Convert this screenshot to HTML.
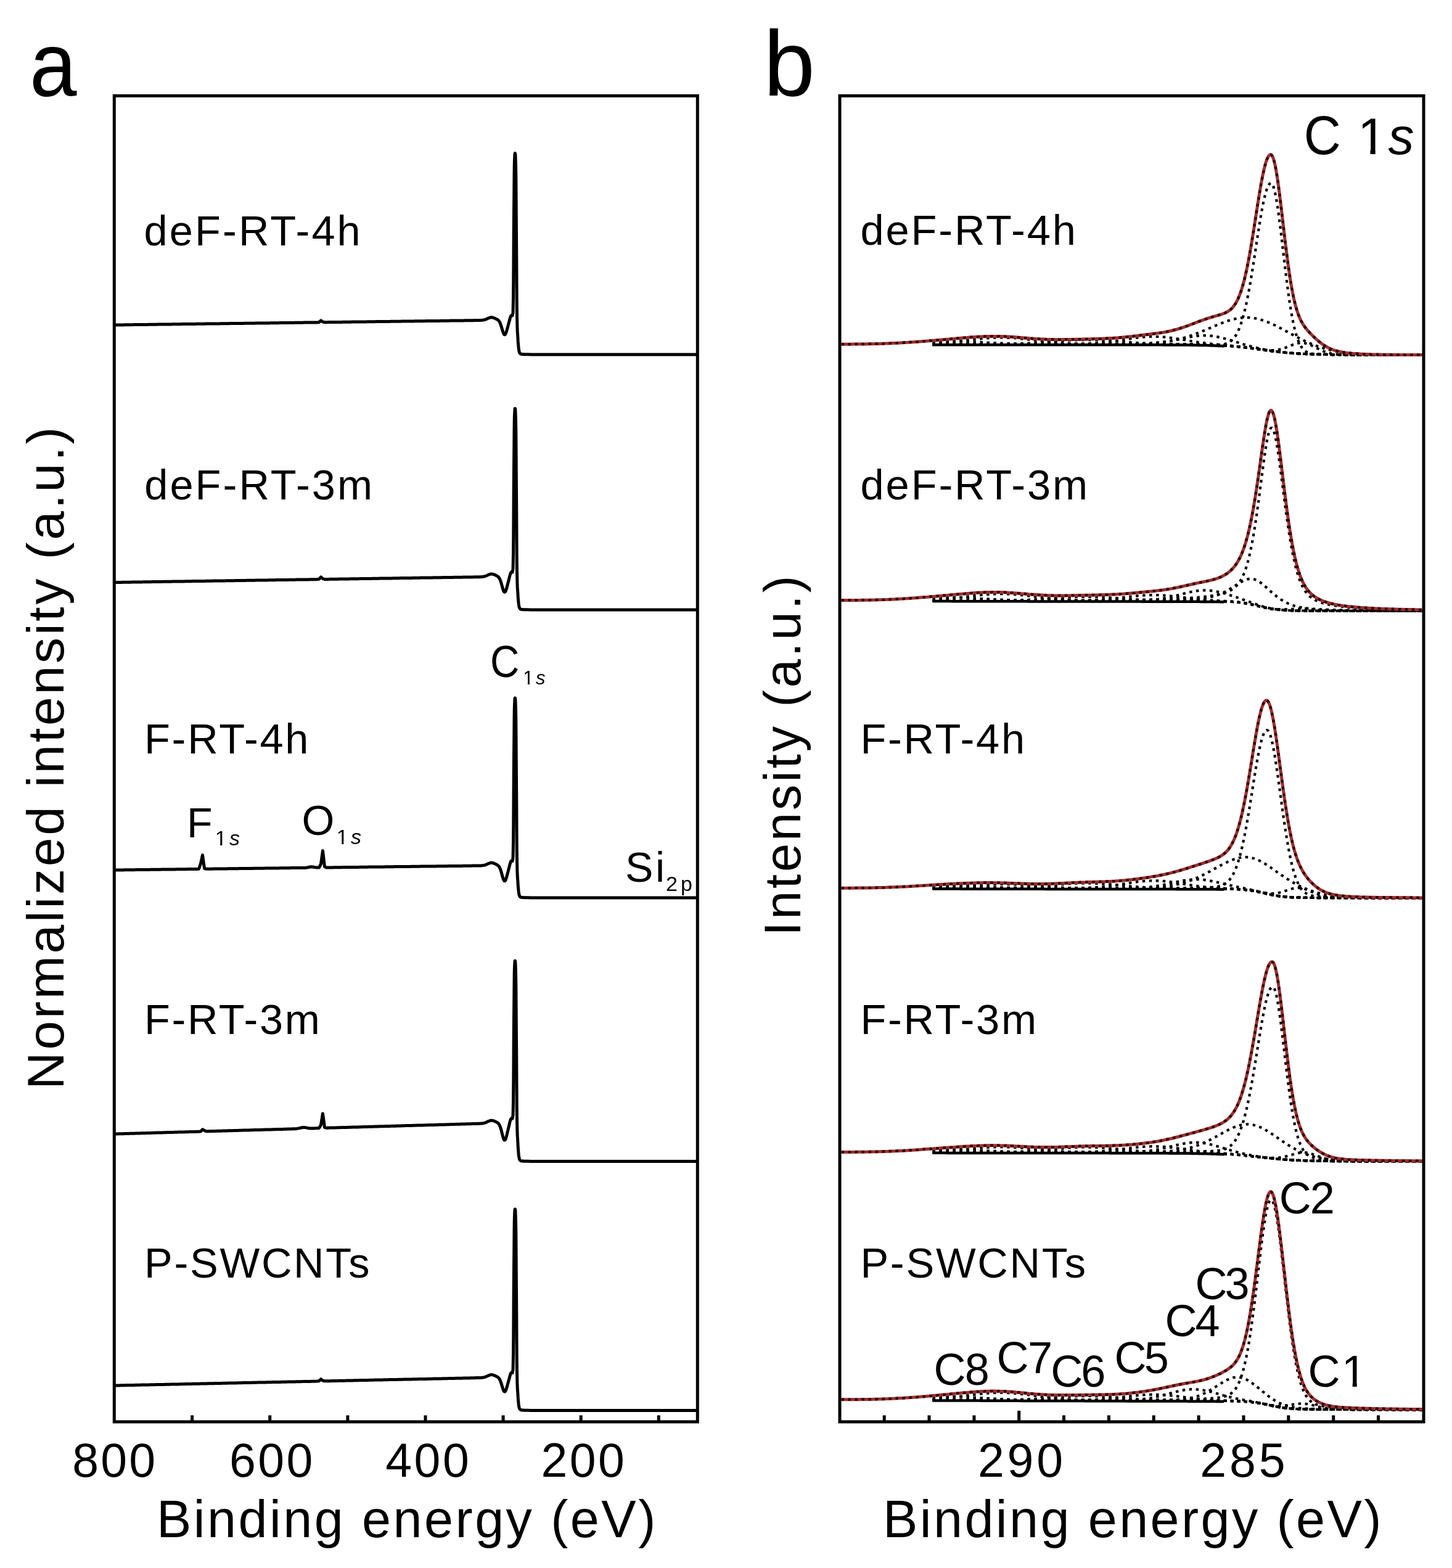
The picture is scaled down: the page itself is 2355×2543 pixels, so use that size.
<!DOCTYPE html>
<html><head><meta charset="utf-8"><title>XPS spectra</title><style>html,body{margin:0;padding:0;background:#fff;overflow:hidden}svg{display:block}</style></head><body>
<svg width="2355" height="2543" viewBox="0 0 2355 2543">
<rect width="2355" height="2543" fill="#fff"/>
<rect x="185.3" y="155.4" width="946" height="2150.5" fill="none" stroke="#000" stroke-width="5"/>
<rect x="1362" y="155.4" width="947" height="2150.5" fill="none" stroke="#000" stroke-width="5"/>
<g stroke="#000" stroke-width="5">
<line x1="311.6" y1="2305.9" x2="311.6" y2="2295.4"/>
<line x1="437.7" y1="2305.9" x2="437.7" y2="2295.4"/>
<line x1="563.9" y1="2305.9" x2="563.9" y2="2295.4"/>
<line x1="690" y1="2305.9" x2="690" y2="2295.4"/>
<line x1="816.1" y1="2305.9" x2="816.1" y2="2295.4"/>
<line x1="942.2" y1="2305.9" x2="942.2" y2="2295.4"/>
<line x1="1068.3" y1="2305.9" x2="1068.3" y2="2295.4"/>
<line x1="1434.2" y1="2305.9" x2="1434.2" y2="2295.4"/>
<line x1="1507" y1="2305.9" x2="1507" y2="2295.4"/>
<line x1="1579.9" y1="2305.9" x2="1579.9" y2="2295.4"/>
<line x1="1652.7" y1="2305.9" x2="1652.7" y2="2287.9"/>
<line x1="1725.5" y1="2305.9" x2="1725.5" y2="2295.4"/>
<line x1="1798.4" y1="2305.9" x2="1798.4" y2="2295.4"/>
<line x1="1871.2" y1="2305.9" x2="1871.2" y2="2295.4"/>
<line x1="1944.1" y1="2305.9" x2="1944.1" y2="2295.4"/>
<line x1="2017" y1="2305.9" x2="2017" y2="2295.4"/>
<line x1="2089.8" y1="2305.9" x2="2089.8" y2="2295.4"/>
<line x1="2162.7" y1="2305.9" x2="2162.7" y2="2295.4"/>
<line x1="2235.5" y1="2305.9" x2="2235.5" y2="2295.4"/>
</g>
<g fill="none" stroke="#000" stroke-width="5" stroke-linejoin="round" stroke-linecap="round">
<polyline points="187.5,527 190.5,527 193.5,526.9 196.5,526.9 199.5,526.9 202.5,526.8 205.5,526.8 208.5,526.7 211.5,526.7 214.5,526.7 217.5,526.6 220.5,526.6 223.5,526.6 226.5,526.5 229.5,526.5 232.5,526.4 235.5,526.4 238.5,526.4 241.5,526.3 244.5,526.3 247.5,526.2 250.5,526.2 253.5,526.2 256.5,526.1 259.5,526.1 262.5,526.1 265.5,526 268.5,526 271.5,525.9 274.5,525.9 277.5,525.9 280.5,525.8 283.5,525.8 286.5,525.8 289.5,525.7 292.5,525.7 295.5,525.6 298.5,525.6 301.5,525.6 304.5,525.5 307.5,525.5 310.5,525.4 313.5,525.4 316.5,525.4 319.5,525.3 322.5,525.3 325.5,525.3 328.5,525.2 331.5,525.2 334.5,525.1 337.5,525.1 340.5,525.1 343.5,525 346.5,525 349.5,525 352.5,524.9 355.5,524.9 358.5,524.8 361.5,524.8 364.5,524.8 367.5,524.7 370.5,524.7 373.5,524.6 376.5,524.6 379.5,524.6 382.5,524.5 385.5,524.5 388.5,524.5 391.5,524.4 394.5,524.4 397.5,524.3 400.5,524.3 403.5,524.3 406.5,524.2 409.5,524.2 412.5,524.2 415.5,524.1 418.5,524.1 421.5,524 424.5,524 427.5,524 430.5,523.9 433.5,523.9 436.5,523.9 439.5,523.8 442.5,523.8 445.5,523.7 448.5,523.7 451.5,523.7 454.5,523.6 457.5,523.6 460.5,523.5 463.5,523.5 466.5,523.5 469.5,523.4 472.5,523.4 475.5,523.4 478.5,523.3 481.5,523.3 484.5,523.2 487.5,523.2 490.5,523.2 493.5,523.1 496.5,523.1 499.5,523.1 502.5,523 505.5,523 508.5,522.9 511.5,522.9 514.5,522.9 517.5,522.6 520.5,519.9 523.5,522 526.5,522.7 529.5,522.7 532.5,522.6 535.5,522.6 538.5,522.6 541.5,522.5 544.5,522.5 547.5,522.4 550.5,522.4 553.5,522.4 556.5,522.3 559.5,522.3 562.5,522.3 565.5,522.2 568.5,522.2 571.5,522.1 574.5,522.1 577.5,522.1 580.5,522 583.5,522 586.5,522 589.5,521.9 592.5,521.9 595.5,521.8 598.5,521.8 601.5,521.8 604.5,521.7 607.5,521.7 610.5,521.6 613.5,521.6 616.5,521.6 619.5,521.5 622.5,521.5 625.5,521.5 628.5,521.4 631.5,521.4 634.5,521.3 637.5,521.3 640.5,521.3 643.5,521.2 646.5,521.2 649.5,521.2 652.5,521.1 655.5,521.1 658.5,521 661.5,521 664.5,521 667.5,520.9 670.5,520.9 673.5,520.8 676.5,520.8 679.5,520.8 682.5,520.7 685.5,520.7 688.5,520.7 691.5,520.6 694.5,520.6 697.5,520.5 700.5,520.5 703.5,520.5 706.5,520.4 709.5,520.4 712.5,520.4 715.5,520.3 718.5,520.3 721.5,520.2 724.5,520.2 727.5,520.2 730.5,520.1 733.5,520.1 736.5,520 739.5,520 742.5,520 745.5,519.9 748.5,519.9 751.5,519.9 754.5,519.8 757.5,519.8 760.5,519.7 763.5,519.7 766.5,519.7 769.5,519.6 772.5,519.6 775.5,519.5 778.5,519.5 780,519.4 781,519.3 782,519.3 783,519.1 784,519 785,518.8 786,518.6 787,518.3 788,517.9 789,517.5 790,517.1 791,516.6 792,516.1 793,515.7 794,515.3 795,515 796,514.8 797,514.7 798,514.8 799,515 800,515.2 801,515.6 802,516 803,516.4 804,516.9 805,517.4 806,517.9 807,518.5 808,519.3 809,520.3 810,521.7 811,523.6 812,526.1 813,529.1 814,532.5 815,535.9 816,539.1 817,541.5 818,542.8 819,542.8 820,541.4 821,538.9 822,535.7 823,532.1 824,528.4 825,524.7 826,521 827,517.1 828,513.8 829,511.8 830,511.5 831,512 832,507.6 832.2,499.1 832.5,482.3 832.8,455.5 833,420.1 833.2,380.6 833.5,342.6 833.8,310.5 834,286.3 834.2,269.7 834.5,259.4 834.8,253.3 835,250.1 835.2,248.6 835.5,248.7 835.8,250.1 836,253.3 836.2,259.1 836.5,268.9 836.8,284.7 837,308.2 837.2,339.8 837.5,378.2 837.8,419.4 838,458 838.2,489.2 838.5,510.8 838.8,524 839,531.8 839.2,537.2 839.5,541.7 839.8,546 840,550.1 840.2,553.9 840.5,557.4 840.8,560.5 841,563.1 841.2,565.4 841.5,567.2 841.8,568.7 842,569.8 842.2,570.8 842.5,571.5 842.8,572.1 843,572.6 843.2,573 843.5,573.3 843.8,573.5 844,573.7 844.2,573.8 844.5,573.9 844.8,574 845,574.1 845.2,574.2 845.5,574.3 845.8,574.3 846,574.4 846.2,574.4 846.5,574.4 846.8,574.5 847,574.5 847.2,574.5 847.5,574.5 847.8,574.5 848,574.6 848.2,574.6 848.5,574.6 848.8,574.6 849,574.6 849.2,574.6 849.5,574.7 849.8,574.7 850,574.7 856,574.8 862,574.9 868,574.9 874,575 880,575 886,575 892,575 898,575 904,575 910,575 916,575 922,575 928,575 934,575 940,575 946,575 952,575 958,575 964,575 970,575 976,575 982,575 988,575 994,575 1000,575 1006,575 1012,575 1018,575 1024,575 1030,575 1036,575 1042,575 1048,575 1054,575 1060,575 1066,575 1072,575 1078,575 1084,575 1090,575 1096,575 1102,575 1108,575 1114,575 1120,575 1126,575 1129,575"/>
<polyline points="187.5,944.5 190.5,944.5 193.5,944.4 196.5,944.4 199.5,944.3 202.5,944.3 205.5,944.2 208.5,944.2 211.5,944.2 214.5,944.1 217.5,944.1 220.5,944 223.5,944 226.5,943.9 229.5,943.9 232.5,943.8 235.5,943.8 238.5,943.7 241.5,943.7 244.5,943.7 247.5,943.6 250.5,943.6 253.5,943.5 256.5,943.5 259.5,943.4 262.5,943.4 265.5,943.3 268.5,943.3 271.5,943.3 274.5,943.2 277.5,943.2 280.5,943.1 283.5,943.1 286.5,943 289.5,943 292.5,942.9 295.5,942.9 298.5,942.9 301.5,942.8 304.5,942.8 307.5,942.7 310.5,942.7 313.5,942.6 316.5,942.6 319.5,942.5 322.5,942.5 325.5,942.5 328.5,942.4 331.5,942.4 334.5,942.3 337.5,942.3 340.5,942.2 343.5,942.2 346.5,942.1 349.5,942.1 352.5,942.1 355.5,942 358.5,942 361.5,941.9 364.5,941.9 367.5,941.8 370.5,941.8 373.5,941.7 376.5,941.7 379.5,941.7 382.5,941.6 385.5,941.6 388.5,941.5 391.5,941.5 394.5,941.4 397.5,941.4 400.5,941.3 403.5,941.3 406.5,941.3 409.5,941.2 412.5,941.2 415.5,941.1 418.5,941.1 421.5,941 424.5,941 427.5,940.9 430.5,940.9 433.5,940.9 436.5,940.8 439.5,940.8 442.5,940.7 445.5,940.7 448.5,940.6 451.5,940.6 454.5,940.5 457.5,940.5 460.5,940.4 463.5,940.4 466.5,940.4 469.5,940.3 472.5,940.3 475.5,940.2 478.5,940.2 481.5,940.1 484.5,940.1 487.5,940 490.5,940 493.5,940 496.5,939.9 499.5,939.9 502.5,939.8 505.5,939.8 508.5,939.7 511.5,939.7 514.5,939.6 517.5,939.3 520.5,935.8 523.5,938.5 526.5,939.5 529.5,939.4 532.5,939.4 535.5,939.3 538.5,939.3 541.5,939.2 544.5,939.2 547.5,939.2 550.5,939.1 553.5,939.1 556.5,939 559.5,939 562.5,938.9 565.5,938.9 568.5,938.8 571.5,938.8 574.5,938.8 577.5,938.7 580.5,938.7 583.5,938.6 586.5,938.6 589.5,938.5 592.5,938.5 595.5,938.4 598.5,938.4 601.5,938.4 604.5,938.3 607.5,938.3 610.5,938.2 613.5,938.2 616.5,938.1 619.5,938.1 622.5,938 625.5,938 628.5,938 631.5,937.9 634.5,937.9 637.5,937.8 640.5,937.8 643.5,937.7 646.5,937.7 649.5,937.6 652.5,937.6 655.5,937.5 658.5,937.5 661.5,937.5 664.5,937.4 667.5,937.4 670.5,937.3 673.5,937.3 676.5,937.2 679.5,937.2 682.5,937.1 685.5,937.1 688.5,937.1 691.5,937 694.5,937 697.5,936.9 700.5,936.9 703.5,936.8 706.5,936.8 709.5,936.7 712.5,936.7 715.5,936.7 718.5,936.6 721.5,936.6 724.5,936.5 727.5,936.5 730.5,936.4 733.5,936.4 736.5,936.3 739.5,936.3 742.5,936.2 745.5,936.2 748.5,936.2 751.5,936.1 754.5,936.1 757.5,936 760.5,936 763.5,935.9 766.5,935.9 769.5,935.8 772.5,935.8 775.5,935.7 778.5,935.7 780,935.6 781,935.5 782,935.4 783,935.3 784,935.2 785,935 786,934.7 787,934.4 788,934.1 789,933.7 790,933.2 791,932.8 792,932.3 793,931.9 794,931.5 795,931.2 796,931 797,930.9 798,930.9 799,931.1 800,931.4 801,931.7 802,932.1 803,932.6 804,933.1 805,933.5 806,934.1 807,934.7 808,935.5 809,936.5 810,938 811,940 812,942.6 813,945.8 814,949.4 815,953.1 816,956.4 817,959 818,960.3 819,960.3 820,958.8 821,956.2 822,952.8 823,949 824,945.1 825,941.3 826,937.3 827,933.4 828,930 829,928 830,927.6 831,928.1 832,923.7 832.2,915.1 832.5,898.1 832.8,871.1 833,835.4 833.2,795.6 833.5,757.4 833.8,725 834,700.6 834.2,683.9 834.5,673.4 834.8,667.3 835,664.1 835.2,662.6 835.5,662.6 835.8,664.1 836,667.3 836.2,673.1 836.5,683 836.8,698.9 837,722.5 837.2,754.3 837.5,792.9 837.8,834.4 838,873.2 838.2,904.6 838.5,926.2 838.8,939.4 839,947.1 839.2,952.4 839.5,956.7 839.8,960.9 840,964.9 840.2,968.6 840.5,972 840.8,974.9 841,977.5 841.2,979.6 841.5,981.4 841.8,982.8 842,984 842.2,984.9 842.5,985.6 842.8,986.2 843,986.6 843.2,987 843.5,987.3 843.8,987.5 844,987.7 844.2,987.8 844.5,987.9 844.8,988 845,988.1 845.2,988.2 845.5,988.3 845.8,988.3 846,988.3 846.2,988.4 846.5,988.4 846.8,988.4 847,988.5 847.2,988.5 847.5,988.5 847.8,988.5 848,988.6 848.2,988.6 848.5,988.6 848.8,988.6 849,988.6 849.2,988.6 849.5,988.7 849.8,988.7 850,988.7 856,988.8 862,988.9 868,988.9 874,989 880,989 886,989 892,989 898,989 904,989 910,989 916,989 922,989 928,989 934,989 940,989 946,989 952,989 958,989 964,989 970,989 976,989 982,989 988,989 994,989 1000,989 1006,989 1012,989 1018,989 1024,989 1030,989 1036,989 1042,989 1048,989 1054,989 1060,989 1066,989 1072,989 1078,989 1084,989 1090,989 1096,989 1102,989 1108,989 1114,989 1120,989 1126,989 1129,989"/>
<polyline points="187.5,1411 190.5,1411 193.5,1410.9 196.5,1410.9 199.5,1410.9 202.5,1410.8 205.5,1410.8 208.5,1410.8 211.5,1410.7 214.5,1410.7 217.5,1410.7 220.5,1410.6 223.5,1410.6 226.5,1410.5 229.5,1410.5 232.5,1410.5 235.5,1410.4 238.5,1410.4 241.5,1410.4 244.5,1410.3 247.5,1410.3 250.5,1410.3 253.5,1410.2 256.5,1410.2 259.5,1410.2 262.5,1410.1 265.5,1410.1 268.5,1410 271.5,1410 274.5,1410 277.5,1409.9 280.5,1409.9 283.5,1409.9 286.5,1409.8 289.5,1409.8 292.5,1409.8 295.5,1409.7 298.5,1409.7 301.5,1409.7 304.5,1409.6 307.5,1409.6 310.5,1409.6 313.5,1409.5 316.5,1409.5 319.5,1409.4 322.5,1409.3 325.5,1400.5 328.5,1386.8 331.5,1408.3 334.5,1409.3 337.5,1409.2 340.5,1409.2 343.5,1409.2 346.5,1409.1 349.5,1409.1 352.5,1409.1 355.5,1409 358.5,1409 361.5,1408.9 364.5,1408.9 367.5,1408.9 370.5,1408.8 373.5,1408.8 376.5,1408.8 379.5,1408.7 382.5,1408.7 385.5,1408.7 388.5,1408.6 391.5,1408.6 394.5,1408.6 397.5,1408.5 400.5,1408.5 403.5,1408.5 406.5,1408.4 409.5,1408.4 412.5,1408.3 415.5,1408.3 418.5,1408.3 421.5,1408.2 424.5,1408.2 427.5,1408.2 430.5,1408.1 433.5,1408.1 436.5,1408.1 439.5,1408 442.5,1408 445.5,1408 448.5,1407.9 451.5,1407.9 454.5,1407.8 457.5,1407.8 460.5,1407.8 463.5,1407.7 466.5,1407.7 469.5,1407.7 472.5,1407.6 475.5,1407.6 478.5,1407.6 481.5,1407.5 484.5,1407.5 487.5,1407.5 490.5,1407.4 493.5,1407.4 496.5,1407.2 499.5,1406.7 502.5,1406 505.5,1405.8 508.5,1406.2 511.5,1406.8 514.5,1407 517.5,1407.1 520.5,1401.2 523.5,1379.8 526.5,1405.7 529.5,1407 532.5,1406.9 535.5,1406.9 538.5,1406.9 541.5,1406.8 544.5,1406.8 547.5,1406.7 550.5,1406.7 553.5,1406.7 556.5,1406.6 559.5,1406.6 562.5,1406.6 565.5,1406.5 568.5,1406.5 571.5,1406.5 574.5,1406.4 577.5,1406.4 580.5,1406.4 583.5,1406.3 586.5,1406.3 589.5,1406.3 592.5,1406.2 595.5,1406.2 598.5,1406.1 601.5,1406.1 604.5,1406.1 607.5,1406 610.5,1406 613.5,1406 616.5,1405.9 619.5,1405.9 622.5,1405.9 625.5,1405.8 628.5,1405.8 631.5,1405.8 634.5,1405.7 637.5,1405.7 640.5,1405.6 643.5,1405.6 646.5,1405.6 649.5,1405.5 652.5,1405.5 655.5,1405.5 658.5,1405.4 661.5,1405.4 664.5,1405.4 667.5,1405.3 670.5,1405.3 673.5,1405.3 676.5,1405.2 679.5,1405.2 682.5,1405.1 685.5,1405.1 688.5,1405.1 691.5,1405 694.5,1405 697.5,1405 700.5,1404.9 703.5,1404.9 706.5,1404.9 709.5,1404.8 712.5,1404.8 715.5,1404.8 718.5,1404.7 721.5,1404.7 724.5,1404.7 727.5,1404.6 730.5,1404.6 733.5,1404.5 736.5,1404.5 739.5,1404.5 742.5,1404.4 745.5,1404.4 748.5,1404.4 751.5,1404.3 754.5,1404.3 757.5,1404.3 760.5,1404.2 763.5,1404.2 766.5,1404.1 769.5,1404.1 772.5,1404.1 775.5,1404 778.5,1404 780,1403.9 781,1403.8 782,1403.8 783,1403.6 784,1403.5 785,1403.3 786,1403.1 787,1402.8 788,1402.4 789,1402 790,1401.6 791,1401.1 792,1400.6 793,1400.2 794,1399.8 795,1399.5 796,1399.3 797,1399.3 798,1399.3 799,1399.5 800,1399.7 801,1400.1 802,1400.5 803,1401 804,1401.4 805,1401.9 806,1402.5 807,1403.1 808,1403.9 809,1404.9 810,1406.4 811,1408.4 812,1411 813,1414.2 814,1417.8 815,1421.5 816,1424.8 817,1427.4 818,1428.8 819,1428.7 820,1427.3 821,1424.7 822,1421.2 823,1417.4 824,1413.6 825,1409.7 826,1405.8 827,1401.9 828,1398.5 829,1396.4 830,1396.1 831,1396.6 832,1392.1 832.2,1383.6 832.5,1366.7 832.8,1339.8 833,1304.2 833.2,1264.6 833.5,1226.5 833.8,1194.2 834,1169.9 834.2,1153.3 834.5,1142.9 834.8,1136.8 835,1133.5 835.2,1132.1 835.5,1132.1 835.8,1133.5 836,1136.7 836.2,1142.5 836.5,1152.4 836.8,1168.2 837,1191.7 837.2,1223.4 837.5,1261.8 837.8,1303.1 838,1341.7 838.2,1372.9 838.5,1394.5 838.8,1407.5 839,1415.1 839.2,1420.3 839.5,1424.5 839.8,1428.6 840,1432.5 840.2,1436.1 840.5,1439.4 840.8,1442.3 841,1444.8 841.2,1446.8 841.5,1448.6 841.8,1449.9 842,1451.1 842.2,1452 842.5,1452.7 842.8,1453.2 843,1453.7 843.2,1454 843.5,1454.3 843.8,1454.5 844,1454.7 844.2,1454.8 844.5,1455 844.8,1455.1 845,1455.1 845.2,1455.2 845.5,1455.3 845.8,1455.3 846,1455.4 846.2,1455.4 846.5,1455.4 846.8,1455.5 847,1455.5 847.2,1455.5 847.5,1455.5 847.8,1455.5 848,1455.6 848.2,1455.6 848.5,1455.6 848.8,1455.6 849,1455.6 849.2,1455.6 849.5,1455.7 849.8,1455.7 850,1455.7 856,1455.8 862,1455.9 868,1455.9 874,1456 880,1456 886,1456 892,1456 898,1456 904,1456 910,1456 916,1456 922,1456 928,1456 934,1456 940,1456 946,1456 952,1456 958,1456 964,1456 970,1456 976,1456 982,1456 988,1456 994,1456 1000,1456 1006,1456 1012,1456 1018,1456 1024,1456 1030,1456 1036,1456 1042,1456 1048,1456 1054,1456 1060,1456 1066,1456 1072,1456 1078,1456 1084,1456 1090,1456 1096,1456 1102,1456 1108,1456 1114,1456 1120,1456 1126,1456 1129,1456"/>
<polyline points="187.5,1839 190.5,1838.9 193.5,1838.8 196.5,1838.8 199.5,1838.7 202.5,1838.6 205.5,1838.5 208.5,1838.4 211.5,1838.3 214.5,1838.2 217.5,1838.2 220.5,1838.1 223.5,1838 226.5,1837.9 229.5,1837.8 232.5,1837.7 235.5,1837.7 238.5,1837.6 241.5,1837.5 244.5,1837.4 247.5,1837.3 250.5,1837.2 253.5,1837.1 256.5,1837.1 259.5,1837 262.5,1836.9 265.5,1836.8 268.5,1836.7 271.5,1836.6 274.5,1836.5 277.5,1836.5 280.5,1836.4 283.5,1836.3 286.5,1836.2 289.5,1836.1 292.5,1836 295.5,1835.9 298.5,1835.9 301.5,1835.8 304.5,1835.7 307.5,1835.6 310.5,1835.5 313.5,1835.4 316.5,1835.4 319.5,1835.3 322.5,1835.2 325.5,1835 328.5,1831.7 331.5,1833.4 334.5,1834.8 337.5,1834.8 340.5,1834.7 343.5,1834.6 346.5,1834.5 349.5,1834.4 352.5,1834.3 355.5,1834.2 358.5,1834.2 361.5,1834.1 364.5,1834 367.5,1833.9 370.5,1833.8 373.5,1833.7 376.5,1833.7 379.5,1833.6 382.5,1833.5 385.5,1833.4 388.5,1833.3 391.5,1833.2 394.5,1833.1 397.5,1833.1 400.5,1833 403.5,1832.9 406.5,1832.8 409.5,1832.7 412.5,1832.6 415.5,1832.5 418.5,1832.5 421.5,1832.4 424.5,1832.3 427.5,1832.2 430.5,1832.1 433.5,1832 436.5,1831.9 439.5,1831.9 442.5,1831.8 445.5,1831.7 448.5,1831.6 451.5,1831.5 454.5,1831.4 457.5,1831.4 460.5,1831.3 463.5,1831.2 466.5,1831.1 469.5,1831 472.5,1830.9 475.5,1830.8 478.5,1830.7 481.5,1830.4 484.5,1829.9 487.5,1829.2 490.5,1828.5 493.5,1828.4 496.5,1828.9 499.5,1829.5 502.5,1829.9 505.5,1829.9 508.5,1829.9 511.5,1829.8 514.5,1829.7 517.5,1829.6 520.5,1824.5 523.5,1806 526.5,1828.3 529.5,1829.3 532.5,1829.2 535.5,1829.1 538.5,1829.1 541.5,1829 544.5,1828.9 547.5,1828.8 550.5,1828.7 553.5,1828.6 556.5,1828.5 559.5,1828.5 562.5,1828.4 565.5,1828.3 568.5,1828.2 571.5,1828.1 574.5,1828 577.5,1827.9 580.5,1827.9 583.5,1827.8 586.5,1827.7 589.5,1827.6 592.5,1827.5 595.5,1827.4 598.5,1827.3 601.5,1827.3 604.5,1827.2 607.5,1827.1 610.5,1827 613.5,1826.9 616.5,1826.8 619.5,1826.8 622.5,1826.7 625.5,1826.6 628.5,1826.5 631.5,1826.4 634.5,1826.3 637.5,1826.2 640.5,1826.2 643.5,1826.1 646.5,1826 649.5,1825.9 652.5,1825.8 655.5,1825.7 658.5,1825.6 661.5,1825.6 664.5,1825.5 667.5,1825.4 670.5,1825.3 673.5,1825.2 676.5,1825.1 679.5,1825 682.5,1825 685.5,1824.9 688.5,1824.8 691.5,1824.7 694.5,1824.6 697.5,1824.5 700.5,1824.5 703.5,1824.4 706.5,1824.3 709.5,1824.2 712.5,1824.1 715.5,1824 718.5,1823.9 721.5,1823.9 724.5,1823.8 727.5,1823.7 730.5,1823.6 733.5,1823.5 736.5,1823.4 739.5,1823.3 742.5,1823.3 745.5,1823.2 748.5,1823.1 751.5,1823 754.5,1822.9 757.5,1822.8 760.5,1822.7 763.5,1822.7 766.5,1822.6 769.5,1822.5 772.5,1822.4 775.5,1822.3 778.5,1822.2 780,1822.1 781,1822 782,1821.9 783,1821.8 784,1821.6 785,1821.4 786,1821.2 787,1820.9 788,1820.5 789,1820.1 790,1819.6 791,1819.1 792,1818.6 793,1818.2 794,1817.8 795,1817.5 796,1817.3 797,1817.2 798,1817.2 799,1817.4 800,1817.6 801,1817.9 802,1818.3 803,1818.8 804,1819.2 805,1819.7 806,1820.3 807,1820.9 808,1821.7 809,1822.9 810,1824.5 811,1826.7 812,1829.5 813,1833 814,1837 815,1841 816,1844.7 817,1847.5 818,1849.1 819,1849 820,1847.4 821,1844.5 822,1840.7 823,1836.5 824,1832.2 825,1828 826,1823.8 827,1819.7 828,1816.1 829,1814 830,1813.6 831,1814.1 832,1809.8 832.2,1801.6 832.5,1785.2 832.8,1759.1 833,1724.7 833.2,1686.4 833.5,1649.5 833.8,1618.3 834,1594.7 834.2,1578.6 834.5,1568.6 834.8,1562.7 835,1559.5 835.2,1558.2 835.5,1558.2 835.8,1559.6 836,1562.8 836.2,1568.4 836.5,1578.1 836.8,1593.5 837,1616.4 837.2,1647.2 837.5,1684.7 837.8,1724.9 838,1762.7 838.2,1793.3 838.5,1814.7 838.8,1828 839,1836 839.2,1841.8 839.5,1846.7 839.8,1851.5 840,1856 840.2,1860.3 840.5,1864.2 840.8,1867.6 841,1870.5 841.2,1873 841.5,1875 841.8,1876.6 842,1877.9 842.2,1879 842.5,1879.8 842.8,1880.5 843,1881 843.2,1881.4 843.5,1881.7 843.8,1881.9 844,1882.1 844.2,1882.3 844.5,1882.4 844.8,1882.5 845,1882.6 845.2,1882.7 845.5,1882.8 845.8,1882.8 846,1882.9 846.2,1882.9 846.5,1882.9 846.8,1883 847,1883 847.2,1883 847.5,1883 847.8,1883.1 848,1883.1 848.2,1883.1 848.5,1883.1 848.8,1883.1 849,1883.1 849.2,1883.2 849.5,1883.2 849.8,1883.2 850,1883.2 856,1883.3 862,1883.4 868,1883.4 874,1883.5 880,1883.5 886,1883.5 892,1883.5 898,1883.5 904,1883.5 910,1883.5 916,1883.5 922,1883.5 928,1883.5 934,1883.5 940,1883.5 946,1883.5 952,1883.5 958,1883.5 964,1883.5 970,1883.5 976,1883.5 982,1883.5 988,1883.5 994,1883.5 1000,1883.5 1006,1883.5 1012,1883.5 1018,1883.5 1024,1883.5 1030,1883.5 1036,1883.5 1042,1883.5 1048,1883.5 1054,1883.5 1060,1883.5 1066,1883.5 1072,1883.5 1078,1883.5 1084,1883.5 1090,1883.5 1096,1883.5 1102,1883.5 1108,1883.5 1114,1883.5 1120,1883.5 1126,1883.5 1129,1883.5"/>
<polyline points="187.5,2247 190.5,2246.9 193.5,2246.9 196.5,2246.8 199.5,2246.8 202.5,2246.7 205.5,2246.6 208.5,2246.6 211.5,2246.5 214.5,2246.4 217.5,2246.4 220.5,2246.3 223.5,2246.3 226.5,2246.2 229.5,2246.1 232.5,2246.1 235.5,2246 238.5,2245.9 241.5,2245.9 244.5,2245.8 247.5,2245.7 250.5,2245.7 253.5,2245.6 256.5,2245.6 259.5,2245.5 262.5,2245.4 265.5,2245.4 268.5,2245.3 271.5,2245.2 274.5,2245.2 277.5,2245.1 280.5,2245 283.5,2245 286.5,2244.9 289.5,2244.9 292.5,2244.8 295.5,2244.7 298.5,2244.7 301.5,2244.6 304.5,2244.5 307.5,2244.5 310.5,2244.4 313.5,2244.3 316.5,2244.3 319.5,2244.2 322.5,2244.2 325.5,2244.1 328.5,2244 331.5,2244 334.5,2243.9 337.5,2243.8 340.5,2243.8 343.5,2243.7 346.5,2243.7 349.5,2243.6 352.5,2243.5 355.5,2243.5 358.5,2243.4 361.5,2243.3 364.5,2243.3 367.5,2243.2 370.5,2243.1 373.5,2243.1 376.5,2243 379.5,2243 382.5,2242.9 385.5,2242.8 388.5,2242.8 391.5,2242.7 394.5,2242.6 397.5,2242.6 400.5,2242.5 403.5,2242.4 406.5,2242.4 409.5,2242.3 412.5,2242.3 415.5,2242.2 418.5,2242.1 421.5,2242.1 424.5,2242 427.5,2241.9 430.5,2241.9 433.5,2241.8 436.5,2241.8 439.5,2241.7 442.5,2241.6 445.5,2241.6 448.5,2241.5 451.5,2241.4 454.5,2241.4 457.5,2241.3 460.5,2241.2 463.5,2241.2 466.5,2241.1 469.5,2241.1 472.5,2241 475.5,2240.9 478.5,2240.9 481.5,2240.8 484.5,2240.7 487.5,2240.7 490.5,2240.6 493.5,2240.5 496.5,2240.5 499.5,2240.4 502.5,2240.4 505.5,2240.3 508.5,2240.2 511.5,2240.2 514.5,2240.1 517.5,2239.8 520.5,2236.7 523.5,2239 526.5,2239.8 529.5,2239.8 532.5,2239.7 535.5,2239.7 538.5,2239.6 541.5,2239.5 544.5,2239.5 547.5,2239.4 550.5,2239.3 553.5,2239.3 556.5,2239.2 559.5,2239.2 562.5,2239.1 565.5,2239 568.5,2239 571.5,2238.9 574.5,2238.8 577.5,2238.8 580.5,2238.7 583.5,2238.6 586.5,2238.6 589.5,2238.5 592.5,2238.5 595.5,2238.4 598.5,2238.3 601.5,2238.3 604.5,2238.2 607.5,2238.1 610.5,2238.1 613.5,2238 616.5,2238 619.5,2237.9 622.5,2237.8 625.5,2237.8 628.5,2237.7 631.5,2237.6 634.5,2237.6 637.5,2237.5 640.5,2237.4 643.5,2237.4 646.5,2237.3 649.5,2237.3 652.5,2237.2 655.5,2237.1 658.5,2237.1 661.5,2237 664.5,2236.9 667.5,2236.9 670.5,2236.8 673.5,2236.7 676.5,2236.7 679.5,2236.6 682.5,2236.6 685.5,2236.5 688.5,2236.4 691.5,2236.4 694.5,2236.3 697.5,2236.2 700.5,2236.2 703.5,2236.1 706.5,2236 709.5,2236 712.5,2235.9 715.5,2235.9 718.5,2235.8 721.5,2235.7 724.5,2235.7 727.5,2235.6 730.5,2235.5 733.5,2235.5 736.5,2235.4 739.5,2235.3 742.5,2235.3 745.5,2235.2 748.5,2235.2 751.5,2235.1 754.5,2235 757.5,2235 760.5,2234.9 763.5,2234.8 766.5,2234.8 769.5,2234.7 772.5,2234.6 775.5,2234.6 778.5,2234.5 780,2234.4 781,2234.3 782,2234.2 783,2234.1 784,2234 785,2233.8 786,2233.5 787,2233.2 788,2232.8 789,2232.4 790,2232 791,2231.5 792,2231 793,2230.6 794,2230.2 795,2229.9 796,2229.7 797,2229.6 798,2229.6 799,2229.8 800,2230.1 801,2230.4 802,2230.8 803,2231.2 804,2231.7 805,2232.2 806,2232.7 807,2233.3 808,2234 809,2235 810,2236.4 811,2238.2 812,2240.6 813,2243.6 814,2246.9 815,2250.3 816,2253.3 817,2255.7 818,2257 819,2256.9 820,2255.6 821,2253.1 822,2249.9 823,2246.4 824,2242.8 825,2239.2 826,2235.5 827,2231.7 828,2228.4 829,2226.4 830,2226.1 831,2226.6 832,2222.1 832.2,2213.6 832.5,2196.6 832.8,2169.5 833,2133.9 833.2,2094.1 833.5,2055.8 833.8,2023.5 834,1999 834.2,1982.4 834.5,1971.9 834.8,1965.8 835,1962.6 835.2,1961.1 835.5,1961.1 835.8,1962.6 836,1965.8 836.2,1971.6 836.5,1981.5 836.8,1997.4 837,2021 837.2,2052.8 837.5,2091.4 837.8,2132.9 838,2171.7 838.2,2203 838.5,2224.7 838.8,2237.9 839,2245.6 839.2,2250.8 839.5,2255.2 839.8,2259.4 840,2263.4 840.2,2267.1 840.5,2270.5 840.8,2273.4 841,2276 841.2,2278.1 841.5,2279.9 841.8,2281.3 842,2282.5 842.2,2283.4 842.5,2284.1 842.8,2284.7 843,2285.1 843.2,2285.5 843.5,2285.8 843.8,2286 844,2286.2 844.2,2286.3 844.5,2286.4 844.8,2286.5 845,2286.6 845.2,2286.7 845.5,2286.8 845.8,2286.8 846,2286.8 846.2,2286.9 846.5,2286.9 846.8,2286.9 847,2287 847.2,2287 847.5,2287 847.8,2287 848,2287.1 848.2,2287.1 848.5,2287.1 848.8,2287.1 849,2287.1 849.2,2287.1 849.5,2287.2 849.8,2287.2 850,2287.2 856,2287.3 862,2287.4 868,2287.4 874,2287.5 880,2287.5 886,2287.5 892,2287.5 898,2287.5 904,2287.5 910,2287.5 916,2287.5 922,2287.5 928,2287.5 934,2287.5 940,2287.5 946,2287.5 952,2287.5 958,2287.5 964,2287.5 970,2287.5 976,2287.5 982,2287.5 988,2287.5 994,2287.5 1000,2287.5 1006,2287.5 1012,2287.5 1018,2287.5 1024,2287.5 1030,2287.5 1036,2287.5 1042,2287.5 1048,2287.5 1054,2287.5 1060,2287.5 1066,2287.5 1072,2287.5 1078,2287.5 1084,2287.5 1090,2287.5 1096,2287.5 1102,2287.5 1108,2287.5 1114,2287.5 1120,2287.5 1126,2287.5 1129,2287.5"/>
</g>
<g fill="none" stroke="#000" stroke-width="4.2" stroke-dasharray="4.5 6.5">
<polyline points="1512.5,558.3 1516.5,558.3 1520.5,558.3 1524.5,558.3 1528.5,558.3 1532.5,558.3 1536.5,558.3 1540.5,558.3 1544.5,558.3 1548.5,558.3 1552.5,558.3 1556.5,558.3 1560.5,558.3 1564.5,558.3 1568.5,558.3 1572.5,558.3 1576.5,558.3 1580.5,558.3 1584.5,558.3 1588.5,558.3 1592.5,558.3 1596.5,558.3 1600.5,558.3 1604.5,558.3 1608.5,558.3 1612.5,558.3 1616.5,558.3 1620.5,558.3 1624.5,558.3 1628.5,558.3 1632.5,558.3 1636.5,558.3 1640.5,558.3 1644.5,558.3 1648.5,558.3 1652.5,558.3 1656.5,558.3 1660.5,558.3 1664.5,558.3 1668.5,558.3 1672.5,558.3 1676.5,558.3 1680.5,558.3 1684.5,558.3 1688.5,558.3 1692.5,558.3 1696.5,558.3 1700.5,558.3 1704.5,558.3 1708.5,558.3 1712.5,558.3 1716.5,558.3 1720.5,558.3 1724.5,558.3 1728.5,558.3 1732.5,558.3 1736.5,558.3 1740.5,558.3 1744.5,558.3 1748.5,558.3 1752.5,558.3 1756.5,558.3 1760.5,558.3 1764.5,558.3 1768.5,558.3 1772.5,558.3 1776.5,558.3 1780.5,558.3 1784.5,558.3 1788.5,558.3 1792.5,558.3 1796.5,558.3 1800.5,558.3 1804.5,558.3 1808.5,558.3 1812.5,558.3 1816.5,558.3 1820.5,558.3 1824.5,558.3 1828.5,558.3 1832.5,558.3 1836.5,558.3 1840.5,558.3 1844.5,558.3 1848.5,558.3 1852.5,558.3 1856.5,558.3 1860.5,558.3 1864.5,558.3 1868.5,558.3 1872.5,558.3 1876.5,558.3 1880.5,558.3 1884.5,558.3 1888.5,558.4 1892.5,558.4 1896.5,558.4 1900.5,558.4 1904.5,558.4 1908.5,558.4 1912.5,558.5 1916.5,558.5 1920.5,558.5 1924.5,558.6 1928.5,558.6 1932.5,558.7 1936.5,558.7 1940.5,558.8 1944.5,558.9 1948.5,558.9 1952.5,559 1956.5,559.1 1960,559.2 1961,559.3 1962,559.3 1963,559.3 1964,559.4 1965,559.4 1966,559.4 1967,559.5 1968,559.5 1969,559.5 1970,559.6 1971,559.6 1972,559.7 1973,559.7 1974,559.8 1975,559.8 1976,559.9 1977,559.9 1978,560 1979,560 1980,560.1 1981,560.1 1982,560.2 1983,560.2 1984,560.3 1985,560.3 1986,560.4 1987,560.5 1988,560.5 1989,560.6 1990,560.7 1991,560.7 1992,560.8 1993,560.9 1994,561 1995,561 1996,561.1 1997,561.2 1998,561.3 1999,561.4 2000,561.4 2001,561.5 2002,561.6 2003,561.7 2004,561.8 2005,561.9 2006,562 2007,562.1 2008,562.2 2009,562.3 2010,562.4 2011,562.5 2012,562.6 2013,562.7 2014,562.8 2015,562.9 2016,563.1 2017,563.2 2018,563.3 2019,563.4 2020,563.5 2021,563.7 2022,563.8 2023,563.9 2024,564 2025,564.2 2026,564.3 2027,564.4 2028,564.6 2029,564.7 2030,564.8 2031,565 2032,565.1 2033,565.2 2034,565.4 2035,565.5 2036,565.6 2037,565.8 2038,565.9 2039,566 2040,566.2 2041,566.3 2042,566.4 2043,566.5 2044,566.7 2045,566.8 2046,566.9 2047,567 2048,567.1 2049,567.3 2050,567.4 2051,567.5 2052,567.6 2053,567.6 2054,567.7 2055,567.8 2056,567.9 2057,567.9 2058,568 2059,568 2060,568.1 2061,568.1 2062,568.1 2063,568.1 2064,568.1 2065,568 2066,568 2067,567.9 2068,567.8 2069,567.8 2070,567.6 2071,567.5 2072,567.4 2073,567.2 2074,567 2075,566.8 2076,566.6 2077,566.4 2078,566.1 2079,565.9 2080,565.6 2081,565.3 2082,565 2083,564.6 2084,564.3 2085,563.9 2086,563.5 2087,563.1 2088,562.8 2089,562.4 2090,561.9 2091,561.5 2092,561.1 2093,560.7 2094,560.3 2095,559.9 2096,559.5 2097,559.1 2098,558.8 2099,558.4 2100,558.1 2101,557.8 2102,557.5 2103,557.2 2104,556.9 2105,556.7 2106,556.5 2107,556.4 2108,556.3 2109,556.2 2110,556.1 2111,556.1 2112,556.1 2113,556.1 2114,556.2 2115,556.3 2116,556.5 2117,556.7 2118,556.9 2119,557.2 2120,557.4 2121,557.8 2122,558.1 2123,558.5 2124,558.9 2125,559.3 2126,559.7 2127,560.2 2128,560.6 2129,561.1 2130,561.6 2131,562.1 2132,562.6 2133,563.2 2134,563.7 2135,564.2 2136,564.7 2137,565.2 2138,565.7 2139,566.2 2140,566.7 2141,567.2 2142,567.7 2143,568.1 2144,568.6 2145,569 2146,569.4 2147,569.8 2148,570.2 2149,570.5 2150,570.9 2154,572.1 2158,573 2162,573.7 2166,574.3 2170,574.6 2174,574.9 2178,575 2182,575.2 2186,575.2 2190,575.3 2194,575.3 2198,575.3 2202,575.3 2206,575.4 2210,575.4 2214,575.4 2218,575.4 2222,575.4 2226,575.4 2230,575.4 2234,575.4 2238,575.4 2242,575.4 2246,575.4 2250,575.4 2254,575.4 2258,575.4 2262,575.4 2266,575.4 2270,575.4 2274,575.4 2278,575.4 2282,575.4 2286,575.4 2290,575.4 2294,575.4 2298,575.4 2302,575.4 2306,575.4 2306.5,575.4"/>
<polyline points="1512.5,558.3 1516.5,558.3 1520.5,558.3 1524.5,558.3 1528.5,558.3 1532.5,558.3 1536.5,558.3 1540.5,558.3 1544.5,558.3 1548.5,558.3 1552.5,558.3 1556.5,558.3 1560.5,558.3 1564.5,558.3 1568.5,558.3 1572.5,558.3 1576.5,558.3 1580.5,558.3 1584.5,558.3 1588.5,558.3 1592.5,558.3 1596.5,558.3 1600.5,558.3 1604.5,558.3 1608.5,558.3 1612.5,558.3 1616.5,558.3 1620.5,558.3 1624.5,558.3 1628.5,558.3 1632.5,558.3 1636.5,558.3 1640.5,558.3 1644.5,558.3 1648.5,558.3 1652.5,558.3 1656.5,558.3 1660.5,558.3 1664.5,558.3 1668.5,558.3 1672.5,558.3 1676.5,558.3 1680.5,558.3 1684.5,558.3 1688.5,558.3 1692.5,558.3 1696.5,558.3 1700.5,558.3 1704.5,558.3 1708.5,558.3 1712.5,558.3 1716.5,558.3 1720.5,558.3 1724.5,558.3 1728.5,558.3 1732.5,558.3 1736.5,558.3 1740.5,558.3 1744.5,558.3 1748.5,558.3 1752.5,558.3 1756.5,558.3 1760.5,558.3 1764.5,558.3 1768.5,558.3 1772.5,558.3 1776.5,558.3 1780.5,558.3 1784.5,558.3 1788.5,558.3 1792.5,558.3 1796.5,558.3 1800.5,558.3 1804.5,558.3 1808.5,558.3 1812.5,558.3 1816.5,558.3 1820.5,558.3 1824.5,558.3 1828.5,558.3 1832.5,558.3 1836.5,558.3 1840.5,558.3 1844.5,558.3 1848.5,558.3 1852.5,558.3 1856.5,558.3 1860.5,558.3 1864.5,558.3 1868.5,558.3 1872.5,558.3 1876.5,558.3 1880.5,558.3 1884.5,558.3 1888.5,558.4 1892.5,558.4 1896.5,558.4 1900.5,558.4 1904.5,558.4 1908.5,558.4 1912.5,558.5 1916.5,558.5 1920.5,558.5 1924.5,558.6 1928.5,558.6 1932.5,558.7 1936.5,558.7 1940.5,558.8 1944.5,558.8 1948.5,558.9 1952.5,559 1956.5,559.1 1960,559.2 1961,559.2 1962,559.2 1963,559.2 1964,559.3 1965,559.3 1966,559.3 1967,559.3 1968,559.3 1969,559.3 1970,559.3 1971,559.3 1972,559.3 1973,559.3 1974,559.3 1975,559.3 1976,559.2 1977,559.2 1978,559.1 1979,559.1 1980,559 1981,558.9 1982,558.8 1983,558.6 1984,558.5 1985,558.3 1986,558.1 1987,557.8 1988,557.5 1989,557.2 1990,556.8 1991,556.4 1992,556 1993,555.4 1994,554.9 1995,554.2 1996,553.5 1997,552.7 1998,551.8 1999,550.9 2000,549.8 2001,548.7 2002,547.4 2003,546 2004,544.5 2005,542.9 2006,541.1 2007,539.2 2008,537.2 2009,535 2010,532.6 2011,530.1 2012,527.4 2013,524.5 2014,521.4 2015,518.1 2016,514.7 2017,511 2018,507.2 2019,503.1 2020,498.9 2021,494.4 2022,489.8 2023,484.9 2024,479.9 2025,474.6 2026,469.2 2027,463.7 2028,457.9 2029,452 2030,446 2031,439.8 2032,433.5 2033,427.1 2034,420.7 2035,414.1 2036,407.6 2037,401 2038,394.4 2039,387.8 2040,381.3 2041,374.9 2042,368.5 2043,362.3 2044,356.2 2045,350.3 2046,344.5 2047,339 2048,333.8 2049,328.8 2050,324.1 2051,319.7 2052,315.7 2053,312 2054,308.7 2055,305.8 2056,303.2 2057,301.1 2058,299.5 2059,298.2 2060,297.5 2061,297.1 2062,297.3 2063,298.1 2064,299.6 2065,301.8 2066,304.7 2067,308.3 2068,312.5 2069,317.3 2070,322.6 2071,328.5 2072,334.9 2073,341.7 2074,348.9 2075,356.5 2076,364.3 2077,372.4 2078,380.7 2079,389.1 2080,397.6 2081,406.2 2082,414.7 2083,423.2 2084,431.7 2085,440 2086,448.1 2087,456.1 2088,463.8 2089,471.4 2090,478.6 2091,485.6 2092,492.2 2093,498.6 2094,504.6 2095,510.4 2096,515.8 2097,520.9 2098,525.6 2099,530.1 2100,534.2 2101,538.1 2102,541.7 2103,544.9 2104,548 2105,550.7 2106,553.3 2107,555.6 2108,557.7 2109,559.6 2110,561.3 2111,562.9 2112,564.3 2113,565.5 2114,566.6 2115,567.6 2116,568.5 2117,569.3 2118,570 2119,570.6 2120,571.1 2121,571.6 2122,572 2123,572.4 2124,572.7 2125,573 2126,573.2 2127,573.4 2128,573.6 2129,573.8 2130,573.9 2131,574.1 2132,574.2 2133,574.3 2134,574.3 2135,574.4 2136,574.5 2137,574.5 2138,574.6 2139,574.6 2140,574.7 2141,574.7 2142,574.8 2143,574.8 2144,574.8 2145,574.8 2146,574.9 2147,574.9 2148,574.9 2149,574.9 2150,574.9 2154,575 2158,575.1 2162,575.1 2166,575.1 2170,575.2 2174,575.2 2178,575.2 2182,575.3 2186,575.3 2190,575.3 2194,575.3 2198,575.3 2202,575.4 2206,575.4 2210,575.4 2214,575.4 2218,575.4 2222,575.4 2226,575.4 2230,575.4 2234,575.4 2238,575.4 2242,575.4 2246,575.4 2250,575.4 2254,575.4 2258,575.4 2262,575.4 2266,575.4 2270,575.4 2274,575.4 2278,575.4 2282,575.4 2286,575.4 2290,575.4 2294,575.4 2298,575.4 2302,575.4 2306,575.4 2306.5,575.4"/>
<polyline points="1512.5,558.3 1516.5,558.3 1520.5,558.3 1524.5,558.3 1528.5,558.3 1532.5,558.3 1536.5,558.3 1540.5,558.3 1544.5,558.3 1548.5,558.3 1552.5,558.3 1556.5,558.3 1560.5,558.3 1564.5,558.3 1568.5,558.3 1572.5,558.3 1576.5,558.3 1580.5,558.3 1584.5,558.3 1588.5,558.3 1592.5,558.3 1596.5,558.3 1600.5,558.3 1604.5,558.3 1608.5,558.3 1612.5,558.3 1616.5,558.3 1620.5,558.3 1624.5,558.3 1628.5,558.3 1632.5,558.3 1636.5,558.3 1640.5,558.3 1644.5,558.3 1648.5,558.3 1652.5,558.3 1656.5,558.3 1660.5,558.3 1664.5,558.3 1668.5,558.3 1672.5,558.3 1676.5,558.3 1680.5,558.3 1684.5,558.3 1688.5,558.3 1692.5,558.3 1696.5,558.3 1700.5,558.3 1704.5,558.3 1708.5,558.3 1712.5,558.3 1716.5,558.3 1720.5,558.3 1724.5,558.3 1728.5,558.3 1732.5,558.3 1736.5,558.3 1740.5,558.3 1744.5,558.3 1748.5,558.3 1752.5,558.3 1756.5,558.3 1760.5,558.3 1764.5,558.3 1768.5,558.3 1772.5,558.3 1776.5,558.3 1780.5,558.2 1784.5,558.2 1788.5,558.2 1792.5,558.2 1796.5,558.2 1800.5,558.2 1804.5,558.2 1808.5,558.2 1812.5,558.1 1816.5,558.1 1820.5,558.1 1824.5,558 1828.5,558 1832.5,557.9 1836.5,557.8 1840.5,557.7 1844.5,557.6 1848.5,557.5 1852.5,557.3 1856.5,557.1 1860.5,556.9 1864.5,556.7 1868.5,556.4 1872.5,556.1 1876.5,555.7 1880.5,555.3 1884.5,554.9 1888.5,554.3 1892.5,553.8 1896.5,553.1 1900.5,552.4 1904.5,551.6 1908.5,550.7 1912.5,549.8 1916.5,548.8 1920.5,547.7 1924.5,546.5 1928.5,545.2 1932.5,543.9 1936.5,542.5 1940.5,541 1944.5,539.5 1948.5,537.9 1952.5,536.2 1956.5,534.5 1960,533 1961,532.6 1962,532.2 1963,531.8 1964,531.3 1965,530.9 1966,530.5 1967,530 1968,529.6 1969,529.2 1970,528.8 1971,528.3 1972,527.9 1973,527.5 1974,527.1 1975,526.7 1976,526.2 1977,525.8 1978,525.4 1979,525 1980,524.6 1981,524.2 1982,523.8 1983,523.5 1984,523.1 1985,522.7 1986,522.3 1987,522 1988,521.6 1989,521.3 1990,520.9 1991,520.6 1992,520.3 1993,519.9 1994,519.6 1995,519.3 1996,519 1997,518.7 1998,518.5 1999,518.2 2000,517.9 2001,517.7 2002,517.5 2003,517.2 2004,517 2005,516.8 2006,516.6 2007,516.4 2008,516.2 2009,516.1 2010,515.9 2011,515.8 2012,515.6 2013,515.5 2014,515.4 2015,515.3 2016,515.2 2017,515.2 2018,515.1 2019,515.1 2020,515.1 2021,515 2022,515 2023,515 2024,515.1 2025,515.1 2026,515.1 2027,515.2 2028,515.3 2029,515.4 2030,515.5 2031,515.6 2032,515.7 2033,515.8 2034,516 2035,516.2 2036,516.3 2037,516.5 2038,516.7 2039,516.9 2040,517.2 2041,517.4 2042,517.7 2043,517.9 2044,518.2 2045,518.5 2046,518.8 2047,519.1 2048,519.4 2049,519.7 2050,520.1 2051,520.4 2052,520.8 2053,521.2 2054,521.5 2055,521.9 2056,522.3 2057,522.7 2058,523.1 2059,523.6 2060,524 2061,524.4 2062,524.9 2063,525.3 2064,525.8 2065,526.3 2066,526.7 2067,527.2 2068,527.7 2069,528.2 2070,528.7 2071,529.2 2072,529.7 2073,530.2 2074,530.7 2075,531.2 2076,531.8 2077,532.3 2078,532.8 2079,533.4 2080,533.9 2081,534.4 2082,535 2083,535.5 2084,536 2085,536.6 2086,537.1 2087,537.7 2088,538.2 2089,538.8 2090,539.3 2091,539.9 2092,540.4 2093,540.9 2094,541.5 2095,542 2096,542.6 2097,543.1 2098,543.6 2099,544.2 2100,544.7 2101,545.2 2102,545.8 2103,546.3 2104,546.8 2105,547.3 2106,547.9 2107,548.4 2108,548.9 2109,549.4 2110,549.9 2111,550.4 2112,550.9 2113,551.4 2114,551.9 2115,552.3 2116,552.8 2117,553.3 2118,553.7 2119,554.2 2120,554.7 2121,555.1 2122,555.6 2123,556 2124,556.4 2125,556.9 2126,557.3 2127,557.7 2128,558.1 2129,558.5 2130,558.9 2131,559.3 2132,559.7 2133,560.1 2134,560.5 2135,560.8 2136,561.2 2137,561.6 2138,561.9 2139,562.3 2140,562.6 2141,562.9 2142,563.3 2143,563.6 2144,563.9 2145,564.2 2146,564.5 2147,564.8 2148,565.1 2149,565.4 2150,565.7 2154,566.8 2158,567.8 2162,568.6 2166,569.5 2170,570.2 2174,570.9 2178,571.5 2182,572 2186,572.5 2190,572.9 2194,573.2 2198,573.6 2202,573.8 2206,574.1 2210,574.3 2214,574.5 2218,574.6 2222,574.8 2226,574.9 2230,575 2234,575 2238,575.1 2242,575.2 2246,575.2 2250,575.3 2254,575.3 2258,575.3 2262,575.3 2266,575.4 2270,575.4 2274,575.4 2278,575.4 2282,575.4 2286,575.4 2290,575.4 2294,575.4 2298,575.4 2302,575.4 2306,575.4 2306.5,575.4"/>
<polyline points="1512.5,558.3 1516.5,558.3 1520.5,558.3 1524.5,558.3 1528.5,558.3 1532.5,558.3 1536.5,558.3 1540.5,558.3 1544.5,558.3 1548.5,558.3 1552.5,558.3 1556.5,558.3 1560.5,558.3 1564.5,558.3 1568.5,558.3 1572.5,558.3 1576.5,558.3 1580.5,558.3 1584.5,558.3 1588.5,558.3 1592.5,558.3 1596.5,558.3 1600.5,558.3 1604.5,558.3 1608.5,558.3 1612.5,558.3 1616.5,558.3 1620.5,558.3 1624.5,558.3 1628.5,558.3 1632.5,558.3 1636.5,558.3 1640.5,558.3 1644.5,558.3 1648.5,558.3 1652.5,558.3 1656.5,558.3 1660.5,558.3 1664.5,558.3 1668.5,558.3 1672.5,558.3 1676.5,558.3 1680.5,558.3 1684.5,558.3 1688.5,558.3 1692.5,558.3 1696.5,558.3 1700.5,558.3 1704.5,558.3 1708.5,558.3 1712.5,558.3 1716.5,558.3 1720.5,558.3 1724.5,558.3 1728.5,558.3 1732.5,558.3 1736.5,558.3 1740.5,558.3 1744.5,558.3 1748.5,558.3 1752.5,558.3 1756.5,558.3 1760.5,558.3 1764.5,558.3 1768.5,558.3 1772.5,558.3 1776.5,558.3 1780.5,558.3 1784.5,558.3 1788.5,558.3 1792.5,558.3 1796.5,558.3 1800.5,558.3 1804.5,558.3 1808.5,558.3 1812.5,558.2 1816.5,558.2 1820.5,558.2 1824.5,558.2 1828.5,558.2 1832.5,558.2 1836.5,558.1 1840.5,558.1 1844.5,558 1848.5,557.9 1852.5,557.8 1856.5,557.6 1860.5,557.5 1864.5,557.2 1868.5,557 1872.5,556.7 1876.5,556.3 1880.5,555.9 1884.5,555.4 1888.5,554.8 1892.5,554.2 1896.5,553.5 1900.5,552.8 1904.5,552 1908.5,551.2 1912.5,550.3 1916.5,549.4 1920.5,548.6 1924.5,547.7 1928.5,546.9 1932.5,546.2 1936.5,545.5 1940.5,545 1944.5,544.6 1948.5,544.3 1952.5,544.2 1956.5,544.2 1960,544.3 1961,544.4 1962,544.5 1963,544.6 1964,544.7 1965,544.8 1966,544.9 1967,545 1968,545.2 1969,545.3 1970,545.5 1971,545.6 1972,545.8 1973,546 1974,546.2 1975,546.4 1976,546.6 1977,546.8 1978,547 1979,547.2 1980,547.5 1981,547.7 1982,547.9 1983,548.2 1984,548.5 1985,548.7 1986,549 1987,549.3 1988,549.5 1989,549.8 1990,550.1 1991,550.4 1992,550.7 1993,551 1994,551.3 1995,551.6 1996,551.9 1997,552.2 1998,552.5 1999,552.8 2000,553.1 2001,553.5 2002,553.8 2003,554.1 2004,554.4 2005,554.7 2006,555 2007,555.3 2008,555.6 2009,555.9 2010,556.3 2011,556.6 2012,556.9 2013,557.2 2014,557.5 2015,557.8 2016,558.1 2017,558.4 2018,558.7 2019,559 2020,559.3 2021,559.6 2022,559.8 2023,560.1 2024,560.4 2025,560.7 2026,561 2027,561.2 2028,561.5 2029,561.8 2030,562 2031,562.3 2032,562.6 2033,562.8 2034,563.1 2035,563.3 2036,563.6 2037,563.8 2038,564 2039,564.3 2040,564.5 2041,564.7 2042,565 2043,565.2 2044,565.4 2045,565.6 2046,565.8 2047,566.1 2048,566.3 2049,566.5 2050,566.7 2051,566.9 2052,567.1 2053,567.3 2054,567.4 2055,567.6 2056,567.8 2057,568 2058,568.2 2059,568.3 2060,568.5 2061,568.7 2062,568.8 2063,569 2064,569.2 2065,569.3 2066,569.5 2067,569.6 2068,569.8 2069,569.9 2070,570 2071,570.2 2072,570.3 2073,570.4 2074,570.6 2075,570.7 2076,570.8 2077,571 2078,571.1 2079,571.2 2080,571.3 2081,571.4 2082,571.5 2083,571.6 2084,571.7 2085,571.8 2086,571.9 2087,572 2088,572.1 2089,572.2 2090,572.3 2091,572.4 2092,572.5 2093,572.6 2094,572.6 2095,572.7 2096,572.8 2097,572.9 2098,573 2099,573 2100,573.1 2101,573.2 2102,573.2 2103,573.3 2104,573.4 2105,573.4 2106,573.5 2107,573.5 2108,573.6 2109,573.6 2110,573.7 2111,573.8 2112,573.8 2113,573.9 2114,573.9 2115,573.9 2116,574 2117,574 2118,574.1 2119,574.1 2120,574.2 2121,574.2 2122,574.2 2123,574.3 2124,574.3 2125,574.3 2126,574.4 2127,574.4 2128,574.4 2129,574.5 2130,574.5 2131,574.5 2132,574.6 2133,574.6 2134,574.6 2135,574.6 2136,574.7 2137,574.7 2138,574.7 2139,574.7 2140,574.8 2141,574.8 2142,574.8 2143,574.8 2144,574.8 2145,574.9 2146,574.9 2147,574.9 2148,574.9 2149,574.9 2150,574.9 2154,575 2158,575.1 2162,575.1 2166,575.1 2170,575.2 2174,575.2 2178,575.2 2182,575.3 2186,575.3 2190,575.3 2194,575.3 2198,575.3 2202,575.4 2206,575.4 2210,575.4 2214,575.4 2218,575.4 2222,575.4 2226,575.4 2230,575.4 2234,575.4 2238,575.4 2242,575.4 2246,575.4 2250,575.4 2254,575.4 2258,575.4 2262,575.4 2266,575.4 2270,575.4 2274,575.4 2278,575.4 2282,575.4 2286,575.4 2290,575.4 2294,575.4 2298,575.4 2302,575.4 2306,575.4 2306.5,575.4"/>
<polyline points="1512.5,558.3 1516.5,558.3 1520.5,558.3 1524.5,558.3 1528.5,558.3 1532.5,558.3 1536.5,558.3 1540.5,558.3 1544.5,558.3 1548.5,558.3 1552.5,558.3 1556.5,558.3 1560.5,558.3 1564.5,558.3 1568.5,558.3 1572.5,558.3 1576.5,558.3 1580.5,558.3 1584.5,558.3 1588.5,558.3 1592.5,558.3 1596.5,558.3 1600.5,558.3 1604.5,558.3 1608.5,558.3 1612.5,558.3 1616.5,558.3 1620.5,558.3 1624.5,558.3 1628.5,558.3 1632.5,558.3 1636.5,558.3 1640.5,558.3 1644.5,558.3 1648.5,558.3 1652.5,558.3 1656.5,558.3 1660.5,558.3 1664.5,558.3 1668.5,558.3 1672.5,558.3 1676.5,558.3 1680.5,558.3 1684.5,558.3 1688.5,558.3 1692.5,558.3 1696.5,558.3 1700.5,558.3 1704.5,558.2 1708.5,558.2 1712.5,558.2 1716.5,558.2 1720.5,558.2 1724.5,558.2 1728.5,558.1 1732.5,558.1 1736.5,558.1 1740.5,558 1744.5,557.9 1748.5,557.8 1752.5,557.7 1756.5,557.6 1760.5,557.5 1764.5,557.3 1768.5,557.1 1772.5,556.9 1776.5,556.6 1780.5,556.3 1784.5,556 1788.5,555.6 1792.5,555.2 1796.5,554.7 1800.5,554.2 1804.5,553.7 1808.5,553.1 1812.5,552.5 1816.5,551.9 1820.5,551.3 1824.5,550.6 1828.5,550 1832.5,549.4 1836.5,548.8 1840.5,548.2 1844.5,547.7 1848.5,547.2 1852.5,546.8 1856.5,546.5 1860.5,546.2 1864.5,546 1868.5,545.9 1872.5,545.9 1876.5,546 1880.5,546.1 1884.5,546.4 1888.5,546.7 1892.5,547.1 1896.5,547.6 1900.5,548.1 1904.5,548.7 1908.5,549.3 1912.5,550 1916.5,550.6 1920.5,551.3 1924.5,552 1928.5,552.6 1932.5,553.3 1936.5,553.9 1940.5,554.5 1944.5,555.1 1948.5,555.7 1952.5,556.2 1956.5,556.7 1960,557.1 1961,557.2 1962,557.3 1963,557.4 1964,557.5 1965,557.6 1966,557.8 1967,557.9 1968,558 1969,558.1 1970,558.2 1971,558.3 1972,558.4 1973,558.5 1974,558.6 1975,558.7 1976,558.8 1977,558.9 1978,559 1979,559.1 1980,559.2 1981,559.3 1982,559.4 1983,559.5 1984,559.6 1985,559.6 1986,559.7 1987,559.8 1988,559.9 1989,560 1990,560.1 1991,560.2 1992,560.3 1993,560.4 1994,560.5 1995,560.6 1996,560.7 1997,560.8 1998,560.9 1999,561 2000,561.1 2001,561.2 2002,561.3 2003,561.5 2004,561.6 2005,561.7 2006,561.8 2007,561.9 2008,562 2009,562.1 2010,562.2 2011,562.4 2012,562.5 2013,562.6 2014,562.7 2015,562.8 2016,562.9 2017,563.1 2018,563.2 2019,563.3 2020,563.5 2021,563.6 2022,563.7 2023,563.8 2024,564 2025,564.1 2026,564.2 2027,564.4 2028,564.5 2029,564.6 2030,564.8 2031,564.9 2032,565.1 2033,565.2 2034,565.3 2035,565.5 2036,565.6 2037,565.8 2038,565.9 2039,566.1 2040,566.2 2041,566.3 2042,566.5 2043,566.6 2044,566.8 2045,566.9 2046,567.1 2047,567.2 2048,567.4 2049,567.5 2050,567.6 2051,567.8 2052,567.9 2053,568.1 2054,568.2 2055,568.4 2056,568.5 2057,568.6 2058,568.8 2059,568.9 2060,569 2061,569.2 2062,569.3 2063,569.4 2064,569.6 2065,569.7 2066,569.8 2067,569.9 2068,570.1 2069,570.2 2070,570.3 2071,570.4 2072,570.6 2073,570.7 2074,570.8 2075,570.9 2076,571 2077,571.1 2078,571.2 2079,571.3 2080,571.4 2081,571.5 2082,571.6 2083,571.7 2084,571.8 2085,571.9 2086,572 2087,572.1 2088,572.2 2089,572.3 2090,572.4 2091,572.4 2092,572.5 2093,572.6 2094,572.7 2095,572.8 2096,572.8 2097,572.9 2098,573 2099,573.1 2100,573.1 2101,573.2 2102,573.3 2103,573.3 2104,573.4 2105,573.4 2106,573.5 2107,573.5 2108,573.6 2109,573.7 2110,573.7 2111,573.8 2112,573.8 2113,573.9 2114,573.9 2115,574 2116,574 2117,574 2118,574.1 2119,574.1 2120,574.2 2121,574.2 2122,574.2 2123,574.3 2124,574.3 2125,574.3 2126,574.4 2127,574.4 2128,574.4 2129,574.5 2130,574.5 2131,574.5 2132,574.6 2133,574.6 2134,574.6 2135,574.6 2136,574.7 2137,574.7 2138,574.7 2139,574.7 2140,574.8 2141,574.8 2142,574.8 2143,574.8 2144,574.8 2145,574.9 2146,574.9 2147,574.9 2148,574.9 2149,574.9 2150,574.9 2154,575 2158,575.1 2162,575.1 2166,575.1 2170,575.2 2174,575.2 2178,575.2 2182,575.3 2186,575.3 2190,575.3 2194,575.3 2198,575.3 2202,575.4 2206,575.4 2210,575.4 2214,575.4 2218,575.4 2222,575.4 2226,575.4 2230,575.4 2234,575.4 2238,575.4 2242,575.4 2246,575.4 2250,575.4 2254,575.4 2258,575.4 2262,575.4 2266,575.4 2270,575.4 2274,575.4 2278,575.4 2282,575.4 2286,575.4 2290,575.4 2294,575.4 2298,575.4 2302,575.4 2306,575.4 2306.5,575.4"/>
<polyline points="1512.5,558.3 1516.5,558.3 1520.5,558.3 1524.5,558.3 1528.5,558.3 1532.5,558.3 1536.5,558.3 1540.5,558.3 1544.5,558.3 1548.5,558.3 1552.5,558.3 1556.5,558.3 1560.5,558.3 1564.5,558.3 1568.5,558.3 1572.5,558.3 1576.5,558.3 1580.5,558.3 1584.5,558.2 1588.5,558.2 1592.5,558.2 1596.5,558.2 1600.5,558.2 1604.5,558.2 1608.5,558.1 1612.5,558.1 1616.5,558.1 1620.5,558 1624.5,558 1628.5,557.9 1632.5,557.9 1636.5,557.8 1640.5,557.7 1644.5,557.6 1648.5,557.5 1652.5,557.3 1656.5,557.2 1660.5,557 1664.5,556.8 1668.5,556.7 1672.5,556.4 1676.5,556.2 1680.5,556 1684.5,555.7 1688.5,555.4 1692.5,555.2 1696.5,554.9 1700.5,554.6 1704.5,554.2 1708.5,553.9 1712.5,553.6 1716.5,553.3 1720.5,553 1724.5,552.7 1728.5,552.5 1732.5,552.2 1736.5,552 1740.5,551.8 1744.5,551.6 1748.5,551.5 1752.5,551.4 1756.5,551.3 1760.5,551.3 1764.5,551.3 1768.5,551.3 1772.5,551.4 1776.5,551.5 1780.5,551.7 1784.5,551.8 1788.5,552.1 1792.5,552.3 1796.5,552.5 1800.5,552.8 1804.5,553.1 1808.5,553.4 1812.5,553.7 1816.5,554 1820.5,554.3 1824.5,554.6 1828.5,554.9 1832.5,555.2 1836.5,555.5 1840.5,555.8 1844.5,556 1848.5,556.3 1852.5,556.5 1856.5,556.7 1860.5,556.9 1864.5,557.1 1868.5,557.3 1872.5,557.4 1876.5,557.5 1880.5,557.7 1884.5,557.8 1888.5,557.9 1892.5,558 1896.5,558 1900.5,558.1 1904.5,558.2 1908.5,558.3 1912.5,558.3 1916.5,558.4 1920.5,558.4 1924.5,558.5 1928.5,558.5 1932.5,558.6 1936.5,558.7 1940.5,558.7 1944.5,558.8 1948.5,558.9 1952.5,559 1956.5,559.1 1960,559.2 1961,559.3 1962,559.3 1963,559.3 1964,559.4 1965,559.4 1966,559.4 1967,559.5 1968,559.5 1969,559.5 1970,559.6 1971,559.6 1972,559.7 1973,559.7 1974,559.8 1975,559.8 1976,559.8 1977,559.9 1978,559.9 1979,560 1980,560.1 1981,560.1 1982,560.2 1983,560.2 1984,560.3 1985,560.3 1986,560.4 1987,560.5 1988,560.5 1989,560.6 1990,560.7 1991,560.7 1992,560.8 1993,560.9 1994,561 1995,561 1996,561.1 1997,561.2 1998,561.3 1999,561.4 2000,561.4 2001,561.5 2002,561.6 2003,561.7 2004,561.8 2005,561.9 2006,562 2007,562.1 2008,562.2 2009,562.3 2010,562.4 2011,562.5 2012,562.6 2013,562.7 2014,562.8 2015,563 2016,563.1 2017,563.2 2018,563.3 2019,563.4 2020,563.5 2021,563.7 2022,563.8 2023,563.9 2024,564 2025,564.2 2026,564.3 2027,564.4 2028,564.6 2029,564.7 2030,564.8 2031,565 2032,565.1 2033,565.2 2034,565.4 2035,565.5 2036,565.7 2037,565.8 2038,565.9 2039,566.1 2040,566.2 2041,566.4 2042,566.5 2043,566.7 2044,566.8 2045,566.9 2046,567.1 2047,567.2 2048,567.4 2049,567.5 2050,567.7 2051,567.8 2052,567.9 2053,568.1 2054,568.2 2055,568.4 2056,568.5 2057,568.6 2058,568.8 2059,568.9 2060,569 2061,569.2 2062,569.3 2063,569.4 2064,569.6 2065,569.7 2066,569.8 2067,569.9 2068,570.1 2069,570.2 2070,570.3 2071,570.4 2072,570.6 2073,570.7 2074,570.8 2075,570.9 2076,571 2077,571.1 2078,571.2 2079,571.3 2080,571.4 2081,571.5 2082,571.6 2083,571.7 2084,571.8 2085,571.9 2086,572 2087,572.1 2088,572.2 2089,572.3 2090,572.4 2091,572.4 2092,572.5 2093,572.6 2094,572.7 2095,572.8 2096,572.8 2097,572.9 2098,573 2099,573.1 2100,573.1 2101,573.2 2102,573.3 2103,573.3 2104,573.4 2105,573.4 2106,573.5 2107,573.5 2108,573.6 2109,573.7 2110,573.7 2111,573.8 2112,573.8 2113,573.9 2114,573.9 2115,574 2116,574 2117,574 2118,574.1 2119,574.1 2120,574.2 2121,574.2 2122,574.2 2123,574.3 2124,574.3 2125,574.3 2126,574.4 2127,574.4 2128,574.4 2129,574.5 2130,574.5 2131,574.5 2132,574.6 2133,574.6 2134,574.6 2135,574.6 2136,574.7 2137,574.7 2138,574.7 2139,574.7 2140,574.8 2141,574.8 2142,574.8 2143,574.8 2144,574.8 2145,574.9 2146,574.9 2147,574.9 2148,574.9 2149,574.9 2150,574.9 2154,575 2158,575.1 2162,575.1 2166,575.1 2170,575.2 2174,575.2 2178,575.2 2182,575.3 2186,575.3 2190,575.3 2194,575.3 2198,575.3 2202,575.4 2206,575.4 2210,575.4 2214,575.4 2218,575.4 2222,575.4 2226,575.4 2230,575.4 2234,575.4 2238,575.4 2242,575.4 2246,575.4 2250,575.4 2254,575.4 2258,575.4 2262,575.4 2266,575.4 2270,575.4 2274,575.4 2278,575.4 2282,575.4 2286,575.4 2290,575.4 2294,575.4 2298,575.4 2302,575.4 2306,575.4 2306.5,575.4"/>
<polyline points="1512.5,556.9 1516.5,556.7 1520.5,556.5 1524.5,556.2 1528.5,555.9 1532.5,555.6 1536.5,555.2 1540.5,554.9 1544.5,554.5 1548.5,554.1 1552.5,553.6 1556.5,553.2 1560.5,552.7 1564.5,552.2 1568.5,551.8 1572.5,551.3 1576.5,550.8 1580.5,550.4 1584.5,549.9 1588.5,549.5 1592.5,549.1 1596.5,548.7 1600.5,548.4 1604.5,548.1 1608.5,547.9 1612.5,547.7 1616.5,547.6 1620.5,547.5 1624.5,547.5 1628.5,547.5 1632.5,547.6 1636.5,547.8 1640.5,548 1644.5,548.2 1648.5,548.5 1652.5,548.9 1656.5,549.3 1660.5,549.7 1664.5,550.1 1668.5,550.6 1672.5,551 1676.5,551.5 1680.5,552 1684.5,552.5 1688.5,552.9 1692.5,553.4 1696.5,553.8 1700.5,554.3 1704.5,554.7 1708.5,555 1712.5,555.4 1716.5,555.7 1720.5,556 1724.5,556.3 1728.5,556.6 1732.5,556.8 1736.5,557 1740.5,557.2 1744.5,557.3 1748.5,557.5 1752.5,557.6 1756.5,557.7 1760.5,557.8 1764.5,557.9 1768.5,557.9 1772.5,558 1776.5,558.1 1780.5,558.1 1784.5,558.1 1788.5,558.2 1792.5,558.2 1796.5,558.2 1800.5,558.2 1804.5,558.2 1808.5,558.2 1812.5,558.2 1816.5,558.3 1820.5,558.3 1824.5,558.3 1828.5,558.3 1832.5,558.3 1836.5,558.3 1840.5,558.3 1844.5,558.3 1848.5,558.3 1852.5,558.3 1856.5,558.3 1860.5,558.3 1864.5,558.3 1868.5,558.3 1872.5,558.3 1876.5,558.3 1880.5,558.3 1884.5,558.3 1888.5,558.4 1892.5,558.4 1896.5,558.4 1900.5,558.4 1904.5,558.4 1908.5,558.4 1912.5,558.5 1916.5,558.5 1920.5,558.5 1924.5,558.6 1928.5,558.6 1932.5,558.7 1936.5,558.7 1940.5,558.8 1944.5,558.9 1948.5,558.9 1952.5,559 1956.5,559.1 1960,559.2 1961,559.3 1962,559.3 1963,559.3 1964,559.4 1965,559.4 1966,559.4 1967,559.5 1968,559.5 1969,559.5 1970,559.6 1971,559.6 1972,559.7 1973,559.7 1974,559.8 1975,559.8 1976,559.9 1977,559.9 1978,560 1979,560 1980,560.1 1981,560.1 1982,560.2 1983,560.2 1984,560.3 1985,560.3 1986,560.4 1987,560.5 1988,560.5 1989,560.6 1990,560.7 1991,560.7 1992,560.8 1993,560.9 1994,561 1995,561 1996,561.1 1997,561.2 1998,561.3 1999,561.4 2000,561.4 2001,561.5 2002,561.6 2003,561.7 2004,561.8 2005,561.9 2006,562 2007,562.1 2008,562.2 2009,562.3 2010,562.4 2011,562.5 2012,562.6 2013,562.7 2014,562.8 2015,563 2016,563.1 2017,563.2 2018,563.3 2019,563.4 2020,563.5 2021,563.7 2022,563.8 2023,563.9 2024,564 2025,564.2 2026,564.3 2027,564.4 2028,564.6 2029,564.7 2030,564.8 2031,565 2032,565.1 2033,565.2 2034,565.4 2035,565.5 2036,565.7 2037,565.8 2038,565.9 2039,566.1 2040,566.2 2041,566.4 2042,566.5 2043,566.7 2044,566.8 2045,566.9 2046,567.1 2047,567.2 2048,567.4 2049,567.5 2050,567.7 2051,567.8 2052,567.9 2053,568.1 2054,568.2 2055,568.4 2056,568.5 2057,568.6 2058,568.8 2059,568.9 2060,569 2061,569.2 2062,569.3 2063,569.4 2064,569.6 2065,569.7 2066,569.8 2067,569.9 2068,570.1 2069,570.2 2070,570.3 2071,570.4 2072,570.6 2073,570.7 2074,570.8 2075,570.9 2076,571 2077,571.1 2078,571.2 2079,571.3 2080,571.4 2081,571.5 2082,571.6 2083,571.7 2084,571.8 2085,571.9 2086,572 2087,572.1 2088,572.2 2089,572.3 2090,572.4 2091,572.4 2092,572.5 2093,572.6 2094,572.7 2095,572.8 2096,572.8 2097,572.9 2098,573 2099,573.1 2100,573.1 2101,573.2 2102,573.3 2103,573.3 2104,573.4 2105,573.4 2106,573.5 2107,573.5 2108,573.6 2109,573.7 2110,573.7 2111,573.8 2112,573.8 2113,573.9 2114,573.9 2115,574 2116,574 2117,574 2118,574.1 2119,574.1 2120,574.2 2121,574.2 2122,574.2 2123,574.3 2124,574.3 2125,574.3 2126,574.4 2127,574.4 2128,574.4 2129,574.5 2130,574.5 2131,574.5 2132,574.6 2133,574.6 2134,574.6 2135,574.6 2136,574.7 2137,574.7 2138,574.7 2139,574.7 2140,574.8 2141,574.8 2142,574.8 2143,574.8 2144,574.8 2145,574.9 2146,574.9 2147,574.9 2148,574.9 2149,574.9 2150,574.9 2154,575 2158,575.1 2162,575.1 2166,575.1 2170,575.2 2174,575.2 2178,575.2 2182,575.3 2186,575.3 2190,575.3 2194,575.3 2198,575.3 2202,575.4 2206,575.4 2210,575.4 2214,575.4 2218,575.4 2222,575.4 2226,575.4 2230,575.4 2234,575.4 2238,575.4 2242,575.4 2246,575.4 2250,575.4 2254,575.4 2258,575.4 2262,575.4 2266,575.4 2270,575.4 2274,575.4 2278,575.4 2282,575.4 2286,575.4 2290,575.4 2294,575.4 2298,575.4 2302,575.4 2306,575.4 2306.5,575.4"/>
<polyline points="1512.5,553.7 1516.5,553.5 1520.5,553.4 1524.5,553.4 1528.5,553.3 1532.5,553.3 1536.5,553.3 1540.5,553.3 1544.5,553.3 1548.5,553.4 1552.5,553.5 1556.5,553.6 1560.5,553.7 1564.5,553.8 1568.5,554 1572.5,554.2 1576.5,554.3 1580.5,554.5 1584.5,554.7 1588.5,554.9 1592.5,555.1 1596.5,555.3 1600.5,555.6 1604.5,555.8 1608.5,556 1612.5,556.2 1616.5,556.3 1620.5,556.5 1624.5,556.7 1628.5,556.8 1632.5,557 1636.5,557.1 1640.5,557.3 1644.5,557.4 1648.5,557.5 1652.5,557.6 1656.5,557.7 1660.5,557.8 1664.5,557.8 1668.5,557.9 1672.5,557.9 1676.5,558 1680.5,558 1684.5,558.1 1688.5,558.1 1692.5,558.1 1696.5,558.2 1700.5,558.2 1704.5,558.2 1708.5,558.2 1712.5,558.2 1716.5,558.2 1720.5,558.2 1724.5,558.2 1728.5,558.2 1732.5,558.3 1736.5,558.3 1740.5,558.3 1744.5,558.3 1748.5,558.3 1752.5,558.3 1756.5,558.3 1760.5,558.3 1764.5,558.3 1768.5,558.3 1772.5,558.3 1776.5,558.3 1780.5,558.3 1784.5,558.3 1788.5,558.3 1792.5,558.3 1796.5,558.3 1800.5,558.3 1804.5,558.3 1808.5,558.3 1812.5,558.3 1816.5,558.3 1820.5,558.3 1824.5,558.3 1828.5,558.3 1832.5,558.3 1836.5,558.3 1840.5,558.3 1844.5,558.3 1848.5,558.3 1852.5,558.3 1856.5,558.3 1860.5,558.3 1864.5,558.3 1868.5,558.3 1872.5,558.3 1876.5,558.3 1880.5,558.3 1884.5,558.3 1888.5,558.4 1892.5,558.4 1896.5,558.4 1900.5,558.4 1904.5,558.4 1908.5,558.4 1912.5,558.5 1916.5,558.5 1920.5,558.5 1924.5,558.6 1928.5,558.6 1932.5,558.7 1936.5,558.7 1940.5,558.8 1944.5,558.9 1948.5,558.9 1952.5,559 1956.5,559.1 1960,559.2 1961,559.3 1962,559.3 1963,559.3 1964,559.4 1965,559.4 1966,559.4 1967,559.5 1968,559.5 1969,559.5 1970,559.6 1971,559.6 1972,559.7 1973,559.7 1974,559.8 1975,559.8 1976,559.9 1977,559.9 1978,560 1979,560 1980,560.1 1981,560.1 1982,560.2 1983,560.2 1984,560.3 1985,560.3 1986,560.4 1987,560.5 1988,560.5 1989,560.6 1990,560.7 1991,560.7 1992,560.8 1993,560.9 1994,561 1995,561 1996,561.1 1997,561.2 1998,561.3 1999,561.4 2000,561.4 2001,561.5 2002,561.6 2003,561.7 2004,561.8 2005,561.9 2006,562 2007,562.1 2008,562.2 2009,562.3 2010,562.4 2011,562.5 2012,562.6 2013,562.7 2014,562.8 2015,563 2016,563.1 2017,563.2 2018,563.3 2019,563.4 2020,563.5 2021,563.7 2022,563.8 2023,563.9 2024,564 2025,564.2 2026,564.3 2027,564.4 2028,564.6 2029,564.7 2030,564.8 2031,565 2032,565.1 2033,565.2 2034,565.4 2035,565.5 2036,565.7 2037,565.8 2038,565.9 2039,566.1 2040,566.2 2041,566.4 2042,566.5 2043,566.7 2044,566.8 2045,566.9 2046,567.1 2047,567.2 2048,567.4 2049,567.5 2050,567.7 2051,567.8 2052,567.9 2053,568.1 2054,568.2 2055,568.4 2056,568.5 2057,568.6 2058,568.8 2059,568.9 2060,569 2061,569.2 2062,569.3 2063,569.4 2064,569.6 2065,569.7 2066,569.8 2067,569.9 2068,570.1 2069,570.2 2070,570.3 2071,570.4 2072,570.6 2073,570.7 2074,570.8 2075,570.9 2076,571 2077,571.1 2078,571.2 2079,571.3 2080,571.4 2081,571.5 2082,571.6 2083,571.7 2084,571.8 2085,571.9 2086,572 2087,572.1 2088,572.2 2089,572.3 2090,572.4 2091,572.4 2092,572.5 2093,572.6 2094,572.7 2095,572.8 2096,572.8 2097,572.9 2098,573 2099,573.1 2100,573.1 2101,573.2 2102,573.3 2103,573.3 2104,573.4 2105,573.4 2106,573.5 2107,573.5 2108,573.6 2109,573.7 2110,573.7 2111,573.8 2112,573.8 2113,573.9 2114,573.9 2115,574 2116,574 2117,574 2118,574.1 2119,574.1 2120,574.2 2121,574.2 2122,574.2 2123,574.3 2124,574.3 2125,574.3 2126,574.4 2127,574.4 2128,574.4 2129,574.5 2130,574.5 2131,574.5 2132,574.6 2133,574.6 2134,574.6 2135,574.6 2136,574.7 2137,574.7 2138,574.7 2139,574.7 2140,574.8 2141,574.8 2142,574.8 2143,574.8 2144,574.8 2145,574.9 2146,574.9 2147,574.9 2148,574.9 2149,574.9 2150,574.9 2154,575 2158,575.1 2162,575.1 2166,575.1 2170,575.2 2174,575.2 2178,575.2 2182,575.3 2186,575.3 2190,575.3 2194,575.3 2198,575.3 2202,575.4 2206,575.4 2210,575.4 2214,575.4 2218,575.4 2222,575.4 2226,575.4 2230,575.4 2234,575.4 2238,575.4 2242,575.4 2246,575.4 2250,575.4 2254,575.4 2258,575.4 2262,575.4 2266,575.4 2270,575.4 2274,575.4 2278,575.4 2282,575.4 2286,575.4 2290,575.4 2294,575.4 2298,575.4 2302,575.4 2306,575.4 2306.5,575.4"/>
</g>
<polyline fill="none" stroke="#000" stroke-width="4.5" points="1512.5,559.3 1516.5,559.3 1520.5,559.3 1524.5,559.3 1528.5,559.3 1532.5,559.3 1536.5,559.3 1540.5,559.3 1544.5,559.3 1548.5,559.3 1552.5,559.3 1556.5,559.3 1560.5,559.3 1564.5,559.3 1568.5,559.3 1572.5,559.3 1576.5,559.3 1580.5,559.3 1584.5,559.3 1588.5,559.3 1592.5,559.3 1596.5,559.3 1600.5,559.3 1604.5,559.3 1608.5,559.3 1612.5,559.3 1616.5,559.3 1620.5,559.3 1624.5,559.3 1628.5,559.3 1632.5,559.3 1636.5,559.3 1640.5,559.3 1644.5,559.3 1648.5,559.3 1652.5,559.3 1656.5,559.3 1660.5,559.3 1664.5,559.3 1668.5,559.3 1672.5,559.3 1676.5,559.3 1680.5,559.3 1684.5,559.3 1688.5,559.3 1692.5,559.3 1696.5,559.3 1700.5,559.3 1704.5,559.3 1708.5,559.3 1712.5,559.3 1716.5,559.3 1720.5,559.3 1724.5,559.3 1728.5,559.3 1732.5,559.3 1736.5,559.3 1740.5,559.3 1744.5,559.3 1748.5,559.3 1752.5,559.3 1756.5,559.3 1760.5,559.3 1764.5,559.3 1768.5,559.3 1772.5,559.3 1776.5,559.3 1780.5,559.3 1784.5,559.3 1788.5,559.3 1792.5,559.3 1796.5,559.3 1800.5,559.3 1804.5,559.3 1808.5,559.3 1812.5,559.3 1816.5,559.3 1820.5,559.3 1824.5,559.3 1828.5,559.3 1832.5,559.3 1836.5,559.3 1840.5,559.3 1844.5,559.3 1848.5,559.3 1852.5,559.3 1856.5,559.3 1860.5,559.3 1864.5,559.3 1868.5,559.3 1872.5,559.3 1876.5,559.3 1880.5,559.3 1884.5,559.3 1888.5,559.4 1892.5,559.4 1896.5,559.4 1900.5,559.4 1904.5,559.4 1908.5,559.4 1912.5,559.5 1916.5,559.5 1920.5,559.5 1924.5,559.6 1928.5,559.6 1932.5,559.7 1936.5,559.7 1940.5,559.8 1944.5,559.9 1948.5,559.9 1952.5,560 1956.5,560.1 1960,560.2 1961,560.3 1962,560.3 1963,560.3 1964,560.4 1965,560.4 1966,560.4 1967,560.5 1968,560.5 1969,560.5 1970,560.6 1971,560.6 1972,560.7 1973,560.7 1974,560.8 1975,560.8 1976,560.9 1977,560.9 1978,561 1979,561 1980,561.1 1981,561.1 1982,561.2 1983,561.2 1984,561.3 1985,561.3"/>
<polyline fill="none" stroke="#a32d2d" stroke-width="5" stroke-linejoin="round" points="1364.5,558.2 1368.5,558.2 1372.5,558.2 1376.5,558.2 1380.5,558.2 1384.5,558.1 1388.5,558.1 1392.5,558.1 1396.5,558 1400.5,558 1404.5,557.9 1408.5,557.8 1412.5,557.8 1416.5,557.7 1420.5,557.6 1424.5,557.5 1428.5,557.4 1432.5,557.2 1436.5,557.1 1440.5,556.9 1444.5,556.8 1448.5,556.6 1452.5,556.4 1456.5,556.2 1460.5,556 1464.5,555.8 1468.5,555.5 1472.5,555.3 1476.5,555 1480.5,554.8 1484.5,554.5 1488.5,554.2 1492.5,553.9 1496.5,553.6 1500.5,553.3 1504.5,552.9 1508.5,552.6 1512.5,552.3 1516.5,552 1520.5,551.6 1524.5,551.3 1528.5,550.9 1532.5,550.6 1536.5,550.2 1540.5,549.9 1544.5,549.5 1548.5,549.2 1552.5,548.8 1556.5,548.5 1560.5,548.1 1564.5,547.8 1568.5,547.5 1572.5,547.1 1576.5,546.8 1580.5,546.6 1584.5,546.3 1588.5,546.1 1592.5,545.9 1596.5,545.7 1600.5,545.6 1604.5,545.5 1608.5,545.4 1612.5,545.4 1616.5,545.4 1620.5,545.5 1624.5,545.6 1628.5,545.7 1632.5,545.9 1636.5,546.1 1640.5,546.4 1644.5,546.6 1648.5,546.9 1652.5,547.3 1656.5,547.6 1660.5,547.9 1664.5,548.2 1668.5,548.6 1672.5,548.9 1676.5,549.2 1680.5,549.5 1684.5,549.7 1688.5,549.9 1692.5,550.1 1696.5,550.3 1700.5,550.4 1704.5,550.5 1708.5,550.6 1712.5,550.7 1716.5,550.7 1720.5,550.7 1724.5,550.6 1728.5,550.6 1732.5,550.6 1736.5,550.5 1740.5,550.4 1744.5,550.3 1748.5,550.2 1752.5,550.2 1756.5,550.1 1760.5,550 1764.5,549.9 1768.5,549.8 1772.5,549.7 1776.5,549.6 1780.5,549.5 1784.5,549.4 1788.5,549.2 1792.5,549 1796.5,548.8 1800.5,548.6 1804.5,548.4 1808.5,548.1 1812.5,547.8 1816.5,547.4 1820.5,547.1 1824.5,546.7 1828.5,546.3 1832.5,545.8 1836.5,545.4 1840.5,544.9 1844.5,544.5 1848.5,544 1852.5,543.5 1856.5,543.1 1860.5,542.6 1864.5,542.1 1868.5,541.6 1872.5,541.1 1876.5,540.6 1880.5,540 1884.5,539.4 1888.5,538.7 1892.5,538 1896.5,537.1 1900.5,536.2 1904.5,535.2 1908.5,534.2 1912.5,533 1916.5,531.7 1920.5,530.4 1924.5,529 1928.5,527.5 1932.5,526 1936.5,524.5 1940.5,522.9 1944.5,521.4 1948.5,519.9 1952.5,518.5 1956.5,517.1 1960,515.9 1961,515.6 1962,515.3 1963,515 1964,514.7 1965,514.4 1966,514.1 1967,513.8 1968,513.5 1969,513.2 1970,513 1971,512.7 1972,512.4 1973,512.1 1974,511.8 1975,511.5 1976,511.3 1977,511 1978,510.7 1979,510.4 1980,510.1 1981,509.7 1982,509.4 1983,509.1 1984,508.7 1985,508.3 1986,507.9 1987,507.5 1988,507 1989,506.5 1990,506 1991,505.4 1992,504.8 1993,504.2 1994,503.4 1995,502.7 1996,501.8 1997,500.9 1998,499.9 1999,498.9 2000,497.7 2001,496.5 2002,495.1 2003,493.6 2004,492.1 2005,490.4 2006,488.5 2007,486.6 2008,484.5 2009,482.2 2010,479.8 2011,477.2 2012,474.5 2013,471.6 2014,468.5 2015,465.2 2016,461.8 2017,458.1 2018,454.3 2019,450.2 2020,446 2021,441.6 2022,437 2023,432.2 2024,427.2 2025,422 2026,416.7 2027,411.2 2028,405.5 2029,399.7 2030,393.8 2031,387.7 2032,381.5 2033,375.3 2034,368.9 2035,362.5 2036,356.1 2037,349.6 2038,343.2 2039,336.8 2040,330.4 2041,324.2 2042,318 2043,311.9 2044,306 2045,300.3 2046,294.8 2047,289.5 2048,284.5 2049,279.7 2050,275.2 2051,271.1 2052,267.3 2053,263.8 2054,260.7 2055,258 2056,255.7 2057,253.9 2058,252.4 2059,251.4 2060,250.9 2061,250.8 2062,251.1 2063,252.2 2064,253.9 2065,256.3 2066,259.4 2067,263.2 2068,267.6 2069,272.5 2070,278.1 2071,284.1 2072,290.6 2073,297.6 2074,304.9 2075,312.6 2076,320.5 2077,328.7 2078,337 2079,345.5 2080,354.1 2081,362.7 2082,371.3 2083,379.8 2084,388.2 2085,396.5 2086,404.7 2087,412.6 2088,420.4 2089,427.8 2090,435.1 2091,442 2092,448.6 2093,455 2094,461 2095,466.7 2096,472.1 2097,477.3 2098,482 2099,486.6 2100,490.8 2101,494.7 2102,498.4 2103,501.8 2104,505 2105,507.9 2106,510.7 2107,513.2 2108,515.6 2109,517.8 2110,519.9 2111,521.8 2112,523.6 2113,525.3 2114,526.9 2115,528.4 2116,529.8 2117,531.2 2118,532.5 2119,533.7 2120,534.9 2121,536.1 2122,537.2 2123,538.3 2124,539.4 2125,540.4 2126,541.5 2127,542.5 2128,543.5 2129,544.5 2130,545.5 2131,546.4 2132,547.4 2133,548.3 2134,549.3 2135,550.2 2136,551.1 2137,551.9 2138,552.8 2139,553.6 2140,554.5 2141,555.3 2142,556.1 2143,556.8 2144,557.6 2145,558.3 2146,559 2147,559.7 2148,560.4 2149,561 2150,561.6 2154,563.8 2158,565.7 2162,567.3 2166,568.6 2170,569.6 2174,570.5 2178,571.3 2182,571.9 2186,572.4 2190,572.8 2194,573.2 2198,573.5 2202,573.8 2206,574.1 2210,574.3 2214,574.5 2218,574.6 2222,574.8 2226,574.9 2230,575 2234,575 2238,575.1 2242,575.2 2246,575.2 2250,575.3 2254,575.3 2258,575.3 2262,575.3 2266,575.4 2270,575.4 2274,575.4 2278,575.4 2282,575.4 2286,575.4 2290,575.4 2294,575.4 2298,575.4 2302,575.4 2306,575.4 2306.5,575.4"/>
<polyline fill="none" stroke="#2a0505" stroke-width="4.4" stroke-dasharray="4.5 6.5" points="1364.5,558.2 1368.5,558.2 1372.5,558.2 1376.5,558.2 1380.5,558.2 1384.5,558.1 1388.5,558.1 1392.5,558.1 1396.5,558 1400.5,558 1404.5,557.9 1408.5,557.8 1412.5,557.8 1416.5,557.7 1420.5,557.6 1424.5,557.5 1428.5,557.4 1432.5,557.2 1436.5,557.1 1440.5,556.9 1444.5,556.8 1448.5,556.6 1452.5,556.4 1456.5,556.2 1460.5,556 1464.5,555.8 1468.5,555.5 1472.5,555.3 1476.5,555 1480.5,554.8 1484.5,554.5 1488.5,554.2 1492.5,553.9 1496.5,553.6 1500.5,553.3 1504.5,552.9 1508.5,552.6 1512.5,552.3 1516.5,552 1520.5,551.6 1524.5,551.3 1528.5,550.9 1532.5,550.6 1536.5,550.2 1540.5,549.9 1544.5,549.5 1548.5,549.2 1552.5,548.8 1556.5,548.5 1560.5,548.1 1564.5,547.8 1568.5,547.5 1572.5,547.1 1576.5,546.8 1580.5,546.6 1584.5,546.3 1588.5,546.1 1592.5,545.9 1596.5,545.7 1600.5,545.6 1604.5,545.5 1608.5,545.4 1612.5,545.4 1616.5,545.4 1620.5,545.5 1624.5,545.6 1628.5,545.7 1632.5,545.9 1636.5,546.1 1640.5,546.4 1644.5,546.6 1648.5,546.9 1652.5,547.3 1656.5,547.6 1660.5,547.9 1664.5,548.2 1668.5,548.6 1672.5,548.9 1676.5,549.2 1680.5,549.5 1684.5,549.7 1688.5,549.9 1692.5,550.1 1696.5,550.3 1700.5,550.4 1704.5,550.5 1708.5,550.6 1712.5,550.7 1716.5,550.7 1720.5,550.7 1724.5,550.6 1728.5,550.6 1732.5,550.6 1736.5,550.5 1740.5,550.4 1744.5,550.3 1748.5,550.2 1752.5,550.2 1756.5,550.1 1760.5,550 1764.5,549.9 1768.5,549.8 1772.5,549.7 1776.5,549.6 1780.5,549.5 1784.5,549.4 1788.5,549.2 1792.5,549 1796.5,548.8 1800.5,548.6 1804.5,548.4 1808.5,548.1 1812.5,547.8 1816.5,547.4 1820.5,547.1 1824.5,546.7 1828.5,546.3 1832.5,545.8 1836.5,545.4 1840.5,544.9 1844.5,544.5 1848.5,544 1852.5,543.5 1856.5,543.1 1860.5,542.6 1864.5,542.1 1868.5,541.6 1872.5,541.1 1876.5,540.6 1880.5,540 1884.5,539.4 1888.5,538.7 1892.5,538 1896.5,537.1 1900.5,536.2 1904.5,535.2 1908.5,534.2 1912.5,533 1916.5,531.7 1920.5,530.4 1924.5,529 1928.5,527.5 1932.5,526 1936.5,524.5 1940.5,522.9 1944.5,521.4 1948.5,519.9 1952.5,518.5 1956.5,517.1 1960,515.9 1961,515.6 1962,515.3 1963,515 1964,514.7 1965,514.4 1966,514.1 1967,513.8 1968,513.5 1969,513.2 1970,513 1971,512.7 1972,512.4 1973,512.1 1974,511.8 1975,511.5 1976,511.3 1977,511 1978,510.7 1979,510.4 1980,510.1 1981,509.7 1982,509.4 1983,509.1 1984,508.7 1985,508.3 1986,507.9 1987,507.5 1988,507 1989,506.5 1990,506 1991,505.4 1992,504.8 1993,504.2 1994,503.4 1995,502.7 1996,501.8 1997,500.9 1998,499.9 1999,498.9 2000,497.7 2001,496.5 2002,495.1 2003,493.6 2004,492.1 2005,490.4 2006,488.5 2007,486.6 2008,484.5 2009,482.2 2010,479.8 2011,477.2 2012,474.5 2013,471.6 2014,468.5 2015,465.2 2016,461.8 2017,458.1 2018,454.3 2019,450.2 2020,446 2021,441.6 2022,437 2023,432.2 2024,427.2 2025,422 2026,416.7 2027,411.2 2028,405.5 2029,399.7 2030,393.8 2031,387.7 2032,381.5 2033,375.3 2034,368.9 2035,362.5 2036,356.1 2037,349.6 2038,343.2 2039,336.8 2040,330.4 2041,324.2 2042,318 2043,311.9 2044,306 2045,300.3 2046,294.8 2047,289.5 2048,284.5 2049,279.7 2050,275.2 2051,271.1 2052,267.3 2053,263.8 2054,260.7 2055,258 2056,255.7 2057,253.9 2058,252.4 2059,251.4 2060,250.9 2061,250.8 2062,251.1 2063,252.2 2064,253.9 2065,256.3 2066,259.4 2067,263.2 2068,267.6 2069,272.5 2070,278.1 2071,284.1 2072,290.6 2073,297.6 2074,304.9 2075,312.6 2076,320.5 2077,328.7 2078,337 2079,345.5 2080,354.1 2081,362.7 2082,371.3 2083,379.8 2084,388.2 2085,396.5 2086,404.7 2087,412.6 2088,420.4 2089,427.8 2090,435.1 2091,442 2092,448.6 2093,455 2094,461 2095,466.7 2096,472.1 2097,477.3 2098,482 2099,486.6 2100,490.8 2101,494.7 2102,498.4 2103,501.8 2104,505 2105,507.9 2106,510.7 2107,513.2 2108,515.6 2109,517.8 2110,519.9 2111,521.8 2112,523.6 2113,525.3 2114,526.9 2115,528.4 2116,529.8 2117,531.2 2118,532.5 2119,533.7 2120,534.9 2121,536.1 2122,537.2 2123,538.3 2124,539.4 2125,540.4 2126,541.5 2127,542.5 2128,543.5 2129,544.5 2130,545.5 2131,546.4 2132,547.4 2133,548.3 2134,549.3 2135,550.2 2136,551.1 2137,551.9 2138,552.8 2139,553.6 2140,554.5 2141,555.3 2142,556.1 2143,556.8 2144,557.6 2145,558.3 2146,559 2147,559.7 2148,560.4 2149,561 2150,561.6 2154,563.8 2158,565.7 2162,567.3 2166,568.6 2170,569.6 2174,570.5 2178,571.3 2182,571.9 2186,572.4 2190,572.8 2194,573.2 2198,573.5 2202,573.8 2206,574.1 2210,574.3 2214,574.5 2218,574.6 2222,574.8 2226,574.9 2230,575 2234,575 2238,575.1 2242,575.2 2246,575.2 2250,575.3 2254,575.3 2258,575.3 2262,575.3 2266,575.4 2270,575.4 2274,575.4 2278,575.4 2282,575.4 2286,575.4 2290,575.4 2294,575.4 2298,575.4 2302,575.4 2306,575.4 2306.5,575.4"/>
<g fill="none" stroke="#000" stroke-width="4.2" stroke-dasharray="4.5 6.5">
<polyline points="1512.5,974.1 1516.5,974.1 1520.5,974.1 1524.5,974.1 1528.5,974.1 1532.5,974.1 1536.5,974.1 1540.5,974.1 1544.5,974.1 1548.5,974.2 1552.5,974.2 1556.5,974.2 1560.5,974.2 1564.5,974.2 1568.5,974.2 1572.5,974.2 1576.5,974.2 1580.5,974.2 1584.5,974.2 1588.5,974.2 1592.5,974.2 1596.5,974.2 1600.5,974.2 1604.5,974.2 1608.5,974.3 1612.5,974.3 1616.5,974.3 1620.5,974.3 1624.5,974.3 1628.5,974.3 1632.5,974.3 1636.5,974.3 1640.5,974.3 1644.5,974.3 1648.5,974.3 1652.5,974.3 1656.5,974.3 1660.5,974.3 1664.5,974.3 1668.5,974.3 1672.5,974.4 1676.5,974.4 1680.5,974.4 1684.5,974.4 1688.5,974.4 1692.5,974.4 1696.5,974.4 1700.5,974.4 1704.5,974.4 1708.5,974.4 1712.5,974.4 1716.5,974.4 1720.5,974.4 1724.5,974.4 1728.5,974.4 1732.5,974.4 1736.5,974.5 1740.5,974.5 1744.5,974.5 1748.5,974.5 1752.5,974.5 1756.5,974.5 1760.5,974.5 1764.5,974.5 1768.5,974.5 1772.5,974.5 1776.5,974.5 1780.5,974.5 1784.5,974.5 1788.5,974.5 1792.5,974.5 1796.5,974.5 1800.5,974.6 1804.5,974.6 1808.5,974.6 1812.5,974.6 1816.5,974.6 1820.5,974.6 1824.5,974.6 1828.5,974.6 1832.5,974.6 1836.5,974.6 1840.5,974.6 1844.5,974.6 1848.5,974.6 1852.5,974.6 1856.5,974.6 1860.5,974.6 1864.5,974.7 1868.5,974.7 1872.5,974.7 1876.5,974.7 1880.5,974.7 1884.5,974.7 1888.5,974.7 1892.5,974.7 1896.5,974.7 1900.5,974.7 1904.5,974.7 1908.5,974.7 1912.5,974.7 1916.5,974.7 1920.5,974.7 1924.5,974.7 1928.5,974.8 1932.5,974.8 1936.5,974.8 1940.5,974.8 1944.5,974.8 1948.5,974.8 1952.5,974.8 1956.5,974.9 1960,974.9 1961,974.9 1962,974.9 1963,974.9 1964,974.9 1965,974.9 1966,974.9 1967,974.9 1968,975 1969,975 1970,975 1971,975 1972,975 1973,975 1974,975 1975,975.1 1976,975.1 1977,975.1 1978,975.1 1979,975.1 1980,975.2 1981,975.2 1982,975.2 1983,975.2 1984,975.3 1985,975.3 1986,975.3 1987,975.3 1988,975.4 1989,975.4 1990,975.5 1991,975.5 1992,975.5 1993,975.6 1994,975.6 1995,975.7 1996,975.7 1997,975.8 1998,975.9 1999,975.9 2000,976 2001,976.1 2002,976.1 2003,976.2 2004,976.3 2005,976.4 2006,976.5 2007,976.6 2008,976.7 2009,976.8 2010,976.9 2011,977 2012,977.1 2013,977.2 2014,977.4 2015,977.5 2016,977.6 2017,977.8 2018,977.9 2019,978.1 2020,978.3 2021,978.4 2022,978.6 2023,978.8 2024,979 2025,979.2 2026,979.4 2027,979.6 2028,979.8 2029,980 2030,980.2 2031,980.4 2032,980.7 2033,980.9 2034,981.1 2035,981.4 2036,981.6 2037,981.8 2038,982.1 2039,982.3 2040,982.5 2041,982.8 2042,983 2043,983.3 2044,983.5 2045,983.7 2046,984 2047,984.2 2048,984.4 2049,984.6 2050,984.8 2051,985.1 2052,985.3 2053,985.5 2054,985.7 2055,985.8 2056,986 2057,986.2 2058,986.4 2059,986.5 2060,986.7 2061,986.8 2062,987 2063,987.1 2064,987.2 2065,987.4 2066,987.5 2067,987.6 2068,987.7 2069,987.8 2070,987.8 2071,987.9 2072,988 2073,988 2074,988.1 2075,988.1 2076,988.2 2077,988.2 2078,988.2 2079,988.3 2080,988.3 2081,988.3 2082,988.3 2083,988.3 2084,988.3 2085,988.2 2086,988.2 2087,988.2 2088,988.2 2089,988.1 2090,988.1 2091,988.1 2092,988 2093,988 2094,987.9 2095,987.9 2096,987.8 2097,987.7 2098,987.7 2099,987.6 2100,987.6 2101,987.5 2102,987.5 2103,987.4 2104,987.4 2105,987.3 2106,987.3 2107,987.2 2108,987.2 2109,987.2 2110,987.2 2111,987.1 2112,987.1 2113,987.1 2114,987.2 2115,987.2 2116,987.2 2117,987.2 2118,987.3 2119,987.3 2120,987.4 2121,987.4 2122,987.5 2123,987.6 2124,987.7 2125,987.7 2126,987.8 2127,987.9 2128,988 2129,988.1 2130,988.2 2131,988.3 2132,988.4 2133,988.5 2134,988.5 2135,988.6 2136,988.7 2137,988.8 2138,988.9 2139,989 2140,989.1 2141,989.1 2142,989.2 2143,989.3 2144,989.3 2145,989.4 2146,989.5 2147,989.5 2148,989.6 2149,989.7 2150,989.7 2154,989.9 2158,990.1 2162,990.2 2166,990.3 2170,990.4 2174,990.4 2178,990.5 2182,990.5 2186,990.6 2190,990.6 2194,990.6 2198,990.6 2202,990.7 2206,990.7 2210,990.7 2214,990.7 2218,990.7 2222,990.7 2226,990.7 2230,990.8 2234,990.8 2238,990.8 2242,990.8 2246,990.8 2250,990.8 2254,990.8 2258,990.8 2262,990.8 2266,990.8 2270,990.9 2274,990.9 2278,990.9 2282,990.9 2286,990.9 2290,990.9 2294,990.9 2298,990.9 2302,990.9 2306,990.9 2306.5,990.9"/>
<polyline points="1512.5,973.8 1516.5,973.8 1520.5,973.8 1524.5,973.8 1528.5,973.8 1532.5,973.8 1536.5,973.8 1540.5,973.8 1544.5,973.8 1548.5,973.8 1552.5,973.8 1556.5,973.8 1560.5,973.8 1564.5,973.8 1568.5,973.8 1572.5,973.8 1576.5,973.8 1580.5,973.8 1584.5,973.8 1588.5,973.8 1592.5,973.8 1596.5,973.8 1600.5,973.8 1604.5,973.8 1608.5,973.8 1612.5,973.8 1616.5,973.8 1620.5,973.8 1624.5,973.8 1628.5,973.8 1632.5,973.8 1636.5,973.8 1640.5,973.8 1644.5,973.8 1648.5,973.8 1652.5,973.8 1656.5,973.8 1660.5,973.8 1664.5,973.8 1668.5,973.8 1672.5,973.8 1676.5,973.8 1680.5,973.8 1684.5,973.8 1688.5,973.8 1692.5,973.7 1696.5,973.7 1700.5,973.7 1704.5,973.7 1708.5,973.7 1712.5,973.7 1716.5,973.7 1720.5,973.7 1724.5,973.7 1728.5,973.7 1732.5,973.6 1736.5,973.6 1740.5,973.6 1744.5,973.6 1748.5,973.6 1752.5,973.6 1756.5,973.6 1760.5,973.5 1764.5,973.5 1768.5,973.5 1772.5,973.5 1776.5,973.5 1780.5,973.4 1784.5,973.4 1788.5,973.4 1792.5,973.3 1796.5,973.3 1800.5,973.3 1804.5,973.3 1808.5,973.2 1812.5,973.2 1816.5,973.1 1820.5,973.1 1824.5,973.1 1828.5,973 1832.5,973 1836.5,972.9 1840.5,972.9 1844.5,972.8 1848.5,972.7 1852.5,972.7 1856.5,972.6 1860.5,972.5 1864.5,972.4 1868.5,972.4 1872.5,972.3 1876.5,972.2 1880.5,972.1 1884.5,972 1888.5,971.8 1892.5,971.7 1896.5,971.6 1900.5,971.4 1904.5,971.3 1908.5,971.1 1912.5,970.9 1916.5,970.7 1920.5,970.5 1924.5,970.3 1928.5,970 1932.5,969.7 1936.5,969.4 1940.5,969.1 1944.5,968.7 1948.5,968.3 1952.5,967.9 1956.5,967.4 1960,966.9 1961,966.8 1962,966.6 1963,966.5 1964,966.3 1965,966.2 1966,966 1967,965.9 1968,965.7 1969,965.5 1970,965.3 1971,965.1 1972,965 1973,964.8 1974,964.5 1975,964.3 1976,964.1 1977,963.9 1978,963.7 1979,963.4 1980,963.2 1981,962.9 1982,962.6 1983,962.4 1984,962.1 1985,961.8 1986,961.5 1987,961.1 1988,960.8 1989,960.4 1990,960 1991,959.6 1992,959.2 1993,958.8 1994,958.3 1995,957.8 1996,957.3 1997,956.7 1998,956.1 1999,955.5 2000,954.8 2001,954.1 2002,953.3 2003,952.5 2004,951.6 2005,950.6 2006,949.6 2007,948.5 2008,947.3 2009,946 2010,944.7 2011,943.2 2012,941.6 2013,939.9 2014,938 2015,936 2016,933.9 2017,931.6 2018,929.2 2019,926.6 2020,923.8 2021,920.8 2022,917.6 2023,914.2 2024,910.6 2025,906.8 2026,902.8 2027,898.5 2028,894 2029,889.3 2030,884.3 2031,879.1 2032,873.6 2033,867.9 2034,862 2035,855.8 2036,849.4 2037,842.8 2038,836 2039,829 2040,821.8 2041,814.5 2042,807 2043,799.4 2044,791.8 2045,784.1 2046,776.4 2047,768.7 2048,761 2049,753.6 2050,746.2 2051,739.1 2052,732.3 2053,725.9 2054,719.9 2055,714.3 2056,709.3 2057,704.9 2058,701.2 2059,698.2 2060,695.9 2061,694.5 2062,693.9 2063,694.1 2064,695 2065,696.8 2066,699.3 2067,702.5 2068,706.4 2069,710.9 2070,716 2071,721.6 2072,727.6 2073,734.1 2074,740.9 2075,748 2076,755.4 2077,762.9 2078,770.5 2079,778.2 2080,786 2081,793.8 2082,801.5 2083,809.2 2084,816.8 2085,824.3 2086,831.6 2087,838.8 2088,845.8 2089,852.6 2090,859.3 2091,865.7 2092,871.9 2093,877.8 2094,883.6 2095,889.1 2096,894.4 2097,899.5 2098,904.3 2099,908.9 2100,913.2 2101,917.4 2102,921.3 2103,925 2104,928.5 2105,931.9 2106,935 2107,937.9 2108,940.7 2109,943.3 2110,945.7 2111,948 2112,950.1 2113,952.1 2114,953.9 2115,955.7 2116,957.3 2117,958.8 2118,960.2 2119,961.6 2120,962.8 2121,963.9 2122,965 2123,966 2124,967 2125,967.8 2126,968.7 2127,969.4 2128,970.1 2129,970.8 2130,971.5 2131,972.1 2132,972.6 2133,973.2 2134,973.7 2135,974.2 2136,974.6 2137,975.1 2138,975.5 2139,975.9 2140,976.3 2141,976.6 2142,977 2143,977.3 2144,977.6 2145,977.9 2146,978.2 2147,978.5 2148,978.8 2149,979 2150,979.3 2154,980.2 2158,981 2162,981.8 2166,982.4 2170,983 2174,983.5 2178,984 2182,984.4 2186,984.8 2190,985.2 2194,985.5 2198,985.8 2202,986.1 2206,986.3 2210,986.6 2214,986.8 2218,987 2222,987.2 2226,987.4 2230,987.5 2234,987.7 2238,987.8 2242,988 2246,988.1 2250,988.2 2254,988.3 2258,988.5 2262,988.6 2266,988.6 2270,988.7 2274,988.8 2278,988.9 2282,989 2286,989.1 2290,989.1 2294,989.2 2298,989.3 2302,989.3 2306,989.4 2306.5,989.4"/>
<polyline points="1512.5,974 1516.5,974 1520.5,974 1524.5,974 1528.5,974 1532.5,974 1536.5,974 1540.5,974 1544.5,974 1548.5,974 1552.5,974 1556.5,974 1560.5,974 1564.5,974 1568.5,974.1 1572.5,974.1 1576.5,974.1 1580.5,974.1 1584.5,974.1 1588.5,974.1 1592.5,974.1 1596.5,974.1 1600.5,974.1 1604.5,974.1 1608.5,974.1 1612.5,974.1 1616.5,974.1 1620.5,974.1 1624.5,974.1 1628.5,974.1 1632.5,974.1 1636.5,974.1 1640.5,974.1 1644.5,974.1 1648.5,974.1 1652.5,974.1 1656.5,974.1 1660.5,974.1 1664.5,974.1 1668.5,974.1 1672.5,974.1 1676.5,974.1 1680.5,974.1 1684.5,974.1 1688.5,974.1 1692.5,974.1 1696.5,974.1 1700.5,974.1 1704.5,974.1 1708.5,974.1 1712.5,974.1 1716.5,974.1 1720.5,974.1 1724.5,974.1 1728.5,974.1 1732.5,974.1 1736.5,974.1 1740.5,974.1 1744.5,974.1 1748.5,974.1 1752.5,974.1 1756.5,974.1 1760.5,974.1 1764.5,974.1 1768.5,974.1 1772.5,974.1 1776.5,974.1 1780.5,974.1 1784.5,974.1 1788.5,974.1 1792.5,974 1796.5,974 1800.5,974 1804.5,974 1808.5,974 1812.5,974 1816.5,974 1820.5,973.9 1824.5,973.9 1828.5,973.9 1832.5,973.9 1836.5,973.9 1840.5,973.8 1844.5,973.8 1848.5,973.8 1852.5,973.8 1856.5,973.7 1860.5,973.7 1864.5,973.7 1868.5,973.6 1872.5,973.6 1876.5,973.5 1880.5,973.5 1884.5,973.4 1888.5,973.3 1892.5,973.3 1896.5,973.2 1900.5,973.1 1904.5,973 1908.5,972.9 1912.5,972.8 1916.5,972.7 1920.5,972.6 1924.5,972.4 1928.5,972.2 1932.5,972 1936.5,971.8 1940.5,971.5 1944.5,971.1 1948.5,970.7 1952.5,970.2 1956.5,969.6 1960,968.9 1961,968.7 1962,968.5 1963,968.3 1964,968.1 1965,967.8 1966,967.6 1967,967.3 1968,967.1 1969,966.8 1970,966.5 1971,966.2 1972,965.9 1973,965.5 1974,965.2 1975,964.8 1976,964.5 1977,964.1 1978,963.7 1979,963.3 1980,962.9 1981,962.5 1982,962 1983,961.6 1984,961.1 1985,960.6 1986,960.1 1987,959.6 1988,959.1 1989,958.6 1990,958 1991,957.5 1992,956.9 1993,956.3 1994,955.7 1995,955.1 1996,954.5 1997,953.9 1998,953.3 1999,952.7 2000,952 2001,951.4 2002,950.8 2003,950.1 2004,949.5 2005,948.9 2006,948.2 2007,947.6 2008,946.9 2009,946.3 2010,945.7 2011,945.1 2012,944.5 2013,943.9 2014,943.4 2015,942.9 2016,942.3 2017,941.8 2018,941.4 2019,940.9 2020,940.5 2021,940.2 2022,939.8 2023,939.5 2024,939.3 2025,939.1 2026,938.9 2027,938.8 2028,938.7 2029,938.7 2030,938.7 2031,938.8 2032,939 2033,939.2 2034,939.4 2035,939.7 2036,940.1 2037,940.5 2038,940.9 2039,941.4 2040,941.9 2041,942.5 2042,943.1 2043,943.8 2044,944.5 2045,945.2 2046,946 2047,946.8 2048,947.6 2049,948.4 2050,949.3 2051,950.2 2052,951 2053,951.9 2054,952.8 2055,953.7 2056,954.7 2057,955.6 2058,956.5 2059,957.4 2060,958.3 2061,959.2 2062,960.1 2063,961 2064,961.8 2065,962.7 2066,963.5 2067,964.4 2068,965.2 2069,966 2070,966.8 2071,967.6 2072,968.3 2073,969.1 2074,969.8 2075,970.5 2076,971.2 2077,971.9 2078,972.6 2079,973.2 2080,973.8 2081,974.4 2082,975 2083,975.6 2084,976.1 2085,976.7 2086,977.2 2087,977.7 2088,978.1 2089,978.6 2090,979.1 2091,979.5 2092,979.9 2093,980.3 2094,980.7 2095,981.1 2096,981.4 2097,981.8 2098,982.1 2099,982.4 2100,982.7 2101,983 2102,983.3 2103,983.5 2104,983.8 2105,984 2106,984.3 2107,984.5 2108,984.7 2109,984.9 2110,985.1 2111,985.3 2112,985.5 2113,985.6 2114,985.8 2115,985.9 2116,986.1 2117,986.2 2118,986.4 2119,986.5 2120,986.6 2121,986.7 2122,986.8 2123,986.9 2124,987 2125,987.1 2126,987.2 2127,987.3 2128,987.4 2129,987.5 2130,987.6 2131,987.6 2132,987.7 2133,987.8 2134,987.9 2135,987.9 2136,988 2137,988 2138,988.1 2139,988.1 2140,988.2 2141,988.2 2142,988.3 2143,988.3 2144,988.4 2145,988.4 2146,988.5 2147,988.5 2148,988.6 2149,988.6 2150,988.6 2154,988.8 2158,988.9 2162,989 2166,989.1 2170,989.2 2174,989.3 2178,989.4 2182,989.5 2186,989.5 2190,989.6 2194,989.7 2198,989.7 2202,989.8 2206,989.8 2210,989.9 2214,989.9 2218,990 2222,990 2226,990 2230,990.1 2234,990.1 2238,990.1 2242,990.2 2246,990.2 2250,990.2 2254,990.3 2258,990.3 2262,990.3 2266,990.3 2270,990.4 2274,990.4 2278,990.4 2282,990.4 2286,990.5 2290,990.5 2294,990.5 2298,990.5 2302,990.5 2306,990.6 2306.5,990.6"/>
<polyline points="1512.5,974.1 1516.5,974.1 1520.5,974.1 1524.5,974.1 1528.5,974.1 1532.5,974.1 1536.5,974.1 1540.5,974.1 1544.5,974.2 1548.5,974.2 1552.5,974.2 1556.5,974.2 1560.5,974.2 1564.5,974.2 1568.5,974.2 1572.5,974.2 1576.5,974.2 1580.5,974.2 1584.5,974.2 1588.5,974.2 1592.5,974.2 1596.5,974.2 1600.5,974.2 1604.5,974.2 1608.5,974.3 1612.5,974.3 1616.5,974.3 1620.5,974.3 1624.5,974.3 1628.5,974.3 1632.5,974.3 1636.5,974.3 1640.5,974.3 1644.5,974.3 1648.5,974.3 1652.5,974.3 1656.5,974.3 1660.5,974.3 1664.5,974.3 1668.5,974.4 1672.5,974.4 1676.5,974.4 1680.5,974.4 1684.5,974.4 1688.5,974.4 1692.5,974.4 1696.5,974.4 1700.5,974.4 1704.5,974.4 1708.5,974.4 1712.5,974.4 1716.5,974.4 1720.5,974.4 1724.5,974.4 1728.5,974.4 1732.5,974.5 1736.5,974.5 1740.5,974.5 1744.5,974.5 1748.5,974.5 1752.5,974.5 1756.5,974.5 1760.5,974.5 1764.5,974.5 1768.5,974.5 1772.5,974.5 1776.5,974.5 1780.5,974.5 1784.5,974.5 1788.5,974.5 1792.5,974.5 1796.5,974.6 1800.5,974.6 1804.5,974.6 1808.5,974.6 1812.5,974.6 1816.5,974.5 1820.5,974.5 1824.5,974.5 1828.5,974.5 1832.5,974.5 1836.5,974.4 1840.5,974.3 1844.5,974.2 1848.5,974.1 1852.5,974 1856.5,973.8 1860.5,973.6 1864.5,973.3 1868.5,973 1872.5,972.6 1876.5,972.1 1880.5,971.6 1884.5,970.9 1888.5,970.2 1892.5,969.5 1896.5,968.6 1900.5,967.7 1904.5,966.8 1908.5,965.8 1912.5,964.7 1916.5,963.7 1920.5,962.6 1924.5,961.6 1928.5,960.7 1932.5,959.8 1936.5,959 1940.5,958.4 1944.5,957.9 1948.5,957.6 1952.5,957.4 1956.5,957.4 1960,957.6 1961,957.7 1962,957.7 1963,957.8 1964,957.9 1965,958.1 1966,958.2 1967,958.3 1968,958.5 1969,958.6 1970,958.8 1971,958.9 1972,959.1 1973,959.3 1974,959.5 1975,959.7 1976,959.9 1977,960.2 1978,960.4 1979,960.6 1980,960.9 1981,961.1 1982,961.4 1983,961.7 1984,961.9 1985,962.2 1986,962.5 1987,962.8 1988,963.1 1989,963.4 1990,963.7 1991,964 1992,964.3 1993,964.6 1994,964.9 1995,965.2 1996,965.5 1997,965.9 1998,966.2 1999,966.5 2000,966.8 2001,967.2 2002,967.5 2003,967.8 2004,968.2 2005,968.5 2006,968.8 2007,969.2 2008,969.5 2009,969.9 2010,970.2 2011,970.6 2012,970.9 2013,971.3 2014,971.6 2015,972 2016,972.3 2017,972.7 2018,973 2019,973.4 2020,973.7 2021,974.1 2022,974.5 2023,974.8 2024,975.2 2025,975.6 2026,975.9 2027,976.3 2028,976.6 2029,977 2030,977.4 2031,977.7 2032,978.1 2033,978.5 2034,978.8 2035,979.2 2036,979.5 2037,979.9 2038,980.2 2039,980.6 2040,980.9 2041,981.3 2042,981.6 2043,981.9 2044,982.3 2045,982.6 2046,982.9 2047,983.2 2048,983.5 2049,983.8 2050,984.1 2051,984.4 2052,984.6 2053,984.9 2054,985.2 2055,985.4 2056,985.6 2057,985.9 2058,986.1 2059,986.3 2060,986.5 2061,986.7 2062,986.9 2063,987.1 2064,987.3 2065,987.5 2066,987.6 2067,987.8 2068,987.9 2069,988.1 2070,988.2 2071,988.4 2072,988.5 2073,988.6 2074,988.7 2075,988.8 2076,988.9 2077,989 2078,989.1 2079,989.2 2080,989.3 2081,989.4 2082,989.4 2083,989.5 2084,989.6 2085,989.6 2086,989.7 2087,989.7 2088,989.8 2089,989.8 2090,989.9 2091,989.9 2092,990 2093,990 2094,990.1 2095,990.1 2096,990.1 2097,990.2 2098,990.2 2099,990.2 2100,990.2 2101,990.3 2102,990.3 2103,990.3 2104,990.3 2105,990.4 2106,990.4 2107,990.4 2108,990.4 2109,990.4 2110,990.4 2111,990.5 2112,990.5 2113,990.5 2114,990.5 2115,990.5 2116,990.5 2117,990.5 2118,990.5 2119,990.5 2120,990.5 2121,990.6 2122,990.6 2123,990.6 2124,990.6 2125,990.6 2126,990.6 2127,990.6 2128,990.6 2129,990.6 2130,990.6 2131,990.6 2132,990.6 2133,990.6 2134,990.6 2135,990.6 2136,990.6 2137,990.6 2138,990.7 2139,990.7 2140,990.7 2141,990.7 2142,990.7 2143,990.7 2144,990.7 2145,990.7 2146,990.7 2147,990.7 2148,990.7 2149,990.7 2150,990.7 2154,990.7 2158,990.7 2162,990.7 2166,990.7 2170,990.7 2174,990.7 2178,990.7 2182,990.8 2186,990.8 2190,990.8 2194,990.8 2198,990.8 2202,990.8 2206,990.8 2210,990.8 2214,990.8 2218,990.8 2222,990.8 2226,990.8 2230,990.8 2234,990.8 2238,990.8 2242,990.9 2246,990.9 2250,990.9 2254,990.9 2258,990.9 2262,990.9 2266,990.9 2270,990.9 2274,990.9 2278,990.9 2282,990.9 2286,990.9 2290,990.9 2294,990.9 2298,990.9 2302,991 2306,991 2306.5,991"/>
<polyline points="1512.5,974.1 1516.5,974.1 1520.5,974.1 1524.5,974.1 1528.5,974.1 1532.5,974.1 1536.5,974.1 1540.5,974.1 1544.5,974.2 1548.5,974.2 1552.5,974.2 1556.5,974.2 1560.5,974.2 1564.5,974.2 1568.5,974.2 1572.5,974.2 1576.5,974.2 1580.5,974.2 1584.5,974.2 1588.5,974.2 1592.5,974.2 1596.5,974.2 1600.5,974.2 1604.5,974.2 1608.5,974.3 1612.5,974.3 1616.5,974.3 1620.5,974.3 1624.5,974.3 1628.5,974.3 1632.5,974.3 1636.5,974.3 1640.5,974.3 1644.5,974.3 1648.5,974.3 1652.5,974.3 1656.5,974.3 1660.5,974.3 1664.5,974.3 1668.5,974.4 1672.5,974.4 1676.5,974.4 1680.5,974.4 1684.5,974.4 1688.5,974.4 1692.5,974.4 1696.5,974.4 1700.5,974.4 1704.5,974.4 1708.5,974.4 1712.5,974.4 1716.5,974.4 1720.5,974.4 1724.5,974.4 1728.5,974.3 1732.5,974.3 1736.5,974.3 1740.5,974.3 1744.5,974.2 1748.5,974.1 1752.5,974.1 1756.5,974 1760.5,973.9 1764.5,973.7 1768.5,973.6 1772.5,973.4 1776.5,973.2 1780.5,973 1784.5,972.7 1788.5,972.5 1792.5,972.1 1796.5,971.8 1800.5,971.4 1804.5,971 1808.5,970.6 1812.5,970.1 1816.5,969.7 1820.5,969.2 1824.5,968.7 1828.5,968.2 1832.5,967.7 1836.5,967.3 1840.5,966.8 1844.5,966.4 1848.5,966.1 1852.5,965.7 1856.5,965.5 1860.5,965.3 1864.5,965.1 1868.5,965.1 1872.5,965.1 1876.5,965.1 1880.5,965.2 1884.5,965.4 1888.5,965.7 1892.5,966 1896.5,966.4 1900.5,966.8 1904.5,967.2 1908.5,967.7 1912.5,968.2 1916.5,968.7 1920.5,969.2 1924.5,969.7 1928.5,970.1 1932.5,970.6 1936.5,971.1 1940.5,971.5 1944.5,971.9 1948.5,972.3 1952.5,972.7 1956.5,973 1960,973.3 1961,973.3 1962,973.4 1963,973.5 1964,973.5 1965,973.6 1966,973.7 1967,973.7 1968,973.8 1969,973.9 1970,973.9 1971,974 1972,974.1 1973,974.1 1974,974.2 1975,974.2 1976,974.3 1977,974.4 1978,974.4 1979,974.5 1980,974.5 1981,974.6 1982,974.6 1983,974.7 1984,974.8 1985,974.8 1986,974.9 1987,974.9 1988,975 1989,975.1 1990,975.1 1991,975.2 1992,975.2 1993,975.3 1994,975.4 1995,975.4 1996,975.5 1997,975.6 1998,975.7 1999,975.7 2000,975.8 2001,975.9 2002,976 2003,976.1 2004,976.2 2005,976.3 2006,976.4 2007,976.5 2008,976.6 2009,976.7 2010,976.8 2011,977 2012,977.1 2013,977.2 2014,977.4 2015,977.5 2016,977.7 2017,977.8 2018,978 2019,978.1 2020,978.3 2021,978.5 2022,978.7 2023,978.9 2024,979.1 2025,979.3 2026,979.5 2027,979.7 2028,979.9 2029,980.1 2030,980.3 2031,980.6 2032,980.8 2033,981 2034,981.3 2035,981.5 2036,981.7 2037,982 2038,982.2 2039,982.5 2040,982.7 2041,983 2042,983.2 2043,983.5 2044,983.7 2045,983.9 2046,984.2 2047,984.4 2048,984.7 2049,984.9 2050,985.1 2051,985.3 2052,985.5 2053,985.8 2054,986 2055,986.2 2056,986.4 2057,986.6 2058,986.7 2059,986.9 2060,987.1 2061,987.3 2062,987.4 2063,987.6 2064,987.7 2065,987.9 2066,988 2067,988.1 2068,988.3 2069,988.4 2070,988.5 2071,988.6 2072,988.7 2073,988.8 2074,988.9 2075,989 2076,989.1 2077,989.2 2078,989.3 2079,989.3 2080,989.4 2081,989.5 2082,989.5 2083,989.6 2084,989.7 2085,989.7 2086,989.8 2087,989.8 2088,989.9 2089,989.9 2090,990 2091,990 2092,990 2093,990.1 2094,990.1 2095,990.1 2096,990.2 2097,990.2 2098,990.2 2099,990.2 2100,990.3 2101,990.3 2102,990.3 2103,990.3 2104,990.4 2105,990.4 2106,990.4 2107,990.4 2108,990.4 2109,990.4 2110,990.4 2111,990.5 2112,990.5 2113,990.5 2114,990.5 2115,990.5 2116,990.5 2117,990.5 2118,990.5 2119,990.5 2120,990.6 2121,990.6 2122,990.6 2123,990.6 2124,990.6 2125,990.6 2126,990.6 2127,990.6 2128,990.6 2129,990.6 2130,990.6 2131,990.6 2132,990.6 2133,990.6 2134,990.6 2135,990.6 2136,990.6 2137,990.6 2138,990.7 2139,990.7 2140,990.7 2141,990.7 2142,990.7 2143,990.7 2144,990.7 2145,990.7 2146,990.7 2147,990.7 2148,990.7 2149,990.7 2150,990.7 2154,990.7 2158,990.7 2162,990.7 2166,990.7 2170,990.7 2174,990.7 2178,990.7 2182,990.8 2186,990.8 2190,990.8 2194,990.8 2198,990.8 2202,990.8 2206,990.8 2210,990.8 2214,990.8 2218,990.8 2222,990.8 2226,990.8 2230,990.8 2234,990.8 2238,990.8 2242,990.9 2246,990.9 2250,990.9 2254,990.9 2258,990.9 2262,990.9 2266,990.9 2270,990.9 2274,990.9 2278,990.9 2282,990.9 2286,990.9 2290,990.9 2294,990.9 2298,990.9 2302,991 2306,991 2306.5,991"/>
<polyline points="1512.5,974.1 1516.5,974.1 1520.5,974.1 1524.5,974.1 1528.5,974.1 1532.5,974.1 1536.5,974.1 1540.5,974.1 1544.5,974.1 1548.5,974.2 1552.5,974.2 1556.5,974.2 1560.5,974.2 1564.5,974.2 1568.5,974.2 1572.5,974.2 1576.5,974.2 1580.5,974.2 1584.5,974.2 1588.5,974.2 1592.5,974.2 1596.5,974.2 1600.5,974.2 1604.5,974.1 1608.5,974.1 1612.5,974.1 1616.5,974.1 1620.5,974 1624.5,974 1628.5,974 1632.5,973.9 1636.5,973.8 1640.5,973.7 1644.5,973.7 1648.5,973.5 1652.5,973.4 1656.5,973.3 1660.5,973.2 1664.5,973 1668.5,972.8 1672.5,972.6 1676.5,972.4 1680.5,972.2 1684.5,971.9 1688.5,971.7 1692.5,971.4 1696.5,971.1 1700.5,970.9 1704.5,970.6 1708.5,970.3 1712.5,970 1716.5,969.7 1720.5,969.4 1724.5,969.2 1728.5,968.9 1732.5,968.7 1736.5,968.5 1740.5,968.3 1744.5,968.1 1748.5,968 1752.5,967.9 1756.5,967.9 1760.5,967.8 1764.5,967.8 1768.5,967.9 1772.5,968 1776.5,968.1 1780.5,968.2 1784.5,968.4 1788.5,968.6 1792.5,968.8 1796.5,969.1 1800.5,969.4 1804.5,969.6 1808.5,969.9 1812.5,970.2 1816.5,970.5 1820.5,970.8 1824.5,971.1 1828.5,971.4 1832.5,971.7 1836.5,972 1840.5,972.3 1844.5,972.5 1848.5,972.7 1852.5,973 1856.5,973.2 1860.5,973.4 1864.5,973.5 1868.5,973.7 1872.5,973.8 1876.5,973.9 1880.5,974.1 1884.5,974.2 1888.5,974.3 1892.5,974.3 1896.5,974.4 1900.5,974.5 1904.5,974.5 1908.5,974.6 1912.5,974.6 1916.5,974.6 1920.5,974.7 1924.5,974.7 1928.5,974.7 1932.5,974.7 1936.5,974.8 1940.5,974.8 1944.5,974.8 1948.5,974.8 1952.5,974.9 1956.5,974.9 1960,974.9 1961,974.9 1962,974.9 1963,974.9 1964,975 1965,975 1966,975 1967,975 1968,975 1969,975 1970,975 1971,975 1972,975.1 1973,975.1 1974,975.1 1975,975.1 1976,975.1 1977,975.1 1978,975.2 1979,975.2 1980,975.2 1981,975.2 1982,975.3 1983,975.3 1984,975.3 1985,975.3 1986,975.4 1987,975.4 1988,975.4 1989,975.5 1990,975.5 1991,975.6 1992,975.6 1993,975.7 1994,975.7 1995,975.8 1996,975.8 1997,975.9 1998,975.9 1999,976 2000,976.1 2001,976.1 2002,976.2 2003,976.3 2004,976.4 2005,976.5 2006,976.6 2007,976.7 2008,976.8 2009,976.9 2010,977 2011,977.1 2012,977.2 2013,977.3 2014,977.5 2015,977.6 2016,977.8 2017,977.9 2018,978.1 2019,978.2 2020,978.4 2021,978.6 2022,978.7 2023,978.9 2024,979.1 2025,979.3 2026,979.5 2027,979.7 2028,979.9 2029,980.1 2030,980.4 2031,980.6 2032,980.8 2033,981.1 2034,981.3 2035,981.5 2036,981.8 2037,982 2038,982.3 2039,982.5 2040,982.7 2041,983 2042,983.2 2043,983.5 2044,983.7 2045,984 2046,984.2 2047,984.4 2048,984.7 2049,984.9 2050,985.1 2051,985.3 2052,985.6 2053,985.8 2054,986 2055,986.2 2056,986.4 2057,986.6 2058,986.7 2059,986.9 2060,987.1 2061,987.3 2062,987.4 2063,987.6 2064,987.7 2065,987.9 2066,988 2067,988.1 2068,988.3 2069,988.4 2070,988.5 2071,988.6 2072,988.7 2073,988.8 2074,988.9 2075,989 2076,989.1 2077,989.2 2078,989.3 2079,989.3 2080,989.4 2081,989.5 2082,989.5 2083,989.6 2084,989.7 2085,989.7 2086,989.8 2087,989.8 2088,989.9 2089,989.9 2090,990 2091,990 2092,990 2093,990.1 2094,990.1 2095,990.1 2096,990.2 2097,990.2 2098,990.2 2099,990.2 2100,990.3 2101,990.3 2102,990.3 2103,990.3 2104,990.4 2105,990.4 2106,990.4 2107,990.4 2108,990.4 2109,990.4 2110,990.4 2111,990.5 2112,990.5 2113,990.5 2114,990.5 2115,990.5 2116,990.5 2117,990.5 2118,990.5 2119,990.5 2120,990.6 2121,990.6 2122,990.6 2123,990.6 2124,990.6 2125,990.6 2126,990.6 2127,990.6 2128,990.6 2129,990.6 2130,990.6 2131,990.6 2132,990.6 2133,990.6 2134,990.6 2135,990.6 2136,990.6 2137,990.6 2138,990.7 2139,990.7 2140,990.7 2141,990.7 2142,990.7 2143,990.7 2144,990.7 2145,990.7 2146,990.7 2147,990.7 2148,990.7 2149,990.7 2150,990.7 2154,990.7 2158,990.7 2162,990.7 2166,990.7 2170,990.7 2174,990.7 2178,990.7 2182,990.8 2186,990.8 2190,990.8 2194,990.8 2198,990.8 2202,990.8 2206,990.8 2210,990.8 2214,990.8 2218,990.8 2222,990.8 2226,990.8 2230,990.8 2234,990.8 2238,990.8 2242,990.9 2246,990.9 2250,990.9 2254,990.9 2258,990.9 2262,990.9 2266,990.9 2270,990.9 2274,990.9 2278,990.9 2282,990.9 2286,990.9 2290,990.9 2294,990.9 2298,990.9 2302,991 2306,991 2306.5,991"/>
<polyline points="1512.5,972.7 1516.5,972.5 1520.5,972.2 1524.5,972 1528.5,971.7 1532.5,971.4 1536.5,971 1540.5,970.6 1544.5,970.3 1548.5,969.8 1552.5,969.4 1556.5,968.9 1560.5,968.5 1564.5,968 1568.5,967.5 1572.5,967 1576.5,966.5 1580.5,966.1 1584.5,965.6 1588.5,965.2 1592.5,964.8 1596.5,964.4 1600.5,964.1 1604.5,963.8 1608.5,963.6 1612.5,963.4 1616.5,963.2 1620.5,963.2 1624.5,963.2 1628.5,963.2 1632.5,963.3 1636.5,963.5 1640.5,963.7 1644.5,964 1648.5,964.3 1652.5,964.7 1656.5,965.1 1660.5,965.5 1664.5,966 1668.5,966.4 1672.5,966.9 1676.5,967.4 1680.5,967.9 1684.5,968.4 1688.5,968.9 1692.5,969.4 1696.5,969.8 1700.5,970.3 1704.5,970.7 1708.5,971.1 1712.5,971.5 1716.5,971.8 1720.5,972.1 1724.5,972.4 1728.5,972.7 1732.5,972.9 1736.5,973.2 1740.5,973.3 1744.5,973.5 1748.5,973.7 1752.5,973.8 1756.5,973.9 1760.5,974 1764.5,974.1 1768.5,974.2 1772.5,974.3 1776.5,974.3 1780.5,974.4 1784.5,974.4 1788.5,974.4 1792.5,974.5 1796.5,974.5 1800.5,974.5 1804.5,974.5 1808.5,974.5 1812.5,974.6 1816.5,974.6 1820.5,974.6 1824.5,974.6 1828.5,974.6 1832.5,974.6 1836.5,974.6 1840.5,974.6 1844.5,974.6 1848.5,974.6 1852.5,974.6 1856.5,974.7 1860.5,974.7 1864.5,974.7 1868.5,974.7 1872.5,974.7 1876.5,974.7 1880.5,974.7 1884.5,974.7 1888.5,974.7 1892.5,974.7 1896.5,974.7 1900.5,974.7 1904.5,974.7 1908.5,974.7 1912.5,974.8 1916.5,974.8 1920.5,974.8 1924.5,974.8 1928.5,974.8 1932.5,974.8 1936.5,974.8 1940.5,974.8 1944.5,974.8 1948.5,974.9 1952.5,974.9 1956.5,974.9 1960,974.9 1961,974.9 1962,974.9 1963,975 1964,975 1965,975 1966,975 1967,975 1968,975 1969,975 1970,975 1971,975 1972,975.1 1973,975.1 1974,975.1 1975,975.1 1976,975.1 1977,975.1 1978,975.2 1979,975.2 1980,975.2 1981,975.2 1982,975.3 1983,975.3 1984,975.3 1985,975.4 1986,975.4 1987,975.4 1988,975.5 1989,975.5 1990,975.5 1991,975.6 1992,975.6 1993,975.7 1994,975.7 1995,975.8 1996,975.8 1997,975.9 1998,975.9 1999,976 2000,976.1 2001,976.1 2002,976.2 2003,976.3 2004,976.4 2005,976.5 2006,976.6 2007,976.7 2008,976.8 2009,976.9 2010,977 2011,977.1 2012,977.2 2013,977.3 2014,977.5 2015,977.6 2016,977.8 2017,977.9 2018,978.1 2019,978.2 2020,978.4 2021,978.6 2022,978.7 2023,978.9 2024,979.1 2025,979.3 2026,979.5 2027,979.7 2028,979.9 2029,980.1 2030,980.4 2031,980.6 2032,980.8 2033,981.1 2034,981.3 2035,981.5 2036,981.8 2037,982 2038,982.3 2039,982.5 2040,982.7 2041,983 2042,983.2 2043,983.5 2044,983.7 2045,984 2046,984.2 2047,984.4 2048,984.7 2049,984.9 2050,985.1 2051,985.3 2052,985.6 2053,985.8 2054,986 2055,986.2 2056,986.4 2057,986.6 2058,986.7 2059,986.9 2060,987.1 2061,987.3 2062,987.4 2063,987.6 2064,987.7 2065,987.9 2066,988 2067,988.1 2068,988.3 2069,988.4 2070,988.5 2071,988.6 2072,988.7 2073,988.8 2074,988.9 2075,989 2076,989.1 2077,989.2 2078,989.3 2079,989.3 2080,989.4 2081,989.5 2082,989.5 2083,989.6 2084,989.7 2085,989.7 2086,989.8 2087,989.8 2088,989.9 2089,989.9 2090,990 2091,990 2092,990 2093,990.1 2094,990.1 2095,990.1 2096,990.2 2097,990.2 2098,990.2 2099,990.2 2100,990.3 2101,990.3 2102,990.3 2103,990.3 2104,990.4 2105,990.4 2106,990.4 2107,990.4 2108,990.4 2109,990.4 2110,990.4 2111,990.5 2112,990.5 2113,990.5 2114,990.5 2115,990.5 2116,990.5 2117,990.5 2118,990.5 2119,990.5 2120,990.6 2121,990.6 2122,990.6 2123,990.6 2124,990.6 2125,990.6 2126,990.6 2127,990.6 2128,990.6 2129,990.6 2130,990.6 2131,990.6 2132,990.6 2133,990.6 2134,990.6 2135,990.6 2136,990.6 2137,990.6 2138,990.7 2139,990.7 2140,990.7 2141,990.7 2142,990.7 2143,990.7 2144,990.7 2145,990.7 2146,990.7 2147,990.7 2148,990.7 2149,990.7 2150,990.7 2154,990.7 2158,990.7 2162,990.7 2166,990.7 2170,990.7 2174,990.7 2178,990.7 2182,990.8 2186,990.8 2190,990.8 2194,990.8 2198,990.8 2202,990.8 2206,990.8 2210,990.8 2214,990.8 2218,990.8 2222,990.8 2226,990.8 2230,990.8 2234,990.8 2238,990.8 2242,990.9 2246,990.9 2250,990.9 2254,990.9 2258,990.9 2262,990.9 2266,990.9 2270,990.9 2274,990.9 2278,990.9 2282,990.9 2286,990.9 2290,990.9 2294,990.9 2298,990.9 2302,991 2306,991 2306.5,991"/>
<polyline points="1512.5,969.3 1516.5,969.2 1520.5,969.1 1524.5,969 1528.5,969 1532.5,968.9 1536.5,968.9 1540.5,969 1544.5,969 1548.5,969.1 1552.5,969.2 1556.5,969.3 1560.5,969.4 1564.5,969.6 1568.5,969.7 1572.5,969.9 1576.5,970.1 1580.5,970.3 1584.5,970.5 1588.5,970.8 1592.5,971 1596.5,971.2 1600.5,971.4 1604.5,971.6 1608.5,971.9 1612.5,972.1 1616.5,972.3 1620.5,972.5 1624.5,972.6 1628.5,972.8 1632.5,973 1636.5,973.1 1640.5,973.3 1644.5,973.4 1648.5,973.5 1652.5,973.6 1656.5,973.7 1660.5,973.8 1664.5,973.9 1668.5,974 1672.5,974 1676.5,974.1 1680.5,974.1 1684.5,974.2 1688.5,974.2 1692.5,974.2 1696.5,974.3 1700.5,974.3 1704.5,974.3 1708.5,974.4 1712.5,974.4 1716.5,974.4 1720.5,974.4 1724.5,974.4 1728.5,974.4 1732.5,974.4 1736.5,974.4 1740.5,974.5 1744.5,974.5 1748.5,974.5 1752.5,974.5 1756.5,974.5 1760.5,974.5 1764.5,974.5 1768.5,974.5 1772.5,974.5 1776.5,974.5 1780.5,974.5 1784.5,974.5 1788.5,974.5 1792.5,974.6 1796.5,974.6 1800.5,974.6 1804.5,974.6 1808.5,974.6 1812.5,974.6 1816.5,974.6 1820.5,974.6 1824.5,974.6 1828.5,974.6 1832.5,974.6 1836.5,974.6 1840.5,974.6 1844.5,974.6 1848.5,974.6 1852.5,974.7 1856.5,974.7 1860.5,974.7 1864.5,974.7 1868.5,974.7 1872.5,974.7 1876.5,974.7 1880.5,974.7 1884.5,974.7 1888.5,974.7 1892.5,974.7 1896.5,974.7 1900.5,974.7 1904.5,974.7 1908.5,974.7 1912.5,974.8 1916.5,974.8 1920.5,974.8 1924.5,974.8 1928.5,974.8 1932.5,974.8 1936.5,974.8 1940.5,974.8 1944.5,974.8 1948.5,974.9 1952.5,974.9 1956.5,974.9 1960,974.9 1961,974.9 1962,974.9 1963,975 1964,975 1965,975 1966,975 1967,975 1968,975 1969,975 1970,975 1971,975 1972,975.1 1973,975.1 1974,975.1 1975,975.1 1976,975.1 1977,975.1 1978,975.2 1979,975.2 1980,975.2 1981,975.2 1982,975.3 1983,975.3 1984,975.3 1985,975.4 1986,975.4 1987,975.4 1988,975.5 1989,975.5 1990,975.5 1991,975.6 1992,975.6 1993,975.7 1994,975.7 1995,975.8 1996,975.8 1997,975.9 1998,975.9 1999,976 2000,976.1 2001,976.1 2002,976.2 2003,976.3 2004,976.4 2005,976.5 2006,976.6 2007,976.7 2008,976.8 2009,976.9 2010,977 2011,977.1 2012,977.2 2013,977.3 2014,977.5 2015,977.6 2016,977.8 2017,977.9 2018,978.1 2019,978.2 2020,978.4 2021,978.6 2022,978.7 2023,978.9 2024,979.1 2025,979.3 2026,979.5 2027,979.7 2028,979.9 2029,980.1 2030,980.4 2031,980.6 2032,980.8 2033,981.1 2034,981.3 2035,981.5 2036,981.8 2037,982 2038,982.3 2039,982.5 2040,982.7 2041,983 2042,983.2 2043,983.5 2044,983.7 2045,984 2046,984.2 2047,984.4 2048,984.7 2049,984.9 2050,985.1 2051,985.3 2052,985.6 2053,985.8 2054,986 2055,986.2 2056,986.4 2057,986.6 2058,986.7 2059,986.9 2060,987.1 2061,987.3 2062,987.4 2063,987.6 2064,987.7 2065,987.9 2066,988 2067,988.1 2068,988.3 2069,988.4 2070,988.5 2071,988.6 2072,988.7 2073,988.8 2074,988.9 2075,989 2076,989.1 2077,989.2 2078,989.3 2079,989.3 2080,989.4 2081,989.5 2082,989.5 2083,989.6 2084,989.7 2085,989.7 2086,989.8 2087,989.8 2088,989.9 2089,989.9 2090,990 2091,990 2092,990 2093,990.1 2094,990.1 2095,990.1 2096,990.2 2097,990.2 2098,990.2 2099,990.2 2100,990.3 2101,990.3 2102,990.3 2103,990.3 2104,990.4 2105,990.4 2106,990.4 2107,990.4 2108,990.4 2109,990.4 2110,990.4 2111,990.5 2112,990.5 2113,990.5 2114,990.5 2115,990.5 2116,990.5 2117,990.5 2118,990.5 2119,990.5 2120,990.6 2121,990.6 2122,990.6 2123,990.6 2124,990.6 2125,990.6 2126,990.6 2127,990.6 2128,990.6 2129,990.6 2130,990.6 2131,990.6 2132,990.6 2133,990.6 2134,990.6 2135,990.6 2136,990.6 2137,990.6 2138,990.7 2139,990.7 2140,990.7 2141,990.7 2142,990.7 2143,990.7 2144,990.7 2145,990.7 2146,990.7 2147,990.7 2148,990.7 2149,990.7 2150,990.7 2154,990.7 2158,990.7 2162,990.7 2166,990.7 2170,990.7 2174,990.7 2178,990.7 2182,990.8 2186,990.8 2190,990.8 2194,990.8 2198,990.8 2202,990.8 2206,990.8 2210,990.8 2214,990.8 2218,990.8 2222,990.8 2226,990.8 2230,990.8 2234,990.8 2238,990.8 2242,990.9 2246,990.9 2250,990.9 2254,990.9 2258,990.9 2262,990.9 2266,990.9 2270,990.9 2274,990.9 2278,990.9 2282,990.9 2286,990.9 2290,990.9 2294,990.9 2298,990.9 2302,991 2306,991 2306.5,991"/>
</g>
<polyline fill="none" stroke="#000" stroke-width="4.5" points="1512.5,975.1 1516.5,975.1 1520.5,975.1 1524.5,975.1 1528.5,975.1 1532.5,975.1 1536.5,975.1 1540.5,975.1 1544.5,975.2 1548.5,975.2 1552.5,975.2 1556.5,975.2 1560.5,975.2 1564.5,975.2 1568.5,975.2 1572.5,975.2 1576.5,975.2 1580.5,975.2 1584.5,975.2 1588.5,975.2 1592.5,975.2 1596.5,975.2 1600.5,975.2 1604.5,975.2 1608.5,975.3 1612.5,975.3 1616.5,975.3 1620.5,975.3 1624.5,975.3 1628.5,975.3 1632.5,975.3 1636.5,975.3 1640.5,975.3 1644.5,975.3 1648.5,975.3 1652.5,975.3 1656.5,975.3 1660.5,975.3 1664.5,975.3 1668.5,975.4 1672.5,975.4 1676.5,975.4 1680.5,975.4 1684.5,975.4 1688.5,975.4 1692.5,975.4 1696.5,975.4 1700.5,975.4 1704.5,975.4 1708.5,975.4 1712.5,975.4 1716.5,975.4 1720.5,975.4 1724.5,975.4 1728.5,975.4 1732.5,975.5 1736.5,975.5 1740.5,975.5 1744.5,975.5 1748.5,975.5 1752.5,975.5 1756.5,975.5 1760.5,975.5 1764.5,975.5 1768.5,975.5 1772.5,975.5 1776.5,975.5 1780.5,975.5 1784.5,975.5 1788.5,975.5 1792.5,975.6 1796.5,975.6 1800.5,975.6 1804.5,975.6 1808.5,975.6 1812.5,975.6 1816.5,975.6 1820.5,975.6 1824.5,975.6 1828.5,975.6 1832.5,975.6 1836.5,975.6 1840.5,975.6 1844.5,975.6 1848.5,975.6 1852.5,975.7 1856.5,975.7 1860.5,975.7 1864.5,975.7 1868.5,975.7 1872.5,975.7 1876.5,975.7 1880.5,975.7 1884.5,975.7 1888.5,975.7 1892.5,975.7 1896.5,975.7 1900.5,975.7 1904.5,975.7 1908.5,975.7 1912.5,975.8 1916.5,975.8 1920.5,975.8 1924.5,975.8 1928.5,975.8 1932.5,975.8 1936.5,975.8 1940.5,975.8 1944.5,975.8 1948.5,975.9 1952.5,975.9 1956.5,975.9 1960,975.9 1961,975.9 1962,975.9 1963,976 1964,976 1965,976 1966,976 1967,976 1968,976 1969,976 1970,976 1971,976 1972,976.1 1973,976.1 1974,976.1 1975,976.1 1976,976.1 1977,976.1 1978,976.2 1979,976.2 1980,976.2 1981,976.2 1982,976.3 1983,976.3 1984,976.3 1985,976.4"/>
<polyline fill="none" stroke="#a32d2d" stroke-width="5" stroke-linejoin="round" points="1364.5,973.5 1368.5,973.5 1372.5,973.5 1376.5,973.5 1380.5,973.5 1384.5,973.4 1388.5,973.4 1392.5,973.4 1396.5,973.3 1400.5,973.3 1404.5,973.2 1408.5,973.2 1412.5,973.1 1416.5,973 1420.5,972.9 1424.5,972.8 1428.5,972.7 1432.5,972.6 1436.5,972.4 1440.5,972.3 1444.5,972.1 1448.5,971.9 1452.5,971.7 1456.5,971.5 1460.5,971.3 1464.5,971.1 1468.5,970.8 1472.5,970.6 1476.5,970.3 1480.5,970 1484.5,969.7 1488.5,969.4 1492.5,969.1 1496.5,968.8 1500.5,968.5 1504.5,968.2 1508.5,967.8 1512.5,967.5 1516.5,967.2 1520.5,966.8 1524.5,966.4 1528.5,966.1 1532.5,965.7 1536.5,965.4 1540.5,965 1544.5,964.6 1548.5,964.3 1552.5,963.9 1556.5,963.6 1560.5,963.2 1564.5,962.9 1568.5,962.5 1572.5,962.2 1576.5,961.9 1580.5,961.6 1584.5,961.3 1588.5,961.1 1592.5,960.9 1596.5,960.7 1600.5,960.6 1604.5,960.5 1608.5,960.4 1612.5,960.4 1616.5,960.4 1620.5,960.5 1624.5,960.6 1628.5,960.7 1632.5,960.9 1636.5,961.2 1640.5,961.4 1644.5,961.7 1648.5,962 1652.5,962.3 1656.5,962.7 1660.5,963 1664.5,963.3 1668.5,963.7 1672.5,964 1676.5,964.3 1680.5,964.6 1684.5,964.9 1688.5,965.1 1692.5,965.3 1696.5,965.5 1700.5,965.7 1704.5,965.8 1708.5,965.9 1712.5,965.9 1716.5,966 1720.5,966 1724.5,966 1728.5,965.9 1732.5,965.9 1736.5,965.8 1740.5,965.7 1744.5,965.7 1748.5,965.6 1752.5,965.5 1756.5,965.4 1760.5,965.3 1764.5,965.3 1768.5,965.2 1772.5,965.1 1776.5,965 1780.5,964.9 1784.5,964.8 1788.5,964.7 1792.5,964.6 1796.5,964.5 1800.5,964.3 1804.5,964.1 1808.5,963.9 1812.5,963.7 1816.5,963.4 1820.5,963.2 1824.5,962.9 1828.5,962.6 1832.5,962.2 1836.5,961.9 1840.5,961.6 1844.5,961.2 1848.5,960.8 1852.5,960.5 1856.5,960.1 1860.5,959.7 1864.5,959.3 1868.5,958.9 1872.5,958.5 1876.5,958.1 1880.5,957.6 1884.5,957.1 1888.5,956.5 1892.5,955.9 1896.5,955.3 1900.5,954.6 1904.5,953.8 1908.5,953 1912.5,952.2 1916.5,951.3 1920.5,950.4 1924.5,949.5 1928.5,948.6 1932.5,947.7 1936.5,946.8 1940.5,945.9 1944.5,945.1 1948.5,944.3 1952.5,943.5 1956.5,942.6 1960,941.9 1961,941.7 1962,941.4 1963,941.2 1964,941 1965,940.7 1966,940.5 1967,940.2 1968,939.9 1969,939.6 1970,939.4 1971,939.1 1972,938.8 1973,938.4 1974,938.1 1975,937.7 1976,937.4 1977,937 1978,936.6 1979,936.2 1980,935.8 1981,935.3 1982,934.8 1983,934.3 1984,933.8 1985,933.3 1986,932.7 1987,932.1 1988,931.5 1989,930.9 1990,930.2 1991,929.5 1992,928.7 1993,927.9 1994,927.1 1995,926.2 1996,925.3 1997,924.4 1998,923.4 1999,922.3 2000,921.2 2001,920.1 2002,918.9 2003,917.6 2004,916.2 2005,914.8 2006,913.3 2007,911.7 2008,910 2009,908.3 2010,906.4 2011,904.4 2012,902.4 2013,900.2 2014,897.9 2015,895.4 2016,892.8 2017,890.1 2018,887.3 2019,884.3 2020,881.1 2021,877.7 2022,874.2 2023,870.6 2024,866.7 2025,862.6 2026,858.4 2027,854 2028,849.3 2029,844.5 2030,839.5 2031,834.3 2032,828.8 2033,823.2 2034,817.4 2035,811.4 2036,805.3 2037,798.9 2038,792.4 2039,785.8 2040,779 2041,772.1 2042,765.1 2043,758 2044,750.9 2045,743.7 2046,736.6 2047,729.5 2048,722.6 2049,715.7 2050,709.1 2051,702.7 2052,696.6 2053,690.9 2054,685.6 2055,680.8 2056,676.6 2057,672.9 2058,669.9 2059,667.7 2060,666.2 2061,665.5 2062,665.6 2063,666.5 2064,668.2 2065,670.7 2066,673.9 2067,677.8 2068,682.4 2069,687.6 2070,693.3 2071,699.6 2072,706.3 2073,713.4 2074,720.8 2075,728.5 2076,736.4 2077,744.4 2078,752.6 2079,760.9 2080,769.1 2081,777.4 2082,785.6 2083,793.7 2084,801.8 2085,809.6 2086,817.4 2087,824.9 2088,832.3 2089,839.5 2090,846.4 2091,853.2 2092,859.7 2093,865.9 2094,872 2095,877.7 2096,883.3 2097,888.5 2098,893.6 2099,898.4 2100,903 2101,907.3 2102,911.4 2103,915.3 2104,919 2105,922.4 2106,925.7 2107,928.8 2108,931.7 2109,934.5 2110,937 2111,939.5 2112,941.7 2113,943.9 2114,945.9 2115,947.8 2116,949.6 2117,951.2 2118,952.8 2119,954.3 2120,955.7 2121,957 2122,958.2 2123,959.4 2124,960.5 2125,961.5 2126,962.5 2127,963.5 2128,964.3 2129,965.2 2130,966 2131,966.7 2132,967.5 2133,968.2 2134,968.8 2135,969.4 2136,970 2137,970.6 2138,971.2 2139,971.7 2140,972.2 2141,972.7 2142,973.1 2143,973.6 2144,974 2145,974.4 2146,974.8 2147,975.2 2148,975.6 2149,975.9 2150,976.3 2154,977.5 2158,978.6 2162,979.5 2166,980.4 2170,981.1 2174,981.8 2178,982.4 2182,982.9 2186,983.4 2190,983.8 2194,984.2 2198,984.6 2202,984.9 2206,985.3 2210,985.5 2214,985.8 2218,986.1 2222,986.3 2226,986.5 2230,986.7 2234,986.9 2238,987.1 2242,987.2 2246,987.4 2250,987.5 2254,987.7 2258,987.8 2262,987.9 2266,988.1 2270,988.2 2274,988.3 2278,988.4 2282,988.5 2286,988.6 2290,988.6 2294,988.7 2298,988.8 2302,988.9 2306,989 2306.5,989"/>
<polyline fill="none" stroke="#2a0505" stroke-width="4.4" stroke-dasharray="4.5 6.5" points="1364.5,973.5 1368.5,973.5 1372.5,973.5 1376.5,973.5 1380.5,973.5 1384.5,973.4 1388.5,973.4 1392.5,973.4 1396.5,973.3 1400.5,973.3 1404.5,973.2 1408.5,973.2 1412.5,973.1 1416.5,973 1420.5,972.9 1424.5,972.8 1428.5,972.7 1432.5,972.6 1436.5,972.4 1440.5,972.3 1444.5,972.1 1448.5,971.9 1452.5,971.7 1456.5,971.5 1460.5,971.3 1464.5,971.1 1468.5,970.8 1472.5,970.6 1476.5,970.3 1480.5,970 1484.5,969.7 1488.5,969.4 1492.5,969.1 1496.5,968.8 1500.5,968.5 1504.5,968.2 1508.5,967.8 1512.5,967.5 1516.5,967.2 1520.5,966.8 1524.5,966.4 1528.5,966.1 1532.5,965.7 1536.5,965.4 1540.5,965 1544.5,964.6 1548.5,964.3 1552.5,963.9 1556.5,963.6 1560.5,963.2 1564.5,962.9 1568.5,962.5 1572.5,962.2 1576.5,961.9 1580.5,961.6 1584.5,961.3 1588.5,961.1 1592.5,960.9 1596.5,960.7 1600.5,960.6 1604.5,960.5 1608.5,960.4 1612.5,960.4 1616.5,960.4 1620.5,960.5 1624.5,960.6 1628.5,960.7 1632.5,960.9 1636.5,961.2 1640.5,961.4 1644.5,961.7 1648.5,962 1652.5,962.3 1656.5,962.7 1660.5,963 1664.5,963.3 1668.5,963.7 1672.5,964 1676.5,964.3 1680.5,964.6 1684.5,964.9 1688.5,965.1 1692.5,965.3 1696.5,965.5 1700.5,965.7 1704.5,965.8 1708.5,965.9 1712.5,965.9 1716.5,966 1720.5,966 1724.5,966 1728.5,965.9 1732.5,965.9 1736.5,965.8 1740.5,965.7 1744.5,965.7 1748.5,965.6 1752.5,965.5 1756.5,965.4 1760.5,965.3 1764.5,965.3 1768.5,965.2 1772.5,965.1 1776.5,965 1780.5,964.9 1784.5,964.8 1788.5,964.7 1792.5,964.6 1796.5,964.5 1800.5,964.3 1804.5,964.1 1808.5,963.9 1812.5,963.7 1816.5,963.4 1820.5,963.2 1824.5,962.9 1828.5,962.6 1832.5,962.2 1836.5,961.9 1840.5,961.6 1844.5,961.2 1848.5,960.8 1852.5,960.5 1856.5,960.1 1860.5,959.7 1864.5,959.3 1868.5,958.9 1872.5,958.5 1876.5,958.1 1880.5,957.6 1884.5,957.1 1888.5,956.5 1892.5,955.9 1896.5,955.3 1900.5,954.6 1904.5,953.8 1908.5,953 1912.5,952.2 1916.5,951.3 1920.5,950.4 1924.5,949.5 1928.5,948.6 1932.5,947.7 1936.5,946.8 1940.5,945.9 1944.5,945.1 1948.5,944.3 1952.5,943.5 1956.5,942.6 1960,941.9 1961,941.7 1962,941.4 1963,941.2 1964,941 1965,940.7 1966,940.5 1967,940.2 1968,939.9 1969,939.6 1970,939.4 1971,939.1 1972,938.8 1973,938.4 1974,938.1 1975,937.7 1976,937.4 1977,937 1978,936.6 1979,936.2 1980,935.8 1981,935.3 1982,934.8 1983,934.3 1984,933.8 1985,933.3 1986,932.7 1987,932.1 1988,931.5 1989,930.9 1990,930.2 1991,929.5 1992,928.7 1993,927.9 1994,927.1 1995,926.2 1996,925.3 1997,924.4 1998,923.4 1999,922.3 2000,921.2 2001,920.1 2002,918.9 2003,917.6 2004,916.2 2005,914.8 2006,913.3 2007,911.7 2008,910 2009,908.3 2010,906.4 2011,904.4 2012,902.4 2013,900.2 2014,897.9 2015,895.4 2016,892.8 2017,890.1 2018,887.3 2019,884.3 2020,881.1 2021,877.7 2022,874.2 2023,870.6 2024,866.7 2025,862.6 2026,858.4 2027,854 2028,849.3 2029,844.5 2030,839.5 2031,834.3 2032,828.8 2033,823.2 2034,817.4 2035,811.4 2036,805.3 2037,798.9 2038,792.4 2039,785.8 2040,779 2041,772.1 2042,765.1 2043,758 2044,750.9 2045,743.7 2046,736.6 2047,729.5 2048,722.6 2049,715.7 2050,709.1 2051,702.7 2052,696.6 2053,690.9 2054,685.6 2055,680.8 2056,676.6 2057,672.9 2058,669.9 2059,667.7 2060,666.2 2061,665.5 2062,665.6 2063,666.5 2064,668.2 2065,670.7 2066,673.9 2067,677.8 2068,682.4 2069,687.6 2070,693.3 2071,699.6 2072,706.3 2073,713.4 2074,720.8 2075,728.5 2076,736.4 2077,744.4 2078,752.6 2079,760.9 2080,769.1 2081,777.4 2082,785.6 2083,793.7 2084,801.8 2085,809.6 2086,817.4 2087,824.9 2088,832.3 2089,839.5 2090,846.4 2091,853.2 2092,859.7 2093,865.9 2094,872 2095,877.7 2096,883.3 2097,888.5 2098,893.6 2099,898.4 2100,903 2101,907.3 2102,911.4 2103,915.3 2104,919 2105,922.4 2106,925.7 2107,928.8 2108,931.7 2109,934.5 2110,937 2111,939.5 2112,941.7 2113,943.9 2114,945.9 2115,947.8 2116,949.6 2117,951.2 2118,952.8 2119,954.3 2120,955.7 2121,957 2122,958.2 2123,959.4 2124,960.5 2125,961.5 2126,962.5 2127,963.5 2128,964.3 2129,965.2 2130,966 2131,966.7 2132,967.5 2133,968.2 2134,968.8 2135,969.4 2136,970 2137,970.6 2138,971.2 2139,971.7 2140,972.2 2141,972.7 2142,973.1 2143,973.6 2144,974 2145,974.4 2146,974.8 2147,975.2 2148,975.6 2149,975.9 2150,976.3 2154,977.5 2158,978.6 2162,979.5 2166,980.4 2170,981.1 2174,981.8 2178,982.4 2182,982.9 2186,983.4 2190,983.8 2194,984.2 2198,984.6 2202,984.9 2206,985.3 2210,985.5 2214,985.8 2218,986.1 2222,986.3 2226,986.5 2230,986.7 2234,986.9 2238,987.1 2242,987.2 2246,987.4 2250,987.5 2254,987.7 2258,987.8 2262,987.9 2266,988.1 2270,988.2 2274,988.3 2278,988.4 2282,988.5 2286,988.6 2290,988.6 2294,988.7 2298,988.8 2302,988.9 2306,989 2306.5,989"/>
<g fill="none" stroke="#000" stroke-width="4.2" stroke-dasharray="4.5 6.5">
<polyline points="1512.5,1440.6 1516.5,1440.6 1520.5,1440.6 1524.5,1440.6 1528.5,1440.6 1532.5,1440.6 1536.5,1440.6 1540.5,1440.6 1544.5,1440.6 1548.5,1440.6 1552.5,1440.6 1556.5,1440.6 1560.5,1440.7 1564.5,1440.7 1568.5,1440.7 1572.5,1440.7 1576.5,1440.7 1580.5,1440.7 1584.5,1440.7 1588.5,1440.7 1592.5,1440.7 1596.5,1440.7 1600.5,1440.7 1604.5,1440.7 1608.5,1440.7 1612.5,1440.7 1616.5,1440.7 1620.5,1440.7 1624.5,1440.7 1628.5,1440.7 1632.5,1440.8 1636.5,1440.8 1640.5,1440.8 1644.5,1440.8 1648.5,1440.8 1652.5,1440.8 1656.5,1440.8 1660.5,1440.8 1664.5,1440.8 1668.5,1440.8 1672.5,1440.8 1676.5,1440.8 1680.5,1440.8 1684.5,1440.8 1688.5,1440.8 1692.5,1440.8 1696.5,1440.8 1700.5,1440.9 1704.5,1440.9 1708.5,1440.9 1712.5,1440.9 1716.5,1440.9 1720.5,1440.9 1724.5,1440.9 1728.5,1440.9 1732.5,1440.9 1736.5,1440.9 1740.5,1440.9 1744.5,1440.9 1748.5,1440.9 1752.5,1440.9 1756.5,1440.9 1760.5,1440.9 1764.5,1440.9 1768.5,1440.9 1772.5,1441 1776.5,1441 1780.5,1441 1784.5,1441 1788.5,1441 1792.5,1441 1796.5,1441 1800.5,1441 1804.5,1441 1808.5,1441 1812.5,1441 1816.5,1441 1820.5,1441 1824.5,1441 1828.5,1441 1832.5,1441 1836.5,1441 1840.5,1441 1844.5,1441.1 1848.5,1441.1 1852.5,1441.1 1856.5,1441.1 1860.5,1441.1 1864.5,1441.1 1868.5,1441.1 1872.5,1441.1 1876.5,1441.1 1880.5,1441.1 1884.5,1441.1 1888.5,1441.1 1892.5,1441.1 1896.5,1441.1 1900.5,1441.1 1904.5,1441.1 1908.5,1441.1 1912.5,1441.1 1916.5,1441.1 1920.5,1441.2 1924.5,1441.2 1928.5,1441.2 1932.5,1441.2 1936.5,1441.2 1940.5,1441.2 1944.5,1441.2 1948.5,1441.2 1952.5,1441.2 1956.5,1441.2 1960,1441.2 1961,1441.2 1962,1441.2 1963,1441.3 1964,1441.3 1965,1441.3 1966,1441.3 1967,1441.3 1968,1441.3 1969,1441.3 1970,1441.3 1971,1441.3 1972,1441.3 1973,1441.3 1974,1441.3 1975,1441.3 1976,1441.3 1977,1441.3 1978,1441.4 1979,1441.4 1980,1441.4 1981,1441.4 1982,1441.4 1983,1441.4 1984,1441.4 1985,1441.4 1986,1441.5 1987,1441.5 1988,1441.5 1989,1441.5 1990,1441.5 1991,1441.5 1992,1441.6 1993,1441.6 1994,1441.6 1995,1441.6 1996,1441.7 1997,1441.7 1998,1441.7 1999,1441.8 2000,1441.8 2001,1441.8 2002,1441.9 2003,1441.9 2004,1441.9 2005,1442 2006,1442 2007,1442.1 2008,1442.1 2009,1442.2 2010,1442.3 2011,1442.3 2012,1442.4 2013,1442.5 2014,1442.5 2015,1442.6 2016,1442.7 2017,1442.8 2018,1442.9 2019,1442.9 2020,1443 2021,1443.1 2022,1443.2 2023,1443.4 2024,1443.5 2025,1443.6 2026,1443.7 2027,1443.8 2028,1444 2029,1444.1 2030,1444.3 2031,1444.4 2032,1444.6 2033,1444.7 2034,1444.9 2035,1445 2036,1445.2 2037,1445.4 2038,1445.6 2039,1445.7 2040,1445.9 2041,1446.1 2042,1446.3 2043,1446.5 2044,1446.6 2045,1446.8 2046,1447 2047,1447.2 2048,1447.4 2049,1447.5 2050,1447.7 2051,1447.9 2052,1448 2053,1448.2 2054,1448.3 2055,1448.4 2056,1448.5 2057,1448.6 2058,1448.7 2059,1448.8 2060,1448.9 2061,1448.9 2062,1448.9 2063,1449 2064,1449 2065,1448.9 2066,1448.9 2067,1448.8 2068,1448.8 2069,1448.7 2070,1448.6 2071,1448.4 2072,1448.3 2073,1448.1 2074,1447.9 2075,1447.7 2076,1447.5 2077,1447.2 2078,1447 2079,1446.7 2080,1446.4 2081,1446.1 2082,1445.8 2083,1445.5 2084,1445.1 2085,1444.8 2086,1444.5 2087,1444.1 2088,1443.8 2089,1443.4 2090,1443.1 2091,1442.8 2092,1442.5 2093,1442.2 2094,1441.9 2095,1441.6 2096,1441.3 2097,1441.1 2098,1440.9 2099,1440.7 2100,1440.5 2101,1440.3 2102,1440.2 2103,1440.1 2104,1440.1 2105,1440 2106,1440.1 2107,1440.1 2108,1440.2 2109,1440.3 2110,1440.4 2111,1440.6 2112,1440.7 2113,1441 2114,1441.2 2115,1441.5 2116,1441.8 2117,1442.1 2118,1442.5 2119,1442.8 2120,1443.2 2121,1443.6 2122,1444 2123,1444.4 2124,1444.8 2125,1445.3 2126,1445.7 2127,1446.1 2128,1446.6 2129,1447 2130,1447.4 2131,1447.8 2132,1448.3 2133,1448.7 2134,1449.1 2135,1449.5 2136,1449.9 2137,1450.2 2138,1450.6 2139,1451 2140,1451.3 2141,1451.6 2142,1451.9 2143,1452.2 2144,1452.5 2145,1452.8 2146,1453 2147,1453.3 2148,1453.5 2149,1453.7 2150,1453.9 2154,1454.6 2158,1455.1 2162,1455.4 2166,1455.7 2170,1455.8 2174,1455.9 2178,1456 2182,1456.1 2186,1456.1 2190,1456.1 2194,1456.1 2198,1456.1 2202,1456.2 2206,1456.2 2210,1456.2 2214,1456.2 2218,1456.2 2222,1456.2 2226,1456.2 2230,1456.2 2234,1456.2 2238,1456.3 2242,1456.3 2246,1456.3 2250,1456.3 2254,1456.3 2258,1456.3 2262,1456.3 2266,1456.3 2270,1456.3 2274,1456.3 2278,1456.3 2282,1456.3 2286,1456.3 2290,1456.3 2294,1456.4 2298,1456.4 2302,1456.4 2306,1456.4 2306.5,1456.4"/>
<polyline points="1512.5,1440.5 1516.5,1440.5 1520.5,1440.5 1524.5,1440.5 1528.5,1440.5 1532.5,1440.6 1536.5,1440.6 1540.5,1440.6 1544.5,1440.6 1548.5,1440.6 1552.5,1440.6 1556.5,1440.6 1560.5,1440.6 1564.5,1440.6 1568.5,1440.6 1572.5,1440.6 1576.5,1440.6 1580.5,1440.6 1584.5,1440.6 1588.5,1440.6 1592.5,1440.6 1596.5,1440.6 1600.5,1440.6 1604.5,1440.6 1608.5,1440.6 1612.5,1440.6 1616.5,1440.6 1620.5,1440.7 1624.5,1440.7 1628.5,1440.7 1632.5,1440.7 1636.5,1440.7 1640.5,1440.7 1644.5,1440.7 1648.5,1440.7 1652.5,1440.7 1656.5,1440.7 1660.5,1440.7 1664.5,1440.7 1668.5,1440.7 1672.5,1440.7 1676.5,1440.7 1680.5,1440.7 1684.5,1440.7 1688.5,1440.7 1692.5,1440.7 1696.5,1440.7 1700.5,1440.7 1704.5,1440.7 1708.5,1440.7 1712.5,1440.7 1716.5,1440.7 1720.5,1440.7 1724.5,1440.7 1728.5,1440.7 1732.5,1440.7 1736.5,1440.7 1740.5,1440.7 1744.5,1440.7 1748.5,1440.7 1752.5,1440.7 1756.5,1440.7 1760.5,1440.7 1764.5,1440.7 1768.5,1440.7 1772.5,1440.7 1776.5,1440.7 1780.5,1440.7 1784.5,1440.7 1788.5,1440.7 1792.5,1440.7 1796.5,1440.7 1800.5,1440.7 1804.5,1440.7 1808.5,1440.7 1812.5,1440.7 1816.5,1440.7 1820.5,1440.7 1824.5,1440.7 1828.5,1440.7 1832.5,1440.7 1836.5,1440.7 1840.5,1440.7 1844.5,1440.7 1848.5,1440.7 1852.5,1440.7 1856.5,1440.6 1860.5,1440.6 1864.5,1440.6 1868.5,1440.6 1872.5,1440.6 1876.5,1440.6 1880.5,1440.6 1884.5,1440.5 1888.5,1440.5 1892.5,1440.5 1896.5,1440.5 1900.5,1440.4 1904.5,1440.4 1908.5,1440.4 1912.5,1440.3 1916.5,1440.3 1920.5,1440.3 1924.5,1440.2 1928.5,1440.2 1932.5,1440.1 1936.5,1440 1940.5,1440 1944.5,1439.9 1948.5,1439.8 1952.5,1439.7 1956.5,1439.6 1960,1439.4 1961,1439.3 1962,1439.3 1963,1439.2 1964,1439.2 1965,1439.1 1966,1439 1967,1438.9 1968,1438.8 1969,1438.7 1970,1438.6 1971,1438.5 1972,1438.4 1973,1438.2 1974,1438 1975,1437.8 1976,1437.6 1977,1437.4 1978,1437.1 1979,1436.9 1980,1436.6 1981,1436.2 1982,1435.8 1983,1435.4 1984,1435 1985,1434.5 1986,1433.9 1987,1433.3 1988,1432.6 1989,1431.9 1990,1431.1 1991,1430.2 1992,1429.3 1993,1428.2 1994,1427.1 1995,1425.9 1996,1424.5 1997,1423.1 1998,1421.6 1999,1419.9 2000,1418.1 2001,1416.1 2002,1414.1 2003,1411.8 2004,1409.5 2005,1406.9 2006,1404.2 2007,1401.4 2008,1398.4 2009,1395.1 2010,1391.7 2011,1388.2 2012,1384.4 2013,1380.5 2014,1376.3 2015,1372 2016,1367.5 2017,1362.8 2018,1358 2019,1352.9 2020,1347.7 2021,1342.3 2022,1336.8 2023,1331.2 2024,1325.4 2025,1319.4 2026,1313.4 2027,1307.3 2028,1301.1 2029,1294.9 2030,1288.6 2031,1282.3 2032,1276 2033,1269.7 2034,1263.4 2035,1257.3 2036,1251.2 2037,1245.2 2038,1239.4 2039,1233.7 2040,1228.2 2041,1223 2042,1218 2043,1213.2 2044,1208.7 2045,1204.6 2046,1200.7 2047,1197.2 2048,1194.1 2049,1191.4 2050,1189.1 2051,1187.2 2052,1185.8 2053,1184.8 2054,1184.2 2055,1184.1 2056,1184.5 2057,1185.4 2058,1186.9 2059,1188.9 2060,1191.5 2061,1194.6 2062,1198.2 2063,1202.2 2064,1206.7 2065,1211.6 2066,1216.9 2067,1222.6 2068,1228.6 2069,1234.8 2070,1241.3 2071,1248.1 2072,1255 2073,1262 2074,1269.2 2075,1276.5 2076,1283.8 2077,1291.1 2078,1298.4 2079,1305.7 2080,1312.9 2081,1320 2082,1327 2083,1333.9 2084,1340.6 2085,1347.1 2086,1353.5 2087,1359.6 2088,1365.6 2089,1371.3 2090,1376.8 2091,1382.1 2092,1387.2 2093,1392 2094,1396.5 2095,1400.9 2096,1404.9 2097,1408.8 2098,1412.4 2099,1415.8 2100,1419 2101,1422 2102,1424.8 2103,1427.4 2104,1429.8 2105,1432 2106,1434.1 2107,1435.9 2108,1437.7 2109,1439.3 2110,1440.7 2111,1442.1 2112,1443.3 2113,1444.4 2114,1445.4 2115,1446.3 2116,1447.2 2117,1447.9 2118,1448.6 2119,1449.2 2120,1449.8 2121,1450.3 2122,1450.7 2123,1451.1 2124,1451.5 2125,1451.8 2126,1452.1 2127,1452.4 2128,1452.6 2129,1452.8 2130,1453 2131,1453.2 2132,1453.3 2133,1453.5 2134,1453.6 2135,1453.7 2136,1453.8 2137,1453.9 2138,1454 2139,1454.1 2140,1454.2 2141,1454.2 2142,1454.3 2143,1454.4 2144,1454.4 2145,1454.5 2146,1454.5 2147,1454.5 2148,1454.6 2149,1454.6 2150,1454.7 2154,1454.8 2158,1454.9 2162,1455 2166,1455.1 2170,1455.2 2174,1455.3 2178,1455.3 2182,1455.4 2186,1455.4 2190,1455.5 2194,1455.5 2198,1455.6 2202,1455.6 2206,1455.7 2210,1455.7 2214,1455.7 2218,1455.8 2222,1455.8 2226,1455.8 2230,1455.8 2234,1455.9 2238,1455.9 2242,1455.9 2246,1455.9 2250,1456 2254,1456 2258,1456 2262,1456 2266,1456 2270,1456 2274,1456.1 2278,1456.1 2282,1456.1 2286,1456.1 2290,1456.1 2294,1456.1 2298,1456.1 2302,1456.2 2306,1456.2 2306.5,1456.2"/>
<polyline points="1512.5,1440.5 1516.5,1440.5 1520.5,1440.5 1524.5,1440.5 1528.5,1440.5 1532.5,1440.5 1536.5,1440.5 1540.5,1440.6 1544.5,1440.6 1548.5,1440.6 1552.5,1440.6 1556.5,1440.6 1560.5,1440.6 1564.5,1440.6 1568.5,1440.6 1572.5,1440.6 1576.5,1440.6 1580.5,1440.6 1584.5,1440.6 1588.5,1440.6 1592.5,1440.6 1596.5,1440.6 1600.5,1440.6 1604.5,1440.6 1608.5,1440.6 1612.5,1440.6 1616.5,1440.6 1620.5,1440.6 1624.5,1440.6 1628.5,1440.6 1632.5,1440.6 1636.5,1440.6 1640.5,1440.6 1644.5,1440.7 1648.5,1440.7 1652.5,1440.7 1656.5,1440.7 1660.5,1440.7 1664.5,1440.7 1668.5,1440.7 1672.5,1440.7 1676.5,1440.7 1680.5,1440.7 1684.5,1440.7 1688.5,1440.7 1692.5,1440.7 1696.5,1440.7 1700.5,1440.7 1704.5,1440.7 1708.5,1440.7 1712.5,1440.7 1716.5,1440.7 1720.5,1440.7 1724.5,1440.7 1728.5,1440.7 1732.5,1440.7 1736.5,1440.7 1740.5,1440.7 1744.5,1440.7 1748.5,1440.7 1752.5,1440.7 1756.5,1440.7 1760.5,1440.7 1764.5,1440.7 1768.5,1440.7 1772.5,1440.7 1776.5,1440.7 1780.5,1440.7 1784.5,1440.7 1788.5,1440.7 1792.5,1440.7 1796.5,1440.7 1800.5,1440.6 1804.5,1440.6 1808.5,1440.6 1812.5,1440.6 1816.5,1440.6 1820.5,1440.6 1824.5,1440.5 1828.5,1440.5 1832.5,1440.5 1836.5,1440.4 1840.5,1440.4 1844.5,1440.3 1848.5,1440.2 1852.5,1440.1 1856.5,1440 1860.5,1439.8 1864.5,1439.7 1868.5,1439.5 1872.5,1439.2 1876.5,1439 1880.5,1438.6 1884.5,1438.3 1888.5,1437.8 1892.5,1437.3 1896.5,1436.7 1900.5,1436.1 1904.5,1435.4 1908.5,1434.5 1912.5,1433.6 1916.5,1432.6 1920.5,1431.4 1924.5,1430.2 1928.5,1428.8 1932.5,1427.4 1936.5,1425.8 1940.5,1424.1 1944.5,1422.3 1948.5,1420.4 1952.5,1418.4 1956.5,1416.3 1960,1414.4 1961,1413.9 1962,1413.3 1963,1412.8 1964,1412.2 1965,1411.7 1966,1411.1 1967,1410.6 1968,1410 1969,1409.5 1970,1408.9 1971,1408.3 1972,1407.8 1973,1407.2 1974,1406.7 1975,1406.1 1976,1405.6 1977,1405 1978,1404.5 1979,1403.9 1980,1403.4 1981,1402.9 1982,1402.3 1983,1401.8 1984,1401.3 1985,1400.8 1986,1400.3 1987,1399.8 1988,1399.3 1989,1398.8 1990,1398.3 1991,1397.8 1992,1397.4 1993,1396.9 1994,1396.5 1995,1396.1 1996,1395.6 1997,1395.2 1998,1394.8 1999,1394.4 2000,1394.1 2001,1393.7 2002,1393.4 2003,1393.1 2004,1392.7 2005,1392.4 2006,1392.2 2007,1391.9 2008,1391.7 2009,1391.4 2010,1391.2 2011,1391 2012,1390.8 2013,1390.7 2014,1390.5 2015,1390.4 2016,1390.3 2017,1390.3 2018,1390.2 2019,1390.2 2020,1390.1 2021,1390.2 2022,1390.2 2023,1390.2 2024,1390.3 2025,1390.4 2026,1390.5 2027,1390.7 2028,1390.8 2029,1391 2030,1391.2 2031,1391.5 2032,1391.7 2033,1392 2034,1392.3 2035,1392.6 2036,1393 2037,1393.3 2038,1393.7 2039,1394.1 2040,1394.5 2041,1395 2042,1395.5 2043,1395.9 2044,1396.4 2045,1397 2046,1397.5 2047,1398.1 2048,1398.6 2049,1399.2 2050,1399.8 2051,1400.4 2052,1401 2053,1401.7 2054,1402.3 2055,1403 2056,1403.6 2057,1404.3 2058,1405 2059,1405.7 2060,1406.3 2061,1407 2062,1407.7 2063,1408.4 2064,1409.1 2065,1409.8 2066,1410.6 2067,1411.3 2068,1412 2069,1412.7 2070,1413.4 2071,1414.1 2072,1414.8 2073,1415.5 2074,1416.2 2075,1416.9 2076,1417.6 2077,1418.3 2078,1419 2079,1419.6 2080,1420.3 2081,1421 2082,1421.7 2083,1422.3 2084,1423 2085,1423.7 2086,1424.3 2087,1424.9 2088,1425.6 2089,1426.2 2090,1426.8 2091,1427.5 2092,1428.1 2093,1428.7 2094,1429.3 2095,1429.9 2096,1430.4 2097,1431 2098,1431.6 2099,1432.2 2100,1432.7 2101,1433.3 2102,1433.8 2103,1434.3 2104,1434.9 2105,1435.4 2106,1435.9 2107,1436.4 2108,1436.9 2109,1437.4 2110,1437.9 2111,1438.3 2112,1438.8 2113,1439.3 2114,1439.7 2115,1440.1 2116,1440.6 2117,1441 2118,1441.4 2119,1441.8 2120,1442.2 2121,1442.6 2122,1443 2123,1443.4 2124,1443.7 2125,1444.1 2126,1444.5 2127,1444.8 2128,1445.1 2129,1445.5 2130,1445.8 2131,1446.1 2132,1446.4 2133,1446.7 2134,1447 2135,1447.3 2136,1447.6 2137,1447.8 2138,1448.1 2139,1448.4 2140,1448.6 2141,1448.9 2142,1449.1 2143,1449.3 2144,1449.6 2145,1449.8 2146,1450 2147,1450.2 2148,1450.4 2149,1450.6 2150,1450.8 2154,1451.5 2158,1452.1 2162,1452.7 2166,1453.1 2170,1453.6 2174,1453.9 2178,1454.2 2182,1454.5 2186,1454.7 2190,1454.9 2194,1455.1 2198,1455.2 2202,1455.3 2206,1455.4 2210,1455.5 2214,1455.6 2218,1455.7 2222,1455.7 2226,1455.8 2230,1455.8 2234,1455.8 2238,1455.9 2242,1455.9 2246,1455.9 2250,1456 2254,1456 2258,1456 2262,1456 2266,1456 2270,1456.1 2274,1456.1 2278,1456.1 2282,1456.1 2286,1456.1 2290,1456.1 2294,1456.1 2298,1456.1 2302,1456.2 2306,1456.2 2306.5,1456.2"/>
<polyline points="1512.5,1440.6 1516.5,1440.6 1520.5,1440.6 1524.5,1440.6 1528.5,1440.6 1532.5,1440.6 1536.5,1440.6 1540.5,1440.6 1544.5,1440.6 1548.5,1440.6 1552.5,1440.6 1556.5,1440.6 1560.5,1440.7 1564.5,1440.7 1568.5,1440.7 1572.5,1440.7 1576.5,1440.7 1580.5,1440.7 1584.5,1440.7 1588.5,1440.7 1592.5,1440.7 1596.5,1440.7 1600.5,1440.7 1604.5,1440.7 1608.5,1440.7 1612.5,1440.7 1616.5,1440.7 1620.5,1440.7 1624.5,1440.7 1628.5,1440.8 1632.5,1440.8 1636.5,1440.8 1640.5,1440.8 1644.5,1440.8 1648.5,1440.8 1652.5,1440.8 1656.5,1440.8 1660.5,1440.8 1664.5,1440.8 1668.5,1440.8 1672.5,1440.8 1676.5,1440.8 1680.5,1440.8 1684.5,1440.8 1688.5,1440.8 1692.5,1440.8 1696.5,1440.9 1700.5,1440.9 1704.5,1440.9 1708.5,1440.9 1712.5,1440.9 1716.5,1440.9 1720.5,1440.9 1724.5,1440.9 1728.5,1440.9 1732.5,1440.9 1736.5,1440.9 1740.5,1440.9 1744.5,1440.9 1748.5,1440.9 1752.5,1440.9 1756.5,1440.9 1760.5,1440.9 1764.5,1440.9 1768.5,1441 1772.5,1441 1776.5,1441 1780.5,1441 1784.5,1441 1788.5,1441 1792.5,1441 1796.5,1441 1800.5,1441 1804.5,1441 1808.5,1440.9 1812.5,1440.9 1816.5,1440.9 1820.5,1440.9 1824.5,1440.8 1828.5,1440.7 1832.5,1440.6 1836.5,1440.5 1840.5,1440.4 1844.5,1440.2 1848.5,1440 1852.5,1439.7 1856.5,1439.4 1860.5,1439 1864.5,1438.6 1868.5,1438.1 1872.5,1437.5 1876.5,1436.9 1880.5,1436.2 1884.5,1435.5 1888.5,1434.7 1892.5,1433.8 1896.5,1432.9 1900.5,1432 1904.5,1431.1 1908.5,1430.2 1912.5,1429.4 1916.5,1428.6 1920.5,1427.9 1924.5,1427.3 1928.5,1426.8 1932.5,1426.5 1936.5,1426.3 1940.5,1426.2 1944.5,1426.3 1948.5,1426.5 1952.5,1426.9 1956.5,1427.4 1960,1427.9 1961,1428.1 1962,1428.3 1963,1428.5 1964,1428.7 1965,1428.9 1966,1429.1 1967,1429.3 1968,1429.5 1969,1429.7 1970,1429.9 1971,1430.1 1972,1430.3 1973,1430.6 1974,1430.8 1975,1431 1976,1431.3 1977,1431.5 1978,1431.7 1979,1432 1980,1432.2 1981,1432.4 1982,1432.7 1983,1432.9 1984,1433.2 1985,1433.4 1986,1433.6 1987,1433.9 1988,1434.1 1989,1434.4 1990,1434.6 1991,1434.8 1992,1435.1 1993,1435.3 1994,1435.5 1995,1435.8 1996,1436 1997,1436.2 1998,1436.4 1999,1436.7 2000,1436.9 2001,1437.1 2002,1437.3 2003,1437.5 2004,1437.8 2005,1438 2006,1438.2 2007,1438.4 2008,1438.6 2009,1438.8 2010,1439 2011,1439.2 2012,1439.4 2013,1439.6 2014,1439.8 2015,1440 2016,1440.2 2017,1440.4 2018,1440.6 2019,1440.8 2020,1441.1 2021,1441.3 2022,1441.5 2023,1441.7 2024,1441.9 2025,1442.1 2026,1442.3 2027,1442.5 2028,1442.7 2029,1443 2030,1443.2 2031,1443.4 2032,1443.6 2033,1443.9 2034,1444.1 2035,1444.3 2036,1444.6 2037,1444.8 2038,1445 2039,1445.3 2040,1445.5 2041,1445.8 2042,1446 2043,1446.3 2044,1446.5 2045,1446.8 2046,1447.1 2047,1447.3 2048,1447.6 2049,1447.8 2050,1448.1 2051,1448.3 2052,1448.6 2053,1448.8 2054,1449.1 2055,1449.3 2056,1449.6 2057,1449.8 2058,1450.1 2059,1450.3 2060,1450.5 2061,1450.7 2062,1451 2063,1451.2 2064,1451.4 2065,1451.6 2066,1451.8 2067,1452 2068,1452.2 2069,1452.4 2070,1452.5 2071,1452.7 2072,1452.9 2073,1453 2074,1453.2 2075,1453.3 2076,1453.5 2077,1453.6 2078,1453.7 2079,1453.8 2080,1454 2081,1454.1 2082,1454.2 2083,1454.3 2084,1454.4 2085,1454.5 2086,1454.6 2087,1454.7 2088,1454.7 2089,1454.8 2090,1454.9 2091,1455 2092,1455 2093,1455.1 2094,1455.1 2095,1455.2 2096,1455.2 2097,1455.3 2098,1455.3 2099,1455.4 2100,1455.4 2101,1455.5 2102,1455.5 2103,1455.5 2104,1455.6 2105,1455.6 2106,1455.6 2107,1455.7 2108,1455.7 2109,1455.7 2110,1455.8 2111,1455.8 2112,1455.8 2113,1455.8 2114,1455.8 2115,1455.9 2116,1455.9 2117,1455.9 2118,1455.9 2119,1455.9 2120,1455.9 2121,1455.9 2122,1456 2123,1456 2124,1456 2125,1456 2126,1456 2127,1456 2128,1456 2129,1456 2130,1456 2131,1456 2132,1456.1 2133,1456.1 2134,1456.1 2135,1456.1 2136,1456.1 2137,1456.1 2138,1456.1 2139,1456.1 2140,1456.1 2141,1456.1 2142,1456.1 2143,1456.1 2144,1456.1 2145,1456.1 2146,1456.1 2147,1456.1 2148,1456.1 2149,1456.1 2150,1456.1 2154,1456.2 2158,1456.2 2162,1456.2 2166,1456.2 2170,1456.2 2174,1456.2 2178,1456.2 2182,1456.2 2186,1456.2 2190,1456.2 2194,1456.2 2198,1456.2 2202,1456.2 2206,1456.3 2210,1456.3 2214,1456.3 2218,1456.3 2222,1456.3 2226,1456.3 2230,1456.3 2234,1456.3 2238,1456.3 2242,1456.3 2246,1456.3 2250,1456.3 2254,1456.3 2258,1456.3 2262,1456.3 2266,1456.3 2270,1456.3 2274,1456.3 2278,1456.4 2282,1456.4 2286,1456.4 2290,1456.4 2294,1456.4 2298,1456.4 2302,1456.4 2306,1456.4 2306.5,1456.4"/>
<polyline points="1512.5,1440.6 1516.5,1440.6 1520.5,1440.6 1524.5,1440.6 1528.5,1440.6 1532.5,1440.6 1536.5,1440.6 1540.5,1440.6 1544.5,1440.6 1548.5,1440.6 1552.5,1440.6 1556.5,1440.6 1560.5,1440.7 1564.5,1440.7 1568.5,1440.7 1572.5,1440.7 1576.5,1440.7 1580.5,1440.7 1584.5,1440.7 1588.5,1440.7 1592.5,1440.7 1596.5,1440.7 1600.5,1440.7 1604.5,1440.7 1608.5,1440.7 1612.5,1440.7 1616.5,1440.7 1620.5,1440.7 1624.5,1440.7 1628.5,1440.8 1632.5,1440.8 1636.5,1440.8 1640.5,1440.8 1644.5,1440.8 1648.5,1440.8 1652.5,1440.8 1656.5,1440.8 1660.5,1440.8 1664.5,1440.8 1668.5,1440.8 1672.5,1440.8 1676.5,1440.8 1680.5,1440.8 1684.5,1440.8 1688.5,1440.8 1692.5,1440.8 1696.5,1440.8 1700.5,1440.8 1704.5,1440.8 1708.5,1440.8 1712.5,1440.8 1716.5,1440.8 1720.5,1440.8 1724.5,1440.8 1728.5,1440.8 1732.5,1440.7 1736.5,1440.7 1740.5,1440.6 1744.5,1440.6 1748.5,1440.5 1752.5,1440.4 1756.5,1440.3 1760.5,1440.1 1764.5,1439.9 1768.5,1439.7 1772.5,1439.5 1776.5,1439.2 1780.5,1438.9 1784.5,1438.6 1788.5,1438.2 1792.5,1437.8 1796.5,1437.3 1800.5,1436.8 1804.5,1436.3 1808.5,1435.7 1812.5,1435.1 1816.5,1434.5 1820.5,1433.8 1824.5,1433.2 1828.5,1432.5 1832.5,1431.9 1836.5,1431.3 1840.5,1430.7 1844.5,1430.2 1848.5,1429.7 1852.5,1429.3 1856.5,1428.9 1860.5,1428.6 1864.5,1428.5 1868.5,1428.4 1872.5,1428.3 1876.5,1428.4 1880.5,1428.6 1884.5,1428.8 1888.5,1429.2 1892.5,1429.6 1896.5,1430.1 1900.5,1430.6 1904.5,1431.2 1908.5,1431.8 1912.5,1432.4 1916.5,1433.1 1920.5,1433.7 1924.5,1434.4 1928.5,1435 1932.5,1435.7 1936.5,1436.3 1940.5,1436.8 1944.5,1437.4 1948.5,1437.9 1952.5,1438.3 1956.5,1438.7 1960,1439.1 1961,1439.2 1962,1439.3 1963,1439.3 1964,1439.4 1965,1439.5 1966,1439.6 1967,1439.7 1968,1439.7 1969,1439.8 1970,1439.9 1971,1440 1972,1440 1973,1440.1 1974,1440.2 1975,1440.2 1976,1440.3 1977,1440.3 1978,1440.4 1979,1440.5 1980,1440.5 1981,1440.6 1982,1440.6 1983,1440.7 1984,1440.7 1985,1440.8 1986,1440.8 1987,1440.9 1988,1440.9 1989,1441 1990,1441 1991,1441.1 1992,1441.1 1993,1441.2 1994,1441.2 1995,1441.3 1996,1441.3 1997,1441.4 1998,1441.4 1999,1441.5 2000,1441.5 2001,1441.6 2002,1441.7 2003,1441.7 2004,1441.8 2005,1441.8 2006,1441.9 2007,1442 2008,1442 2009,1442.1 2010,1442.2 2011,1442.2 2012,1442.3 2013,1442.4 2014,1442.5 2015,1442.6 2016,1442.7 2017,1442.8 2018,1442.8 2019,1443 2020,1443.1 2021,1443.2 2022,1443.3 2023,1443.4 2024,1443.5 2025,1443.7 2026,1443.8 2027,1443.9 2028,1444.1 2029,1444.2 2030,1444.4 2031,1444.5 2032,1444.7 2033,1444.9 2034,1445 2035,1445.2 2036,1445.4 2037,1445.6 2038,1445.8 2039,1446 2040,1446.2 2041,1446.4 2042,1446.6 2043,1446.8 2044,1447.1 2045,1447.3 2046,1447.5 2047,1447.7 2048,1448 2049,1448.2 2050,1448.4 2051,1448.7 2052,1448.9 2053,1449.1 2054,1449.3 2055,1449.6 2056,1449.8 2057,1450 2058,1450.3 2059,1450.5 2060,1450.7 2061,1450.9 2062,1451.1 2063,1451.3 2064,1451.5 2065,1451.7 2066,1451.9 2067,1452.1 2068,1452.3 2069,1452.4 2070,1452.6 2071,1452.8 2072,1452.9 2073,1453.1 2074,1453.2 2075,1453.4 2076,1453.5 2077,1453.6 2078,1453.8 2079,1453.9 2080,1454 2081,1454.1 2082,1454.2 2083,1454.3 2084,1454.4 2085,1454.5 2086,1454.6 2087,1454.7 2088,1454.8 2089,1454.8 2090,1454.9 2091,1455 2092,1455 2093,1455.1 2094,1455.1 2095,1455.2 2096,1455.3 2097,1455.3 2098,1455.4 2099,1455.4 2100,1455.4 2101,1455.5 2102,1455.5 2103,1455.6 2104,1455.6 2105,1455.6 2106,1455.6 2107,1455.7 2108,1455.7 2109,1455.7 2110,1455.8 2111,1455.8 2112,1455.8 2113,1455.8 2114,1455.8 2115,1455.9 2116,1455.9 2117,1455.9 2118,1455.9 2119,1455.9 2120,1455.9 2121,1455.9 2122,1456 2123,1456 2124,1456 2125,1456 2126,1456 2127,1456 2128,1456 2129,1456 2130,1456 2131,1456 2132,1456.1 2133,1456.1 2134,1456.1 2135,1456.1 2136,1456.1 2137,1456.1 2138,1456.1 2139,1456.1 2140,1456.1 2141,1456.1 2142,1456.1 2143,1456.1 2144,1456.1 2145,1456.1 2146,1456.1 2147,1456.1 2148,1456.1 2149,1456.1 2150,1456.1 2154,1456.2 2158,1456.2 2162,1456.2 2166,1456.2 2170,1456.2 2174,1456.2 2178,1456.2 2182,1456.2 2186,1456.2 2190,1456.2 2194,1456.2 2198,1456.2 2202,1456.2 2206,1456.3 2210,1456.3 2214,1456.3 2218,1456.3 2222,1456.3 2226,1456.3 2230,1456.3 2234,1456.3 2238,1456.3 2242,1456.3 2246,1456.3 2250,1456.3 2254,1456.3 2258,1456.3 2262,1456.3 2266,1456.3 2270,1456.3 2274,1456.3 2278,1456.4 2282,1456.4 2286,1456.4 2290,1456.4 2294,1456.4 2298,1456.4 2302,1456.4 2306,1456.4 2306.5,1456.4"/>
<polyline points="1512.5,1440.6 1516.5,1440.6 1520.5,1440.6 1524.5,1440.6 1528.5,1440.6 1532.5,1440.6 1536.5,1440.6 1540.5,1440.6 1544.5,1440.6 1548.5,1440.6 1552.5,1440.6 1556.5,1440.6 1560.5,1440.6 1564.5,1440.6 1568.5,1440.7 1572.5,1440.7 1576.5,1440.7 1580.5,1440.6 1584.5,1440.6 1588.5,1440.6 1592.5,1440.6 1596.5,1440.6 1600.5,1440.6 1604.5,1440.6 1608.5,1440.6 1612.5,1440.5 1616.5,1440.5 1620.5,1440.4 1624.5,1440.4 1628.5,1440.3 1632.5,1440.2 1636.5,1440.1 1640.5,1440 1644.5,1439.9 1648.5,1439.8 1652.5,1439.6 1656.5,1439.5 1660.5,1439.3 1664.5,1439.1 1668.5,1438.8 1672.5,1438.6 1676.5,1438.3 1680.5,1438 1684.5,1437.7 1688.5,1437.4 1692.5,1437 1696.5,1436.7 1700.5,1436.3 1704.5,1435.9 1708.5,1435.5 1712.5,1435.2 1716.5,1434.8 1720.5,1434.4 1724.5,1434.1 1728.5,1433.8 1732.5,1433.5 1736.5,1433.2 1740.5,1432.9 1744.5,1432.7 1748.5,1432.6 1752.5,1432.5 1756.5,1432.4 1760.5,1432.3 1764.5,1432.3 1768.5,1432.4 1772.5,1432.5 1776.5,1432.7 1780.5,1432.8 1784.5,1433.1 1788.5,1433.3 1792.5,1433.6 1796.5,1433.9 1800.5,1434.3 1804.5,1434.6 1808.5,1435 1812.5,1435.4 1816.5,1435.8 1820.5,1436.2 1824.5,1436.6 1828.5,1436.9 1832.5,1437.3 1836.5,1437.7 1840.5,1438 1844.5,1438.3 1848.5,1438.6 1852.5,1438.9 1856.5,1439.2 1860.5,1439.4 1864.5,1439.6 1868.5,1439.8 1872.5,1440 1876.5,1440.2 1880.5,1440.3 1884.5,1440.4 1888.5,1440.5 1892.5,1440.6 1896.5,1440.7 1900.5,1440.8 1904.5,1440.9 1908.5,1440.9 1912.5,1441 1916.5,1441 1920.5,1441 1924.5,1441.1 1928.5,1441.1 1932.5,1441.1 1936.5,1441.2 1940.5,1441.2 1944.5,1441.2 1948.5,1441.2 1952.5,1441.2 1956.5,1441.2 1960,1441.3 1961,1441.3 1962,1441.3 1963,1441.3 1964,1441.3 1965,1441.3 1966,1441.3 1967,1441.3 1968,1441.3 1969,1441.3 1970,1441.3 1971,1441.3 1972,1441.3 1973,1441.4 1974,1441.4 1975,1441.4 1976,1441.4 1977,1441.4 1978,1441.4 1979,1441.4 1980,1441.4 1981,1441.4 1982,1441.4 1983,1441.5 1984,1441.5 1985,1441.5 1986,1441.5 1987,1441.5 1988,1441.5 1989,1441.6 1990,1441.6 1991,1441.6 1992,1441.6 1993,1441.7 1994,1441.7 1995,1441.7 1996,1441.7 1997,1441.8 1998,1441.8 1999,1441.8 2000,1441.9 2001,1441.9 2002,1441.9 2003,1442 2004,1442 2005,1442.1 2006,1442.1 2007,1442.2 2008,1442.2 2009,1442.3 2010,1442.3 2011,1442.4 2012,1442.5 2013,1442.5 2014,1442.6 2015,1442.7 2016,1442.8 2017,1442.9 2018,1443 2019,1443 2020,1443.1 2021,1443.3 2022,1443.4 2023,1443.5 2024,1443.6 2025,1443.7 2026,1443.8 2027,1444 2028,1444.1 2029,1444.3 2030,1444.4 2031,1444.6 2032,1444.7 2033,1444.9 2034,1445.1 2035,1445.3 2036,1445.4 2037,1445.6 2038,1445.8 2039,1446 2040,1446.2 2041,1446.4 2042,1446.6 2043,1446.9 2044,1447.1 2045,1447.3 2046,1447.5 2047,1447.7 2048,1448 2049,1448.2 2050,1448.4 2051,1448.7 2052,1448.9 2053,1449.1 2054,1449.4 2055,1449.6 2056,1449.8 2057,1450 2058,1450.3 2059,1450.5 2060,1450.7 2061,1450.9 2062,1451.1 2063,1451.3 2064,1451.5 2065,1451.7 2066,1451.9 2067,1452.1 2068,1452.3 2069,1452.4 2070,1452.6 2071,1452.8 2072,1452.9 2073,1453.1 2074,1453.2 2075,1453.4 2076,1453.5 2077,1453.6 2078,1453.8 2079,1453.9 2080,1454 2081,1454.1 2082,1454.2 2083,1454.3 2084,1454.4 2085,1454.5 2086,1454.6 2087,1454.7 2088,1454.8 2089,1454.8 2090,1454.9 2091,1455 2092,1455 2093,1455.1 2094,1455.2 2095,1455.2 2096,1455.3 2097,1455.3 2098,1455.4 2099,1455.4 2100,1455.4 2101,1455.5 2102,1455.5 2103,1455.6 2104,1455.6 2105,1455.6 2106,1455.6 2107,1455.7 2108,1455.7 2109,1455.7 2110,1455.8 2111,1455.8 2112,1455.8 2113,1455.8 2114,1455.8 2115,1455.9 2116,1455.9 2117,1455.9 2118,1455.9 2119,1455.9 2120,1455.9 2121,1455.9 2122,1456 2123,1456 2124,1456 2125,1456 2126,1456 2127,1456 2128,1456 2129,1456 2130,1456 2131,1456 2132,1456.1 2133,1456.1 2134,1456.1 2135,1456.1 2136,1456.1 2137,1456.1 2138,1456.1 2139,1456.1 2140,1456.1 2141,1456.1 2142,1456.1 2143,1456.1 2144,1456.1 2145,1456.1 2146,1456.1 2147,1456.1 2148,1456.1 2149,1456.1 2150,1456.1 2154,1456.2 2158,1456.2 2162,1456.2 2166,1456.2 2170,1456.2 2174,1456.2 2178,1456.2 2182,1456.2 2186,1456.2 2190,1456.2 2194,1456.2 2198,1456.2 2202,1456.2 2206,1456.3 2210,1456.3 2214,1456.3 2218,1456.3 2222,1456.3 2226,1456.3 2230,1456.3 2234,1456.3 2238,1456.3 2242,1456.3 2246,1456.3 2250,1456.3 2254,1456.3 2258,1456.3 2262,1456.3 2266,1456.3 2270,1456.3 2274,1456.3 2278,1456.4 2282,1456.4 2286,1456.4 2290,1456.4 2294,1456.4 2298,1456.4 2302,1456.4 2306,1456.4 2306.5,1456.4"/>
<polyline points="1512.5,1439.7 1516.5,1439.6 1520.5,1439.4 1524.5,1439.3 1528.5,1439.1 1532.5,1438.9 1536.5,1438.7 1540.5,1438.5 1544.5,1438.2 1548.5,1438 1552.5,1437.7 1556.5,1437.4 1560.5,1437.2 1564.5,1436.9 1568.5,1436.6 1572.5,1436.3 1576.5,1436 1580.5,1435.7 1584.5,1435.4 1588.5,1435.1 1592.5,1434.9 1596.5,1434.7 1600.5,1434.5 1604.5,1434.3 1608.5,1434.2 1612.5,1434.1 1616.5,1434 1620.5,1433.9 1624.5,1433.9 1628.5,1434 1632.5,1434 1636.5,1434.1 1640.5,1434.3 1644.5,1434.4 1648.5,1434.6 1652.5,1434.9 1656.5,1435.1 1660.5,1435.4 1664.5,1435.7 1668.5,1436 1672.5,1436.3 1676.5,1436.6 1680.5,1436.9 1684.5,1437.2 1688.5,1437.5 1692.5,1437.8 1696.5,1438.1 1700.5,1438.3 1704.5,1438.6 1708.5,1438.8 1712.5,1439.1 1716.5,1439.3 1720.5,1439.5 1724.5,1439.7 1728.5,1439.8 1732.5,1440 1736.5,1440.1 1740.5,1440.2 1744.5,1440.3 1748.5,1440.4 1752.5,1440.5 1756.5,1440.6 1760.5,1440.6 1764.5,1440.7 1768.5,1440.8 1772.5,1440.8 1776.5,1440.8 1780.5,1440.9 1784.5,1440.9 1788.5,1440.9 1792.5,1440.9 1796.5,1440.9 1800.5,1441 1804.5,1441 1808.5,1441 1812.5,1441 1816.5,1441 1820.5,1441 1824.5,1441 1828.5,1441 1832.5,1441 1836.5,1441 1840.5,1441.1 1844.5,1441.1 1848.5,1441.1 1852.5,1441.1 1856.5,1441.1 1860.5,1441.1 1864.5,1441.1 1868.5,1441.1 1872.5,1441.1 1876.5,1441.1 1880.5,1441.1 1884.5,1441.1 1888.5,1441.1 1892.5,1441.1 1896.5,1441.1 1900.5,1441.1 1904.5,1441.1 1908.5,1441.2 1912.5,1441.2 1916.5,1441.2 1920.5,1441.2 1924.5,1441.2 1928.5,1441.2 1932.5,1441.2 1936.5,1441.2 1940.5,1441.2 1944.5,1441.2 1948.5,1441.2 1952.5,1441.2 1956.5,1441.3 1960,1441.3 1961,1441.3 1962,1441.3 1963,1441.3 1964,1441.3 1965,1441.3 1966,1441.3 1967,1441.3 1968,1441.3 1969,1441.3 1970,1441.3 1971,1441.3 1972,1441.3 1973,1441.4 1974,1441.4 1975,1441.4 1976,1441.4 1977,1441.4 1978,1441.4 1979,1441.4 1980,1441.4 1981,1441.4 1982,1441.5 1983,1441.5 1984,1441.5 1985,1441.5 1986,1441.5 1987,1441.5 1988,1441.5 1989,1441.6 1990,1441.6 1991,1441.6 1992,1441.6 1993,1441.7 1994,1441.7 1995,1441.7 1996,1441.7 1997,1441.8 1998,1441.8 1999,1441.8 2000,1441.9 2001,1441.9 2002,1441.9 2003,1442 2004,1442 2005,1442.1 2006,1442.1 2007,1442.2 2008,1442.2 2009,1442.3 2010,1442.3 2011,1442.4 2012,1442.5 2013,1442.5 2014,1442.6 2015,1442.7 2016,1442.8 2017,1442.9 2018,1443 2019,1443 2020,1443.1 2021,1443.3 2022,1443.4 2023,1443.5 2024,1443.6 2025,1443.7 2026,1443.8 2027,1444 2028,1444.1 2029,1444.3 2030,1444.4 2031,1444.6 2032,1444.7 2033,1444.9 2034,1445.1 2035,1445.3 2036,1445.4 2037,1445.6 2038,1445.8 2039,1446 2040,1446.2 2041,1446.4 2042,1446.6 2043,1446.9 2044,1447.1 2045,1447.3 2046,1447.5 2047,1447.7 2048,1448 2049,1448.2 2050,1448.4 2051,1448.7 2052,1448.9 2053,1449.1 2054,1449.4 2055,1449.6 2056,1449.8 2057,1450 2058,1450.3 2059,1450.5 2060,1450.7 2061,1450.9 2062,1451.1 2063,1451.3 2064,1451.5 2065,1451.7 2066,1451.9 2067,1452.1 2068,1452.3 2069,1452.4 2070,1452.6 2071,1452.8 2072,1452.9 2073,1453.1 2074,1453.2 2075,1453.4 2076,1453.5 2077,1453.6 2078,1453.8 2079,1453.9 2080,1454 2081,1454.1 2082,1454.2 2083,1454.3 2084,1454.4 2085,1454.5 2086,1454.6 2087,1454.7 2088,1454.8 2089,1454.8 2090,1454.9 2091,1455 2092,1455 2093,1455.1 2094,1455.2 2095,1455.2 2096,1455.3 2097,1455.3 2098,1455.4 2099,1455.4 2100,1455.4 2101,1455.5 2102,1455.5 2103,1455.6 2104,1455.6 2105,1455.6 2106,1455.6 2107,1455.7 2108,1455.7 2109,1455.7 2110,1455.8 2111,1455.8 2112,1455.8 2113,1455.8 2114,1455.8 2115,1455.9 2116,1455.9 2117,1455.9 2118,1455.9 2119,1455.9 2120,1455.9 2121,1455.9 2122,1456 2123,1456 2124,1456 2125,1456 2126,1456 2127,1456 2128,1456 2129,1456 2130,1456 2131,1456 2132,1456.1 2133,1456.1 2134,1456.1 2135,1456.1 2136,1456.1 2137,1456.1 2138,1456.1 2139,1456.1 2140,1456.1 2141,1456.1 2142,1456.1 2143,1456.1 2144,1456.1 2145,1456.1 2146,1456.1 2147,1456.1 2148,1456.1 2149,1456.1 2150,1456.1 2154,1456.2 2158,1456.2 2162,1456.2 2166,1456.2 2170,1456.2 2174,1456.2 2178,1456.2 2182,1456.2 2186,1456.2 2190,1456.2 2194,1456.2 2198,1456.2 2202,1456.2 2206,1456.3 2210,1456.3 2214,1456.3 2218,1456.3 2222,1456.3 2226,1456.3 2230,1456.3 2234,1456.3 2238,1456.3 2242,1456.3 2246,1456.3 2250,1456.3 2254,1456.3 2258,1456.3 2262,1456.3 2266,1456.3 2270,1456.3 2274,1456.3 2278,1456.4 2282,1456.4 2286,1456.4 2290,1456.4 2294,1456.4 2298,1456.4 2302,1456.4 2306,1456.4 2306.5,1456.4"/>
<polyline points="1512.5,1436.2 1516.5,1436.1 1520.5,1436 1524.5,1436 1528.5,1435.9 1532.5,1435.9 1536.5,1435.9 1540.5,1435.9 1544.5,1436 1548.5,1436 1552.5,1436.1 1556.5,1436.2 1560.5,1436.3 1564.5,1436.5 1568.5,1436.6 1572.5,1436.8 1576.5,1437 1580.5,1437.1 1584.5,1437.3 1588.5,1437.5 1592.5,1437.7 1596.5,1437.9 1600.5,1438.1 1604.5,1438.3 1608.5,1438.5 1612.5,1438.7 1616.5,1438.9 1620.5,1439.1 1624.5,1439.3 1628.5,1439.4 1632.5,1439.6 1636.5,1439.7 1640.5,1439.8 1644.5,1439.9 1648.5,1440 1652.5,1440.1 1656.5,1440.2 1660.5,1440.3 1664.5,1440.4 1668.5,1440.5 1672.5,1440.5 1676.5,1440.6 1680.5,1440.6 1684.5,1440.6 1688.5,1440.7 1692.5,1440.7 1696.5,1440.7 1700.5,1440.8 1704.5,1440.8 1708.5,1440.8 1712.5,1440.8 1716.5,1440.8 1720.5,1440.9 1724.5,1440.9 1728.5,1440.9 1732.5,1440.9 1736.5,1440.9 1740.5,1440.9 1744.5,1440.9 1748.5,1440.9 1752.5,1440.9 1756.5,1440.9 1760.5,1440.9 1764.5,1440.9 1768.5,1441 1772.5,1441 1776.5,1441 1780.5,1441 1784.5,1441 1788.5,1441 1792.5,1441 1796.5,1441 1800.5,1441 1804.5,1441 1808.5,1441 1812.5,1441 1816.5,1441 1820.5,1441 1824.5,1441 1828.5,1441 1832.5,1441 1836.5,1441.1 1840.5,1441.1 1844.5,1441.1 1848.5,1441.1 1852.5,1441.1 1856.5,1441.1 1860.5,1441.1 1864.5,1441.1 1868.5,1441.1 1872.5,1441.1 1876.5,1441.1 1880.5,1441.1 1884.5,1441.1 1888.5,1441.1 1892.5,1441.1 1896.5,1441.1 1900.5,1441.1 1904.5,1441.1 1908.5,1441.2 1912.5,1441.2 1916.5,1441.2 1920.5,1441.2 1924.5,1441.2 1928.5,1441.2 1932.5,1441.2 1936.5,1441.2 1940.5,1441.2 1944.5,1441.2 1948.5,1441.2 1952.5,1441.2 1956.5,1441.3 1960,1441.3 1961,1441.3 1962,1441.3 1963,1441.3 1964,1441.3 1965,1441.3 1966,1441.3 1967,1441.3 1968,1441.3 1969,1441.3 1970,1441.3 1971,1441.3 1972,1441.3 1973,1441.4 1974,1441.4 1975,1441.4 1976,1441.4 1977,1441.4 1978,1441.4 1979,1441.4 1980,1441.4 1981,1441.4 1982,1441.5 1983,1441.5 1984,1441.5 1985,1441.5 1986,1441.5 1987,1441.5 1988,1441.5 1989,1441.6 1990,1441.6 1991,1441.6 1992,1441.6 1993,1441.7 1994,1441.7 1995,1441.7 1996,1441.7 1997,1441.8 1998,1441.8 1999,1441.8 2000,1441.9 2001,1441.9 2002,1441.9 2003,1442 2004,1442 2005,1442.1 2006,1442.1 2007,1442.2 2008,1442.2 2009,1442.3 2010,1442.3 2011,1442.4 2012,1442.5 2013,1442.5 2014,1442.6 2015,1442.7 2016,1442.8 2017,1442.9 2018,1443 2019,1443 2020,1443.1 2021,1443.3 2022,1443.4 2023,1443.5 2024,1443.6 2025,1443.7 2026,1443.8 2027,1444 2028,1444.1 2029,1444.3 2030,1444.4 2031,1444.6 2032,1444.7 2033,1444.9 2034,1445.1 2035,1445.3 2036,1445.4 2037,1445.6 2038,1445.8 2039,1446 2040,1446.2 2041,1446.4 2042,1446.6 2043,1446.9 2044,1447.1 2045,1447.3 2046,1447.5 2047,1447.7 2048,1448 2049,1448.2 2050,1448.4 2051,1448.7 2052,1448.9 2053,1449.1 2054,1449.4 2055,1449.6 2056,1449.8 2057,1450 2058,1450.3 2059,1450.5 2060,1450.7 2061,1450.9 2062,1451.1 2063,1451.3 2064,1451.5 2065,1451.7 2066,1451.9 2067,1452.1 2068,1452.3 2069,1452.4 2070,1452.6 2071,1452.8 2072,1452.9 2073,1453.1 2074,1453.2 2075,1453.4 2076,1453.5 2077,1453.6 2078,1453.8 2079,1453.9 2080,1454 2081,1454.1 2082,1454.2 2083,1454.3 2084,1454.4 2085,1454.5 2086,1454.6 2087,1454.7 2088,1454.8 2089,1454.8 2090,1454.9 2091,1455 2092,1455 2093,1455.1 2094,1455.2 2095,1455.2 2096,1455.3 2097,1455.3 2098,1455.4 2099,1455.4 2100,1455.4 2101,1455.5 2102,1455.5 2103,1455.6 2104,1455.6 2105,1455.6 2106,1455.6 2107,1455.7 2108,1455.7 2109,1455.7 2110,1455.8 2111,1455.8 2112,1455.8 2113,1455.8 2114,1455.8 2115,1455.9 2116,1455.9 2117,1455.9 2118,1455.9 2119,1455.9 2120,1455.9 2121,1455.9 2122,1456 2123,1456 2124,1456 2125,1456 2126,1456 2127,1456 2128,1456 2129,1456 2130,1456 2131,1456 2132,1456.1 2133,1456.1 2134,1456.1 2135,1456.1 2136,1456.1 2137,1456.1 2138,1456.1 2139,1456.1 2140,1456.1 2141,1456.1 2142,1456.1 2143,1456.1 2144,1456.1 2145,1456.1 2146,1456.1 2147,1456.1 2148,1456.1 2149,1456.1 2150,1456.1 2154,1456.2 2158,1456.2 2162,1456.2 2166,1456.2 2170,1456.2 2174,1456.2 2178,1456.2 2182,1456.2 2186,1456.2 2190,1456.2 2194,1456.2 2198,1456.2 2202,1456.2 2206,1456.3 2210,1456.3 2214,1456.3 2218,1456.3 2222,1456.3 2226,1456.3 2230,1456.3 2234,1456.3 2238,1456.3 2242,1456.3 2246,1456.3 2250,1456.3 2254,1456.3 2258,1456.3 2262,1456.3 2266,1456.3 2270,1456.3 2274,1456.3 2278,1456.4 2282,1456.4 2286,1456.4 2290,1456.4 2294,1456.4 2298,1456.4 2302,1456.4 2306,1456.4 2306.5,1456.4"/>
</g>
<polyline fill="none" stroke="#000" stroke-width="4.5" points="1512.5,1441.6 1516.5,1441.6 1520.5,1441.6 1524.5,1441.6 1528.5,1441.6 1532.5,1441.6 1536.5,1441.6 1540.5,1441.6 1544.5,1441.6 1548.5,1441.6 1552.5,1441.6 1556.5,1441.6 1560.5,1441.7 1564.5,1441.7 1568.5,1441.7 1572.5,1441.7 1576.5,1441.7 1580.5,1441.7 1584.5,1441.7 1588.5,1441.7 1592.5,1441.7 1596.5,1441.7 1600.5,1441.7 1604.5,1441.7 1608.5,1441.7 1612.5,1441.7 1616.5,1441.7 1620.5,1441.7 1624.5,1441.7 1628.5,1441.8 1632.5,1441.8 1636.5,1441.8 1640.5,1441.8 1644.5,1441.8 1648.5,1441.8 1652.5,1441.8 1656.5,1441.8 1660.5,1441.8 1664.5,1441.8 1668.5,1441.8 1672.5,1441.8 1676.5,1441.8 1680.5,1441.8 1684.5,1441.8 1688.5,1441.8 1692.5,1441.8 1696.5,1441.9 1700.5,1441.9 1704.5,1441.9 1708.5,1441.9 1712.5,1441.9 1716.5,1441.9 1720.5,1441.9 1724.5,1441.9 1728.5,1441.9 1732.5,1441.9 1736.5,1441.9 1740.5,1441.9 1744.5,1441.9 1748.5,1441.9 1752.5,1441.9 1756.5,1441.9 1760.5,1441.9 1764.5,1441.9 1768.5,1442 1772.5,1442 1776.5,1442 1780.5,1442 1784.5,1442 1788.5,1442 1792.5,1442 1796.5,1442 1800.5,1442 1804.5,1442 1808.5,1442 1812.5,1442 1816.5,1442 1820.5,1442 1824.5,1442 1828.5,1442 1832.5,1442 1836.5,1442.1 1840.5,1442.1 1844.5,1442.1 1848.5,1442.1 1852.5,1442.1 1856.5,1442.1 1860.5,1442.1 1864.5,1442.1 1868.5,1442.1 1872.5,1442.1 1876.5,1442.1 1880.5,1442.1 1884.5,1442.1 1888.5,1442.1 1892.5,1442.1 1896.5,1442.1 1900.5,1442.1 1904.5,1442.1 1908.5,1442.2 1912.5,1442.2 1916.5,1442.2 1920.5,1442.2 1924.5,1442.2 1928.5,1442.2 1932.5,1442.2 1936.5,1442.2 1940.5,1442.2 1944.5,1442.2 1948.5,1442.2 1952.5,1442.2 1956.5,1442.3 1960,1442.3 1961,1442.3 1962,1442.3 1963,1442.3 1964,1442.3 1965,1442.3 1966,1442.3 1967,1442.3 1968,1442.3 1969,1442.3 1970,1442.3 1971,1442.3 1972,1442.3 1973,1442.4 1974,1442.4 1975,1442.4 1976,1442.4 1977,1442.4 1978,1442.4 1979,1442.4 1980,1442.4 1981,1442.4 1982,1442.5 1983,1442.5 1984,1442.5 1985,1442.5"/>
<polyline fill="none" stroke="#a32d2d" stroke-width="5" stroke-linejoin="round" points="1364.5,1440.2 1368.5,1440.2 1372.5,1440.2 1376.5,1440.2 1380.5,1440.2 1384.5,1440.2 1388.5,1440.1 1392.5,1440.1 1396.5,1440.1 1400.5,1440 1404.5,1440 1408.5,1439.9 1412.5,1439.9 1416.5,1439.8 1420.5,1439.7 1424.5,1439.6 1428.5,1439.5 1432.5,1439.4 1436.5,1439.3 1440.5,1439.1 1444.5,1439 1448.5,1438.8 1452.5,1438.7 1456.5,1438.5 1460.5,1438.3 1464.5,1438.1 1468.5,1437.9 1472.5,1437.7 1476.5,1437.4 1480.5,1437.2 1484.5,1437 1488.5,1436.7 1492.5,1436.5 1496.5,1436.2 1500.5,1436 1504.5,1435.7 1508.5,1435.5 1512.5,1435.2 1516.5,1435 1520.5,1434.8 1524.5,1434.5 1528.5,1434.3 1532.5,1434.1 1536.5,1433.8 1540.5,1433.6 1544.5,1433.4 1548.5,1433.2 1552.5,1433 1556.5,1432.8 1560.5,1432.7 1564.5,1432.5 1568.5,1432.3 1572.5,1432.2 1576.5,1432.1 1580.5,1431.9 1584.5,1431.8 1588.5,1431.8 1592.5,1431.7 1596.5,1431.6 1600.5,1431.6 1604.5,1431.6 1608.5,1431.6 1612.5,1431.7 1616.5,1431.7 1620.5,1431.8 1624.5,1431.9 1628.5,1432 1632.5,1432.1 1636.5,1432.2 1640.5,1432.4 1644.5,1432.5 1648.5,1432.7 1652.5,1432.8 1656.5,1433 1660.5,1433.1 1664.5,1433.2 1668.5,1433.3 1672.5,1433.4 1676.5,1433.5 1680.5,1433.5 1684.5,1433.6 1688.5,1433.5 1692.5,1433.5 1696.5,1433.4 1700.5,1433.3 1704.5,1433.2 1708.5,1433.1 1712.5,1432.9 1716.5,1432.7 1720.5,1432.6 1724.5,1432.4 1728.5,1432.2 1732.5,1432 1736.5,1431.8 1740.5,1431.6 1744.5,1431.4 1748.5,1431.2 1752.5,1431 1756.5,1430.9 1760.5,1430.8 1764.5,1430.6 1768.5,1430.5 1772.5,1430.4 1776.5,1430.3 1780.5,1430.2 1784.5,1430 1788.5,1429.9 1792.5,1429.8 1796.5,1429.6 1800.5,1429.4 1804.5,1429.2 1808.5,1429 1812.5,1428.7 1816.5,1428.4 1820.5,1428 1824.5,1427.7 1828.5,1427.3 1832.5,1426.8 1836.5,1426.4 1840.5,1425.9 1844.5,1425.4 1848.5,1424.9 1852.5,1424.3 1856.5,1423.8 1860.5,1423.2 1864.5,1422.6 1868.5,1421.9 1872.5,1421.3 1876.5,1420.6 1880.5,1419.8 1884.5,1419 1888.5,1418.2 1892.5,1417.3 1896.5,1416.4 1900.5,1415.4 1904.5,1414.3 1908.5,1413.2 1912.5,1412.1 1916.5,1410.9 1920.5,1409.7 1924.5,1408.5 1928.5,1407.2 1932.5,1405.9 1936.5,1404.7 1940.5,1403.4 1944.5,1402.1 1948.5,1400.8 1952.5,1399.5 1956.5,1398.1 1960,1397 1961,1396.6 1962,1396.3 1963,1395.9 1964,1395.5 1965,1395.2 1966,1394.8 1967,1394.4 1968,1394 1969,1393.6 1970,1393.2 1971,1392.8 1972,1392.4 1973,1392 1974,1391.5 1975,1391 1976,1390.5 1977,1390 1978,1389.5 1979,1388.9 1980,1388.3 1981,1387.7 1982,1387.1 1983,1386.4 1984,1385.6 1985,1384.9 1986,1384 1987,1383.2 1988,1382.2 1989,1381.3 1990,1380.2 1991,1379.1 1992,1377.9 1993,1376.6 1994,1375.2 1995,1373.8 1996,1372.2 1997,1370.6 1998,1368.8 1999,1366.9 2000,1364.9 2001,1362.8 2002,1360.5 2003,1358.1 2004,1355.6 2005,1352.9 2006,1350.1 2007,1347 2008,1343.9 2009,1340.5 2010,1337 2011,1333.3 2012,1329.5 2013,1325.5 2014,1321.2 2015,1316.9 2016,1312.3 2017,1307.6 2018,1302.7 2019,1297.6 2020,1292.4 2021,1287.1 2022,1281.6 2023,1275.9 2024,1270.2 2025,1264.3 2026,1258.4 2027,1252.3 2028,1246.3 2029,1240.1 2030,1234 2031,1227.8 2032,1221.6 2033,1215.5 2034,1209.4 2035,1203.5 2036,1197.6 2037,1191.8 2038,1186.2 2039,1180.8 2040,1175.5 2041,1170.5 2042,1165.8 2043,1161.3 2044,1157.1 2045,1153.2 2046,1149.7 2047,1146.5 2048,1143.8 2049,1141.4 2050,1139.4 2051,1137.8 2052,1136.7 2053,1136 2054,1135.8 2055,1136.1 2056,1136.8 2057,1138.1 2058,1139.9 2059,1142.3 2060,1145.2 2061,1148.6 2062,1152.5 2063,1156.9 2064,1161.7 2065,1166.9 2066,1172.5 2067,1178.4 2068,1184.7 2069,1191.2 2070,1198 2071,1205 2072,1212.1 2073,1219.4 2074,1226.8 2075,1234.3 2076,1241.8 2077,1249.3 2078,1256.8 2079,1264.2 2080,1271.6 2081,1278.8 2082,1286 2083,1293 2084,1299.9 2085,1306.6 2086,1313 2087,1319.3 2088,1325.4 2089,1331.3 2090,1337 2091,1342.4 2092,1347.6 2093,1352.6 2094,1357.3 2095,1361.9 2096,1366.2 2097,1370.3 2098,1374.2 2099,1377.9 2100,1381.3 2101,1384.7 2102,1387.8 2103,1390.7 2104,1393.5 2105,1396.2 2106,1398.7 2107,1401.1 2108,1403.3 2109,1405.5 2110,1407.5 2111,1409.4 2112,1411.2 2113,1413 2114,1414.7 2115,1416.3 2116,1417.8 2117,1419.3 2118,1420.7 2119,1422 2120,1423.3 2121,1424.6 2122,1425.8 2123,1427 2124,1428.1 2125,1429.2 2126,1430.3 2127,1431.3 2128,1432.3 2129,1433.2 2130,1434.2 2131,1435.1 2132,1435.9 2133,1436.8 2134,1437.6 2135,1438.4 2136,1439.1 2137,1439.9 2138,1440.6 2139,1441.2 2140,1441.9 2141,1442.5 2142,1443.1 2143,1443.7 2144,1444.2 2145,1444.8 2146,1445.3 2147,1445.7 2148,1446.2 2149,1446.6 2150,1447.1 2154,1448.5 2158,1449.8 2162,1450.7 2166,1451.5 2170,1452.2 2174,1452.7 2178,1453.1 2182,1453.5 2186,1453.8 2190,1454.1 2194,1454.3 2198,1454.5 2202,1454.6 2206,1454.8 2210,1454.9 2214,1455 2218,1455.1 2222,1455.2 2226,1455.2 2230,1455.3 2234,1455.4 2238,1455.4 2242,1455.5 2246,1455.5 2250,1455.6 2254,1455.6 2258,1455.6 2262,1455.7 2266,1455.7 2270,1455.7 2274,1455.7 2278,1455.8 2282,1455.8 2286,1455.8 2290,1455.8 2294,1455.9 2298,1455.9 2302,1455.9 2306,1455.9 2306.5,1455.9"/>
<polyline fill="none" stroke="#2a0505" stroke-width="4.4" stroke-dasharray="4.5 6.5" points="1364.5,1440.2 1368.5,1440.2 1372.5,1440.2 1376.5,1440.2 1380.5,1440.2 1384.5,1440.2 1388.5,1440.1 1392.5,1440.1 1396.5,1440.1 1400.5,1440 1404.5,1440 1408.5,1439.9 1412.5,1439.9 1416.5,1439.8 1420.5,1439.7 1424.5,1439.6 1428.5,1439.5 1432.5,1439.4 1436.5,1439.3 1440.5,1439.1 1444.5,1439 1448.5,1438.8 1452.5,1438.7 1456.5,1438.5 1460.5,1438.3 1464.5,1438.1 1468.5,1437.9 1472.5,1437.7 1476.5,1437.4 1480.5,1437.2 1484.5,1437 1488.5,1436.7 1492.5,1436.5 1496.5,1436.2 1500.5,1436 1504.5,1435.7 1508.5,1435.5 1512.5,1435.2 1516.5,1435 1520.5,1434.8 1524.5,1434.5 1528.5,1434.3 1532.5,1434.1 1536.5,1433.8 1540.5,1433.6 1544.5,1433.4 1548.5,1433.2 1552.5,1433 1556.5,1432.8 1560.5,1432.7 1564.5,1432.5 1568.5,1432.3 1572.5,1432.2 1576.5,1432.1 1580.5,1431.9 1584.5,1431.8 1588.5,1431.8 1592.5,1431.7 1596.5,1431.6 1600.5,1431.6 1604.5,1431.6 1608.5,1431.6 1612.5,1431.7 1616.5,1431.7 1620.5,1431.8 1624.5,1431.9 1628.5,1432 1632.5,1432.1 1636.5,1432.2 1640.5,1432.4 1644.5,1432.5 1648.5,1432.7 1652.5,1432.8 1656.5,1433 1660.5,1433.1 1664.5,1433.2 1668.5,1433.3 1672.5,1433.4 1676.5,1433.5 1680.5,1433.5 1684.5,1433.6 1688.5,1433.5 1692.5,1433.5 1696.5,1433.4 1700.5,1433.3 1704.5,1433.2 1708.5,1433.1 1712.5,1432.9 1716.5,1432.7 1720.5,1432.6 1724.5,1432.4 1728.5,1432.2 1732.5,1432 1736.5,1431.8 1740.5,1431.6 1744.5,1431.4 1748.5,1431.2 1752.5,1431 1756.5,1430.9 1760.5,1430.8 1764.5,1430.6 1768.5,1430.5 1772.5,1430.4 1776.5,1430.3 1780.5,1430.2 1784.5,1430 1788.5,1429.9 1792.5,1429.8 1796.5,1429.6 1800.5,1429.4 1804.5,1429.2 1808.5,1429 1812.5,1428.7 1816.5,1428.4 1820.5,1428 1824.5,1427.7 1828.5,1427.3 1832.5,1426.8 1836.5,1426.4 1840.5,1425.9 1844.5,1425.4 1848.5,1424.9 1852.5,1424.3 1856.5,1423.8 1860.5,1423.2 1864.5,1422.6 1868.5,1421.9 1872.5,1421.3 1876.5,1420.6 1880.5,1419.8 1884.5,1419 1888.5,1418.2 1892.5,1417.3 1896.5,1416.4 1900.5,1415.4 1904.5,1414.3 1908.5,1413.2 1912.5,1412.1 1916.5,1410.9 1920.5,1409.7 1924.5,1408.5 1928.5,1407.2 1932.5,1405.9 1936.5,1404.7 1940.5,1403.4 1944.5,1402.1 1948.5,1400.8 1952.5,1399.5 1956.5,1398.1 1960,1397 1961,1396.6 1962,1396.3 1963,1395.9 1964,1395.5 1965,1395.2 1966,1394.8 1967,1394.4 1968,1394 1969,1393.6 1970,1393.2 1971,1392.8 1972,1392.4 1973,1392 1974,1391.5 1975,1391 1976,1390.5 1977,1390 1978,1389.5 1979,1388.9 1980,1388.3 1981,1387.7 1982,1387.1 1983,1386.4 1984,1385.6 1985,1384.9 1986,1384 1987,1383.2 1988,1382.2 1989,1381.3 1990,1380.2 1991,1379.1 1992,1377.9 1993,1376.6 1994,1375.2 1995,1373.8 1996,1372.2 1997,1370.6 1998,1368.8 1999,1366.9 2000,1364.9 2001,1362.8 2002,1360.5 2003,1358.1 2004,1355.6 2005,1352.9 2006,1350.1 2007,1347 2008,1343.9 2009,1340.5 2010,1337 2011,1333.3 2012,1329.5 2013,1325.5 2014,1321.2 2015,1316.9 2016,1312.3 2017,1307.6 2018,1302.7 2019,1297.6 2020,1292.4 2021,1287.1 2022,1281.6 2023,1275.9 2024,1270.2 2025,1264.3 2026,1258.4 2027,1252.3 2028,1246.3 2029,1240.1 2030,1234 2031,1227.8 2032,1221.6 2033,1215.5 2034,1209.4 2035,1203.5 2036,1197.6 2037,1191.8 2038,1186.2 2039,1180.8 2040,1175.5 2041,1170.5 2042,1165.8 2043,1161.3 2044,1157.1 2045,1153.2 2046,1149.7 2047,1146.5 2048,1143.8 2049,1141.4 2050,1139.4 2051,1137.8 2052,1136.7 2053,1136 2054,1135.8 2055,1136.1 2056,1136.8 2057,1138.1 2058,1139.9 2059,1142.3 2060,1145.2 2061,1148.6 2062,1152.5 2063,1156.9 2064,1161.7 2065,1166.9 2066,1172.5 2067,1178.4 2068,1184.7 2069,1191.2 2070,1198 2071,1205 2072,1212.1 2073,1219.4 2074,1226.8 2075,1234.3 2076,1241.8 2077,1249.3 2078,1256.8 2079,1264.2 2080,1271.6 2081,1278.8 2082,1286 2083,1293 2084,1299.9 2085,1306.6 2086,1313 2087,1319.3 2088,1325.4 2089,1331.3 2090,1337 2091,1342.4 2092,1347.6 2093,1352.6 2094,1357.3 2095,1361.9 2096,1366.2 2097,1370.3 2098,1374.2 2099,1377.9 2100,1381.3 2101,1384.7 2102,1387.8 2103,1390.7 2104,1393.5 2105,1396.2 2106,1398.7 2107,1401.1 2108,1403.3 2109,1405.5 2110,1407.5 2111,1409.4 2112,1411.2 2113,1413 2114,1414.7 2115,1416.3 2116,1417.8 2117,1419.3 2118,1420.7 2119,1422 2120,1423.3 2121,1424.6 2122,1425.8 2123,1427 2124,1428.1 2125,1429.2 2126,1430.3 2127,1431.3 2128,1432.3 2129,1433.2 2130,1434.2 2131,1435.1 2132,1435.9 2133,1436.8 2134,1437.6 2135,1438.4 2136,1439.1 2137,1439.9 2138,1440.6 2139,1441.2 2140,1441.9 2141,1442.5 2142,1443.1 2143,1443.7 2144,1444.2 2145,1444.8 2146,1445.3 2147,1445.7 2148,1446.2 2149,1446.6 2150,1447.1 2154,1448.5 2158,1449.8 2162,1450.7 2166,1451.5 2170,1452.2 2174,1452.7 2178,1453.1 2182,1453.5 2186,1453.8 2190,1454.1 2194,1454.3 2198,1454.5 2202,1454.6 2206,1454.8 2210,1454.9 2214,1455 2218,1455.1 2222,1455.2 2226,1455.2 2230,1455.3 2234,1455.4 2238,1455.4 2242,1455.5 2246,1455.5 2250,1455.6 2254,1455.6 2258,1455.6 2262,1455.7 2266,1455.7 2270,1455.7 2274,1455.7 2278,1455.8 2282,1455.8 2286,1455.8 2290,1455.8 2294,1455.9 2298,1455.9 2302,1455.9 2306,1455.9 2306.5,1455.9"/>
<g fill="none" stroke="#000" stroke-width="4.2" stroke-dasharray="4.5 6.5">
<polyline points="1512.5,1868.8 1516.5,1868.8 1520.5,1868.8 1524.5,1868.8 1528.5,1868.8 1532.5,1868.8 1536.5,1868.8 1540.5,1868.9 1544.5,1868.9 1548.5,1868.9 1552.5,1868.9 1556.5,1868.9 1560.5,1868.9 1564.5,1868.9 1568.5,1868.9 1572.5,1868.9 1576.5,1868.9 1580.5,1868.9 1584.5,1868.9 1588.5,1868.9 1592.5,1868.9 1596.5,1868.9 1600.5,1868.9 1604.5,1868.9 1608.5,1868.9 1612.5,1868.9 1616.5,1868.9 1620.5,1868.9 1624.5,1868.9 1628.5,1868.9 1632.5,1869 1636.5,1869 1640.5,1869 1644.5,1869 1648.5,1869 1652.5,1869 1656.5,1869 1660.5,1869 1664.5,1869 1668.5,1869 1672.5,1869 1676.5,1869 1680.5,1869 1684.5,1869 1688.5,1869 1692.5,1869 1696.5,1869 1700.5,1869 1704.5,1869 1708.5,1869 1712.5,1869 1716.5,1869 1720.5,1869 1724.5,1869.1 1728.5,1869.1 1732.5,1869.1 1736.5,1869.1 1740.5,1869.1 1744.5,1869.1 1748.5,1869.1 1752.5,1869.1 1756.5,1869.1 1760.5,1869.1 1764.5,1869.1 1768.5,1869.1 1772.5,1869.1 1776.5,1869.1 1780.5,1869.1 1784.5,1869.1 1788.5,1869.1 1792.5,1869.1 1796.5,1869.1 1800.5,1869.1 1804.5,1869.1 1808.5,1869.1 1812.5,1869.2 1816.5,1869.2 1820.5,1869.2 1824.5,1869.2 1828.5,1869.2 1832.5,1869.2 1836.5,1869.2 1840.5,1869.2 1844.5,1869.2 1848.5,1869.2 1852.5,1869.2 1856.5,1869.2 1860.5,1869.2 1864.5,1869.2 1868.5,1869.2 1872.5,1869.3 1876.5,1869.3 1880.5,1869.3 1884.5,1869.3 1888.5,1869.3 1892.5,1869.3 1896.5,1869.3 1900.5,1869.4 1904.5,1869.4 1908.5,1869.4 1912.5,1869.4 1916.5,1869.5 1920.5,1869.5 1924.5,1869.5 1928.5,1869.6 1932.5,1869.6 1936.5,1869.7 1940.5,1869.7 1944.5,1869.8 1948.5,1869.9 1952.5,1870 1956.5,1870.1 1960,1870.2 1961,1870.2 1962,1870.2 1963,1870.3 1964,1870.3 1965,1870.3 1966,1870.4 1967,1870.4 1968,1870.4 1969,1870.5 1970,1870.5 1971,1870.5 1972,1870.6 1973,1870.6 1974,1870.7 1975,1870.7 1976,1870.7 1977,1870.8 1978,1870.8 1979,1870.9 1980,1870.9 1981,1871 1982,1871 1983,1871.1 1984,1871.1 1985,1871.2 1986,1871.2 1987,1871.3 1988,1871.4 1989,1871.4 1990,1871.5 1991,1871.5 1992,1871.6 1993,1871.7 1994,1871.7 1995,1871.8 1996,1871.9 1997,1871.9 1998,1872 1999,1872.1 2000,1872.2 2001,1872.2 2002,1872.3 2003,1872.4 2004,1872.5 2005,1872.6 2006,1872.6 2007,1872.7 2008,1872.8 2009,1872.9 2010,1873 2011,1873.1 2012,1873.2 2013,1873.3 2014,1873.4 2015,1873.4 2016,1873.5 2017,1873.6 2018,1873.7 2019,1873.8 2020,1873.9 2021,1874 2022,1874.1 2023,1874.2 2024,1874.4 2025,1874.5 2026,1874.6 2027,1874.7 2028,1874.8 2029,1874.9 2030,1875 2031,1875.1 2032,1875.2 2033,1875.3 2034,1875.4 2035,1875.5 2036,1875.6 2037,1875.8 2038,1875.9 2039,1876 2040,1876.1 2041,1876.2 2042,1876.3 2043,1876.4 2044,1876.5 2045,1876.6 2046,1876.7 2047,1876.8 2048,1876.9 2049,1877 2050,1877.1 2051,1877.2 2052,1877.2 2053,1877.3 2054,1877.4 2055,1877.5 2056,1877.5 2057,1877.6 2058,1877.7 2059,1877.7 2060,1877.7 2061,1877.8 2062,1877.8 2063,1877.8 2064,1877.9 2065,1877.9 2066,1877.9 2067,1877.8 2068,1877.8 2069,1877.8 2070,1877.7 2071,1877.7 2072,1877.6 2073,1877.5 2074,1877.5 2075,1877.3 2076,1877.2 2077,1877.1 2078,1877 2079,1876.8 2080,1876.6 2081,1876.5 2082,1876.3 2083,1876.1 2084,1875.8 2085,1875.6 2086,1875.4 2087,1875.1 2088,1874.9 2089,1874.6 2090,1874.3 2091,1874 2092,1873.7 2093,1873.4 2094,1873.1 2095,1872.9 2096,1872.6 2097,1872.3 2098,1872 2099,1871.7 2100,1871.4 2101,1871.1 2102,1870.8 2103,1870.6 2104,1870.4 2105,1870.1 2106,1869.9 2107,1869.7 2108,1869.6 2109,1869.4 2110,1869.3 2111,1869.2 2112,1869.1 2113,1869.1 2114,1869.1 2115,1869.1 2116,1869.1 2117,1869.2 2118,1869.3 2119,1869.4 2120,1869.6 2121,1869.8 2122,1870 2123,1870.2 2124,1870.4 2125,1870.7 2126,1871 2127,1871.3 2128,1871.6 2129,1871.9 2130,1872.3 2131,1872.6 2132,1873 2133,1873.3 2134,1873.7 2135,1874.1 2136,1874.5 2137,1874.8 2138,1875.2 2139,1875.6 2140,1875.9 2141,1876.3 2142,1876.7 2143,1877 2144,1877.3 2145,1877.7 2146,1878 2147,1878.3 2148,1878.6 2149,1878.9 2150,1879.1 2154,1880.1 2158,1880.9 2162,1881.5 2166,1882 2170,1882.3 2174,1882.6 2178,1882.8 2182,1882.9 2186,1883 2190,1883 2194,1883.1 2198,1883.1 2202,1883.2 2206,1883.2 2210,1883.2 2214,1883.2 2218,1883.2 2222,1883.3 2226,1883.3 2230,1883.3 2234,1883.3 2238,1883.3 2242,1883.3 2246,1883.3 2250,1883.3 2254,1883.4 2258,1883.4 2262,1883.4 2266,1883.4 2270,1883.4 2274,1883.4 2278,1883.4 2282,1883.4 2286,1883.4 2290,1883.4 2294,1883.4 2298,1883.4 2302,1883.4 2306,1883.5 2306.5,1883.5"/>
<polyline points="1512.5,1868.7 1516.5,1868.7 1520.5,1868.7 1524.5,1868.7 1528.5,1868.7 1532.5,1868.7 1536.5,1868.7 1540.5,1868.7 1544.5,1868.7 1548.5,1868.7 1552.5,1868.7 1556.5,1868.7 1560.5,1868.7 1564.5,1868.7 1568.5,1868.7 1572.5,1868.7 1576.5,1868.7 1580.5,1868.7 1584.5,1868.7 1588.5,1868.8 1592.5,1868.8 1596.5,1868.8 1600.5,1868.8 1604.5,1868.8 1608.5,1868.8 1612.5,1868.8 1616.5,1868.8 1620.5,1868.8 1624.5,1868.8 1628.5,1868.8 1632.5,1868.8 1636.5,1868.8 1640.5,1868.8 1644.5,1868.8 1648.5,1868.8 1652.5,1868.8 1656.5,1868.8 1660.5,1868.8 1664.5,1868.8 1668.5,1868.8 1672.5,1868.8 1676.5,1868.8 1680.5,1868.8 1684.5,1868.8 1688.5,1868.8 1692.5,1868.8 1696.5,1868.8 1700.5,1868.8 1704.5,1868.8 1708.5,1868.8 1712.5,1868.8 1716.5,1868.8 1720.5,1868.8 1724.5,1868.8 1728.5,1868.8 1732.5,1868.7 1736.5,1868.7 1740.5,1868.7 1744.5,1868.7 1748.5,1868.7 1752.5,1868.7 1756.5,1868.7 1760.5,1868.7 1764.5,1868.7 1768.5,1868.7 1772.5,1868.7 1776.5,1868.7 1780.5,1868.7 1784.5,1868.7 1788.5,1868.7 1792.5,1868.7 1796.5,1868.7 1800.5,1868.6 1804.5,1868.6 1808.5,1868.6 1812.5,1868.6 1816.5,1868.6 1820.5,1868.6 1824.5,1868.6 1828.5,1868.6 1832.5,1868.5 1836.5,1868.5 1840.5,1868.5 1844.5,1868.5 1848.5,1868.5 1852.5,1868.4 1856.5,1868.4 1860.5,1868.4 1864.5,1868.4 1868.5,1868.4 1872.5,1868.3 1876.5,1868.3 1880.5,1868.3 1884.5,1868.2 1888.5,1868.2 1892.5,1868.2 1896.5,1868.1 1900.5,1868.1 1904.5,1868.1 1908.5,1868 1912.5,1868 1916.5,1867.9 1920.5,1867.9 1924.5,1867.8 1928.5,1867.8 1932.5,1867.7 1936.5,1867.6 1940.5,1867.6 1944.5,1867.5 1948.5,1867.4 1952.5,1867.3 1956.5,1867.2 1960,1867.1 1961,1867.1 1962,1867 1963,1867 1964,1866.9 1965,1866.9 1966,1866.8 1967,1866.8 1968,1866.7 1969,1866.7 1970,1866.6 1971,1866.5 1972,1866.4 1973,1866.3 1974,1866.2 1975,1866.1 1976,1866 1977,1865.8 1978,1865.7 1979,1865.5 1980,1865.3 1981,1865.1 1982,1864.9 1983,1864.7 1984,1864.4 1985,1864.1 1986,1863.7 1987,1863.4 1988,1863 1989,1862.6 1990,1862.1 1991,1861.6 1992,1861 1993,1860.4 1994,1859.7 1995,1858.9 1996,1858.1 1997,1857.3 1998,1856.3 1999,1855.3 2000,1854.2 2001,1853 2002,1851.7 2003,1850.3 2004,1848.7 2005,1847.1 2006,1845.4 2007,1843.5 2008,1841.6 2009,1839.4 2010,1837.2 2011,1834.8 2012,1832.2 2013,1829.5 2014,1826.7 2015,1823.6 2016,1820.5 2017,1817.1 2018,1813.6 2019,1809.9 2020,1806 2021,1802 2022,1797.8 2023,1793.4 2024,1788.8 2025,1784.1 2026,1779.2 2027,1774.2 2028,1769 2029,1763.6 2030,1758.1 2031,1752.5 2032,1746.8 2033,1740.9 2034,1735 2035,1728.9 2036,1722.8 2037,1716.7 2038,1710.5 2039,1704.2 2040,1698 2041,1691.7 2042,1685.5 2043,1679.4 2044,1673.3 2045,1667.3 2046,1661.5 2047,1655.7 2048,1650.2 2049,1644.8 2050,1639.6 2051,1634.7 2052,1630 2053,1625.6 2054,1621.4 2055,1617.6 2056,1614.2 2057,1611.1 2058,1608.4 2059,1606 2060,1604.1 2061,1602.6 2062,1601.5 2063,1600.8 2064,1600.6 2065,1600.9 2066,1602 2067,1603.8 2068,1606.4 2069,1609.7 2070,1613.6 2071,1618.2 2072,1623.3 2073,1629.1 2074,1635.3 2075,1642 2076,1649 2077,1656.5 2078,1664.2 2079,1672.1 2080,1680.3 2081,1688.6 2082,1696.9 2083,1705.4 2084,1713.8 2085,1722.2 2086,1730.5 2087,1738.7 2088,1746.7 2089,1754.6 2090,1762.3 2091,1769.8 2092,1777 2093,1783.9 2094,1790.6 2095,1797 2096,1803.1 2097,1808.8 2098,1814.3 2099,1819.5 2100,1824.4 2101,1829 2102,1833.3 2103,1837.3 2104,1841 2105,1844.5 2106,1847.7 2107,1850.7 2108,1853.4 2109,1855.9 2110,1858.2 2111,1860.3 2112,1862.2 2113,1864 2114,1865.6 2115,1867 2116,1868.3 2117,1869.5 2118,1870.6 2119,1871.5 2120,1872.4 2121,1873.2 2122,1873.9 2123,1874.5 2124,1875.1 2125,1875.6 2126,1876.1 2127,1876.5 2128,1876.8 2129,1877.2 2130,1877.5 2131,1877.8 2132,1878 2133,1878.2 2134,1878.4 2135,1878.6 2136,1878.8 2137,1879 2138,1879.1 2139,1879.3 2140,1879.4 2141,1879.5 2142,1879.6 2143,1879.7 2144,1879.8 2145,1879.9 2146,1880 2147,1880.1 2148,1880.2 2149,1880.3 2150,1880.3 2154,1880.6 2158,1880.8 2162,1881 2166,1881.2 2170,1881.4 2174,1881.5 2178,1881.7 2182,1881.8 2186,1881.9 2190,1882 2194,1882.1 2198,1882.2 2202,1882.3 2206,1882.3 2210,1882.4 2214,1882.4 2218,1882.5 2222,1882.5 2226,1882.6 2230,1882.6 2234,1882.7 2238,1882.7 2242,1882.8 2246,1882.8 2250,1882.8 2254,1882.9 2258,1882.9 2262,1882.9 2266,1882.9 2270,1883 2274,1883 2278,1883 2282,1883 2286,1883 2290,1883.1 2294,1883.1 2298,1883.1 2302,1883.1 2306,1883.1 2306.5,1883.1"/>
<polyline points="1512.5,1868.7 1516.5,1868.7 1520.5,1868.7 1524.5,1868.7 1528.5,1868.7 1532.5,1868.7 1536.5,1868.8 1540.5,1868.8 1544.5,1868.8 1548.5,1868.8 1552.5,1868.8 1556.5,1868.8 1560.5,1868.8 1564.5,1868.8 1568.5,1868.8 1572.5,1868.8 1576.5,1868.8 1580.5,1868.8 1584.5,1868.8 1588.5,1868.8 1592.5,1868.8 1596.5,1868.8 1600.5,1868.8 1604.5,1868.8 1608.5,1868.8 1612.5,1868.8 1616.5,1868.8 1620.5,1868.8 1624.5,1868.8 1628.5,1868.8 1632.5,1868.8 1636.5,1868.8 1640.5,1868.8 1644.5,1868.8 1648.5,1868.8 1652.5,1868.8 1656.5,1868.8 1660.5,1868.8 1664.5,1868.8 1668.5,1868.8 1672.5,1868.8 1676.5,1868.8 1680.5,1868.8 1684.5,1868.8 1688.5,1868.8 1692.5,1868.8 1696.5,1868.8 1700.5,1868.8 1704.5,1868.8 1708.5,1868.8 1712.5,1868.8 1716.5,1868.8 1720.5,1868.8 1724.5,1868.8 1728.5,1868.8 1732.5,1868.8 1736.5,1868.8 1740.5,1868.8 1744.5,1868.8 1748.5,1868.8 1752.5,1868.8 1756.5,1868.8 1760.5,1868.8 1764.5,1868.8 1768.5,1868.8 1772.5,1868.8 1776.5,1868.8 1780.5,1868.7 1784.5,1868.7 1788.5,1868.7 1792.5,1868.7 1796.5,1868.7 1800.5,1868.7 1804.5,1868.7 1808.5,1868.7 1812.5,1868.7 1816.5,1868.7 1820.5,1868.6 1824.5,1868.6 1828.5,1868.6 1832.5,1868.6 1836.5,1868.6 1840.5,1868.5 1844.5,1868.5 1848.5,1868.5 1852.5,1868.4 1856.5,1868.4 1860.5,1868.3 1864.5,1868.3 1868.5,1868.2 1872.5,1868.1 1876.5,1867.9 1880.5,1867.8 1884.5,1867.6 1888.5,1867.4 1892.5,1867.2 1896.5,1866.9 1900.5,1866.5 1904.5,1866.1 1908.5,1865.6 1912.5,1865.1 1916.5,1864.4 1920.5,1863.7 1924.5,1862.8 1928.5,1861.9 1932.5,1860.8 1936.5,1859.6 1940.5,1858.3 1944.5,1856.8 1948.5,1855.2 1952.5,1853.5 1956.5,1851.7 1960,1850 1961,1849.5 1962,1848.9 1963,1848.4 1964,1847.9 1965,1847.4 1966,1846.9 1967,1846.3 1968,1845.8 1969,1845.2 1970,1844.7 1971,1844.2 1972,1843.6 1973,1843 1974,1842.5 1975,1841.9 1976,1841.4 1977,1840.8 1978,1840.2 1979,1839.7 1980,1839.1 1981,1838.6 1982,1838 1983,1837.4 1984,1836.9 1985,1836.3 1986,1835.8 1987,1835.3 1988,1834.7 1989,1834.2 1990,1833.7 1991,1833.1 1992,1832.6 1993,1832.1 1994,1831.6 1995,1831.1 1996,1830.6 1997,1830.2 1998,1829.7 1999,1829.3 2000,1828.8 2001,1828.4 2002,1828 2003,1827.6 2004,1827.2 2005,1826.9 2006,1826.5 2007,1826.2 2008,1825.9 2009,1825.6 2010,1825.3 2011,1825 2012,1824.8 2013,1824.5 2014,1824.3 2015,1824.1 2016,1824 2017,1823.8 2018,1823.7 2019,1823.6 2020,1823.5 2021,1823.4 2022,1823.4 2023,1823.4 2024,1823.4 2025,1823.4 2026,1823.5 2027,1823.6 2028,1823.7 2029,1823.8 2030,1823.9 2031,1824.1 2032,1824.3 2033,1824.5 2034,1824.7 2035,1825 2036,1825.2 2037,1825.5 2038,1825.9 2039,1826.2 2040,1826.6 2041,1826.9 2042,1827.3 2043,1827.7 2044,1828.2 2045,1828.6 2046,1829.1 2047,1829.6 2048,1830.1 2049,1830.6 2050,1831.1 2051,1831.7 2052,1832.2 2053,1832.8 2054,1833.4 2055,1834 2056,1834.6 2057,1835.2 2058,1835.8 2059,1836.5 2060,1837.1 2061,1837.8 2062,1838.4 2063,1839.1 2064,1839.8 2065,1840.4 2066,1841.1 2067,1841.8 2068,1842.5 2069,1843.2 2070,1843.9 2071,1844.6 2072,1845.3 2073,1846 2074,1846.7 2075,1847.3 2076,1848 2077,1848.7 2078,1849.4 2079,1850.1 2080,1850.8 2081,1851.5 2082,1852.2 2083,1852.8 2084,1853.5 2085,1854.2 2086,1854.8 2087,1855.5 2088,1856.1 2089,1856.8 2090,1857.4 2091,1858 2092,1858.6 2093,1859.2 2094,1859.8 2095,1860.4 2096,1861 2097,1861.6 2098,1862.2 2099,1862.7 2100,1863.3 2101,1863.8 2102,1864.4 2103,1864.9 2104,1865.4 2105,1865.9 2106,1866.4 2107,1866.9 2108,1867.4 2109,1867.8 2110,1868.3 2111,1868.8 2112,1869.2 2113,1869.6 2114,1870 2115,1870.5 2116,1870.9 2117,1871.2 2118,1871.6 2119,1872 2120,1872.4 2121,1872.7 2122,1873.1 2123,1873.4 2124,1873.7 2125,1874 2126,1874.3 2127,1874.6 2128,1874.9 2129,1875.2 2130,1875.5 2131,1875.8 2132,1876 2133,1876.3 2134,1876.5 2135,1876.7 2136,1877 2137,1877.2 2138,1877.4 2139,1877.6 2140,1877.8 2141,1878 2142,1878.2 2143,1878.4 2144,1878.5 2145,1878.7 2146,1878.9 2147,1879 2148,1879.2 2149,1879.3 2150,1879.5 2154,1880 2158,1880.4 2162,1880.8 2166,1881.1 2170,1881.4 2174,1881.6 2178,1881.8 2182,1882 2186,1882.1 2190,1882.2 2194,1882.3 2198,1882.4 2202,1882.5 2206,1882.6 2210,1882.6 2214,1882.7 2218,1882.7 2222,1882.7 2226,1882.8 2230,1882.8 2234,1882.8 2238,1882.9 2242,1882.9 2246,1882.9 2250,1882.9 2254,1883 2258,1883 2262,1883 2266,1883 2270,1883 2274,1883.1 2278,1883.1 2282,1883.1 2286,1883.1 2290,1883.1 2294,1883.1 2298,1883.2 2302,1883.2 2306,1883.2 2306.5,1883.2"/>
<polyline points="1512.5,1868.8 1516.5,1868.8 1520.5,1868.8 1524.5,1868.8 1528.5,1868.8 1532.5,1868.8 1536.5,1868.9 1540.5,1868.9 1544.5,1868.9 1548.5,1868.9 1552.5,1868.9 1556.5,1868.9 1560.5,1868.9 1564.5,1868.9 1568.5,1868.9 1572.5,1868.9 1576.5,1868.9 1580.5,1868.9 1584.5,1868.9 1588.5,1868.9 1592.5,1868.9 1596.5,1868.9 1600.5,1868.9 1604.5,1868.9 1608.5,1868.9 1612.5,1868.9 1616.5,1868.9 1620.5,1868.9 1624.5,1868.9 1628.5,1869 1632.5,1869 1636.5,1869 1640.5,1869 1644.5,1869 1648.5,1869 1652.5,1869 1656.5,1869 1660.5,1869 1664.5,1869 1668.5,1869 1672.5,1869 1676.5,1869 1680.5,1869 1684.5,1869 1688.5,1869 1692.5,1869 1696.5,1869 1700.5,1869 1704.5,1869 1708.5,1869 1712.5,1869 1716.5,1869.1 1720.5,1869.1 1724.5,1869.1 1728.5,1869.1 1732.5,1869.1 1736.5,1869.1 1740.5,1869.1 1744.5,1869.1 1748.5,1869.1 1752.5,1869.1 1756.5,1869.1 1760.5,1869.1 1764.5,1869.1 1768.5,1869.1 1772.5,1869.1 1776.5,1869.1 1780.5,1869.1 1784.5,1869.1 1788.5,1869.1 1792.5,1869.1 1796.5,1869.1 1800.5,1869.1 1804.5,1869.1 1808.5,1869.1 1812.5,1869.1 1816.5,1869 1820.5,1869 1824.5,1868.9 1828.5,1868.8 1832.5,1868.7 1836.5,1868.6 1840.5,1868.4 1844.5,1868.2 1848.5,1868 1852.5,1867.7 1856.5,1867.3 1860.5,1866.9 1864.5,1866.4 1868.5,1865.8 1872.5,1865.2 1876.5,1864.5 1880.5,1863.7 1884.5,1862.9 1888.5,1862 1892.5,1861 1896.5,1860 1900.5,1859 1904.5,1858 1908.5,1857.1 1912.5,1856.2 1916.5,1855.3 1920.5,1854.6 1924.5,1853.9 1928.5,1853.5 1932.5,1853.1 1936.5,1852.9 1940.5,1852.9 1944.5,1853.1 1948.5,1853.5 1952.5,1854 1956.5,1854.6 1960,1855.3 1961,1855.6 1962,1855.8 1963,1856 1964,1856.2 1965,1856.5 1966,1856.7 1967,1857 1968,1857.3 1969,1857.5 1970,1857.8 1971,1858.1 1972,1858.4 1973,1858.7 1974,1858.9 1975,1859.2 1976,1859.5 1977,1859.8 1978,1860.1 1979,1860.4 1980,1860.7 1981,1861 1982,1861.4 1983,1861.7 1984,1862 1985,1862.3 1986,1862.6 1987,1862.9 1988,1863.2 1989,1863.5 1990,1863.8 1991,1864.1 1992,1864.4 1993,1864.7 1994,1865 1995,1865.3 1996,1865.6 1997,1865.9 1998,1866.2 1999,1866.5 2000,1866.7 2001,1867 2002,1867.3 2003,1867.6 2004,1867.8 2005,1868.1 2006,1868.4 2007,1868.6 2008,1868.9 2009,1869.2 2010,1869.4 2011,1869.7 2012,1869.9 2013,1870.2 2014,1870.4 2015,1870.6 2016,1870.9 2017,1871.1 2018,1871.3 2019,1871.5 2020,1871.8 2021,1872 2022,1872.2 2023,1872.4 2024,1872.6 2025,1872.8 2026,1873 2027,1873.2 2028,1873.4 2029,1873.6 2030,1873.8 2031,1874 2032,1874.2 2033,1874.4 2034,1874.5 2035,1874.7 2036,1874.9 2037,1875.1 2038,1875.2 2039,1875.4 2040,1875.6 2041,1875.7 2042,1875.9 2043,1876 2044,1876.2 2045,1876.3 2046,1876.5 2047,1876.6 2048,1876.8 2049,1876.9 2050,1877.1 2051,1877.2 2052,1877.3 2053,1877.5 2054,1877.6 2055,1877.7 2056,1877.9 2057,1878 2058,1878.1 2059,1878.2 2060,1878.3 2061,1878.5 2062,1878.6 2063,1878.7 2064,1878.8 2065,1878.9 2066,1879 2067,1879.1 2068,1879.2 2069,1879.3 2070,1879.4 2071,1879.5 2072,1879.6 2073,1879.7 2074,1879.8 2075,1879.9 2076,1880 2077,1880.1 2078,1880.2 2079,1880.2 2080,1880.3 2081,1880.4 2082,1880.5 2083,1880.6 2084,1880.6 2085,1880.7 2086,1880.8 2087,1880.8 2088,1880.9 2089,1881 2090,1881 2091,1881.1 2092,1881.2 2093,1881.2 2094,1881.3 2095,1881.3 2096,1881.4 2097,1881.5 2098,1881.5 2099,1881.6 2100,1881.6 2101,1881.7 2102,1881.7 2103,1881.8 2104,1881.8 2105,1881.8 2106,1881.9 2107,1881.9 2108,1882 2109,1882 2110,1882 2111,1882.1 2112,1882.1 2113,1882.2 2114,1882.2 2115,1882.2 2116,1882.3 2117,1882.3 2118,1882.3 2119,1882.4 2120,1882.4 2121,1882.4 2122,1882.4 2123,1882.5 2124,1882.5 2125,1882.5 2126,1882.5 2127,1882.6 2128,1882.6 2129,1882.6 2130,1882.6 2131,1882.7 2132,1882.7 2133,1882.7 2134,1882.7 2135,1882.7 2136,1882.8 2137,1882.8 2138,1882.8 2139,1882.8 2140,1882.8 2141,1882.8 2142,1882.9 2143,1882.9 2144,1882.9 2145,1882.9 2146,1882.9 2147,1882.9 2148,1882.9 2149,1883 2150,1883 2154,1883 2158,1883.1 2162,1883.1 2166,1883.1 2170,1883.2 2174,1883.2 2178,1883.2 2182,1883.2 2186,1883.2 2190,1883.3 2194,1883.3 2198,1883.3 2202,1883.3 2206,1883.3 2210,1883.3 2214,1883.3 2218,1883.4 2222,1883.4 2226,1883.4 2230,1883.4 2234,1883.4 2238,1883.4 2242,1883.4 2246,1883.4 2250,1883.4 2254,1883.4 2258,1883.4 2262,1883.4 2266,1883.4 2270,1883.4 2274,1883.4 2278,1883.5 2282,1883.5 2286,1883.5 2290,1883.5 2294,1883.5 2298,1883.5 2302,1883.5 2306,1883.5 2306.5,1883.5"/>
<polyline points="1512.5,1868.8 1516.5,1868.8 1520.5,1868.8 1524.5,1868.8 1528.5,1868.8 1532.5,1868.8 1536.5,1868.9 1540.5,1868.9 1544.5,1868.9 1548.5,1868.9 1552.5,1868.9 1556.5,1868.9 1560.5,1868.9 1564.5,1868.9 1568.5,1868.9 1572.5,1868.9 1576.5,1868.9 1580.5,1868.9 1584.5,1868.9 1588.5,1868.9 1592.5,1868.9 1596.5,1868.9 1600.5,1868.9 1604.5,1868.9 1608.5,1868.9 1612.5,1868.9 1616.5,1868.9 1620.5,1868.9 1624.5,1868.9 1628.5,1869 1632.5,1869 1636.5,1869 1640.5,1869 1644.5,1869 1648.5,1869 1652.5,1869 1656.5,1869 1660.5,1869 1664.5,1869 1668.5,1869 1672.5,1869 1676.5,1869 1680.5,1869 1684.5,1869 1688.5,1869 1692.5,1869 1696.5,1869 1700.5,1869 1704.5,1869 1708.5,1869 1712.5,1869 1716.5,1869 1720.5,1869 1724.5,1869 1728.5,1869 1732.5,1868.9 1736.5,1868.9 1740.5,1868.9 1744.5,1868.8 1748.5,1868.7 1752.5,1868.7 1756.5,1868.6 1760.5,1868.4 1764.5,1868.3 1768.5,1868.2 1772.5,1868 1776.5,1867.8 1780.5,1867.5 1784.5,1867.2 1788.5,1866.9 1792.5,1866.6 1796.5,1866.2 1800.5,1865.8 1804.5,1865.4 1808.5,1865 1812.5,1864.5 1816.5,1864 1820.5,1863.5 1824.5,1863 1828.5,1862.5 1832.5,1862 1836.5,1861.5 1840.5,1861 1844.5,1860.6 1848.5,1860.2 1852.5,1859.9 1856.5,1859.6 1860.5,1859.4 1864.5,1859.3 1868.5,1859.2 1872.5,1859.2 1876.5,1859.3 1880.5,1859.4 1884.5,1859.6 1888.5,1859.9 1892.5,1860.2 1896.5,1860.6 1900.5,1861.1 1904.5,1861.5 1908.5,1862 1912.5,1862.6 1916.5,1863.1 1920.5,1863.7 1924.5,1864.2 1928.5,1864.8 1932.5,1865.3 1936.5,1865.8 1940.5,1866.3 1944.5,1866.8 1948.5,1867.3 1952.5,1867.7 1956.5,1868.1 1960,1868.5 1961,1868.6 1962,1868.7 1963,1868.8 1964,1868.9 1965,1869 1966,1869 1967,1869.1 1968,1869.2 1969,1869.3 1970,1869.4 1971,1869.5 1972,1869.6 1973,1869.7 1974,1869.8 1975,1869.8 1976,1869.9 1977,1870 1978,1870.1 1979,1870.2 1980,1870.3 1981,1870.4 1982,1870.4 1983,1870.5 1984,1870.6 1985,1870.7 1986,1870.8 1987,1870.9 1988,1870.9 1989,1871 1990,1871.1 1991,1871.2 1992,1871.3 1993,1871.4 1994,1871.5 1995,1871.5 1996,1871.6 1997,1871.7 1998,1871.8 1999,1871.9 2000,1872 2001,1872.1 2002,1872.2 2003,1872.3 2004,1872.4 2005,1872.5 2006,1872.6 2007,1872.7 2008,1872.7 2009,1872.8 2010,1872.9 2011,1873 2012,1873.1 2013,1873.3 2014,1873.4 2015,1873.5 2016,1873.6 2017,1873.7 2018,1873.8 2019,1873.9 2020,1874 2021,1874.1 2022,1874.2 2023,1874.3 2024,1874.4 2025,1874.5 2026,1874.7 2027,1874.8 2028,1874.9 2029,1875 2030,1875.1 2031,1875.2 2032,1875.3 2033,1875.5 2034,1875.6 2035,1875.7 2036,1875.8 2037,1875.9 2038,1876 2039,1876.2 2040,1876.3 2041,1876.4 2042,1876.5 2043,1876.6 2044,1876.8 2045,1876.9 2046,1877 2047,1877.1 2048,1877.2 2049,1877.3 2050,1877.4 2051,1877.6 2052,1877.7 2053,1877.8 2054,1877.9 2055,1878 2056,1878.1 2057,1878.2 2058,1878.3 2059,1878.4 2060,1878.5 2061,1878.6 2062,1878.7 2063,1878.8 2064,1878.9 2065,1879 2066,1879.1 2067,1879.2 2068,1879.3 2069,1879.4 2070,1879.5 2071,1879.6 2072,1879.7 2073,1879.8 2074,1879.9 2075,1880 2076,1880 2077,1880.1 2078,1880.2 2079,1880.3 2080,1880.4 2081,1880.4 2082,1880.5 2083,1880.6 2084,1880.7 2085,1880.7 2086,1880.8 2087,1880.9 2088,1880.9 2089,1881 2090,1881.1 2091,1881.1 2092,1881.2 2093,1881.2 2094,1881.3 2095,1881.4 2096,1881.4 2097,1881.5 2098,1881.5 2099,1881.6 2100,1881.6 2101,1881.7 2102,1881.7 2103,1881.8 2104,1881.8 2105,1881.8 2106,1881.9 2107,1881.9 2108,1882 2109,1882 2110,1882.1 2111,1882.1 2112,1882.1 2113,1882.2 2114,1882.2 2115,1882.2 2116,1882.3 2117,1882.3 2118,1882.3 2119,1882.4 2120,1882.4 2121,1882.4 2122,1882.4 2123,1882.5 2124,1882.5 2125,1882.5 2126,1882.5 2127,1882.6 2128,1882.6 2129,1882.6 2130,1882.6 2131,1882.7 2132,1882.7 2133,1882.7 2134,1882.7 2135,1882.7 2136,1882.8 2137,1882.8 2138,1882.8 2139,1882.8 2140,1882.8 2141,1882.8 2142,1882.9 2143,1882.9 2144,1882.9 2145,1882.9 2146,1882.9 2147,1882.9 2148,1882.9 2149,1883 2150,1883 2154,1883 2158,1883.1 2162,1883.1 2166,1883.1 2170,1883.2 2174,1883.2 2178,1883.2 2182,1883.2 2186,1883.2 2190,1883.3 2194,1883.3 2198,1883.3 2202,1883.3 2206,1883.3 2210,1883.3 2214,1883.3 2218,1883.4 2222,1883.4 2226,1883.4 2230,1883.4 2234,1883.4 2238,1883.4 2242,1883.4 2246,1883.4 2250,1883.4 2254,1883.4 2258,1883.4 2262,1883.4 2266,1883.4 2270,1883.4 2274,1883.4 2278,1883.5 2282,1883.5 2286,1883.5 2290,1883.5 2294,1883.5 2298,1883.5 2302,1883.5 2306,1883.5 2306.5,1883.5"/>
<polyline points="1512.5,1868.8 1516.5,1868.8 1520.5,1868.8 1524.5,1868.8 1528.5,1868.8 1532.5,1868.8 1536.5,1868.8 1540.5,1868.9 1544.5,1868.9 1548.5,1868.9 1552.5,1868.9 1556.5,1868.9 1560.5,1868.9 1564.5,1868.9 1568.5,1868.9 1572.5,1868.9 1576.5,1868.9 1580.5,1868.9 1584.5,1868.9 1588.5,1868.9 1592.5,1868.8 1596.5,1868.8 1600.5,1868.8 1604.5,1868.8 1608.5,1868.8 1612.5,1868.7 1616.5,1868.7 1620.5,1868.6 1624.5,1868.6 1628.5,1868.5 1632.5,1868.4 1636.5,1868.3 1640.5,1868.2 1644.5,1868.1 1648.5,1868 1652.5,1867.8 1656.5,1867.6 1660.5,1867.5 1664.5,1867.2 1668.5,1867 1672.5,1866.7 1676.5,1866.5 1680.5,1866.2 1684.5,1865.9 1688.5,1865.5 1692.5,1865.2 1696.5,1864.8 1700.5,1864.5 1704.5,1864.1 1708.5,1863.7 1712.5,1863.3 1716.5,1863 1720.5,1862.6 1724.5,1862.3 1728.5,1861.9 1732.5,1861.6 1736.5,1861.3 1740.5,1861.1 1744.5,1860.9 1748.5,1860.7 1752.5,1860.6 1756.5,1860.5 1760.5,1860.5 1764.5,1860.5 1768.5,1860.6 1772.5,1860.7 1776.5,1860.8 1780.5,1861 1784.5,1861.2 1788.5,1861.5 1792.5,1861.8 1796.5,1862.1 1800.5,1862.4 1804.5,1862.8 1808.5,1863.2 1812.5,1863.5 1816.5,1863.9 1820.5,1864.3 1824.5,1864.7 1828.5,1865.1 1832.5,1865.5 1836.5,1865.8 1840.5,1866.1 1844.5,1866.5 1848.5,1866.8 1852.5,1867 1856.5,1867.3 1860.5,1867.6 1864.5,1867.8 1868.5,1868 1872.5,1868.2 1876.5,1868.3 1880.5,1868.5 1884.5,1868.6 1888.5,1868.7 1892.5,1868.9 1896.5,1869 1900.5,1869 1904.5,1869.1 1908.5,1869.2 1912.5,1869.3 1916.5,1869.3 1920.5,1869.4 1924.5,1869.5 1928.5,1869.5 1932.5,1869.6 1936.5,1869.7 1940.5,1869.7 1944.5,1869.8 1948.5,1869.9 1952.5,1870 1956.5,1870.1 1960,1870.2 1961,1870.2 1962,1870.3 1963,1870.3 1964,1870.3 1965,1870.4 1966,1870.4 1967,1870.4 1968,1870.5 1969,1870.5 1970,1870.5 1971,1870.6 1972,1870.6 1973,1870.7 1974,1870.7 1975,1870.8 1976,1870.8 1977,1870.8 1978,1870.9 1979,1870.9 1980,1871 1981,1871 1982,1871.1 1983,1871.1 1984,1871.2 1985,1871.2 1986,1871.3 1987,1871.4 1988,1871.4 1989,1871.5 1990,1871.5 1991,1871.6 1992,1871.7 1993,1871.7 1994,1871.8 1995,1871.9 1996,1871.9 1997,1872 1998,1872.1 1999,1872.2 2000,1872.2 2001,1872.3 2002,1872.4 2003,1872.5 2004,1872.6 2005,1872.6 2006,1872.7 2007,1872.8 2008,1872.9 2009,1873 2010,1873.1 2011,1873.2 2012,1873.3 2013,1873.4 2014,1873.5 2015,1873.6 2016,1873.7 2017,1873.8 2018,1873.9 2019,1874 2020,1874.1 2021,1874.2 2022,1874.3 2023,1874.4 2024,1874.5 2025,1874.6 2026,1874.7 2027,1874.8 2028,1874.9 2029,1875 2030,1875.2 2031,1875.3 2032,1875.4 2033,1875.5 2034,1875.6 2035,1875.7 2036,1875.8 2037,1876 2038,1876.1 2039,1876.2 2040,1876.3 2041,1876.4 2042,1876.5 2043,1876.6 2044,1876.8 2045,1876.9 2046,1877 2047,1877.1 2048,1877.2 2049,1877.3 2050,1877.5 2051,1877.6 2052,1877.7 2053,1877.8 2054,1877.9 2055,1878 2056,1878.1 2057,1878.2 2058,1878.3 2059,1878.4 2060,1878.5 2061,1878.6 2062,1878.7 2063,1878.8 2064,1878.9 2065,1879 2066,1879.1 2067,1879.2 2068,1879.3 2069,1879.4 2070,1879.5 2071,1879.6 2072,1879.7 2073,1879.8 2074,1879.9 2075,1880 2076,1880 2077,1880.1 2078,1880.2 2079,1880.3 2080,1880.4 2081,1880.4 2082,1880.5 2083,1880.6 2084,1880.7 2085,1880.7 2086,1880.8 2087,1880.9 2088,1880.9 2089,1881 2090,1881.1 2091,1881.1 2092,1881.2 2093,1881.2 2094,1881.3 2095,1881.4 2096,1881.4 2097,1881.5 2098,1881.5 2099,1881.6 2100,1881.6 2101,1881.7 2102,1881.7 2103,1881.8 2104,1881.8 2105,1881.8 2106,1881.9 2107,1881.9 2108,1882 2109,1882 2110,1882.1 2111,1882.1 2112,1882.1 2113,1882.2 2114,1882.2 2115,1882.2 2116,1882.3 2117,1882.3 2118,1882.3 2119,1882.4 2120,1882.4 2121,1882.4 2122,1882.4 2123,1882.5 2124,1882.5 2125,1882.5 2126,1882.5 2127,1882.6 2128,1882.6 2129,1882.6 2130,1882.6 2131,1882.7 2132,1882.7 2133,1882.7 2134,1882.7 2135,1882.7 2136,1882.8 2137,1882.8 2138,1882.8 2139,1882.8 2140,1882.8 2141,1882.8 2142,1882.9 2143,1882.9 2144,1882.9 2145,1882.9 2146,1882.9 2147,1882.9 2148,1882.9 2149,1883 2150,1883 2154,1883 2158,1883.1 2162,1883.1 2166,1883.1 2170,1883.2 2174,1883.2 2178,1883.2 2182,1883.2 2186,1883.2 2190,1883.3 2194,1883.3 2198,1883.3 2202,1883.3 2206,1883.3 2210,1883.3 2214,1883.3 2218,1883.4 2222,1883.4 2226,1883.4 2230,1883.4 2234,1883.4 2238,1883.4 2242,1883.4 2246,1883.4 2250,1883.4 2254,1883.4 2258,1883.4 2262,1883.4 2266,1883.4 2270,1883.4 2274,1883.4 2278,1883.5 2282,1883.5 2286,1883.5 2290,1883.5 2294,1883.5 2298,1883.5 2302,1883.5 2306,1883.5 2306.5,1883.5"/>
<polyline points="1512.5,1867.7 1516.5,1867.5 1520.5,1867.3 1524.5,1867.1 1528.5,1866.9 1532.5,1866.7 1536.5,1866.4 1540.5,1866.1 1544.5,1865.8 1548.5,1865.4 1552.5,1865.1 1556.5,1864.7 1560.5,1864.4 1564.5,1864 1568.5,1863.6 1572.5,1863.2 1576.5,1862.8 1580.5,1862.4 1584.5,1862.1 1588.5,1861.7 1592.5,1861.4 1596.5,1861.1 1600.5,1860.9 1604.5,1860.6 1608.5,1860.5 1612.5,1860.3 1616.5,1860.2 1620.5,1860.1 1624.5,1860.1 1628.5,1860.2 1632.5,1860.3 1636.5,1860.4 1640.5,1860.6 1644.5,1860.8 1648.5,1861 1652.5,1861.3 1656.5,1861.6 1660.5,1862 1664.5,1862.3 1668.5,1862.7 1672.5,1863.1 1676.5,1863.5 1680.5,1863.9 1684.5,1864.3 1688.5,1864.7 1692.5,1865.1 1696.5,1865.4 1700.5,1865.8 1704.5,1866.1 1708.5,1866.4 1712.5,1866.7 1716.5,1867 1720.5,1867.2 1724.5,1867.5 1728.5,1867.7 1732.5,1867.9 1736.5,1868 1740.5,1868.2 1744.5,1868.3 1748.5,1868.4 1752.5,1868.5 1756.5,1868.6 1760.5,1868.7 1764.5,1868.8 1768.5,1868.9 1772.5,1868.9 1776.5,1868.9 1780.5,1869 1784.5,1869 1788.5,1869 1792.5,1869.1 1796.5,1869.1 1800.5,1869.1 1804.5,1869.1 1808.5,1869.1 1812.5,1869.1 1816.5,1869.2 1820.5,1869.2 1824.5,1869.2 1828.5,1869.2 1832.5,1869.2 1836.5,1869.2 1840.5,1869.2 1844.5,1869.2 1848.5,1869.2 1852.5,1869.2 1856.5,1869.2 1860.5,1869.2 1864.5,1869.3 1868.5,1869.3 1872.5,1869.3 1876.5,1869.3 1880.5,1869.3 1884.5,1869.3 1888.5,1869.3 1892.5,1869.3 1896.5,1869.4 1900.5,1869.4 1904.5,1869.4 1908.5,1869.4 1912.5,1869.5 1916.5,1869.5 1920.5,1869.5 1924.5,1869.6 1928.5,1869.6 1932.5,1869.7 1936.5,1869.7 1940.5,1869.8 1944.5,1869.9 1948.5,1869.9 1952.5,1870 1956.5,1870.1 1960,1870.2 1961,1870.2 1962,1870.3 1963,1870.3 1964,1870.3 1965,1870.4 1966,1870.4 1967,1870.4 1968,1870.5 1969,1870.5 1970,1870.6 1971,1870.6 1972,1870.6 1973,1870.7 1974,1870.7 1975,1870.8 1976,1870.8 1977,1870.8 1978,1870.9 1979,1870.9 1980,1871 1981,1871 1982,1871.1 1983,1871.1 1984,1871.2 1985,1871.3 1986,1871.3 1987,1871.4 1988,1871.4 1989,1871.5 1990,1871.5 1991,1871.6 1992,1871.7 1993,1871.7 1994,1871.8 1995,1871.9 1996,1871.9 1997,1872 1998,1872.1 1999,1872.2 2000,1872.2 2001,1872.3 2002,1872.4 2003,1872.5 2004,1872.6 2005,1872.6 2006,1872.7 2007,1872.8 2008,1872.9 2009,1873 2010,1873.1 2011,1873.2 2012,1873.3 2013,1873.4 2014,1873.5 2015,1873.6 2016,1873.7 2017,1873.8 2018,1873.9 2019,1874 2020,1874.1 2021,1874.2 2022,1874.3 2023,1874.4 2024,1874.5 2025,1874.6 2026,1874.7 2027,1874.8 2028,1874.9 2029,1875 2030,1875.2 2031,1875.3 2032,1875.4 2033,1875.5 2034,1875.6 2035,1875.7 2036,1875.8 2037,1876 2038,1876.1 2039,1876.2 2040,1876.3 2041,1876.4 2042,1876.5 2043,1876.6 2044,1876.8 2045,1876.9 2046,1877 2047,1877.1 2048,1877.2 2049,1877.3 2050,1877.5 2051,1877.6 2052,1877.7 2053,1877.8 2054,1877.9 2055,1878 2056,1878.1 2057,1878.2 2058,1878.3 2059,1878.4 2060,1878.5 2061,1878.6 2062,1878.7 2063,1878.8 2064,1878.9 2065,1879 2066,1879.1 2067,1879.2 2068,1879.3 2069,1879.4 2070,1879.5 2071,1879.6 2072,1879.7 2073,1879.8 2074,1879.9 2075,1880 2076,1880 2077,1880.1 2078,1880.2 2079,1880.3 2080,1880.4 2081,1880.4 2082,1880.5 2083,1880.6 2084,1880.7 2085,1880.7 2086,1880.8 2087,1880.9 2088,1880.9 2089,1881 2090,1881.1 2091,1881.1 2092,1881.2 2093,1881.2 2094,1881.3 2095,1881.4 2096,1881.4 2097,1881.5 2098,1881.5 2099,1881.6 2100,1881.6 2101,1881.7 2102,1881.7 2103,1881.8 2104,1881.8 2105,1881.8 2106,1881.9 2107,1881.9 2108,1882 2109,1882 2110,1882.1 2111,1882.1 2112,1882.1 2113,1882.2 2114,1882.2 2115,1882.2 2116,1882.3 2117,1882.3 2118,1882.3 2119,1882.4 2120,1882.4 2121,1882.4 2122,1882.4 2123,1882.5 2124,1882.5 2125,1882.5 2126,1882.5 2127,1882.6 2128,1882.6 2129,1882.6 2130,1882.6 2131,1882.7 2132,1882.7 2133,1882.7 2134,1882.7 2135,1882.7 2136,1882.8 2137,1882.8 2138,1882.8 2139,1882.8 2140,1882.8 2141,1882.8 2142,1882.9 2143,1882.9 2144,1882.9 2145,1882.9 2146,1882.9 2147,1882.9 2148,1882.9 2149,1883 2150,1883 2154,1883 2158,1883.1 2162,1883.1 2166,1883.1 2170,1883.2 2174,1883.2 2178,1883.2 2182,1883.2 2186,1883.2 2190,1883.3 2194,1883.3 2198,1883.3 2202,1883.3 2206,1883.3 2210,1883.3 2214,1883.3 2218,1883.4 2222,1883.4 2226,1883.4 2230,1883.4 2234,1883.4 2238,1883.4 2242,1883.4 2246,1883.4 2250,1883.4 2254,1883.4 2258,1883.4 2262,1883.4 2266,1883.4 2270,1883.4 2274,1883.4 2278,1883.5 2282,1883.5 2286,1883.5 2290,1883.5 2294,1883.5 2298,1883.5 2302,1883.5 2306,1883.5 2306.5,1883.5"/>
<polyline points="1512.5,1864.3 1516.5,1864.2 1520.5,1864.1 1524.5,1864 1528.5,1864 1532.5,1863.9 1536.5,1863.9 1540.5,1863.9 1544.5,1864 1548.5,1864 1552.5,1864.1 1556.5,1864.2 1560.5,1864.4 1564.5,1864.5 1568.5,1864.7 1572.5,1864.8 1576.5,1865 1580.5,1865.2 1584.5,1865.4 1588.5,1865.6 1592.5,1865.8 1596.5,1866 1600.5,1866.2 1604.5,1866.5 1608.5,1866.7 1612.5,1866.8 1616.5,1867 1620.5,1867.2 1624.5,1867.4 1628.5,1867.6 1632.5,1867.7 1636.5,1867.8 1640.5,1868 1644.5,1868.1 1648.5,1868.2 1652.5,1868.3 1656.5,1868.4 1660.5,1868.5 1664.5,1868.6 1668.5,1868.6 1672.5,1868.7 1676.5,1868.7 1680.5,1868.8 1684.5,1868.8 1688.5,1868.9 1692.5,1868.9 1696.5,1868.9 1700.5,1868.9 1704.5,1869 1708.5,1869 1712.5,1869 1716.5,1869 1720.5,1869 1724.5,1869 1728.5,1869 1732.5,1869.1 1736.5,1869.1 1740.5,1869.1 1744.5,1869.1 1748.5,1869.1 1752.5,1869.1 1756.5,1869.1 1760.5,1869.1 1764.5,1869.1 1768.5,1869.1 1772.5,1869.1 1776.5,1869.1 1780.5,1869.1 1784.5,1869.1 1788.5,1869.1 1792.5,1869.1 1796.5,1869.1 1800.5,1869.1 1804.5,1869.2 1808.5,1869.2 1812.5,1869.2 1816.5,1869.2 1820.5,1869.2 1824.5,1869.2 1828.5,1869.2 1832.5,1869.2 1836.5,1869.2 1840.5,1869.2 1844.5,1869.2 1848.5,1869.2 1852.5,1869.2 1856.5,1869.2 1860.5,1869.2 1864.5,1869.3 1868.5,1869.3 1872.5,1869.3 1876.5,1869.3 1880.5,1869.3 1884.5,1869.3 1888.5,1869.3 1892.5,1869.3 1896.5,1869.4 1900.5,1869.4 1904.5,1869.4 1908.5,1869.4 1912.5,1869.5 1916.5,1869.5 1920.5,1869.5 1924.5,1869.6 1928.5,1869.6 1932.5,1869.7 1936.5,1869.7 1940.5,1869.8 1944.5,1869.9 1948.5,1869.9 1952.5,1870 1956.5,1870.1 1960,1870.2 1961,1870.2 1962,1870.3 1963,1870.3 1964,1870.3 1965,1870.4 1966,1870.4 1967,1870.4 1968,1870.5 1969,1870.5 1970,1870.6 1971,1870.6 1972,1870.6 1973,1870.7 1974,1870.7 1975,1870.8 1976,1870.8 1977,1870.8 1978,1870.9 1979,1870.9 1980,1871 1981,1871 1982,1871.1 1983,1871.1 1984,1871.2 1985,1871.3 1986,1871.3 1987,1871.4 1988,1871.4 1989,1871.5 1990,1871.5 1991,1871.6 1992,1871.7 1993,1871.7 1994,1871.8 1995,1871.9 1996,1871.9 1997,1872 1998,1872.1 1999,1872.2 2000,1872.2 2001,1872.3 2002,1872.4 2003,1872.5 2004,1872.6 2005,1872.6 2006,1872.7 2007,1872.8 2008,1872.9 2009,1873 2010,1873.1 2011,1873.2 2012,1873.3 2013,1873.4 2014,1873.5 2015,1873.6 2016,1873.7 2017,1873.8 2018,1873.9 2019,1874 2020,1874.1 2021,1874.2 2022,1874.3 2023,1874.4 2024,1874.5 2025,1874.6 2026,1874.7 2027,1874.8 2028,1874.9 2029,1875 2030,1875.2 2031,1875.3 2032,1875.4 2033,1875.5 2034,1875.6 2035,1875.7 2036,1875.8 2037,1876 2038,1876.1 2039,1876.2 2040,1876.3 2041,1876.4 2042,1876.5 2043,1876.6 2044,1876.8 2045,1876.9 2046,1877 2047,1877.1 2048,1877.2 2049,1877.3 2050,1877.5 2051,1877.6 2052,1877.7 2053,1877.8 2054,1877.9 2055,1878 2056,1878.1 2057,1878.2 2058,1878.3 2059,1878.4 2060,1878.5 2061,1878.6 2062,1878.7 2063,1878.8 2064,1878.9 2065,1879 2066,1879.1 2067,1879.2 2068,1879.3 2069,1879.4 2070,1879.5 2071,1879.6 2072,1879.7 2073,1879.8 2074,1879.9 2075,1880 2076,1880 2077,1880.1 2078,1880.2 2079,1880.3 2080,1880.4 2081,1880.4 2082,1880.5 2083,1880.6 2084,1880.7 2085,1880.7 2086,1880.8 2087,1880.9 2088,1880.9 2089,1881 2090,1881.1 2091,1881.1 2092,1881.2 2093,1881.2 2094,1881.3 2095,1881.4 2096,1881.4 2097,1881.5 2098,1881.5 2099,1881.6 2100,1881.6 2101,1881.7 2102,1881.7 2103,1881.8 2104,1881.8 2105,1881.8 2106,1881.9 2107,1881.9 2108,1882 2109,1882 2110,1882.1 2111,1882.1 2112,1882.1 2113,1882.2 2114,1882.2 2115,1882.2 2116,1882.3 2117,1882.3 2118,1882.3 2119,1882.4 2120,1882.4 2121,1882.4 2122,1882.4 2123,1882.5 2124,1882.5 2125,1882.5 2126,1882.5 2127,1882.6 2128,1882.6 2129,1882.6 2130,1882.6 2131,1882.7 2132,1882.7 2133,1882.7 2134,1882.7 2135,1882.7 2136,1882.8 2137,1882.8 2138,1882.8 2139,1882.8 2140,1882.8 2141,1882.8 2142,1882.9 2143,1882.9 2144,1882.9 2145,1882.9 2146,1882.9 2147,1882.9 2148,1882.9 2149,1883 2150,1883 2154,1883 2158,1883.1 2162,1883.1 2166,1883.1 2170,1883.2 2174,1883.2 2178,1883.2 2182,1883.2 2186,1883.2 2190,1883.3 2194,1883.3 2198,1883.3 2202,1883.3 2206,1883.3 2210,1883.3 2214,1883.3 2218,1883.4 2222,1883.4 2226,1883.4 2230,1883.4 2234,1883.4 2238,1883.4 2242,1883.4 2246,1883.4 2250,1883.4 2254,1883.4 2258,1883.4 2262,1883.4 2266,1883.4 2270,1883.4 2274,1883.4 2278,1883.5 2282,1883.5 2286,1883.5 2290,1883.5 2294,1883.5 2298,1883.5 2302,1883.5 2306,1883.5 2306.5,1883.5"/>
</g>
<polyline fill="none" stroke="#000" stroke-width="4.5" points="1512.5,1869.8 1516.5,1869.8 1520.5,1869.8 1524.5,1869.8 1528.5,1869.8 1532.5,1869.8 1536.5,1869.9 1540.5,1869.9 1544.5,1869.9 1548.5,1869.9 1552.5,1869.9 1556.5,1869.9 1560.5,1869.9 1564.5,1869.9 1568.5,1869.9 1572.5,1869.9 1576.5,1869.9 1580.5,1869.9 1584.5,1869.9 1588.5,1869.9 1592.5,1869.9 1596.5,1869.9 1600.5,1869.9 1604.5,1869.9 1608.5,1869.9 1612.5,1869.9 1616.5,1869.9 1620.5,1869.9 1624.5,1869.9 1628.5,1870 1632.5,1870 1636.5,1870 1640.5,1870 1644.5,1870 1648.5,1870 1652.5,1870 1656.5,1870 1660.5,1870 1664.5,1870 1668.5,1870 1672.5,1870 1676.5,1870 1680.5,1870 1684.5,1870 1688.5,1870 1692.5,1870 1696.5,1870 1700.5,1870 1704.5,1870 1708.5,1870 1712.5,1870 1716.5,1870.1 1720.5,1870.1 1724.5,1870.1 1728.5,1870.1 1732.5,1870.1 1736.5,1870.1 1740.5,1870.1 1744.5,1870.1 1748.5,1870.1 1752.5,1870.1 1756.5,1870.1 1760.5,1870.1 1764.5,1870.1 1768.5,1870.1 1772.5,1870.1 1776.5,1870.1 1780.5,1870.1 1784.5,1870.1 1788.5,1870.1 1792.5,1870.1 1796.5,1870.1 1800.5,1870.2 1804.5,1870.2 1808.5,1870.2 1812.5,1870.2 1816.5,1870.2 1820.5,1870.2 1824.5,1870.2 1828.5,1870.2 1832.5,1870.2 1836.5,1870.2 1840.5,1870.2 1844.5,1870.2 1848.5,1870.2 1852.5,1870.2 1856.5,1870.2 1860.5,1870.2 1864.5,1870.3 1868.5,1870.3 1872.5,1870.3 1876.5,1870.3 1880.5,1870.3 1884.5,1870.3 1888.5,1870.3 1892.5,1870.3 1896.5,1870.4 1900.5,1870.4 1904.5,1870.4 1908.5,1870.4 1912.5,1870.5 1916.5,1870.5 1920.5,1870.5 1924.5,1870.6 1928.5,1870.6 1932.5,1870.7 1936.5,1870.7 1940.5,1870.8 1944.5,1870.9 1948.5,1870.9 1952.5,1871 1956.5,1871.1 1960,1871.2 1961,1871.2 1962,1871.3 1963,1871.3 1964,1871.3 1965,1871.4 1966,1871.4 1967,1871.4 1968,1871.5 1969,1871.5 1970,1871.6 1971,1871.6 1972,1871.6 1973,1871.7 1974,1871.7 1975,1871.8 1976,1871.8 1977,1871.8 1978,1871.9 1979,1871.9 1980,1872 1981,1872 1982,1872.1 1983,1872.1 1984,1872.2 1985,1872.3"/>
<polyline fill="none" stroke="#a32d2d" stroke-width="5" stroke-linejoin="round" points="1364.5,1868.5 1368.5,1868.5 1372.5,1868.4 1376.5,1868.4 1380.5,1868.4 1384.5,1868.4 1388.5,1868.3 1392.5,1868.3 1396.5,1868.3 1400.5,1868.2 1404.5,1868.2 1408.5,1868.1 1412.5,1868 1416.5,1868 1420.5,1867.9 1424.5,1867.8 1428.5,1867.7 1432.5,1867.5 1436.5,1867.4 1440.5,1867.3 1444.5,1867.1 1448.5,1866.9 1452.5,1866.8 1456.5,1866.6 1460.5,1866.4 1464.5,1866.2 1468.5,1865.9 1472.5,1865.7 1476.5,1865.4 1480.5,1865.2 1484.5,1864.9 1488.5,1864.7 1492.5,1864.4 1496.5,1864.1 1500.5,1863.8 1504.5,1863.5 1508.5,1863.3 1512.5,1863 1516.5,1862.7 1520.5,1862.4 1524.5,1862.1 1528.5,1861.8 1532.5,1861.5 1536.5,1861.2 1540.5,1860.9 1544.5,1860.7 1548.5,1860.4 1552.5,1860.1 1556.5,1859.8 1560.5,1859.6 1564.5,1859.3 1568.5,1859.1 1572.5,1858.9 1576.5,1858.6 1580.5,1858.4 1584.5,1858.3 1588.5,1858.1 1592.5,1858 1596.5,1857.9 1600.5,1857.8 1604.5,1857.7 1608.5,1857.7 1612.5,1857.7 1616.5,1857.7 1620.5,1857.8 1624.5,1857.9 1628.5,1858 1632.5,1858.1 1636.5,1858.3 1640.5,1858.5 1644.5,1858.7 1648.5,1858.9 1652.5,1859.1 1656.5,1859.3 1660.5,1859.5 1664.5,1859.7 1668.5,1859.9 1672.5,1860.1 1676.5,1860.3 1680.5,1860.4 1684.5,1860.5 1688.5,1860.6 1692.5,1860.6 1696.5,1860.6 1700.5,1860.6 1704.5,1860.5 1708.5,1860.5 1712.5,1860.4 1716.5,1860.3 1720.5,1860.1 1724.5,1860 1728.5,1859.8 1732.5,1859.7 1736.5,1859.5 1740.5,1859.4 1744.5,1859.2 1748.5,1859.1 1752.5,1858.9 1756.5,1858.8 1760.5,1858.7 1764.5,1858.7 1768.5,1858.6 1772.5,1858.5 1776.5,1858.5 1780.5,1858.4 1784.5,1858.4 1788.5,1858.3 1792.5,1858.2 1796.5,1858.2 1800.5,1858.1 1804.5,1858 1808.5,1857.8 1812.5,1857.7 1816.5,1857.5 1820.5,1857.3 1824.5,1857.1 1828.5,1856.8 1832.5,1856.5 1836.5,1856.2 1840.5,1855.8 1844.5,1855.4 1848.5,1855 1852.5,1854.6 1856.5,1854.1 1860.5,1853.6 1864.5,1853.1 1868.5,1852.5 1872.5,1851.8 1876.5,1851.2 1880.5,1850.5 1884.5,1849.7 1888.5,1848.9 1892.5,1848 1896.5,1847.1 1900.5,1846.2 1904.5,1845.2 1908.5,1844.2 1912.5,1843.2 1916.5,1842.1 1920.5,1841 1924.5,1840 1928.5,1838.9 1932.5,1837.8 1936.5,1836.8 1940.5,1835.7 1944.5,1834.6 1948.5,1833.5 1952.5,1832.4 1956.5,1831.2 1960,1830.2 1961,1829.9 1962,1829.5 1963,1829.2 1964,1828.9 1965,1828.6 1966,1828.2 1967,1827.9 1968,1827.5 1969,1827.2 1970,1826.8 1971,1826.4 1972,1826 1973,1825.6 1974,1825.2 1975,1824.8 1976,1824.3 1977,1823.9 1978,1823.4 1979,1822.9 1980,1822.4 1981,1821.9 1982,1821.4 1983,1820.8 1984,1820.2 1985,1819.6 1986,1818.9 1987,1818.2 1988,1817.5 1989,1816.7 1990,1815.9 1991,1815.1 1992,1814.2 1993,1813.2 1994,1812.3 1995,1811.2 1996,1810.1 1997,1808.9 1998,1807.6 1999,1806.3 2000,1804.9 2001,1803.4 2002,1801.9 2003,1800.2 2004,1798.4 2005,1796.5 2006,1794.6 2007,1792.5 2008,1790.3 2009,1787.9 2010,1785.5 2011,1782.9 2012,1780.1 2013,1777.3 2014,1774.2 2015,1771.1 2016,1767.8 2017,1764.3 2018,1760.7 2019,1756.9 2020,1753 2021,1748.9 2022,1744.6 2023,1740.2 2024,1735.7 2025,1731 2026,1726.1 2027,1721.1 2028,1716 2029,1710.7 2030,1705.4 2031,1699.9 2032,1694.3 2033,1688.6 2034,1682.8 2035,1677 2036,1671.1 2037,1665.1 2038,1659.2 2039,1653.2 2040,1647.2 2041,1641.3 2042,1635.4 2043,1629.6 2044,1623.9 2045,1618.3 2046,1612.8 2047,1607.4 2048,1602.3 2049,1597.3 2050,1592.5 2051,1588 2052,1583.8 2053,1579.8 2054,1576.1 2055,1572.8 2056,1569.8 2057,1567.2 2058,1565 2059,1563.1 2060,1561.7 2061,1560.7 2062,1560.1 2063,1559.9 2064,1560.2 2065,1561 2066,1562.6 2067,1564.9 2068,1567.9 2069,1571.7 2070,1576.1 2071,1581.1 2072,1586.8 2073,1592.9 2074,1599.6 2075,1606.7 2076,1614.2 2077,1622 2078,1630.1 2079,1638.4 2080,1646.9 2081,1655.6 2082,1664.3 2083,1673 2084,1681.8 2085,1690.5 2086,1699.1 2087,1707.5 2088,1715.8 2089,1724 2090,1731.9 2091,1739.5 2092,1747 2093,1754.1 2094,1761 2095,1767.5 2096,1773.8 2097,1779.8 2098,1785.4 2099,1790.8 2100,1795.8 2101,1800.6 2102,1805.1 2103,1809.3 2104,1813.2 2105,1816.9 2106,1820.3 2107,1823.5 2108,1826.4 2109,1829.2 2110,1831.7 2111,1834.1 2112,1836.3 2113,1838.4 2114,1840.3 2115,1842.1 2116,1843.8 2117,1845.4 2118,1846.9 2119,1848.3 2120,1849.6 2121,1850.8 2122,1852 2123,1853.2 2124,1854.3 2125,1855.3 2126,1856.3 2127,1857.3 2128,1858.2 2129,1859.1 2130,1860 2131,1860.8 2132,1861.7 2133,1862.5 2134,1863.2 2135,1864 2136,1864.7 2137,1865.4 2138,1866.1 2139,1866.8 2140,1867.5 2141,1868.1 2142,1868.7 2143,1869.3 2144,1869.9 2145,1870.5 2146,1871 2147,1871.5 2148,1872.1 2149,1872.5 2150,1873 2154,1874.7 2158,1876 2162,1877.2 2166,1878.1 2170,1878.8 2174,1879.4 2178,1879.8 2182,1880.2 2186,1880.5 2190,1880.7 2194,1880.9 2198,1881.1 2202,1881.3 2206,1881.4 2210,1881.5 2214,1881.6 2218,1881.7 2222,1881.8 2226,1881.9 2230,1882 2234,1882.1 2238,1882.1 2242,1882.2 2246,1882.2 2250,1882.3 2254,1882.3 2258,1882.4 2262,1882.4 2266,1882.5 2270,1882.5 2274,1882.6 2278,1882.6 2282,1882.6 2286,1882.7 2290,1882.7 2294,1882.7 2298,1882.7 2302,1882.8 2306,1882.8 2306.5,1882.8"/>
<polyline fill="none" stroke="#2a0505" stroke-width="4.4" stroke-dasharray="4.5 6.5" points="1364.5,1868.5 1368.5,1868.5 1372.5,1868.4 1376.5,1868.4 1380.5,1868.4 1384.5,1868.4 1388.5,1868.3 1392.5,1868.3 1396.5,1868.3 1400.5,1868.2 1404.5,1868.2 1408.5,1868.1 1412.5,1868 1416.5,1868 1420.5,1867.9 1424.5,1867.8 1428.5,1867.7 1432.5,1867.5 1436.5,1867.4 1440.5,1867.3 1444.5,1867.1 1448.5,1866.9 1452.5,1866.8 1456.5,1866.6 1460.5,1866.4 1464.5,1866.2 1468.5,1865.9 1472.5,1865.7 1476.5,1865.4 1480.5,1865.2 1484.5,1864.9 1488.5,1864.7 1492.5,1864.4 1496.5,1864.1 1500.5,1863.8 1504.5,1863.5 1508.5,1863.3 1512.5,1863 1516.5,1862.7 1520.5,1862.4 1524.5,1862.1 1528.5,1861.8 1532.5,1861.5 1536.5,1861.2 1540.5,1860.9 1544.5,1860.7 1548.5,1860.4 1552.5,1860.1 1556.5,1859.8 1560.5,1859.6 1564.5,1859.3 1568.5,1859.1 1572.5,1858.9 1576.5,1858.6 1580.5,1858.4 1584.5,1858.3 1588.5,1858.1 1592.5,1858 1596.5,1857.9 1600.5,1857.8 1604.5,1857.7 1608.5,1857.7 1612.5,1857.7 1616.5,1857.7 1620.5,1857.8 1624.5,1857.9 1628.5,1858 1632.5,1858.1 1636.5,1858.3 1640.5,1858.5 1644.5,1858.7 1648.5,1858.9 1652.5,1859.1 1656.5,1859.3 1660.5,1859.5 1664.5,1859.7 1668.5,1859.9 1672.5,1860.1 1676.5,1860.3 1680.5,1860.4 1684.5,1860.5 1688.5,1860.6 1692.5,1860.6 1696.5,1860.6 1700.5,1860.6 1704.5,1860.5 1708.5,1860.5 1712.5,1860.4 1716.5,1860.3 1720.5,1860.1 1724.5,1860 1728.5,1859.8 1732.5,1859.7 1736.5,1859.5 1740.5,1859.4 1744.5,1859.2 1748.5,1859.1 1752.5,1858.9 1756.5,1858.8 1760.5,1858.7 1764.5,1858.7 1768.5,1858.6 1772.5,1858.5 1776.5,1858.5 1780.5,1858.4 1784.5,1858.4 1788.5,1858.3 1792.5,1858.2 1796.5,1858.2 1800.5,1858.1 1804.5,1858 1808.5,1857.8 1812.5,1857.7 1816.5,1857.5 1820.5,1857.3 1824.5,1857.1 1828.5,1856.8 1832.5,1856.5 1836.5,1856.2 1840.5,1855.8 1844.5,1855.4 1848.5,1855 1852.5,1854.6 1856.5,1854.1 1860.5,1853.6 1864.5,1853.1 1868.5,1852.5 1872.5,1851.8 1876.5,1851.2 1880.5,1850.5 1884.5,1849.7 1888.5,1848.9 1892.5,1848 1896.5,1847.1 1900.5,1846.2 1904.5,1845.2 1908.5,1844.2 1912.5,1843.2 1916.5,1842.1 1920.5,1841 1924.5,1840 1928.5,1838.9 1932.5,1837.8 1936.5,1836.8 1940.5,1835.7 1944.5,1834.6 1948.5,1833.5 1952.5,1832.4 1956.5,1831.2 1960,1830.2 1961,1829.9 1962,1829.5 1963,1829.2 1964,1828.9 1965,1828.6 1966,1828.2 1967,1827.9 1968,1827.5 1969,1827.2 1970,1826.8 1971,1826.4 1972,1826 1973,1825.6 1974,1825.2 1975,1824.8 1976,1824.3 1977,1823.9 1978,1823.4 1979,1822.9 1980,1822.4 1981,1821.9 1982,1821.4 1983,1820.8 1984,1820.2 1985,1819.6 1986,1818.9 1987,1818.2 1988,1817.5 1989,1816.7 1990,1815.9 1991,1815.1 1992,1814.2 1993,1813.2 1994,1812.3 1995,1811.2 1996,1810.1 1997,1808.9 1998,1807.6 1999,1806.3 2000,1804.9 2001,1803.4 2002,1801.9 2003,1800.2 2004,1798.4 2005,1796.5 2006,1794.6 2007,1792.5 2008,1790.3 2009,1787.9 2010,1785.5 2011,1782.9 2012,1780.1 2013,1777.3 2014,1774.2 2015,1771.1 2016,1767.8 2017,1764.3 2018,1760.7 2019,1756.9 2020,1753 2021,1748.9 2022,1744.6 2023,1740.2 2024,1735.7 2025,1731 2026,1726.1 2027,1721.1 2028,1716 2029,1710.7 2030,1705.4 2031,1699.9 2032,1694.3 2033,1688.6 2034,1682.8 2035,1677 2036,1671.1 2037,1665.1 2038,1659.2 2039,1653.2 2040,1647.2 2041,1641.3 2042,1635.4 2043,1629.6 2044,1623.9 2045,1618.3 2046,1612.8 2047,1607.4 2048,1602.3 2049,1597.3 2050,1592.5 2051,1588 2052,1583.8 2053,1579.8 2054,1576.1 2055,1572.8 2056,1569.8 2057,1567.2 2058,1565 2059,1563.1 2060,1561.7 2061,1560.7 2062,1560.1 2063,1559.9 2064,1560.2 2065,1561 2066,1562.6 2067,1564.9 2068,1567.9 2069,1571.7 2070,1576.1 2071,1581.1 2072,1586.8 2073,1592.9 2074,1599.6 2075,1606.7 2076,1614.2 2077,1622 2078,1630.1 2079,1638.4 2080,1646.9 2081,1655.6 2082,1664.3 2083,1673 2084,1681.8 2085,1690.5 2086,1699.1 2087,1707.5 2088,1715.8 2089,1724 2090,1731.9 2091,1739.5 2092,1747 2093,1754.1 2094,1761 2095,1767.5 2096,1773.8 2097,1779.8 2098,1785.4 2099,1790.8 2100,1795.8 2101,1800.6 2102,1805.1 2103,1809.3 2104,1813.2 2105,1816.9 2106,1820.3 2107,1823.5 2108,1826.4 2109,1829.2 2110,1831.7 2111,1834.1 2112,1836.3 2113,1838.4 2114,1840.3 2115,1842.1 2116,1843.8 2117,1845.4 2118,1846.9 2119,1848.3 2120,1849.6 2121,1850.8 2122,1852 2123,1853.2 2124,1854.3 2125,1855.3 2126,1856.3 2127,1857.3 2128,1858.2 2129,1859.1 2130,1860 2131,1860.8 2132,1861.7 2133,1862.5 2134,1863.2 2135,1864 2136,1864.7 2137,1865.4 2138,1866.1 2139,1866.8 2140,1867.5 2141,1868.1 2142,1868.7 2143,1869.3 2144,1869.9 2145,1870.5 2146,1871 2147,1871.5 2148,1872.1 2149,1872.5 2150,1873 2154,1874.7 2158,1876 2162,1877.2 2166,1878.1 2170,1878.8 2174,1879.4 2178,1879.8 2182,1880.2 2186,1880.5 2190,1880.7 2194,1880.9 2198,1881.1 2202,1881.3 2206,1881.4 2210,1881.5 2214,1881.6 2218,1881.7 2222,1881.8 2226,1881.9 2230,1882 2234,1882.1 2238,1882.1 2242,1882.2 2246,1882.2 2250,1882.3 2254,1882.3 2258,1882.4 2262,1882.4 2266,1882.5 2270,1882.5 2274,1882.6 2278,1882.6 2282,1882.6 2286,1882.7 2290,1882.7 2294,1882.7 2298,1882.7 2302,1882.8 2306,1882.8 2306.5,1882.8"/>
<g fill="none" stroke="#000" stroke-width="4.2" stroke-dasharray="4.5 6.5">
<polyline points="1512.5,2270.4 1516.5,2270.4 1520.5,2270.4 1524.5,2270.5 1528.5,2270.5 1532.5,2270.5 1536.5,2270.5 1540.5,2270.5 1544.5,2270.5 1548.5,2270.5 1552.5,2270.5 1556.5,2270.6 1560.5,2270.6 1564.5,2270.6 1568.5,2270.6 1572.5,2270.6 1576.5,2270.6 1580.5,2270.6 1584.5,2270.6 1588.5,2270.6 1592.5,2270.7 1596.5,2270.7 1600.5,2270.7 1604.5,2270.7 1608.5,2270.7 1612.5,2270.7 1616.5,2270.7 1620.5,2270.7 1624.5,2270.8 1628.5,2270.8 1632.5,2270.8 1636.5,2270.8 1640.5,2270.8 1644.5,2270.8 1648.5,2270.8 1652.5,2270.8 1656.5,2270.8 1660.5,2270.9 1664.5,2270.9 1668.5,2270.9 1672.5,2270.9 1676.5,2270.9 1680.5,2270.9 1684.5,2270.9 1688.5,2270.9 1692.5,2271 1696.5,2271 1700.5,2271 1704.5,2271 1708.5,2271 1712.5,2271 1716.5,2271 1720.5,2271 1724.5,2271 1728.5,2271.1 1732.5,2271.1 1736.5,2271.1 1740.5,2271.1 1744.5,2271.1 1748.5,2271.1 1752.5,2271.1 1756.5,2271.1 1760.5,2271.2 1764.5,2271.2 1768.5,2271.2 1772.5,2271.2 1776.5,2271.2 1780.5,2271.2 1784.5,2271.2 1788.5,2271.2 1792.5,2271.2 1796.5,2271.3 1800.5,2271.3 1804.5,2271.3 1808.5,2271.3 1812.5,2271.3 1816.5,2271.3 1820.5,2271.3 1824.5,2271.3 1828.5,2271.3 1832.5,2271.4 1836.5,2271.4 1840.5,2271.4 1844.5,2271.4 1848.5,2271.4 1852.5,2271.4 1856.5,2271.4 1860.5,2271.4 1864.5,2271.5 1868.5,2271.5 1872.5,2271.5 1876.5,2271.5 1880.5,2271.5 1884.5,2271.5 1888.5,2271.5 1892.5,2271.5 1896.5,2271.5 1900.5,2271.6 1904.5,2271.6 1908.5,2271.6 1912.5,2271.6 1916.5,2271.6 1920.5,2271.6 1924.5,2271.6 1928.5,2271.6 1932.5,2271.6 1936.5,2271.7 1940.5,2271.7 1944.5,2271.7 1948.5,2271.7 1952.5,2271.7 1956.5,2271.7 1960,2271.7 1961,2271.7 1962,2271.7 1963,2271.8 1964,2271.8 1965,2271.8 1966,2271.8 1967,2271.8 1968,2271.8 1969,2271.8 1970,2271.8 1971,2271.8 1972,2271.8 1973,2271.8 1974,2271.8 1975,2271.8 1976,2271.8 1977,2271.8 1978,2271.8 1979,2271.8 1980,2271.9 1981,2271.9 1982,2271.9 1983,2271.9 1984,2271.9 1985,2271.9 1986,2271.9 1987,2271.9 1988,2271.9 1989,2271.9 1990,2272 1991,2272 1992,2272 1993,2272 1994,2272 1995,2272 1996,2272.1 1997,2272.1 1998,2272.1 1999,2272.1 2000,2272.1 2001,2272.2 2002,2272.2 2003,2272.2 2004,2272.2 2005,2272.3 2006,2272.3 2007,2272.3 2008,2272.4 2009,2272.4 2010,2272.4 2011,2272.5 2012,2272.5 2013,2272.6 2014,2272.6 2015,2272.7 2016,2272.7 2017,2272.8 2018,2272.8 2019,2272.9 2020,2273 2021,2273 2022,2273.1 2023,2273.2 2024,2273.3 2025,2273.3 2026,2273.4 2027,2273.5 2028,2273.6 2029,2273.7 2030,2273.8 2031,2273.9 2032,2274 2033,2274.1 2034,2274.3 2035,2274.4 2036,2274.5 2037,2274.7 2038,2274.8 2039,2274.9 2040,2275.1 2041,2275.2 2042,2275.4 2043,2275.6 2044,2275.7 2045,2275.9 2046,2276.1 2047,2276.2 2048,2276.4 2049,2276.6 2050,2276.8 2051,2276.9 2052,2277.1 2053,2277.3 2054,2277.5 2055,2277.7 2056,2277.8 2057,2278 2058,2278.2 2059,2278.4 2060,2278.5 2061,2278.7 2062,2278.8 2063,2279 2064,2279.1 2065,2279.3 2066,2279.4 2067,2279.5 2068,2279.6 2069,2279.7 2070,2279.8 2071,2279.9 2072,2279.9 2073,2280 2074,2280 2075,2280 2076,2280 2077,2280 2078,2280 2079,2280 2080,2280 2081,2279.9 2082,2279.8 2083,2279.8 2084,2279.7 2085,2279.6 2086,2279.5 2087,2279.3 2088,2279.2 2089,2279.1 2090,2278.9 2091,2278.8 2092,2278.6 2093,2278.5 2094,2278.3 2095,2278.2 2096,2278 2097,2277.8 2098,2277.7 2099,2277.5 2100,2277.4 2101,2277.2 2102,2277.1 2103,2277 2104,2276.8 2105,2276.7 2106,2276.6 2107,2276.6 2108,2276.5 2109,2276.5 2110,2276.4 2111,2276.4 2112,2276.4 2113,2276.4 2114,2276.5 2115,2276.5 2116,2276.6 2117,2276.7 2118,2276.8 2119,2277 2120,2277.1 2121,2277.3 2122,2277.5 2123,2277.6 2124,2277.8 2125,2278.1 2126,2278.3 2127,2278.5 2128,2278.7 2129,2279 2130,2279.2 2131,2279.5 2132,2279.7 2133,2280 2134,2280.2 2135,2280.5 2136,2280.7 2137,2281 2138,2281.2 2139,2281.4 2140,2281.7 2141,2281.9 2142,2282.1 2143,2282.3 2144,2282.6 2145,2282.8 2146,2283 2147,2283.1 2148,2283.3 2149,2283.5 2150,2283.7 2154,2284.2 2158,2284.7 2162,2285 2166,2285.3 2170,2285.5 2174,2285.6 2178,2285.7 2182,2285.8 2186,2285.8 2190,2285.9 2194,2285.9 2198,2285.9 2202,2286 2206,2286 2210,2286 2214,2286 2218,2286.1 2222,2286.1 2226,2286.1 2230,2286.1 2234,2286.1 2238,2286.1 2242,2286.2 2246,2286.2 2250,2286.2 2254,2286.2 2258,2286.2 2262,2286.2 2266,2286.2 2270,2286.3 2274,2286.3 2278,2286.3 2282,2286.3 2286,2286.3 2290,2286.3 2294,2286.3 2298,2286.3 2302,2286.4 2306,2286.4 2306.5,2286.4"/>
<polyline points="1512.5,2270.3 1516.5,2270.3 1520.5,2270.3 1524.5,2270.3 1528.5,2270.3 1532.5,2270.3 1536.5,2270.4 1540.5,2270.4 1544.5,2270.4 1548.5,2270.4 1552.5,2270.4 1556.5,2270.4 1560.5,2270.4 1564.5,2270.4 1568.5,2270.4 1572.5,2270.4 1576.5,2270.4 1580.5,2270.5 1584.5,2270.5 1588.5,2270.5 1592.5,2270.5 1596.5,2270.5 1600.5,2270.5 1604.5,2270.5 1608.5,2270.5 1612.5,2270.5 1616.5,2270.5 1620.5,2270.5 1624.5,2270.5 1628.5,2270.6 1632.5,2270.6 1636.5,2270.6 1640.5,2270.6 1644.5,2270.6 1648.5,2270.6 1652.5,2270.6 1656.5,2270.6 1660.5,2270.6 1664.5,2270.6 1668.5,2270.6 1672.5,2270.6 1676.5,2270.6 1680.5,2270.6 1684.5,2270.7 1688.5,2270.7 1692.5,2270.7 1696.5,2270.7 1700.5,2270.7 1704.5,2270.7 1708.5,2270.7 1712.5,2270.7 1716.5,2270.7 1720.5,2270.7 1724.5,2270.7 1728.5,2270.7 1732.5,2270.7 1736.5,2270.7 1740.5,2270.7 1744.5,2270.7 1748.5,2270.7 1752.5,2270.7 1756.5,2270.7 1760.5,2270.7 1764.5,2270.7 1768.5,2270.7 1772.5,2270.7 1776.5,2270.7 1780.5,2270.7 1784.5,2270.7 1788.5,2270.7 1792.5,2270.7 1796.5,2270.7 1800.5,2270.7 1804.5,2270.7 1808.5,2270.7 1812.5,2270.7 1816.5,2270.7 1820.5,2270.7 1824.5,2270.6 1828.5,2270.6 1832.5,2270.6 1836.5,2270.6 1840.5,2270.6 1844.5,2270.6 1848.5,2270.6 1852.5,2270.5 1856.5,2270.5 1860.5,2270.5 1864.5,2270.5 1868.5,2270.4 1872.5,2270.4 1876.5,2270.4 1880.5,2270.3 1884.5,2270.3 1888.5,2270.2 1892.5,2270.2 1896.5,2270.1 1900.5,2270.1 1904.5,2270 1908.5,2270 1912.5,2269.9 1916.5,2269.8 1920.5,2269.7 1924.5,2269.6 1928.5,2269.5 1932.5,2269.4 1936.5,2269.3 1940.5,2269.1 1944.5,2269 1948.5,2268.8 1952.5,2268.6 1956.5,2268.4 1960,2268.2 1961,2268.1 1962,2268 1963,2268 1964,2267.9 1965,2267.8 1966,2267.7 1967,2267.7 1968,2267.6 1969,2267.5 1970,2267.4 1971,2267.3 1972,2267.2 1973,2267.1 1974,2267 1975,2266.9 1976,2266.7 1977,2266.6 1978,2266.5 1979,2266.3 1980,2266.1 1981,2266 1982,2265.8 1983,2265.6 1984,2265.4 1985,2265.1 1986,2264.8 1987,2264.6 1988,2264.2 1989,2263.9 1990,2263.5 1991,2263.1 1992,2262.7 1993,2262.2 1994,2261.6 1995,2261 1996,2260.4 1997,2259.6 1998,2258.8 1999,2258 2000,2257 2001,2256 2002,2254.8 2003,2253.6 2004,2252.2 2005,2250.7 2006,2249.1 2007,2247.4 2008,2245.5 2009,2243.4 2010,2241.2 2011,2238.8 2012,2236.2 2013,2233.4 2014,2230.3 2015,2227.1 2016,2223.7 2017,2220 2018,2216.1 2019,2211.9 2020,2207.5 2021,2202.8 2022,2197.8 2023,2192.6 2024,2187.1 2025,2181.4 2026,2175.3 2027,2169.1 2028,2162.5 2029,2155.7 2030,2148.7 2031,2141.4 2032,2133.9 2033,2126.2 2034,2118.3 2035,2110.3 2036,2102.1 2037,2093.7 2038,2085.3 2039,2076.8 2040,2068.3 2041,2059.7 2042,2051.2 2043,2042.8 2044,2034.4 2045,2026.2 2046,2018.1 2047,2010.3 2048,2002.7 2049,1995.4 2050,1988.5 2051,1982 2052,1975.8 2053,1970.2 2054,1965.1 2055,1960.5 2056,1956.5 2057,1953.1 2058,1950.3 2059,1948.2 2060,1946.8 2061,1946.1 2062,1946.1 2063,1946.8 2064,1948.2 2065,1950.3 2066,1953.1 2067,1956.5 2068,1960.6 2069,1965.3 2070,1970.5 2071,1976.2 2072,1982.5 2073,1989.2 2074,1996.3 2075,2003.7 2076,2011.5 2077,2019.6 2078,2027.9 2079,2036.3 2080,2045 2081,2053.7 2082,2062.5 2083,2071.3 2084,2080.2 2085,2089 2086,2097.7 2087,2106.4 2088,2114.9 2089,2123.3 2090,2131.5 2091,2139.6 2092,2147.4 2093,2155 2094,2162.4 2095,2169.5 2096,2176.4 2097,2183 2098,2189.3 2099,2195.4 2100,2201.2 2101,2206.7 2102,2211.9 2103,2216.9 2104,2221.6 2105,2226 2106,2230.2 2107,2234.1 2108,2237.7 2109,2241.2 2110,2244.4 2111,2247.4 2112,2250.2 2113,2252.8 2114,2255.2 2115,2257.4 2116,2259.4 2117,2261.3 2118,2263.1 2119,2264.7 2120,2266.2 2121,2267.5 2122,2268.8 2123,2269.9 2124,2270.9 2125,2271.9 2126,2272.8 2127,2273.5 2128,2274.3 2129,2274.9 2130,2275.5 2131,2276.1 2132,2276.6 2133,2277 2134,2277.5 2135,2277.9 2136,2278.2 2137,2278.5 2138,2278.8 2139,2279.1 2140,2279.3 2141,2279.6 2142,2279.8 2143,2280 2144,2280.2 2145,2280.4 2146,2280.5 2147,2280.7 2148,2280.8 2149,2281 2150,2281.1 2154,2281.5 2158,2281.9 2162,2282.2 2166,2282.5 2170,2282.8 2174,2283 2178,2283.2 2182,2283.4 2186,2283.6 2190,2283.7 2194,2283.9 2198,2284 2202,2284.1 2206,2284.3 2210,2284.4 2214,2284.5 2218,2284.6 2222,2284.6 2226,2284.7 2230,2284.8 2234,2284.9 2238,2284.9 2242,2285 2246,2285.1 2250,2285.1 2254,2285.2 2258,2285.2 2262,2285.3 2266,2285.3 2270,2285.4 2274,2285.4 2278,2285.5 2282,2285.5 2286,2285.6 2290,2285.6 2294,2285.6 2298,2285.7 2302,2285.7 2306,2285.7 2306.5,2285.7"/>
<polyline points="1512.5,2270.4 1516.5,2270.4 1520.5,2270.4 1524.5,2270.4 1528.5,2270.4 1532.5,2270.4 1536.5,2270.4 1540.5,2270.5 1544.5,2270.5 1548.5,2270.5 1552.5,2270.5 1556.5,2270.5 1560.5,2270.5 1564.5,2270.5 1568.5,2270.5 1572.5,2270.5 1576.5,2270.6 1580.5,2270.6 1584.5,2270.6 1588.5,2270.6 1592.5,2270.6 1596.5,2270.6 1600.5,2270.6 1604.5,2270.6 1608.5,2270.6 1612.5,2270.7 1616.5,2270.7 1620.5,2270.7 1624.5,2270.7 1628.5,2270.7 1632.5,2270.7 1636.5,2270.7 1640.5,2270.7 1644.5,2270.7 1648.5,2270.7 1652.5,2270.8 1656.5,2270.8 1660.5,2270.8 1664.5,2270.8 1668.5,2270.8 1672.5,2270.8 1676.5,2270.8 1680.5,2270.8 1684.5,2270.8 1688.5,2270.8 1692.5,2270.8 1696.5,2270.9 1700.5,2270.9 1704.5,2270.9 1708.5,2270.9 1712.5,2270.9 1716.5,2270.9 1720.5,2270.9 1724.5,2270.9 1728.5,2270.9 1732.5,2270.9 1736.5,2270.9 1740.5,2270.9 1744.5,2271 1748.5,2271 1752.5,2271 1756.5,2271 1760.5,2271 1764.5,2271 1768.5,2271 1772.5,2271 1776.5,2271 1780.5,2271 1784.5,2271 1788.5,2271 1792.5,2271 1796.5,2271 1800.5,2271 1804.5,2271 1808.5,2271 1812.5,2271 1816.5,2271 1820.5,2271 1824.5,2271 1828.5,2271 1832.5,2271 1836.5,2271 1840.5,2271 1844.5,2271 1848.5,2271 1852.5,2271 1856.5,2271 1860.5,2271 1864.5,2271 1868.5,2270.9 1872.5,2270.9 1876.5,2270.9 1880.5,2270.8 1884.5,2270.8 1888.5,2270.7 1892.5,2270.7 1896.5,2270.6 1900.5,2270.4 1904.5,2270.3 1908.5,2270.1 1912.5,2269.8 1916.5,2269.4 1920.5,2269 1924.5,2268.5 1928.5,2267.8 1932.5,2267 1936.5,2266 1940.5,2264.8 1944.5,2263.5 1948.5,2261.9 1952.5,2260.1 1956.5,2258.2 1960,2256.3 1961,2255.7 1962,2255.1 1963,2254.5 1964,2253.9 1965,2253.3 1966,2252.7 1967,2252.1 1968,2251.5 1969,2250.9 1970,2250.2 1971,2249.6 1972,2248.9 1973,2248.3 1974,2247.6 1975,2247 1976,2246.3 1977,2245.7 1978,2245.1 1979,2244.4 1980,2243.8 1981,2243.2 1982,2242.5 1983,2241.9 1984,2241.3 1985,2240.8 1986,2240.2 1987,2239.6 1988,2239.1 1989,2238.6 1990,2238 1991,2237.6 1992,2237.1 1993,2236.7 1994,2236.2 1995,2235.8 1996,2235.5 1997,2235.1 1998,2234.8 1999,2234.6 2000,2234.3 2001,2234.1 2002,2233.9 2003,2233.8 2004,2233.7 2005,2233.6 2006,2233.5 2007,2233.5 2008,2233.6 2009,2233.6 2010,2233.7 2011,2233.9 2012,2234 2013,2234.2 2014,2234.5 2015,2234.8 2016,2235.1 2017,2235.4 2018,2235.8 2019,2236.2 2020,2236.7 2021,2237.1 2022,2237.6 2023,2238.2 2024,2238.7 2025,2239.3 2026,2239.9 2027,2240.5 2028,2241.2 2029,2241.8 2030,2242.5 2031,2243.2 2032,2243.9 2033,2244.7 2034,2245.4 2035,2246.2 2036,2247 2037,2247.7 2038,2248.5 2039,2249.3 2040,2250.2 2041,2251 2042,2251.8 2043,2252.6 2044,2253.4 2045,2254.3 2046,2255.1 2047,2255.9 2048,2256.8 2049,2257.6 2050,2258.4 2051,2259.2 2052,2260 2053,2260.8 2054,2261.6 2055,2262.4 2056,2263.2 2057,2264 2058,2264.7 2059,2265.5 2060,2266.2 2061,2266.9 2062,2267.6 2063,2268.3 2064,2269 2065,2269.6 2066,2270.3 2067,2270.9 2068,2271.5 2069,2272.1 2070,2272.7 2071,2273.3 2072,2273.8 2073,2274.3 2074,2274.8 2075,2275.3 2076,2275.8 2077,2276.3 2078,2276.7 2079,2277.1 2080,2277.5 2081,2277.9 2082,2278.3 2083,2278.7 2084,2279 2085,2279.3 2086,2279.7 2087,2280 2088,2280.3 2089,2280.5 2090,2280.8 2091,2281 2092,2281.3 2093,2281.5 2094,2281.7 2095,2281.9 2096,2282.1 2097,2282.3 2098,2282.5 2099,2282.6 2100,2282.8 2101,2282.9 2102,2283.1 2103,2283.2 2104,2283.3 2105,2283.4 2106,2283.6 2107,2283.7 2108,2283.8 2109,2283.9 2110,2283.9 2111,2284 2112,2284.1 2113,2284.2 2114,2284.3 2115,2284.3 2116,2284.4 2117,2284.4 2118,2284.5 2119,2284.6 2120,2284.6 2121,2284.6 2122,2284.7 2123,2284.7 2124,2284.8 2125,2284.8 2126,2284.9 2127,2284.9 2128,2284.9 2129,2285 2130,2285 2131,2285 2132,2285 2133,2285.1 2134,2285.1 2135,2285.1 2136,2285.1 2137,2285.2 2138,2285.2 2139,2285.2 2140,2285.2 2141,2285.2 2142,2285.3 2143,2285.3 2144,2285.3 2145,2285.3 2146,2285.3 2147,2285.3 2148,2285.3 2149,2285.4 2150,2285.4 2154,2285.4 2158,2285.5 2162,2285.5 2166,2285.5 2170,2285.6 2174,2285.6 2178,2285.6 2182,2285.7 2186,2285.7 2190,2285.7 2194,2285.8 2198,2285.8 2202,2285.8 2206,2285.8 2210,2285.9 2214,2285.9 2218,2285.9 2222,2285.9 2226,2285.9 2230,2286 2234,2286 2238,2286 2242,2286 2246,2286 2250,2286 2254,2286.1 2258,2286.1 2262,2286.1 2266,2286.1 2270,2286.1 2274,2286.1 2278,2286.2 2282,2286.2 2286,2286.2 2290,2286.2 2294,2286.2 2298,2286.2 2302,2286.3 2306,2286.3 2306.5,2286.3"/>
<polyline points="1512.5,2270.4 1516.5,2270.4 1520.5,2270.4 1524.5,2270.5 1528.5,2270.5 1532.5,2270.5 1536.5,2270.5 1540.5,2270.5 1544.5,2270.5 1548.5,2270.5 1552.5,2270.5 1556.5,2270.6 1560.5,2270.6 1564.5,2270.6 1568.5,2270.6 1572.5,2270.6 1576.5,2270.6 1580.5,2270.6 1584.5,2270.6 1588.5,2270.6 1592.5,2270.7 1596.5,2270.7 1600.5,2270.7 1604.5,2270.7 1608.5,2270.7 1612.5,2270.7 1616.5,2270.7 1620.5,2270.7 1624.5,2270.8 1628.5,2270.8 1632.5,2270.8 1636.5,2270.8 1640.5,2270.8 1644.5,2270.8 1648.5,2270.8 1652.5,2270.8 1656.5,2270.9 1660.5,2270.9 1664.5,2270.9 1668.5,2270.9 1672.5,2270.9 1676.5,2270.9 1680.5,2270.9 1684.5,2270.9 1688.5,2270.9 1692.5,2271 1696.5,2271 1700.5,2271 1704.5,2271 1708.5,2271 1712.5,2271 1716.5,2271 1720.5,2271 1724.5,2271.1 1728.5,2271.1 1732.5,2271.1 1736.5,2271.1 1740.5,2271.1 1744.5,2271.1 1748.5,2271.1 1752.5,2271.1 1756.5,2271.1 1760.5,2271.2 1764.5,2271.2 1768.5,2271.2 1772.5,2271.2 1776.5,2271.2 1780.5,2271.2 1784.5,2271.2 1788.5,2271.2 1792.5,2271.2 1796.5,2271.2 1800.5,2271.2 1804.5,2271.2 1808.5,2271.2 1812.5,2271.1 1816.5,2271.1 1820.5,2271 1824.5,2271 1828.5,2270.8 1832.5,2270.7 1836.5,2270.5 1840.5,2270.3 1844.5,2270 1848.5,2269.7 1852.5,2269.3 1856.5,2268.8 1860.5,2268.3 1864.5,2267.7 1868.5,2266.9 1872.5,2266.2 1876.5,2265.3 1880.5,2264.4 1884.5,2263.3 1888.5,2262.3 1892.5,2261.2 1896.5,2260.1 1900.5,2259 1904.5,2257.9 1908.5,2256.9 1912.5,2255.9 1916.5,2255.1 1920.5,2254.4 1924.5,2253.8 1928.5,2253.4 1932.5,2253.2 1936.5,2253.1 1940.5,2253.3 1944.5,2253.6 1948.5,2254.1 1952.5,2254.7 1956.5,2255.5 1960,2256.3 1961,2256.6 1962,2256.8 1963,2257.1 1964,2257.3 1965,2257.6 1966,2257.9 1967,2258.1 1968,2258.4 1969,2258.7 1970,2259 1971,2259.2 1972,2259.5 1973,2259.8 1974,2260.1 1975,2260.4 1976,2260.7 1977,2261 1978,2261.2 1979,2261.5 1980,2261.8 1981,2262.1 1982,2262.4 1983,2262.7 1984,2263 1985,2263.2 1986,2263.5 1987,2263.8 1988,2264.1 1989,2264.3 1990,2264.6 1991,2264.9 1992,2265.1 1993,2265.4 1994,2265.6 1995,2265.9 1996,2266.1 1997,2266.4 1998,2266.6 1999,2266.9 2000,2267.1 2001,2267.3 2002,2267.5 2003,2267.8 2004,2268 2005,2268.2 2006,2268.4 2007,2268.6 2008,2268.8 2009,2269 2010,2269.2 2011,2269.4 2012,2269.6 2013,2269.8 2014,2270 2015,2270.1 2016,2270.3 2017,2270.5 2018,2270.7 2019,2270.9 2020,2271 2021,2271.2 2022,2271.4 2023,2271.6 2024,2271.7 2025,2271.9 2026,2272.1 2027,2272.2 2028,2272.4 2029,2272.6 2030,2272.8 2031,2273 2032,2273.1 2033,2273.3 2034,2273.5 2035,2273.7 2036,2273.9 2037,2274.1 2038,2274.3 2039,2274.5 2040,2274.7 2041,2274.9 2042,2275.1 2043,2275.3 2044,2275.5 2045,2275.7 2046,2275.9 2047,2276.1 2048,2276.3 2049,2276.6 2050,2276.8 2051,2277 2052,2277.2 2053,2277.5 2054,2277.7 2055,2277.9 2056,2278.2 2057,2278.4 2058,2278.6 2059,2278.8 2060,2279.1 2061,2279.3 2062,2279.5 2063,2279.7 2064,2280 2065,2280.2 2066,2280.4 2067,2280.6 2068,2280.8 2069,2281 2070,2281.2 2071,2281.4 2072,2281.6 2073,2281.8 2074,2282 2075,2282.1 2076,2282.3 2077,2282.5 2078,2282.6 2079,2282.8 2080,2282.9 2081,2283.1 2082,2283.2 2083,2283.3 2084,2283.4 2085,2283.6 2086,2283.7 2087,2283.8 2088,2283.9 2089,2284 2090,2284.1 2091,2284.2 2092,2284.3 2093,2284.4 2094,2284.4 2095,2284.5 2096,2284.6 2097,2284.7 2098,2284.7 2099,2284.8 2100,2284.8 2101,2284.9 2102,2285 2103,2285 2104,2285.1 2105,2285.1 2106,2285.1 2107,2285.2 2108,2285.2 2109,2285.3 2110,2285.3 2111,2285.3 2112,2285.4 2113,2285.4 2114,2285.4 2115,2285.4 2116,2285.5 2117,2285.5 2118,2285.5 2119,2285.5 2120,2285.6 2121,2285.6 2122,2285.6 2123,2285.6 2124,2285.6 2125,2285.7 2126,2285.7 2127,2285.7 2128,2285.7 2129,2285.7 2130,2285.7 2131,2285.7 2132,2285.7 2133,2285.8 2134,2285.8 2135,2285.8 2136,2285.8 2137,2285.8 2138,2285.8 2139,2285.8 2140,2285.8 2141,2285.8 2142,2285.8 2143,2285.8 2144,2285.9 2145,2285.9 2146,2285.9 2147,2285.9 2148,2285.9 2149,2285.9 2150,2285.9 2154,2285.9 2158,2285.9 2162,2286 2166,2286 2170,2286 2174,2286 2178,2286 2182,2286 2186,2286 2190,2286.1 2194,2286.1 2198,2286.1 2202,2286.1 2206,2286.1 2210,2286.1 2214,2286.1 2218,2286.1 2222,2286.1 2226,2286.2 2230,2286.2 2234,2286.2 2238,2286.2 2242,2286.2 2246,2286.2 2250,2286.2 2254,2286.2 2258,2286.3 2262,2286.3 2266,2286.3 2270,2286.3 2274,2286.3 2278,2286.3 2282,2286.3 2286,2286.3 2290,2286.4 2294,2286.4 2298,2286.4 2302,2286.4 2306,2286.4 2306.5,2286.4"/>
<polyline points="1512.5,2270.4 1516.5,2270.4 1520.5,2270.4 1524.5,2270.5 1528.5,2270.5 1532.5,2270.5 1536.5,2270.5 1540.5,2270.5 1544.5,2270.5 1548.5,2270.5 1552.5,2270.5 1556.5,2270.6 1560.5,2270.6 1564.5,2270.6 1568.5,2270.6 1572.5,2270.6 1576.5,2270.6 1580.5,2270.6 1584.5,2270.6 1588.5,2270.6 1592.5,2270.7 1596.5,2270.7 1600.5,2270.7 1604.5,2270.7 1608.5,2270.7 1612.5,2270.7 1616.5,2270.7 1620.5,2270.7 1624.5,2270.8 1628.5,2270.8 1632.5,2270.8 1636.5,2270.8 1640.5,2270.8 1644.5,2270.8 1648.5,2270.8 1652.5,2270.8 1656.5,2270.9 1660.5,2270.9 1664.5,2270.9 1668.5,2270.9 1672.5,2270.9 1676.5,2270.9 1680.5,2270.9 1684.5,2270.9 1688.5,2270.9 1692.5,2270.9 1696.5,2271 1700.5,2271 1704.5,2271 1708.5,2271 1712.5,2271 1716.5,2271 1720.5,2271 1724.5,2271 1728.5,2271 1732.5,2270.9 1736.5,2270.9 1740.5,2270.9 1744.5,2270.8 1748.5,2270.8 1752.5,2270.7 1756.5,2270.6 1760.5,2270.5 1764.5,2270.4 1768.5,2270.3 1772.5,2270.1 1776.5,2269.9 1780.5,2269.7 1784.5,2269.4 1788.5,2269.1 1792.5,2268.8 1796.5,2268.5 1800.5,2268.1 1804.5,2267.7 1808.5,2267.2 1812.5,2266.8 1816.5,2266.3 1820.5,2265.8 1824.5,2265.3 1828.5,2264.9 1832.5,2264.4 1836.5,2263.9 1840.5,2263.5 1844.5,2263.1 1848.5,2262.7 1852.5,2262.4 1856.5,2262.1 1860.5,2261.9 1864.5,2261.8 1868.5,2261.7 1872.5,2261.7 1876.5,2261.8 1880.5,2261.9 1884.5,2262.1 1888.5,2262.4 1892.5,2262.7 1896.5,2263.1 1900.5,2263.5 1904.5,2263.9 1908.5,2264.4 1912.5,2264.9 1916.5,2265.4 1920.5,2265.9 1924.5,2266.4 1928.5,2267 1932.5,2267.4 1936.5,2267.9 1940.5,2268.3 1944.5,2268.8 1948.5,2269.1 1952.5,2269.5 1956.5,2269.8 1960,2270.1 1961,2270.2 1962,2270.2 1963,2270.3 1964,2270.4 1965,2270.4 1966,2270.5 1967,2270.5 1968,2270.6 1969,2270.7 1970,2270.7 1971,2270.8 1972,2270.8 1973,2270.9 1974,2270.9 1975,2271 1976,2271 1977,2271.1 1978,2271.1 1979,2271.2 1980,2271.2 1981,2271.3 1982,2271.3 1983,2271.3 1984,2271.4 1985,2271.4 1986,2271.5 1987,2271.5 1988,2271.5 1989,2271.6 1990,2271.6 1991,2271.6 1992,2271.7 1993,2271.7 1994,2271.8 1995,2271.8 1996,2271.8 1997,2271.9 1998,2271.9 1999,2271.9 2000,2272 2001,2272 2002,2272.1 2003,2272.1 2004,2272.1 2005,2272.2 2006,2272.2 2007,2272.3 2008,2272.3 2009,2272.4 2010,2272.4 2011,2272.4 2012,2272.5 2013,2272.6 2014,2272.6 2015,2272.7 2016,2272.7 2017,2272.8 2018,2272.9 2019,2272.9 2020,2273 2021,2273.1 2022,2273.2 2023,2273.2 2024,2273.3 2025,2273.4 2026,2273.5 2027,2273.6 2028,2273.7 2029,2273.8 2030,2273.9 2031,2274 2032,2274.1 2033,2274.3 2034,2274.4 2035,2274.5 2036,2274.7 2037,2274.8 2038,2275 2039,2275.1 2040,2275.3 2041,2275.4 2042,2275.6 2043,2275.8 2044,2275.9 2045,2276.1 2046,2276.3 2047,2276.5 2048,2276.7 2049,2276.9 2050,2277.1 2051,2277.3 2052,2277.5 2053,2277.7 2054,2277.9 2055,2278.1 2056,2278.4 2057,2278.6 2058,2278.8 2059,2279 2060,2279.2 2061,2279.4 2062,2279.6 2063,2279.9 2064,2280.1 2065,2280.3 2066,2280.5 2067,2280.7 2068,2280.9 2069,2281.1 2070,2281.3 2071,2281.5 2072,2281.6 2073,2281.8 2074,2282 2075,2282.2 2076,2282.3 2077,2282.5 2078,2282.6 2079,2282.8 2080,2282.9 2081,2283.1 2082,2283.2 2083,2283.3 2084,2283.5 2085,2283.6 2086,2283.7 2087,2283.8 2088,2283.9 2089,2284 2090,2284.1 2091,2284.2 2092,2284.3 2093,2284.4 2094,2284.5 2095,2284.5 2096,2284.6 2097,2284.7 2098,2284.7 2099,2284.8 2100,2284.9 2101,2284.9 2102,2285 2103,2285 2104,2285.1 2105,2285.1 2106,2285.1 2107,2285.2 2108,2285.2 2109,2285.3 2110,2285.3 2111,2285.3 2112,2285.4 2113,2285.4 2114,2285.4 2115,2285.5 2116,2285.5 2117,2285.5 2118,2285.5 2119,2285.5 2120,2285.6 2121,2285.6 2122,2285.6 2123,2285.6 2124,2285.6 2125,2285.7 2126,2285.7 2127,2285.7 2128,2285.7 2129,2285.7 2130,2285.7 2131,2285.7 2132,2285.7 2133,2285.8 2134,2285.8 2135,2285.8 2136,2285.8 2137,2285.8 2138,2285.8 2139,2285.8 2140,2285.8 2141,2285.8 2142,2285.8 2143,2285.8 2144,2285.9 2145,2285.9 2146,2285.9 2147,2285.9 2148,2285.9 2149,2285.9 2150,2285.9 2154,2285.9 2158,2285.9 2162,2286 2166,2286 2170,2286 2174,2286 2178,2286 2182,2286 2186,2286 2190,2286.1 2194,2286.1 2198,2286.1 2202,2286.1 2206,2286.1 2210,2286.1 2214,2286.1 2218,2286.1 2222,2286.1 2226,2286.2 2230,2286.2 2234,2286.2 2238,2286.2 2242,2286.2 2246,2286.2 2250,2286.2 2254,2286.2 2258,2286.3 2262,2286.3 2266,2286.3 2270,2286.3 2274,2286.3 2278,2286.3 2282,2286.3 2286,2286.3 2290,2286.4 2294,2286.4 2298,2286.4 2302,2286.4 2306,2286.4 2306.5,2286.4"/>
<polyline points="1512.5,2270.4 1516.5,2270.4 1520.5,2270.4 1524.5,2270.5 1528.5,2270.5 1532.5,2270.5 1536.5,2270.5 1540.5,2270.5 1544.5,2270.5 1548.5,2270.5 1552.5,2270.5 1556.5,2270.5 1560.5,2270.6 1564.5,2270.6 1568.5,2270.6 1572.5,2270.6 1576.5,2270.6 1580.5,2270.6 1584.5,2270.6 1588.5,2270.6 1592.5,2270.6 1596.5,2270.6 1600.5,2270.6 1604.5,2270.6 1608.5,2270.6 1612.5,2270.6 1616.5,2270.5 1620.5,2270.5 1624.5,2270.5 1628.5,2270.4 1632.5,2270.3 1636.5,2270.3 1640.5,2270.2 1644.5,2270.1 1648.5,2270 1652.5,2269.9 1656.5,2269.7 1660.5,2269.6 1664.5,2269.4 1668.5,2269.2 1672.5,2269 1676.5,2268.8 1680.5,2268.6 1684.5,2268.3 1688.5,2268.1 1692.5,2267.8 1696.5,2267.5 1700.5,2267.2 1704.5,2266.9 1708.5,2266.6 1712.5,2266.3 1716.5,2266 1720.5,2265.7 1724.5,2265.4 1728.5,2265.2 1732.5,2264.9 1736.5,2264.7 1740.5,2264.5 1744.5,2264.3 1748.5,2264.2 1752.5,2264.1 1756.5,2264.1 1760.5,2264 1764.5,2264 1768.5,2264.1 1772.5,2264.2 1776.5,2264.3 1780.5,2264.5 1784.5,2264.7 1788.5,2264.9 1792.5,2265.2 1796.5,2265.4 1800.5,2265.7 1804.5,2266 1808.5,2266.3 1812.5,2266.7 1816.5,2267 1820.5,2267.3 1824.5,2267.6 1828.5,2268 1832.5,2268.3 1836.5,2268.6 1840.5,2268.9 1844.5,2269.1 1848.5,2269.4 1852.5,2269.6 1856.5,2269.8 1860.5,2270.1 1864.5,2270.2 1868.5,2270.4 1872.5,2270.6 1876.5,2270.7 1880.5,2270.8 1884.5,2270.9 1888.5,2271.1 1892.5,2271.1 1896.5,2271.2 1900.5,2271.3 1904.5,2271.3 1908.5,2271.4 1912.5,2271.5 1916.5,2271.5 1920.5,2271.5 1924.5,2271.6 1928.5,2271.6 1932.5,2271.6 1936.5,2271.6 1940.5,2271.7 1944.5,2271.7 1948.5,2271.7 1952.5,2271.7 1956.5,2271.8 1960,2271.8 1961,2271.8 1962,2271.8 1963,2271.8 1964,2271.8 1965,2271.8 1966,2271.8 1967,2271.8 1968,2271.8 1969,2271.8 1970,2271.8 1971,2271.8 1972,2271.8 1973,2271.8 1974,2271.9 1975,2271.9 1976,2271.9 1977,2271.9 1978,2271.9 1979,2271.9 1980,2271.9 1981,2271.9 1982,2271.9 1983,2271.9 1984,2271.9 1985,2272 1986,2272 1987,2272 1988,2272 1989,2272 1990,2272 1991,2272 1992,2272.1 1993,2272.1 1994,2272.1 1995,2272.1 1996,2272.1 1997,2272.1 1998,2272.2 1999,2272.2 2000,2272.2 2001,2272.2 2002,2272.3 2003,2272.3 2004,2272.3 2005,2272.4 2006,2272.4 2007,2272.4 2008,2272.5 2009,2272.5 2010,2272.5 2011,2272.6 2012,2272.6 2013,2272.7 2014,2272.7 2015,2272.8 2016,2272.8 2017,2272.9 2018,2272.9 2019,2273 2020,2273.1 2021,2273.1 2022,2273.2 2023,2273.3 2024,2273.4 2025,2273.5 2026,2273.5 2027,2273.6 2028,2273.7 2029,2273.8 2030,2273.9 2031,2274.1 2032,2274.2 2033,2274.3 2034,2274.4 2035,2274.6 2036,2274.7 2037,2274.8 2038,2275 2039,2275.1 2040,2275.3 2041,2275.4 2042,2275.6 2043,2275.8 2044,2276 2045,2276.1 2046,2276.3 2047,2276.5 2048,2276.7 2049,2276.9 2050,2277.1 2051,2277.3 2052,2277.5 2053,2277.7 2054,2277.9 2055,2278.1 2056,2278.4 2057,2278.6 2058,2278.8 2059,2279 2060,2279.2 2061,2279.4 2062,2279.7 2063,2279.9 2064,2280.1 2065,2280.3 2066,2280.5 2067,2280.7 2068,2280.9 2069,2281.1 2070,2281.3 2071,2281.5 2072,2281.6 2073,2281.8 2074,2282 2075,2282.2 2076,2282.3 2077,2282.5 2078,2282.6 2079,2282.8 2080,2282.9 2081,2283.1 2082,2283.2 2083,2283.3 2084,2283.5 2085,2283.6 2086,2283.7 2087,2283.8 2088,2283.9 2089,2284 2090,2284.1 2091,2284.2 2092,2284.3 2093,2284.4 2094,2284.5 2095,2284.5 2096,2284.6 2097,2284.7 2098,2284.7 2099,2284.8 2100,2284.9 2101,2284.9 2102,2285 2103,2285 2104,2285.1 2105,2285.1 2106,2285.1 2107,2285.2 2108,2285.2 2109,2285.3 2110,2285.3 2111,2285.3 2112,2285.4 2113,2285.4 2114,2285.4 2115,2285.5 2116,2285.5 2117,2285.5 2118,2285.5 2119,2285.5 2120,2285.6 2121,2285.6 2122,2285.6 2123,2285.6 2124,2285.6 2125,2285.7 2126,2285.7 2127,2285.7 2128,2285.7 2129,2285.7 2130,2285.7 2131,2285.7 2132,2285.7 2133,2285.8 2134,2285.8 2135,2285.8 2136,2285.8 2137,2285.8 2138,2285.8 2139,2285.8 2140,2285.8 2141,2285.8 2142,2285.8 2143,2285.8 2144,2285.9 2145,2285.9 2146,2285.9 2147,2285.9 2148,2285.9 2149,2285.9 2150,2285.9 2154,2285.9 2158,2285.9 2162,2286 2166,2286 2170,2286 2174,2286 2178,2286 2182,2286 2186,2286 2190,2286.1 2194,2286.1 2198,2286.1 2202,2286.1 2206,2286.1 2210,2286.1 2214,2286.1 2218,2286.1 2222,2286.1 2226,2286.2 2230,2286.2 2234,2286.2 2238,2286.2 2242,2286.2 2246,2286.2 2250,2286.2 2254,2286.2 2258,2286.3 2262,2286.3 2266,2286.3 2270,2286.3 2274,2286.3 2278,2286.3 2282,2286.3 2286,2286.3 2290,2286.4 2294,2286.4 2298,2286.4 2302,2286.4 2306,2286.4 2306.5,2286.4"/>
<polyline points="1512.5,2268.9 1516.5,2268.7 1520.5,2268.4 1524.5,2268.1 1528.5,2267.8 1532.5,2267.5 1536.5,2267.1 1540.5,2266.7 1544.5,2266.3 1548.5,2265.8 1552.5,2265.4 1556.5,2264.9 1560.5,2264.4 1564.5,2263.9 1568.5,2263.3 1572.5,2262.8 1576.5,2262.3 1580.5,2261.8 1584.5,2261.3 1588.5,2260.8 1592.5,2260.4 1596.5,2260 1600.5,2259.7 1604.5,2259.4 1608.5,2259.1 1612.5,2258.9 1616.5,2258.8 1620.5,2258.7 1624.5,2258.7 1628.5,2258.8 1632.5,2258.9 1636.5,2259.1 1640.5,2259.3 1644.5,2259.6 1648.5,2260 1652.5,2260.4 1656.5,2260.8 1660.5,2261.3 1664.5,2261.8 1668.5,2262.3 1672.5,2262.8 1676.5,2263.4 1680.5,2263.9 1684.5,2264.5 1688.5,2265 1692.5,2265.5 1696.5,2266 1700.5,2266.5 1704.5,2267 1708.5,2267.4 1712.5,2267.8 1716.5,2268.2 1720.5,2268.5 1724.5,2268.9 1728.5,2269.2 1732.5,2269.4 1736.5,2269.7 1740.5,2269.9 1744.5,2270.1 1748.5,2270.2 1752.5,2270.4 1756.5,2270.5 1760.5,2270.6 1764.5,2270.7 1768.5,2270.8 1772.5,2270.9 1776.5,2271 1780.5,2271 1784.5,2271.1 1788.5,2271.1 1792.5,2271.2 1796.5,2271.2 1800.5,2271.2 1804.5,2271.2 1808.5,2271.3 1812.5,2271.3 1816.5,2271.3 1820.5,2271.3 1824.5,2271.3 1828.5,2271.3 1832.5,2271.4 1836.5,2271.4 1840.5,2271.4 1844.5,2271.4 1848.5,2271.4 1852.5,2271.4 1856.5,2271.4 1860.5,2271.5 1864.5,2271.5 1868.5,2271.5 1872.5,2271.5 1876.5,2271.5 1880.5,2271.5 1884.5,2271.5 1888.5,2271.5 1892.5,2271.6 1896.5,2271.6 1900.5,2271.6 1904.5,2271.6 1908.5,2271.6 1912.5,2271.6 1916.5,2271.6 1920.5,2271.6 1924.5,2271.6 1928.5,2271.7 1932.5,2271.7 1936.5,2271.7 1940.5,2271.7 1944.5,2271.7 1948.5,2271.7 1952.5,2271.7 1956.5,2271.8 1960,2271.8 1961,2271.8 1962,2271.8 1963,2271.8 1964,2271.8 1965,2271.8 1966,2271.8 1967,2271.8 1968,2271.8 1969,2271.8 1970,2271.8 1971,2271.8 1972,2271.8 1973,2271.9 1974,2271.9 1975,2271.9 1976,2271.9 1977,2271.9 1978,2271.9 1979,2271.9 1980,2271.9 1981,2271.9 1982,2271.9 1983,2271.9 1984,2272 1985,2272 1986,2272 1987,2272 1988,2272 1989,2272 1990,2272 1991,2272 1992,2272.1 1993,2272.1 1994,2272.1 1995,2272.1 1996,2272.1 1997,2272.1 1998,2272.2 1999,2272.2 2000,2272.2 2001,2272.2 2002,2272.3 2003,2272.3 2004,2272.3 2005,2272.4 2006,2272.4 2007,2272.4 2008,2272.5 2009,2272.5 2010,2272.5 2011,2272.6 2012,2272.6 2013,2272.7 2014,2272.7 2015,2272.8 2016,2272.8 2017,2272.9 2018,2272.9 2019,2273 2020,2273.1 2021,2273.1 2022,2273.2 2023,2273.3 2024,2273.4 2025,2273.5 2026,2273.5 2027,2273.6 2028,2273.7 2029,2273.8 2030,2273.9 2031,2274.1 2032,2274.2 2033,2274.3 2034,2274.4 2035,2274.6 2036,2274.7 2037,2274.8 2038,2275 2039,2275.1 2040,2275.3 2041,2275.4 2042,2275.6 2043,2275.8 2044,2276 2045,2276.1 2046,2276.3 2047,2276.5 2048,2276.7 2049,2276.9 2050,2277.1 2051,2277.3 2052,2277.5 2053,2277.7 2054,2277.9 2055,2278.1 2056,2278.4 2057,2278.6 2058,2278.8 2059,2279 2060,2279.2 2061,2279.4 2062,2279.7 2063,2279.9 2064,2280.1 2065,2280.3 2066,2280.5 2067,2280.7 2068,2280.9 2069,2281.1 2070,2281.3 2071,2281.5 2072,2281.6 2073,2281.8 2074,2282 2075,2282.2 2076,2282.3 2077,2282.5 2078,2282.6 2079,2282.8 2080,2282.9 2081,2283.1 2082,2283.2 2083,2283.3 2084,2283.5 2085,2283.6 2086,2283.7 2087,2283.8 2088,2283.9 2089,2284 2090,2284.1 2091,2284.2 2092,2284.3 2093,2284.4 2094,2284.5 2095,2284.5 2096,2284.6 2097,2284.7 2098,2284.7 2099,2284.8 2100,2284.9 2101,2284.9 2102,2285 2103,2285 2104,2285.1 2105,2285.1 2106,2285.1 2107,2285.2 2108,2285.2 2109,2285.3 2110,2285.3 2111,2285.3 2112,2285.4 2113,2285.4 2114,2285.4 2115,2285.5 2116,2285.5 2117,2285.5 2118,2285.5 2119,2285.5 2120,2285.6 2121,2285.6 2122,2285.6 2123,2285.6 2124,2285.6 2125,2285.7 2126,2285.7 2127,2285.7 2128,2285.7 2129,2285.7 2130,2285.7 2131,2285.7 2132,2285.7 2133,2285.8 2134,2285.8 2135,2285.8 2136,2285.8 2137,2285.8 2138,2285.8 2139,2285.8 2140,2285.8 2141,2285.8 2142,2285.8 2143,2285.8 2144,2285.9 2145,2285.9 2146,2285.9 2147,2285.9 2148,2285.9 2149,2285.9 2150,2285.9 2154,2285.9 2158,2285.9 2162,2286 2166,2286 2170,2286 2174,2286 2178,2286 2182,2286 2186,2286 2190,2286.1 2194,2286.1 2198,2286.1 2202,2286.1 2206,2286.1 2210,2286.1 2214,2286.1 2218,2286.1 2222,2286.1 2226,2286.2 2230,2286.2 2234,2286.2 2238,2286.2 2242,2286.2 2246,2286.2 2250,2286.2 2254,2286.2 2258,2286.3 2262,2286.3 2266,2286.3 2270,2286.3 2274,2286.3 2278,2286.3 2282,2286.3 2286,2286.3 2290,2286.4 2294,2286.4 2298,2286.4 2302,2286.4 2306,2286.4 2306.5,2286.4"/>
<polyline points="1512.5,2265.3 1516.5,2265.2 1520.5,2265.1 1524.5,2265 1528.5,2265 1532.5,2265 1536.5,2265 1540.5,2265 1544.5,2265 1548.5,2265.1 1552.5,2265.2 1556.5,2265.3 1560.5,2265.5 1564.5,2265.7 1568.5,2265.8 1572.5,2266 1576.5,2266.3 1580.5,2266.5 1584.5,2266.7 1588.5,2266.9 1592.5,2267.2 1596.5,2267.4 1600.5,2267.7 1604.5,2267.9 1608.5,2268.1 1612.5,2268.4 1616.5,2268.6 1620.5,2268.8 1624.5,2269 1628.5,2269.2 1632.5,2269.4 1636.5,2269.5 1640.5,2269.7 1644.5,2269.8 1648.5,2270 1652.5,2270.1 1656.5,2270.2 1660.5,2270.3 1664.5,2270.4 1668.5,2270.5 1672.5,2270.5 1676.5,2270.6 1680.5,2270.7 1684.5,2270.7 1688.5,2270.8 1692.5,2270.8 1696.5,2270.8 1700.5,2270.9 1704.5,2270.9 1708.5,2270.9 1712.5,2271 1716.5,2271 1720.5,2271 1724.5,2271 1728.5,2271 1732.5,2271.1 1736.5,2271.1 1740.5,2271.1 1744.5,2271.1 1748.5,2271.1 1752.5,2271.1 1756.5,2271.1 1760.5,2271.2 1764.5,2271.2 1768.5,2271.2 1772.5,2271.2 1776.5,2271.2 1780.5,2271.2 1784.5,2271.2 1788.5,2271.2 1792.5,2271.3 1796.5,2271.3 1800.5,2271.3 1804.5,2271.3 1808.5,2271.3 1812.5,2271.3 1816.5,2271.3 1820.5,2271.3 1824.5,2271.3 1828.5,2271.4 1832.5,2271.4 1836.5,2271.4 1840.5,2271.4 1844.5,2271.4 1848.5,2271.4 1852.5,2271.4 1856.5,2271.4 1860.5,2271.5 1864.5,2271.5 1868.5,2271.5 1872.5,2271.5 1876.5,2271.5 1880.5,2271.5 1884.5,2271.5 1888.5,2271.5 1892.5,2271.6 1896.5,2271.6 1900.5,2271.6 1904.5,2271.6 1908.5,2271.6 1912.5,2271.6 1916.5,2271.6 1920.5,2271.6 1924.5,2271.6 1928.5,2271.7 1932.5,2271.7 1936.5,2271.7 1940.5,2271.7 1944.5,2271.7 1948.5,2271.7 1952.5,2271.7 1956.5,2271.8 1960,2271.8 1961,2271.8 1962,2271.8 1963,2271.8 1964,2271.8 1965,2271.8 1966,2271.8 1967,2271.8 1968,2271.8 1969,2271.8 1970,2271.8 1971,2271.8 1972,2271.8 1973,2271.9 1974,2271.9 1975,2271.9 1976,2271.9 1977,2271.9 1978,2271.9 1979,2271.9 1980,2271.9 1981,2271.9 1982,2271.9 1983,2271.9 1984,2272 1985,2272 1986,2272 1987,2272 1988,2272 1989,2272 1990,2272 1991,2272 1992,2272.1 1993,2272.1 1994,2272.1 1995,2272.1 1996,2272.1 1997,2272.1 1998,2272.2 1999,2272.2 2000,2272.2 2001,2272.2 2002,2272.3 2003,2272.3 2004,2272.3 2005,2272.4 2006,2272.4 2007,2272.4 2008,2272.5 2009,2272.5 2010,2272.5 2011,2272.6 2012,2272.6 2013,2272.7 2014,2272.7 2015,2272.8 2016,2272.8 2017,2272.9 2018,2272.9 2019,2273 2020,2273.1 2021,2273.1 2022,2273.2 2023,2273.3 2024,2273.4 2025,2273.5 2026,2273.5 2027,2273.6 2028,2273.7 2029,2273.8 2030,2273.9 2031,2274.1 2032,2274.2 2033,2274.3 2034,2274.4 2035,2274.6 2036,2274.7 2037,2274.8 2038,2275 2039,2275.1 2040,2275.3 2041,2275.4 2042,2275.6 2043,2275.8 2044,2276 2045,2276.1 2046,2276.3 2047,2276.5 2048,2276.7 2049,2276.9 2050,2277.1 2051,2277.3 2052,2277.5 2053,2277.7 2054,2277.9 2055,2278.1 2056,2278.4 2057,2278.6 2058,2278.8 2059,2279 2060,2279.2 2061,2279.4 2062,2279.7 2063,2279.9 2064,2280.1 2065,2280.3 2066,2280.5 2067,2280.7 2068,2280.9 2069,2281.1 2070,2281.3 2071,2281.5 2072,2281.6 2073,2281.8 2074,2282 2075,2282.2 2076,2282.3 2077,2282.5 2078,2282.6 2079,2282.8 2080,2282.9 2081,2283.1 2082,2283.2 2083,2283.3 2084,2283.5 2085,2283.6 2086,2283.7 2087,2283.8 2088,2283.9 2089,2284 2090,2284.1 2091,2284.2 2092,2284.3 2093,2284.4 2094,2284.5 2095,2284.5 2096,2284.6 2097,2284.7 2098,2284.7 2099,2284.8 2100,2284.9 2101,2284.9 2102,2285 2103,2285 2104,2285.1 2105,2285.1 2106,2285.1 2107,2285.2 2108,2285.2 2109,2285.3 2110,2285.3 2111,2285.3 2112,2285.4 2113,2285.4 2114,2285.4 2115,2285.5 2116,2285.5 2117,2285.5 2118,2285.5 2119,2285.5 2120,2285.6 2121,2285.6 2122,2285.6 2123,2285.6 2124,2285.6 2125,2285.7 2126,2285.7 2127,2285.7 2128,2285.7 2129,2285.7 2130,2285.7 2131,2285.7 2132,2285.7 2133,2285.8 2134,2285.8 2135,2285.8 2136,2285.8 2137,2285.8 2138,2285.8 2139,2285.8 2140,2285.8 2141,2285.8 2142,2285.8 2143,2285.8 2144,2285.9 2145,2285.9 2146,2285.9 2147,2285.9 2148,2285.9 2149,2285.9 2150,2285.9 2154,2285.9 2158,2285.9 2162,2286 2166,2286 2170,2286 2174,2286 2178,2286 2182,2286 2186,2286 2190,2286.1 2194,2286.1 2198,2286.1 2202,2286.1 2206,2286.1 2210,2286.1 2214,2286.1 2218,2286.1 2222,2286.1 2226,2286.2 2230,2286.2 2234,2286.2 2238,2286.2 2242,2286.2 2246,2286.2 2250,2286.2 2254,2286.2 2258,2286.3 2262,2286.3 2266,2286.3 2270,2286.3 2274,2286.3 2278,2286.3 2282,2286.3 2286,2286.3 2290,2286.4 2294,2286.4 2298,2286.4 2302,2286.4 2306,2286.4 2306.5,2286.4"/>
</g>
<polyline fill="none" stroke="#000" stroke-width="4.5" points="1512.5,2271.4 1516.5,2271.4 1520.5,2271.4 1524.5,2271.5 1528.5,2271.5 1532.5,2271.5 1536.5,2271.5 1540.5,2271.5 1544.5,2271.5 1548.5,2271.5 1552.5,2271.5 1556.5,2271.6 1560.5,2271.6 1564.5,2271.6 1568.5,2271.6 1572.5,2271.6 1576.5,2271.6 1580.5,2271.6 1584.5,2271.6 1588.5,2271.6 1592.5,2271.7 1596.5,2271.7 1600.5,2271.7 1604.5,2271.7 1608.5,2271.7 1612.5,2271.7 1616.5,2271.7 1620.5,2271.7 1624.5,2271.8 1628.5,2271.8 1632.5,2271.8 1636.5,2271.8 1640.5,2271.8 1644.5,2271.8 1648.5,2271.8 1652.5,2271.8 1656.5,2271.9 1660.5,2271.9 1664.5,2271.9 1668.5,2271.9 1672.5,2271.9 1676.5,2271.9 1680.5,2271.9 1684.5,2271.9 1688.5,2271.9 1692.5,2272 1696.5,2272 1700.5,2272 1704.5,2272 1708.5,2272 1712.5,2272 1716.5,2272 1720.5,2272 1724.5,2272.1 1728.5,2272.1 1732.5,2272.1 1736.5,2272.1 1740.5,2272.1 1744.5,2272.1 1748.5,2272.1 1752.5,2272.1 1756.5,2272.1 1760.5,2272.2 1764.5,2272.2 1768.5,2272.2 1772.5,2272.2 1776.5,2272.2 1780.5,2272.2 1784.5,2272.2 1788.5,2272.2 1792.5,2272.3 1796.5,2272.3 1800.5,2272.3 1804.5,2272.3 1808.5,2272.3 1812.5,2272.3 1816.5,2272.3 1820.5,2272.3 1824.5,2272.3 1828.5,2272.4 1832.5,2272.4 1836.5,2272.4 1840.5,2272.4 1844.5,2272.4 1848.5,2272.4 1852.5,2272.4 1856.5,2272.4 1860.5,2272.5 1864.5,2272.5 1868.5,2272.5 1872.5,2272.5 1876.5,2272.5 1880.5,2272.5 1884.5,2272.5 1888.5,2272.5 1892.5,2272.6 1896.5,2272.6 1900.5,2272.6 1904.5,2272.6 1908.5,2272.6 1912.5,2272.6 1916.5,2272.6 1920.5,2272.6 1924.5,2272.6 1928.5,2272.7 1932.5,2272.7 1936.5,2272.7 1940.5,2272.7 1944.5,2272.7 1948.5,2272.7 1952.5,2272.7 1956.5,2272.8 1960,2272.8 1961,2272.8 1962,2272.8 1963,2272.8 1964,2272.8 1965,2272.8 1966,2272.8 1967,2272.8 1968,2272.8 1969,2272.8 1970,2272.8 1971,2272.8 1972,2272.8 1973,2272.9 1974,2272.9 1975,2272.9 1976,2272.9 1977,2272.9 1978,2272.9 1979,2272.9 1980,2272.9 1981,2272.9 1982,2272.9 1983,2272.9 1984,2273 1985,2273"/>
<polyline fill="none" stroke="#a32d2d" stroke-width="5" stroke-linejoin="round" points="1364.5,2269.8 1368.5,2269.8 1372.5,2269.8 1376.5,2269.8 1380.5,2269.8 1384.5,2269.7 1388.5,2269.7 1392.5,2269.7 1396.5,2269.6 1400.5,2269.6 1404.5,2269.5 1408.5,2269.5 1412.5,2269.4 1416.5,2269.3 1420.5,2269.2 1424.5,2269.1 1428.5,2269 1432.5,2268.9 1436.5,2268.7 1440.5,2268.6 1444.5,2268.4 1448.5,2268.2 1452.5,2268 1456.5,2267.8 1460.5,2267.6 1464.5,2267.4 1468.5,2267.1 1472.5,2266.8 1476.5,2266.6 1480.5,2266.3 1484.5,2266 1488.5,2265.7 1492.5,2265.3 1496.5,2265 1500.5,2264.7 1504.5,2264.3 1508.5,2264 1512.5,2263.6 1516.5,2263.2 1520.5,2262.9 1524.5,2262.5 1528.5,2262.1 1532.5,2261.8 1536.5,2261.4 1540.5,2261 1544.5,2260.6 1548.5,2260.2 1552.5,2259.8 1556.5,2259.5 1560.5,2259.1 1564.5,2258.7 1568.5,2258.4 1572.5,2258 1576.5,2257.7 1580.5,2257.4 1584.5,2257.1 1588.5,2256.9 1592.5,2256.6 1596.5,2256.5 1600.5,2256.3 1604.5,2256.2 1608.5,2256.1 1612.5,2256.1 1616.5,2256.2 1620.5,2256.2 1624.5,2256.4 1628.5,2256.5 1632.5,2256.8 1636.5,2257 1640.5,2257.3 1644.5,2257.6 1648.5,2258 1652.5,2258.3 1656.5,2258.7 1660.5,2259.1 1664.5,2259.5 1668.5,2259.9 1672.5,2260.2 1676.5,2260.6 1680.5,2260.9 1684.5,2261.2 1688.5,2261.5 1692.5,2261.8 1696.5,2262 1700.5,2262.2 1704.5,2262.3 1708.5,2262.4 1712.5,2262.5 1716.5,2262.6 1720.5,2262.6 1724.5,2262.6 1728.5,2262.6 1732.5,2262.6 1736.5,2262.6 1740.5,2262.5 1744.5,2262.5 1748.5,2262.4 1752.5,2262.4 1756.5,2262.3 1760.5,2262.2 1764.5,2262.2 1768.5,2262.2 1772.5,2262.1 1776.5,2262.1 1780.5,2262 1784.5,2261.9 1788.5,2261.9 1792.5,2261.8 1796.5,2261.7 1800.5,2261.5 1804.5,2261.4 1808.5,2261.2 1812.5,2261 1816.5,2260.8 1820.5,2260.5 1824.5,2260.2 1828.5,2259.9 1832.5,2259.5 1836.5,2259.1 1840.5,2258.6 1844.5,2258.2 1848.5,2257.6 1852.5,2257.1 1856.5,2256.5 1860.5,2255.9 1864.5,2255.2 1868.5,2254.5 1872.5,2253.8 1876.5,2253 1880.5,2252.2 1884.5,2251.4 1888.5,2250.5 1892.5,2249.7 1896.5,2248.8 1900.5,2248 1904.5,2247.1 1908.5,2246.3 1912.5,2245.5 1916.5,2244.7 1920.5,2244 1924.5,2243.3 1928.5,2242.6 1932.5,2241.9 1936.5,2241.2 1940.5,2240.4 1944.5,2239.6 1948.5,2238.7 1952.5,2237.7 1956.5,2236.6 1960,2235.5 1961,2235.1 1962,2234.8 1963,2234.4 1964,2234.1 1965,2233.7 1966,2233.3 1967,2232.9 1968,2232.6 1969,2232.2 1970,2231.7 1971,2231.3 1972,2230.9 1973,2230.5 1974,2230 1975,2229.6 1976,2229.1 1977,2228.6 1978,2228.2 1979,2227.7 1980,2227.2 1981,2226.7 1982,2226.2 1983,2225.6 1984,2225.1 1985,2224.6 1986,2224 1987,2223.4 1988,2222.9 1989,2222.3 1990,2221.6 1991,2221 1992,2220.3 1993,2219.6 1994,2218.9 1995,2218.1 1996,2217.3 1997,2216.5 1998,2215.6 1999,2214.7 2000,2213.7 2001,2212.6 2002,2211.5 2003,2210.2 2004,2208.9 2005,2207.5 2006,2206 2007,2204.4 2008,2202.7 2009,2200.8 2010,2198.8 2011,2196.6 2012,2194.3 2013,2191.8 2014,2189.2 2015,2186.3 2016,2183.2 2017,2180 2018,2176.5 2019,2172.8 2020,2168.8 2021,2164.6 2022,2160.2 2023,2155.6 2024,2150.6 2025,2145.5 2026,2140 2027,2134.4 2028,2128.4 2029,2122.3 2030,2115.9 2031,2109.3 2032,2102.5 2033,2095.4 2034,2088.2 2035,2080.9 2036,2073.3 2037,2065.7 2038,2058 2039,2050.2 2040,2042.3 2041,2034.5 2042,2026.6 2043,2018.8 2044,2011.2 2045,2003.6 2046,1996.2 2047,1989 2048,1982.1 2049,1975.5 2050,1969.1 2051,1963.2 2052,1957.7 2053,1952.6 2054,1948.1 2055,1944 2056,1940.6 2057,1937.7 2058,1935.5 2059,1933.9 2060,1932.9 2061,1932.7 2062,1933.1 2063,1934.3 2064,1936.1 2065,1938.6 2066,1941.7 2067,1945.5 2068,1949.9 2069,1954.8 2070,1960.4 2071,1966.4 2072,1972.9 2073,1979.8 2074,1987.1 2075,1994.7 2076,2002.7 2077,2010.9 2078,2019.3 2079,2027.8 2080,2036.5 2081,2045.3 2082,2054.2 2083,2063.1 2084,2071.9 2085,2080.7 2086,2089.5 2087,2098.1 2088,2106.6 2089,2114.9 2090,2123 2091,2131 2092,2138.7 2093,2146.2 2094,2153.5 2095,2160.5 2096,2167.3 2097,2173.8 2098,2180 2099,2185.9 2100,2191.6 2101,2197 2102,2202.1 2103,2207 2104,2211.6 2105,2216 2106,2220.1 2107,2223.9 2108,2227.6 2109,2231 2110,2234.2 2111,2237.2 2112,2240 2113,2242.6 2114,2245.1 2115,2247.4 2116,2249.5 2117,2251.5 2118,2253.4 2119,2255.1 2120,2256.8 2121,2258.3 2122,2259.7 2123,2261 2124,2262.3 2125,2263.4 2126,2264.5 2127,2265.6 2128,2266.5 2129,2267.4 2130,2268.3 2131,2269.1 2132,2269.8 2133,2270.6 2134,2271.2 2135,2271.9 2136,2272.5 2137,2273.1 2138,2273.6 2139,2274.1 2140,2274.6 2141,2275.1 2142,2275.5 2143,2275.9 2144,2276.3 2145,2276.7 2146,2277.1 2147,2277.4 2148,2277.7 2149,2278 2150,2278.3 2154,2279.4 2158,2280.2 2162,2280.9 2166,2281.4 2170,2281.9 2174,2282.3 2178,2282.6 2182,2282.8 2186,2283 2190,2283.2 2194,2283.4 2198,2283.6 2202,2283.7 2206,2283.9 2210,2284 2214,2284.1 2218,2284.2 2222,2284.3 2226,2284.4 2230,2284.5 2234,2284.6 2238,2284.7 2242,2284.8 2246,2284.8 2250,2284.9 2254,2285 2258,2285 2262,2285.1 2266,2285.1 2270,2285.2 2274,2285.2 2278,2285.3 2282,2285.3 2286,2285.4 2290,2285.4 2294,2285.5 2298,2285.5 2302,2285.6 2306,2285.6 2306.5,2285.6"/>
<polyline fill="none" stroke="#2a0505" stroke-width="4.4" stroke-dasharray="4.5 6.5" points="1364.5,2269.8 1368.5,2269.8 1372.5,2269.8 1376.5,2269.8 1380.5,2269.8 1384.5,2269.7 1388.5,2269.7 1392.5,2269.7 1396.5,2269.6 1400.5,2269.6 1404.5,2269.5 1408.5,2269.5 1412.5,2269.4 1416.5,2269.3 1420.5,2269.2 1424.5,2269.1 1428.5,2269 1432.5,2268.9 1436.5,2268.7 1440.5,2268.6 1444.5,2268.4 1448.5,2268.2 1452.5,2268 1456.5,2267.8 1460.5,2267.6 1464.5,2267.4 1468.5,2267.1 1472.5,2266.8 1476.5,2266.6 1480.5,2266.3 1484.5,2266 1488.5,2265.7 1492.5,2265.3 1496.5,2265 1500.5,2264.7 1504.5,2264.3 1508.5,2264 1512.5,2263.6 1516.5,2263.2 1520.5,2262.9 1524.5,2262.5 1528.5,2262.1 1532.5,2261.8 1536.5,2261.4 1540.5,2261 1544.5,2260.6 1548.5,2260.2 1552.5,2259.8 1556.5,2259.5 1560.5,2259.1 1564.5,2258.7 1568.5,2258.4 1572.5,2258 1576.5,2257.7 1580.5,2257.4 1584.5,2257.1 1588.5,2256.9 1592.5,2256.6 1596.5,2256.5 1600.5,2256.3 1604.5,2256.2 1608.5,2256.1 1612.5,2256.1 1616.5,2256.2 1620.5,2256.2 1624.5,2256.4 1628.5,2256.5 1632.5,2256.8 1636.5,2257 1640.5,2257.3 1644.5,2257.6 1648.5,2258 1652.5,2258.3 1656.5,2258.7 1660.5,2259.1 1664.5,2259.5 1668.5,2259.9 1672.5,2260.2 1676.5,2260.6 1680.5,2260.9 1684.5,2261.2 1688.5,2261.5 1692.5,2261.8 1696.5,2262 1700.5,2262.2 1704.5,2262.3 1708.5,2262.4 1712.5,2262.5 1716.5,2262.6 1720.5,2262.6 1724.5,2262.6 1728.5,2262.6 1732.5,2262.6 1736.5,2262.6 1740.5,2262.5 1744.5,2262.5 1748.5,2262.4 1752.5,2262.4 1756.5,2262.3 1760.5,2262.2 1764.5,2262.2 1768.5,2262.2 1772.5,2262.1 1776.5,2262.1 1780.5,2262 1784.5,2261.9 1788.5,2261.9 1792.5,2261.8 1796.5,2261.7 1800.5,2261.5 1804.5,2261.4 1808.5,2261.2 1812.5,2261 1816.5,2260.8 1820.5,2260.5 1824.5,2260.2 1828.5,2259.9 1832.5,2259.5 1836.5,2259.1 1840.5,2258.6 1844.5,2258.2 1848.5,2257.6 1852.5,2257.1 1856.5,2256.5 1860.5,2255.9 1864.5,2255.2 1868.5,2254.5 1872.5,2253.8 1876.5,2253 1880.5,2252.2 1884.5,2251.4 1888.5,2250.5 1892.5,2249.7 1896.5,2248.8 1900.5,2248 1904.5,2247.1 1908.5,2246.3 1912.5,2245.5 1916.5,2244.7 1920.5,2244 1924.5,2243.3 1928.5,2242.6 1932.5,2241.9 1936.5,2241.2 1940.5,2240.4 1944.5,2239.6 1948.5,2238.7 1952.5,2237.7 1956.5,2236.6 1960,2235.5 1961,2235.1 1962,2234.8 1963,2234.4 1964,2234.1 1965,2233.7 1966,2233.3 1967,2232.9 1968,2232.6 1969,2232.2 1970,2231.7 1971,2231.3 1972,2230.9 1973,2230.5 1974,2230 1975,2229.6 1976,2229.1 1977,2228.6 1978,2228.2 1979,2227.7 1980,2227.2 1981,2226.7 1982,2226.2 1983,2225.6 1984,2225.1 1985,2224.6 1986,2224 1987,2223.4 1988,2222.9 1989,2222.3 1990,2221.6 1991,2221 1992,2220.3 1993,2219.6 1994,2218.9 1995,2218.1 1996,2217.3 1997,2216.5 1998,2215.6 1999,2214.7 2000,2213.7 2001,2212.6 2002,2211.5 2003,2210.2 2004,2208.9 2005,2207.5 2006,2206 2007,2204.4 2008,2202.7 2009,2200.8 2010,2198.8 2011,2196.6 2012,2194.3 2013,2191.8 2014,2189.2 2015,2186.3 2016,2183.2 2017,2180 2018,2176.5 2019,2172.8 2020,2168.8 2021,2164.6 2022,2160.2 2023,2155.6 2024,2150.6 2025,2145.5 2026,2140 2027,2134.4 2028,2128.4 2029,2122.3 2030,2115.9 2031,2109.3 2032,2102.5 2033,2095.4 2034,2088.2 2035,2080.9 2036,2073.3 2037,2065.7 2038,2058 2039,2050.2 2040,2042.3 2041,2034.5 2042,2026.6 2043,2018.8 2044,2011.2 2045,2003.6 2046,1996.2 2047,1989 2048,1982.1 2049,1975.5 2050,1969.1 2051,1963.2 2052,1957.7 2053,1952.6 2054,1948.1 2055,1944 2056,1940.6 2057,1937.7 2058,1935.5 2059,1933.9 2060,1932.9 2061,1932.7 2062,1933.1 2063,1934.3 2064,1936.1 2065,1938.6 2066,1941.7 2067,1945.5 2068,1949.9 2069,1954.8 2070,1960.4 2071,1966.4 2072,1972.9 2073,1979.8 2074,1987.1 2075,1994.7 2076,2002.7 2077,2010.9 2078,2019.3 2079,2027.8 2080,2036.5 2081,2045.3 2082,2054.2 2083,2063.1 2084,2071.9 2085,2080.7 2086,2089.5 2087,2098.1 2088,2106.6 2089,2114.9 2090,2123 2091,2131 2092,2138.7 2093,2146.2 2094,2153.5 2095,2160.5 2096,2167.3 2097,2173.8 2098,2180 2099,2185.9 2100,2191.6 2101,2197 2102,2202.1 2103,2207 2104,2211.6 2105,2216 2106,2220.1 2107,2223.9 2108,2227.6 2109,2231 2110,2234.2 2111,2237.2 2112,2240 2113,2242.6 2114,2245.1 2115,2247.4 2116,2249.5 2117,2251.5 2118,2253.4 2119,2255.1 2120,2256.8 2121,2258.3 2122,2259.7 2123,2261 2124,2262.3 2125,2263.4 2126,2264.5 2127,2265.6 2128,2266.5 2129,2267.4 2130,2268.3 2131,2269.1 2132,2269.8 2133,2270.6 2134,2271.2 2135,2271.9 2136,2272.5 2137,2273.1 2138,2273.6 2139,2274.1 2140,2274.6 2141,2275.1 2142,2275.5 2143,2275.9 2144,2276.3 2145,2276.7 2146,2277.1 2147,2277.4 2148,2277.7 2149,2278 2150,2278.3 2154,2279.4 2158,2280.2 2162,2280.9 2166,2281.4 2170,2281.9 2174,2282.3 2178,2282.6 2182,2282.8 2186,2283 2190,2283.2 2194,2283.4 2198,2283.6 2202,2283.7 2206,2283.9 2210,2284 2214,2284.1 2218,2284.2 2222,2284.3 2226,2284.4 2230,2284.5 2234,2284.6 2238,2284.7 2242,2284.8 2246,2284.8 2250,2284.9 2254,2285 2258,2285 2262,2285.1 2266,2285.1 2270,2285.2 2274,2285.2 2278,2285.3 2282,2285.3 2286,2285.4 2290,2285.4 2294,2285.5 2298,2285.5 2302,2285.6 2306,2285.6 2306.5,2285.6"/>
<g font-family="'Liberation Sans', Arial, Helvetica, sans-serif" fill="#000">
<text transform="translate(48.1,156.1) scale(0.929,1)" font-size="148">a</text>
<text x="1238.6" y="154.8" font-size="150">b</text>
<text x="233.6" y="397.6" font-size="68.5" letter-spacing="3.12">deF-RT-4h</text>
<text x="234.2" y="809.8" font-size="68.5" letter-spacing="3.1">deF-RT-3m</text>
<text x="234" y="1221.6" font-size="68.5" letter-spacing="2.75">F-RT-4h</text>
<text x="234" y="1677.2" font-size="68.5" letter-spacing="2.65">F-RT-3m</text>
<text x="234" y="2071.6" font-size="68.5" letter-spacing="2.76">P-SWCNTs</text>
<text x="1395.6" y="397" font-size="68.5" letter-spacing="2.88">deF-RT-4h</text>
<text x="1395.6" y="809.8" font-size="68.5" letter-spacing="2.92">deF-RT-3m</text>
<text x="1395.4" y="1221.6" font-size="68.5" letter-spacing="2.78">F-RT-4h</text>
<text x="1395.4" y="1677.2" font-size="68.5" letter-spacing="2.78">F-RT-3m</text>
<text x="1395.4" y="2071.6" font-size="68.5" letter-spacing="2.77">P-SWCNTs</text>
<text x="117.3" y="2394.6" font-size="77" letter-spacing="3.15">800</text>
<text x="372" y="2394.6" font-size="77" letter-spacing="3.45">600</text>
<text x="625.2" y="2394.6" font-size="77" letter-spacing="3.55">400</text>
<text x="877.5" y="2394.6" font-size="77" letter-spacing="3.45">200</text>
<text x="1586" y="2394.5" font-size="77" letter-spacing="4.8">290</text>
<text x="1946.2" y="2394.5" font-size="77" letter-spacing="4.95">285</text>
<text x="254" y="2493" font-size="84.5" letter-spacing="3.47">Binding energy (eV)</text>
<text x="1432" y="2493" font-size="84.5" letter-spacing="3.42">Binding energy (eV)</text>
<text x="2121.5" y="2249.2" font-size="72">C</text>
<clipPath id="k1"><rect x="2174.1" y="2177.2" width="43.2" height="65.1"/><rect x="2193.7" y="2177.2" width="7.06" height="75.6"/></clipPath>
<text x="2176.1" y="2249.2" font-size="72" clip-path="url(#k1)">1</text>
<text x="2074.8" y="1968.3" font-size="72" letter-spacing="-2.1">C2</text>
<text x="1938.4" y="2106.9" font-size="72" letter-spacing="-3.8">C3</text>
<text x="1889.5" y="2167" font-size="72" letter-spacing="-3">C4</text>
<text x="1807.4" y="2227.4" font-size="72" letter-spacing="-3.6">C5</text>
<text x="1704.2" y="2248.8" font-size="72" letter-spacing="-2.9">C6</text>
<text x="1616.4" y="2227.1" font-size="72" letter-spacing="-1.3">C7</text>
<text x="1514.6" y="2245.8" font-size="72" letter-spacing="-1.8">C8</text>
<text transform="translate(103.2,1767) rotate(-90)" font-size="84" letter-spacing="3.8">Normalized intensity (a.u.)</text>
<text transform="translate(1297.7,1518) rotate(-90)" font-size="83" letter-spacing="3.9">Intensity (a.u.)</text>
<text transform="translate(2114.7,250) scale(0.99,1.053)" font-size="84">C</text>
<clipPath id="k2"><rect x="2200" y="166" width="50.4" height="76.2"/><rect x="2222.5" y="166" width="8.23" height="88.2"/></clipPath>
<text x="2202" y="250" font-size="84" clip-path="url(#k2)">1</text>
<text x="2251.6" y="250" font-size="84" font-style="italic">s</text>
<text transform="translate(795,1097.5) scale(0.95,1.06)" font-size="69">C</text>
<clipPath id="k3"><rect x="846.3" y="1079" width="18.6" height="27.18"/><rect x="855.9" y="1079" width="3.04" height="32.55"/></clipPath>
<text x="848.3" y="1110" font-size="31" clip-path="url(#k3)">1</text>
<text x="869" y="1110" font-size="31" font-style="italic">s</text>
<text x="303" y="1357.9" font-size="68">F</text>
<clipPath id="k4"><rect x="346.8" y="1337.4" width="20.4" height="29.95"/><rect x="357.1" y="1337.4" width="3.33" height="35.7"/></clipPath>
<text x="348.8" y="1371.4" font-size="34" clip-path="url(#k4)">1</text>
<text x="372" y="1371.4" font-size="34" font-style="italic">s</text>
<text x="489.5" y="1353.6" font-size="68">O</text>
<clipPath id="k5"><rect x="543.8" y="1334.5" width="20.4" height="29.95"/><rect x="554.1" y="1334.5" width="3.33" height="35.7"/></clipPath>
<text x="545.8" y="1368.5" font-size="34" clip-path="url(#k5)">1</text>
<text x="569" y="1368.5" font-size="34" font-style="italic">s</text>
<text x="1014" y="1430" font-size="68">S</text>
<text x="1063" y="1430" font-size="68">i</text>
<text x="1080" y="1444.8" font-size="34">2</text>
<text x="1104" y="1444.8" font-size="34">p</text>
</g>
</svg>
</body></html>
